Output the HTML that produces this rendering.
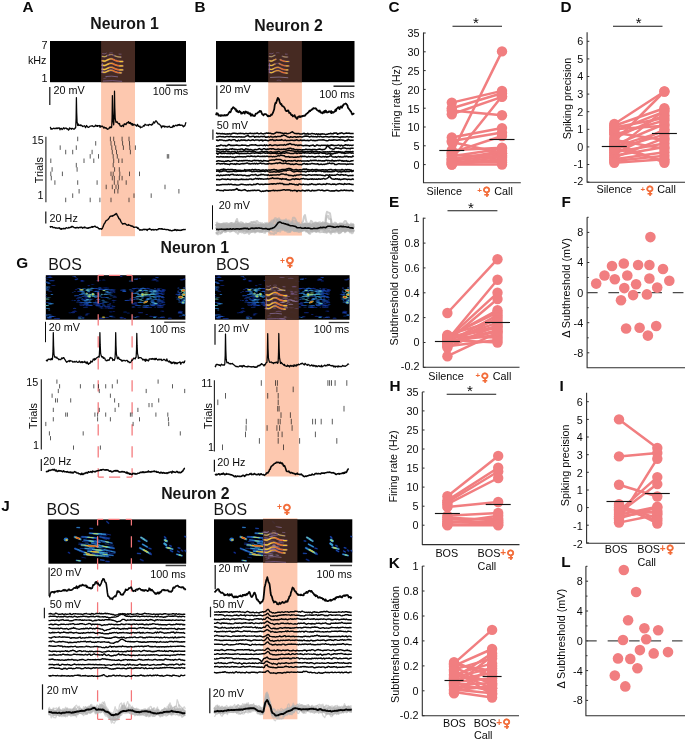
<!DOCTYPE html>
<html lang="en"><head><meta charset="utf-8"><title>Figure</title>
<style>html,body{margin:0;padding:0;background:#fff}svg{display:block}text{font-family:"Liberation Sans",Arial,Helvetica,sans-serif}text.fm{font-family:"DejaVu Sans","Liberation Sans",sans-serif}</style></head><body>
<svg width="685" height="739" viewBox="0 0 685 739">
<defs><filter id="b1" x="-10%" y="-10%" width="120%" height="120%"><feGaussianBlur stdDeviation="0.35"/></filter><filter id="b2" x="-5%" y="-5%" width="110%" height="110%"><feGaussianBlur stdDeviation="0.55"/></filter><filter id="b3" x="-5%" y="-5%" width="110%" height="110%"><feGaussianBlur stdDeviation="0.6"/></filter></defs>
<rect x="0" y="0" width="685" height="739" fill="#fff" />
<text x="22.6" y="11.7" font-size="15.3" font-weight="bold" text-anchor="start" fill="#0a0a0a" >A</text>
<text x="124.5" y="28.9" font-size="15.8" font-weight="bold" text-anchor="middle" fill="#161616" >Neuron 1</text>
<rect x="101.1" y="41" width="33.9" height="195.2" fill="#fdc8af" />
<rect x="50" y="41" width="136" height="41.2" fill="#000" />
<rect x="101.1" y="41" width="33.9" height="41.2" fill="#462a22" />
<g filter="url(#b1)" opacity="1.0">
<path d="M102.6,53.6 103.5,53.7 104.5,53.8 105.4,53.6 106.3,53.2" fill="none" stroke="#9a7cc0" stroke-width="0.7" stroke-linecap="round" opacity="0.75"/>
<path d="M119,54.1 120,54.2 121.1,54.2" fill="none" stroke="#9a7cc0" stroke-width="0.7" stroke-linecap="round" opacity="0.7"/>
<path d="M109.6,52.9 110.5,52.7 111.5,52.7 112.5,52.9" fill="none" stroke="#8a70b0" stroke-width="0.6" stroke-linecap="round" opacity="0.6"/>
<path d="M102.2,56.4 103.1,56.5 103.9,56.7 104.8,56.7 105.6,56.4 106.5,56 107.3,55.6 108.2,55.2 109.1,54.9 109.9,54.6 110.8,54.5 111.6,54.5 112.5,54.7 113.3,55.1 114.2,55.5 115.1,55.9 115.9,56.3 116.8,56.5 117.6,56.7 118.5,56.9 119.3,57 120.2,57.1 121.1,57.1" fill="none" stroke="#8a6cb0" stroke-width="1.6" stroke-linecap="round" opacity="0.55"/>
<path d="M102.6,56.5 103.6,56.6 104.7,56.7 105.7,56.4 106.7,55.9" fill="none" stroke="#e6c63c" stroke-width="1.0" stroke-linecap="round" opacity="0.95"/>
<path d="M109.2,54.8 110.3,54.6 111.4,54.5 112.5,54.7" fill="none" stroke="#d9a83a" stroke-width="0.8" stroke-linecap="round" opacity="0.8"/>
<path d="M114.9,55.9 115.9,56.2 116.8,56.5 117.8,56.8 118.7,56.9 119.7,57 120.7,57.1" fill="none" stroke="#e8c840" stroke-width="0.9" stroke-linecap="round" opacity="0.9"/>
<path d="M102.2,60.8 103.1,60.9 103.9,61.1 104.8,61.1 105.6,60.8 106.5,60.4 107.3,60 108.2,59.6 109,59.3 109.9,59 110.7,58.9 111.6,58.9 112.5,59.1 113.3,59.5 114.2,59.9 115,60.3 115.9,60.6 116.7,60.9 117.6,61.1 118.4,61.3 119.3,61.4 120.1,61.5 121,61.5 121.8,61.5 122.7,61.5" fill="none" stroke="#7a5aa8" stroke-width="2.2" stroke-linecap="round" opacity="0.55"/>
<path d="M102.2,60.8 103.1,60.9 103.9,61.1 104.8,61.1 105.6,60.8 106.5,60.4 107.3,60 108.2,59.6 109,59.3 109.9,59 110.7,58.9 111.6,58.9 112.5,59.1 113.3,59.5 114.2,59.9 115,60.3 115.9,60.6 116.7,60.9 117.6,61.1 118.4,61.3 119.3,61.4 120.1,61.5 121,61.5 121.8,61.5 122.7,61.5" fill="none" stroke="#eea22c" stroke-width="1.35" stroke-linecap="round" opacity="1.0"/>
<path d="M103,60.9 103.9,61.1 104.8,61.1 105.7,60.8 106.6,60.3 107.5,59.9 108.4,59.6" fill="none" stroke="#f6dc3e" stroke-width="0.9" stroke-linecap="round" opacity="1.0"/>
<path d="M112.9,59.3 113.7,59.7 114.6,60.1 115.5,60.5 116.4,60.8 117.3,61.1 118.1,61.2 119,61.4" fill="none" stroke="#e8502a" stroke-width="0.85" stroke-linecap="round" opacity="1.0"/>
<path d="M119.8,61.5 121.1,61.5 122.3,61.5" fill="none" stroke="#f4d43c" stroke-width="0.8" stroke-linecap="round" opacity="1.0"/>
<path d="M102.2,65.2 103.1,65.3 103.9,65.5 104.8,65.5 105.6,65.2 106.5,64.8 107.3,64.4 108.2,64 109,63.7 109.9,63.4 110.7,63.3 111.6,63.3 112.5,63.5 113.3,63.9 114.2,64.3 115,64.7 115.9,65 116.7,65.3 117.6,65.5 118.4,65.7 119.3,65.8 120.1,65.9 121,65.9 121.8,65.9 122.7,65.9" fill="none" stroke="#7a5aa8" stroke-width="2.2" stroke-linecap="round" opacity="0.55"/>
<path d="M102.2,65.2 103.1,65.3 103.9,65.5 104.8,65.5 105.6,65.2 106.5,64.8 107.3,64.4 108.2,64 109,63.7 109.9,63.4 110.7,63.3 111.6,63.3 112.5,63.5 113.3,63.9 114.2,64.3 115,64.7 115.9,65 116.7,65.3 117.6,65.5 118.4,65.7 119.3,65.8 120.1,65.9 121,65.9 121.8,65.9 122.7,65.9" fill="none" stroke="#eea22c" stroke-width="1.35" stroke-linecap="round" opacity="1.0"/>
<path d="M103,65.3 103.9,65.5 104.8,65.5 105.7,65.2 106.6,64.7 107.5,64.3 108.4,64" fill="none" stroke="#f6dc3e" stroke-width="0.9" stroke-linecap="round" opacity="1.0"/>
<path d="M112.9,63.7 113.7,64.1 114.6,64.5 115.5,64.9 116.4,65.2 117.3,65.5 118.1,65.6 119,65.8" fill="none" stroke="#e8502a" stroke-width="0.85" stroke-linecap="round" opacity="1.0"/>
<path d="M119.8,65.9 121.1,65.9 122.3,65.9" fill="none" stroke="#f4d43c" stroke-width="0.8" stroke-linecap="round" opacity="1.0"/>
<path d="M102.2,69.2 103.1,69.3 103.9,69.5 104.8,69.5 105.6,69.2 106.5,68.8 107.3,68.4 108.2,68 109,67.7 109.9,67.4 110.7,67.3 111.6,67.3 112.5,67.5 113.3,67.9 114.2,68.3 115,68.7 115.9,69 116.7,69.3 117.6,69.5 118.4,69.7 119.3,69.8 120.1,69.9 121,69.9 121.8,69.9 122.7,69.9" fill="none" stroke="#7a5aa8" stroke-width="2.2" stroke-linecap="round" opacity="0.55"/>
<path d="M102.2,69.2 103.1,69.3 103.9,69.5 104.8,69.5 105.6,69.2 106.5,68.8 107.3,68.4 108.2,68 109,67.7 109.9,67.4 110.7,67.3 111.6,67.3 112.5,67.5 113.3,67.9 114.2,68.3 115,68.7 115.9,69 116.7,69.3 117.6,69.5 118.4,69.7 119.3,69.8 120.1,69.9 121,69.9 121.8,69.9 122.7,69.9" fill="none" stroke="#eea22c" stroke-width="1.35" stroke-linecap="round" opacity="0.95"/>
<path d="M103,69.3 103.9,69.5 104.8,69.5 105.7,69.2 106.6,68.7 107.5,68.3 108.4,68" fill="none" stroke="#f6dc3e" stroke-width="0.9" stroke-linecap="round" opacity="0.95"/>
<path d="M112.9,67.7 113.7,68.1 114.6,68.5 115.5,68.9 116.4,69.2 117.3,69.5 118.1,69.6 119,69.8" fill="none" stroke="#e8502a" stroke-width="0.85" stroke-linecap="round" opacity="0.95"/>
<path d="M119.8,69.9 121.1,69.9 122.3,69.9" fill="none" stroke="#f4d43c" stroke-width="0.8" stroke-linecap="round" opacity="0.95"/>
<path d="M102.2,72.1 103.1,72.2 103.9,72.4 104.8,72.4 105.7,72.1 106.5,71.6 107.4,71.3 108.3,70.9 109.1,70.6 110,70.3 110.9,70.2 111.7,70.3 112.6,70.5 113.5,70.9 114.3,71.3 115.2,71.7 116.1,72 116.9,72.3 117.8,72.5 118.7,72.6 119.5,72.7 120.4,72.8 121.3,72.8" fill="none" stroke="#7a5aa8" stroke-width="2.2" stroke-linecap="round" opacity="0.55"/>
<path d="M102.2,72.1 103.1,72.2 103.9,72.4 104.8,72.4 105.7,72.1 106.5,71.6 107.4,71.3 108.3,70.9 109.1,70.6 110,70.3 110.9,70.2 111.7,70.3 112.6,70.5 113.5,70.9 114.3,71.3 115.2,71.7 116.1,72 116.9,72.3 117.8,72.5 118.7,72.6 119.5,72.7 120.4,72.8 121.3,72.8" fill="none" stroke="#eea22c" stroke-width="1.35" stroke-linecap="round" opacity="0.85"/>
<path d="M103,72.2 103.9,72.4 104.8,72.4 105.7,72.1 106.6,71.6 107.5,71.2 108.4,70.9" fill="none" stroke="#f6dc3e" stroke-width="0.9" stroke-linecap="round" opacity="0.85"/>
<path d="M112.9,70.6 113.7,71 114.6,71.4 115.5,71.8 116.4,72.1 117.3,72.4 118.1,72.5 119,72.7" fill="none" stroke="#e8502a" stroke-width="0.85" stroke-linecap="round" opacity="0.85"/>
<path d="M119.8,72.8 120.3,72.8 120.9,72.8" fill="none" stroke="#f4d43c" stroke-width="0.8" stroke-linecap="round" opacity="0.85"/>
<path d="M105.9,76.5Q111.7,75.6 117.6,76.8" fill="none" stroke="#a088c8" stroke-width="0.7" stroke-linecap="round" opacity="0.8"/>
<path d="M103.8,78.5 105.1,78.4 106.3,77.9" fill="none" stroke="#8468b0" stroke-width="0.6" stroke-linecap="round" opacity="0.6"/>
<path d="M103.4,81Q112.6,80.1 121.7,81.3" fill="none" stroke="#9276c0" stroke-width="0.8" stroke-linecap="round" opacity="0.7"/>
<path d="M102.4,63 L102.2,73" stroke="#8a72c0" stroke-width="1" opacity="0.65"/>
</g>
<text x="47.5" y="48.6" font-size="10.8" font-weight="normal" text-anchor="end" fill="#0a0a0a" >7</text>
<text x="46.5" y="63.5" font-size="10.8" font-weight="normal" text-anchor="end" fill="#0a0a0a" >kHz</text>
<text x="47.5" y="81.5" font-size="10.8" font-weight="normal" text-anchor="end" fill="#0a0a0a" >1</text>
<line x1="49.8" y1="87" x2="49.8" y2="105" stroke="#111" stroke-width="1.2" />
<text x="53.5" y="94.3" font-size="10.8" font-weight="normal" text-anchor="start" fill="#0a0a0a" >20 mV</text>
<text x="188.2" y="95.3" font-size="10.8" font-weight="normal" text-anchor="end" fill="#0a0a0a" >100 ms</text>
<line x1="166.2" y1="85.2" x2="186.5" y2="85.2" stroke="#222" stroke-width="1.4" />
<path d="M50,127.7l.5-.3 .5,1.9 .5-.6 .5,.2 .5,.1 .5-.5 .5-.3 .5,.1 .5,.4 .5-.3 .5,.3 .5-.6 .5,.5 .5-.6 .5,.6 .5-.6 .5-.1 .5,.5 .5-.5 .5,2 .5-1.4 .5,.1 .5-.3 .5,1.3 .5-.4 .5-.4 .5-1.1 .5,.3 .5,.8 .5-.5 .5-.2 .5-.1 .5,.5 .5,.5 .5-.3 .5,.5 .5,.9 .5-.6 .5-1.6 .5,.9 .5-.4 .5,0 .5,.9 .5-1 .5,.1 .5,.4 .5,0 .5,.5 .5-.3 .5-1.1 .5,.2 .2-.8 .4-8.9 .3-20.8 .3,14.8 .4,9.8 .6,3.3 .3-.4 .5-1.1 .5,1.5 .5-.1 .5,.1 .5-.7 .5,1 .5-.6 .5,.3 .5,.9 .5,.2 .5-.5 .5-.1 .5-.3 .5,.9 .5,1.1 .5-.8 .5-1.4 .5,.6 .5,.6 .5,.6 .5,.1 .5-.5 .5-.1 .5-.7 .5,0 .5,0 .5-.3 .5,.2 .5-.3 .5,.5 .5,.5 .5-.1 .5-.2 .5-.3 .5-1 .5,.7 .5,.3 .5-.7 .5,1 .5-.8 .5,.2 .5,0 .5-.3 .5,1.9 .5-1.6 .5,1 .5-.6 .5,.3 .5-.4 .5,.6 .5,1.1 .5,.4 .5-1.1 .5,.5 .5,.6 .5-.6 .5,1.1 .5-.1 .5,.7 .5-.3 .5-.1 .5-.4 .5-1.4 .5,.8 .5-1.1 .5,.6 .5,.2 .2-.9 .4-9.4 .3-21.7 .3,15.5 .4,10.3 .6,3.4 .1-1.1 .4-9.8 .3-22.7 .3,16.2 .4,10.7 .6,3.6 .2,.6 .5-.2 .5-.5 .5,.8 .5,.9 .5,.3 .5,.4 .5-.6 .5,2.2 .5,.3 .5,.4 .5,.2 .5-1 .5-.3 .5,.6 .5,.8 .5-2.4 .5,.2 .5-.7 .5,.7 .5,.3 .5-1.2 .5-.9 .5,.3 .5-.4 .5-.9 .5,1.7 .5-.8 .5,.8 .5-.8 .5,1.7 .5-.7 .5,1.6 .5-1.4 .5,1.6 .5-.7 .5-.4 .5,.5 .5,.4 .5-.2 .5,.6 .5,.6 .5-.3 .5-1.5 .5,1.3 .5,.7 .5-.1 .5,.7 .5-.8 .5,1.7 .5-.5 .5-.2 .5,0 .5-.1 .5-.7 .5-.8 .5,.7 .5-.4 .5-1.7 .5,.5 .5,.4 .5,.1 .5-.1 .5,.2 .5-.3 .5,.6 .5-1.1 .5,0 .5,.2 .5,.1 .5,.2 .5,.3 .5-1.1 .5,.4 .5-.9 .5-1.8 .5,.1 .5,1.2 .5-.9 .5-.7 .5-.9 .5,1.3 .5,0 .5,.6 .5,1.4 .5,0 .5,.3 .5-.1 .5,.7 .5,.9 .5,.2 .5,2 .5-1.6 .5-.4 .5,.8 .5-.4 .5-.5 .5,1.3 .5-.4 .5-.4 .5,.7 .5,0 .5-.7 .5,.9 .5,0 .5-.7 .5-.3 .5,0 .5,1 .5,.3 .5-.2 .5,.1 .5,.1 .5-1.3 .5,.7 .5-1.5 .5,1.2 .5-.3 .5-.6 .5-.3 .5-.2 .5,.3 .5,.4 .5-1 .5,.4 .5-.7 .5,.6 .5-.9 .5,1.1 .5-.3 .5,.3 .5-.3 .5,0 .5,.4 .5,.9 .5,.4 .5-1.1 .5,.5 .5-.8 .5-1.8 .5-1.4" fill="none" stroke="#050505" stroke-width="1.25" stroke-linejoin="round" />
<line x1="45.9" y1="136.8" x2="45.9" y2="202.2" stroke="#222" stroke-width="1.1" />
<text x="43.8" y="144.3" font-size="10.8" font-weight="normal" text-anchor="end" fill="#0a0a0a" >15</text>
<text x="43.6" y="199.3" font-size="10.8" font-weight="normal" text-anchor="end" fill="#0a0a0a" >1</text>
<text transform="translate(43.2,170.2) rotate(-90)" font-size="10.8" text-anchor="middle" fill="#0a0a0a">Trials</text>
<path d="M77.7,136.7v4.5M110.4,136.7v4.5M113.7,136.7v4.5M122.1,136.7v4.5M129,136.7v4.5M95.7,141.1v4.5M111,141.1v4.5M114.6,141.1v4.5M122.6,141.1v4.5M129.5,141.1v4.5M60.2,145.4v4.5M76.3,145.4v4.5M111.8,145.4v4.5M115.7,145.4v4.5M123.4,145.4v4.5M129.8,145.4v4.5M135.4,145.4v4.5M65.7,149.8v4.5M72.7,149.8v4.5M92.1,149.8v4.5M112.3,149.8v4.5M116.5,149.8v4.5M130.4,149.8v4.5M90.2,154.1v4.5M98.5,154.1v4.5M113.2,154.1v4.5M117.3,154.1v4.5M167.3,154.1v4.5M168.7,154.1v4.5M50.8,158.5v4.5M84,158.5v4.5M93.8,158.5v4.5M113.7,158.5v4.5M118.7,158.5v4.5M122.1,158.5v4.5M76.3,162.9v4.5M113.2,162.9v4.5M52.1,167.2v4.5M77.1,167.2v4.5M114.6,167.2v4.5M119.3,167.2v4.5M50.8,171.6v4.5M62.4,171.6v4.5M111,171.6v4.5M113.2,171.6v4.5M119.8,171.6v4.5M129.5,171.6v4.5M139.5,171.6v4.5M51.3,175.9v4.5M112.3,175.9v4.5M114.3,175.9v4.5M119.3,175.9v4.5M122.1,175.9v4.5M54.9,180.3v4.5M77.7,180.3v4.5M97.1,180.3v4.5M114.3,180.3v4.5M117.9,180.3v4.5M126.2,180.3v4.5M106.2,184.7v4.5M112.3,184.7v4.5M116,184.7v4.5M118.4,184.7v4.5M165,184.7v4.5M79.1,189v4.5M114.6,189v4.5M117.9,189v4.5M178.9,189v4.5M72.7,193.4v4.5M134,193.4v4.5M151.2,193.4v4.5M65.7,197.7v4.5M90.2,197.7v4.5M99.9,197.7v4.5M111,197.7v4.5M129,197.7v4.5" stroke="#151515" stroke-width="0.7" fill="none"/>
<line x1="45.8" y1="211.5" x2="45.8" y2="223.5" stroke="#111" stroke-width="1.2" />
<text x="49.6" y="221.5" font-size="10.8" font-weight="normal" text-anchor="start" fill="#0a0a0a" >20 Hz</text>
<path d="M50,226.1l.6,1.1 .6-.5 .6-.1 .6,0 .6,.9 .6,.1 .6,0 .6-.2 .6,.7 .6-.2 .6,.1 .6,.2 .6-.1 .6-.1 .6,.2 .6-.4 .6,1.2 .6-.2 .6,.4 .6-.7 .6,.4 .6,0 .6-.6 .6,.2 .6,.4 .6-.6 .6-.7 .6,.3 .6,.2 .6,0 .6-.7 .6,.5 .6-.2 .6-.5 .6,.1 .6-.9 .6,.4 .6-.4 .6,.6 .6,.5 .6,.1 .6,.4 .6-.3 .6,.2 .6-.5 .6,.1 .6,.5 .6-.3 .6-.2 .6-.2 .6,.3 .6-.4 .6,0 .6,1 .6-.4 .6-.3 .6,.2 .6-.6 .6,.5 .6,.3 .6,0 .6,.4 .6-.3 .6,.2 .6-.6 .6,.1 .6-.4 .6,.2 .6-.4 .6-.5 .6,.6 .6-.6 .6,.1 .6-.2 .6-.4 .6,.7 .6,.5 .6,0 .6-.2 .6,.8 .6,.5 .6,.7 .6-.4 .6,.1 .6,0 .6,.4 .6-.6 .6-1.3 .6-1.4 .6-1.8 .6-.6 .6-1.2 .6-1.1 .6-.9 .6-.2 .6-.3 .6-.5 .6-.9 .6-.8 .6-1.1 .6-.4 .6,.1 .6-.2 .6,.2 .6-.7 .6,0 .6-.3 .6-.8 .6,.1 .6-1 .6,.3 .6,1.5 .6,.9 .6,1.2 .6,1.4 .6,.1 .6,1 .6,1.4 .6,1 .6,.9 .6,.8 .6-.3 .6,.1 .6-.1 .6-.3 .6,.6 .6,.4 .6,.6 .6,.1 .6,.3 .6-.8 .6,.6 .6,.2 .6,.1 .6,.6 .6-.2 .6,.5 .6-.1 .6,.7 .6,.3 .6,0 .6-.2 .6,0 .6,.2 .6-.1 .6,1.2 .6-.5 .6,1 .6,.7 .6,.7 .6-.5 .6,0 .6,.3 .6,0 .6-.6 .6-.2 .6,.5 .6-.5 .6,.1 .6,.3 .6-.2 .6,.9 .6-.9 .6-.3 .6,.1 .6-.7 .6,.6 .6,.2 .6,.6 .6-.3 .6,0 .6-.3 .6,.6 .6-.1 .6-.4 .6,.1 .6,.1 .6,.3 .6-.5 .6,.1 .6-.8 .6-.1 .6,.1 .6,.2 .6-.4 .6,.5 .6-.4 .6,.6 .6,.1 .6-.1 .6-.1 .6,.2 .6,.2 .6,.1 .6-.2 .6,.1 .6,.1 .6,.4 .6,.4 .6-.5 .6,.6 .6,0 .6,.3 .6-.5 .6,.1 .6-.4 .6,.1 .6-.7 .6,.6 .6-.5 .6,1 .6-.3 .6-.5 .6,.6 .6-.1 .6-.1 .6,.3 .6-.4 .6,.3 .6-.5 .6-.2 .6,0 .6-.2 .6,.1 .6,0 .6-.5" fill="none" stroke="#050505" stroke-width="1.4" stroke-linejoin="round" />
<text x="194.5" y="11.7" font-size="15.3" font-weight="bold" text-anchor="start" fill="#0a0a0a" >B</text>
<text x="288.5" y="31" font-size="15.8" font-weight="bold" text-anchor="middle" fill="#161616" >Neuron 2</text>
<rect x="268.2" y="41" width="33.7" height="194.6" fill="#fdc8af" />
<rect x="216" y="41" width="138.5" height="41.2" fill="#000" />
<rect x="268.2" y="41" width="33.7" height="41.2" fill="#462a22" />
<g filter="url(#b1)" opacity="1.0">
<path d="M269.7,53.6 270.6,53.7 271.4,53.8 272.3,53.6 273.2,53.2" fill="none" stroke="#9a7cc0" stroke-width="0.7" stroke-linecap="round" opacity="0.75"/>
<path d="M285.3,54.1 286.3,54.2 287.2,54.2" fill="none" stroke="#9a7cc0" stroke-width="0.7" stroke-linecap="round" opacity="0.7"/>
<path d="M276.3,52.9 277.2,52.7 278.1,52.7 279.1,52.9" fill="none" stroke="#8a70b0" stroke-width="0.6" stroke-linecap="round" opacity="0.6"/>
<path d="M269.3,56.4 270.1,56.5 271,56.7 271.8,56.6 272.6,56.3 273.5,55.9 274.3,55.5 275.2,55.2" fill="none" stroke="#8a6cb0" stroke-width="1.5" stroke-linecap="round" opacity="0.5"/>
<path d="M282.2,56.2 283.1,56.5 284.1,56.7 285,56.9 285.9,57 286.9,57.1 287.8,57.1" fill="none" stroke="#8a6cb0" stroke-width="1.5" stroke-linecap="round" opacity="0.5"/>
<path d="M269.7,56.5 270.6,56.6 271.6,56.7 272.5,56.4 273.4,55.9 274.4,55.5" fill="none" stroke="#d8c050" stroke-width="0.9" stroke-linecap="round" opacity="0.85"/>
<path d="M282.9,56.5 283.8,56.7 284.7,56.9 285.5,57 286.4,57.1 287.2,57.1" fill="none" stroke="#e0c048" stroke-width="0.8" stroke-linecap="round" opacity="0.8"/>
<path d="M269.3,60.8 270.1,60.9 271,61.1 271.8,61.1 272.6,60.8 273.4,60.3 274.3,59.9 275.1,59.6 275.9,59.2" fill="none" stroke="#7a5aa8" stroke-width="2.0" stroke-linecap="round" opacity="0.5"/>
<path d="M269.3,60.8 270.1,60.9 271,61.1 271.8,61.1 272.6,60.8 273.4,60.3 274.3,59.9 275.1,59.6 275.9,59.2" fill="none" stroke="#e89a30" stroke-width="1.15" stroke-linecap="round" opacity="0.85"/>
<path d="M280.2,59.7 281.1,60.1 281.9,60.5 282.8,60.8 283.7,61.1 284.5,61.2 285.4,61.4 286.2,61.5 287.1,61.5 287.9,61.5 288.8,61.5" fill="none" stroke="#7a5aa8" stroke-width="2.0" stroke-linecap="round" opacity="0.5"/>
<path d="M280.2,59.7 281.1,60.1 281.9,60.5 282.8,60.8 283.7,61.1 284.5,61.2 285.4,61.4 286.2,61.5 287.1,61.5 287.9,61.5 288.8,61.5" fill="none" stroke="#e89a30" stroke-width="1.15" stroke-linecap="round" opacity="0.85"/>
<path d="M270.3,61 271.2,61.1 272.1,61 273.1,60.5 274,60.1" fill="none" stroke="#f4da40" stroke-width="0.8" stroke-linecap="round" opacity="0.85"/>
<path d="M281,60.1 281.9,60.5 282.7,60.8 283.6,61 284.4,61.2 285.3,61.4" fill="none" stroke="#e8502a" stroke-width="0.8" stroke-linecap="round" opacity="0.85"/>
<path d="M286.1,61.5 286.9,61.5 287.8,61.5" fill="none" stroke="#f0cc3c" stroke-width="0.7" stroke-linecap="round" opacity="0.85"/>
<path d="M269.3,65.2 270.1,65.3 271,65.5 271.8,65.4 272.6,65.1 273.5,64.7 274.3,64.3 275.2,64" fill="none" stroke="#7a5aa8" stroke-width="2.0" stroke-linecap="round" opacity="0.5"/>
<path d="M269.3,65.2 270.1,65.3 271,65.5 271.8,65.4 272.6,65.1 273.5,64.7 274.3,64.3 275.2,64" fill="none" stroke="#e89a30" stroke-width="1.15" stroke-linecap="round" opacity="0.85"/>
<path d="M279.1,63.5 279.9,63.9 280.7,64.3 281.5,64.7 282.3,65 283.1,65.3 283.9,65.5 284.7,65.7 285.6,65.8 286.4,65.9 287.2,65.9 288,65.9 288.8,65.9" fill="none" stroke="#7a5aa8" stroke-width="2.0" stroke-linecap="round" opacity="0.5"/>
<path d="M279.1,63.5 279.9,63.9 280.7,64.3 281.5,64.7 282.3,65 283.1,65.3 283.9,65.5 284.7,65.7 285.6,65.8 286.4,65.9 287.2,65.9 288,65.9 288.8,65.9" fill="none" stroke="#e89a30" stroke-width="1.15" stroke-linecap="round" opacity="0.85"/>
<path d="M270.3,65.4 271.2,65.5 272.1,65.4 273.1,64.9 274,64.5" fill="none" stroke="#f4da40" stroke-width="0.8" stroke-linecap="round" opacity="0.85"/>
<path d="M281,64.5 281.9,64.9 282.7,65.2 283.6,65.4 284.4,65.6 285.3,65.8" fill="none" stroke="#e8502a" stroke-width="0.8" stroke-linecap="round" opacity="0.85"/>
<path d="M286.1,65.9 286.9,65.9 287.8,65.9" fill="none" stroke="#f0cc3c" stroke-width="0.7" stroke-linecap="round" opacity="0.85"/>
<path d="M269.3,69.2 270.1,69.3 271,69.5 271.8,69.4 272.7,69.1 273.5,68.7 274.4,68.3 275.2,67.9 276,67.6 276.9,67.4 277.7,67.3 278.6,67.4 279.4,67.7 280.2,68.1 281.1,68.5 281.9,68.9 282.8,69.2 283.6,69.5 284.5,69.6 285.3,69.8 286.1,69.9 287,69.9 287.8,69.9" fill="none" stroke="#7a5aa8" stroke-width="2.0" stroke-linecap="round" opacity="0.5"/>
<path d="M269.3,69.2 270.1,69.3 271,69.5 271.8,69.4 272.7,69.1 273.5,68.7 274.4,68.3 275.2,67.9 276,67.6 276.9,67.4 277.7,67.3 278.6,67.4 279.4,67.7 280.2,68.1 281.1,68.5 281.9,68.9 282.8,69.2 283.6,69.5 284.5,69.6 285.3,69.8 286.1,69.9 287,69.9 287.8,69.9" fill="none" stroke="#e89a30" stroke-width="1.15" stroke-linecap="round" opacity="0.9"/>
<path d="M270.3,69.4 271.2,69.5 272.1,69.4 273.1,68.9 274,68.5" fill="none" stroke="#f4da40" stroke-width="0.8" stroke-linecap="round" opacity="0.9"/>
<path d="M281,68.5 281.9,68.9 282.7,69.2 283.6,69.4 284.4,69.6 285.3,69.8" fill="none" stroke="#e8502a" stroke-width="0.8" stroke-linecap="round" opacity="0.9"/>
<path d="M286.1,69.9 286.9,69.9 287.8,69.9" fill="none" stroke="#f0cc3c" stroke-width="0.7" stroke-linecap="round" opacity="0.9"/>
<path d="M269.9,72.5 270.7,72.6 271.6,72.7 272.4,72.4 273.3,72 274.1,71.6 275,71.2 275.8,70.9 276.7,70.6 277.5,70.5 278.4,70.6 279.2,70.8 280.1,71.2 280.9,71.6 281.8,72 282.6,72.4 283.5,72.6 284.3,72.8 285.2,72.9 286,73 286.9,73.1" fill="none" stroke="#7a5aa8" stroke-width="2.0" stroke-linecap="round" opacity="0.5"/>
<path d="M269.9,72.5 270.7,72.6 271.6,72.7 272.4,72.4 273.3,72 274.1,71.6 275,71.2 275.8,70.9 276.7,70.6 277.5,70.5 278.4,70.6 279.2,70.8 280.1,71.2 280.9,71.6 281.8,72 282.6,72.4 283.5,72.6 284.3,72.8 285.2,72.9 286,73 286.9,73.1" fill="none" stroke="#e89a30" stroke-width="1.15" stroke-linecap="round" opacity="0.9"/>
<path d="M270.3,72.6 271.2,72.7 272.1,72.6 273.1,72.1 274,71.7" fill="none" stroke="#f4da40" stroke-width="0.8" stroke-linecap="round" opacity="0.9"/>
<path d="M281,71.7 281.9,72.1 282.7,72.4 283.6,72.6 284.4,72.8 285.3,73" fill="none" stroke="#e8502a" stroke-width="0.8" stroke-linecap="round" opacity="0.9"/>
<path d="M286.1,73.1 286.9,73.1 287.8,73.1" fill="none" stroke="#f0cc3c" stroke-width="0.7" stroke-linecap="round" opacity="0.9"/>
<path d="M276.3,63.5 277.3,63.3 278.3,63.3" fill="none" stroke="#8a70b0" stroke-width="0.7" stroke-linecap="round" opacity="0.6"/>
<path d="M270.5,77.4Q279.1,76.5 287.8,77.7" fill="none" stroke="#b0a0c8" stroke-width="0.7" stroke-linecap="round" opacity="0.8"/>
<path d="M277.1,80.3Q279.1,79.4 281,80.6" fill="none" stroke="#8468b0" stroke-width="0.6" stroke-linecap="round" opacity="0.6"/>
<path d="M269.5,63 L269.3,73" stroke="#8a72c0" stroke-width="1" opacity="0.65"/>
</g>
<line x1="216.8" y1="85.4" x2="216.8" y2="109.2" stroke="#111" stroke-width="1.2" />
<text x="219.6" y="93.2" font-size="10.8" font-weight="normal" text-anchor="start" fill="#0a0a0a" >20 mV</text>
<text x="354.6" y="97.6" font-size="10.8" font-weight="normal" text-anchor="end" fill="#0a0a0a" >100 ms</text>
<line x1="333.5" y1="86.2" x2="354.5" y2="86.2" stroke="#222" stroke-width="1.5" />
<path d="M216,115.3l.6-2.2 .6,.8 .6-.4 .6,2.1 .6-.2 .6,.3 .6-.6 .6,1 .6-.7 .6-.2 .6,.4 .6,.1 .6-.3 .6-.4 .6,.6 .6-.2 .6-.4 .6,.4 .6-.4 .6-.6 .6-1.1 .6-.9 .6-.8 .6,.7 .6-1.3 .6-2.2 .6,.1 .6-1.3 .6-.4 .6,.8 .6,0 .6,1.5 .6-.4 .6,2.2 .6-.8 .6,.9 .6,.9 .6-.4 .6-.9 .6,1.1 .6-.2 .6,1.8 .6-.7 .6,.4 .6-.7 .6-.9 .6,1.1 .6,.7 .6-2.1 .6,.1 .6,.6 .6,.8 .6-.9 .6,1.4 .6-.4 .6,.9 .6-.7 .6,2.4 .6-.1 .6-1.4 .6,1.2 .6,.4 .6-.3 .6,.5 .6-.2 .6-1.9 .6-.3 .6,.1 .6-.7 .6-.6 .6-.1 .6-.6 .6-.9 .6,.9 .6-.6 .6,1.6 .6,1.6 .6,.1 .6,1 .6-.9 .6-.5 .6,0 .6,.2 .6,.4 .6,.6 .6,.9 .6,.2 .6-.6 .6,.5 .6,0 .6-.5 .6-1.2 .6,.4 .6-1 .6-1.2 .6-1.7 .6-1.7 .6-4.4 .6-1.9 .6,.2 .6-1.8 .6-1.8 .6-1.7 .6,.5 .6,.9 .6,2.4 .6,1.7 .6,1 .6-.4 .6,1.8 .6,.2 .6,.4 .6,.5 .6,.6 .6,1.3 .6,1.7 .6,.4 .6,.3 .6-.3 .6-.6 .6,.8 .6,1.9 .6-.1 .6,.2 .6,1.5 .6,.6 .6-.2 .6,1.4 .6-.4 .6-.3 .6-.6 .6,2 .6-.1 .6,1.3 .6,.6 .6-.8 .6-1.6 .6,0 .6-.3 .6,1 .6-.9 .6-.1 .6,.5 .6-.8 .6,.3 .6-.2 .6-.5 .6,.3 .6-.5 .6-1.1 .6-.4 .6-.3 .6-.9 .6,0 .6-1.1 .6-.9 .6,.5 .6-1 .6,0 .6-1 .6,.2 .6-1.2 .6,.1 .6,.2 .6,.1 .6-.3 .6,.6 .6,1 .6,.5 .6,.3 .6,.3 .6,.7 .6-1.1 .6,1.8 .6,.4 .6-.3 .6,1 .6-.7 .6-1.1 .6,1.2 .6-2 .6,1.5 .6-1.8 .6,1 .6,1 .6-.2 .6-.2 .6-.8 .6,.2 .6-.2 .6,1.2 .6-1.4 .6,2.1 .6-1.2 .6,.3 .6,.3 .6-.9 .6-.1 .6-1.9 .6,1.3 .6-2.1 .6-.6 .6-.7 .6-.5 .6,1.3 .6,.7 .6-2.2 .6-.4 .6,1.1 .6,.1 .6-2.4 .6,.4 .6-1.4 .6-.3 .6-.2 .6-.3 .6,.3 .6,.9 .6,.6 .6,2.5 .6,.6 .6,1 .6,.6 .6,1 .6,.4 .6,1.8 .6,1.3 .6-.6 .6,.1 .6-1" fill="none" stroke="#050505" stroke-width="1.75" stroke-linejoin="round" />
<text x="216.7" y="128.6" font-size="10.8" font-weight="normal" text-anchor="start" fill="#0a0a0a" >50 mV</text>
<line x1="212.9" y1="129.5" x2="212.9" y2="139.7" stroke="#222" stroke-width="1.2" />
<path d="M216,133l.9,.3 .9,.4 .9-.2 .9-.1 .9,.3 .9,0 .9-.2 .9,.4 .9-.3 .9,.6 .9-.3 .9,.2 .9-.3 .9,.2 .9-.4 .9,.5 .9,0 .9-.7 .9-.2 .9,0 .9,0 .9,.2 .9,.1 .9,.4 .9-.4 .9-.1 .9-.2 .9,.4 .9,0 .9-.2 .9,.6 .9-.3 .9-.3 .9,.1 .9,.3 .9,0 .9-.4 .9-.3 .9,.5 .9-.2 .9,0 .9,.4 .9-.5 .9,.3 .9-.4 .9-.2 .9,.7 .9,0 .9-.2 .9-.4 .9,.6 .9,.1 .9,.1 .9-.4 .9,.1 .9-.7 .9,.3 .9-.1 .9,.2 .9,0 .9,0 .9,.5 .9,0 .9,.1 .9-.4 .9-.5 .9-.8 .9,.2 .9-.1 .9,.5 .9-.4 .9,.5 .9,.2 .9,.2 .9,.3 .9-.3 .9,0 .9,0 .9,.4 .9-.1 .9-.2 .9-.3 .9-.5 .9-.5 .9-.4 .9,1 .9,.5 .9,.2 .9,.1 .9,.3 .9-.4 .9,.1 .9,.4 .9,.2 .9-.1 .9-.1 .9-.5 .9-.2 .9,.9 .9-.4 .9,.4 .9-.7 .9,.8 .9-.3 .9,.1 .9-.4 .9-.1 .9,.3 .9-.1 .9,.3 .9,.2 .9-.5 .9,.9 .9-.8 .9,.5 .9-.3 .9,.2 .9-.5 .9,.4 .9-.2 .9,.3 .9,.2 .9-.2 .9,0 .9-.4 .9,0 .9-.5 .9,.4 .9-.1 .9,.3 .9-.9 .9,.3 .9-.3 .9,0 .9,1.2 .9-.4 .9-.5 .9,.2 .9-.7 .9,.3 .9,.2 .9,.5 .9-.2 .9-.3 .9-.2 .9,.2 .9,0 .9-.2 .9,.4 .9,0 .9,0 .9,0 .9-.1" fill="none" stroke="#050505" stroke-width="1.5" stroke-linejoin="round" />
<path d="M216,136.9l.9,.2 .9,0 .9-.6 .9,0 .9,.1 .9,.2 .9,0 .9-.2 .9,.4 .9,0 .9-.3 .9-.3 .9,.1 .9,.3 .9,0 .9-.6 .9,.4 .9,.2 .9,.2 .9-.2 .9,0 .9,.1 .9-.1 .9,.1 .9-.1 .9,0 .9,.1 .9-.1 .9,.3 .9,0 .9-.2 .9,.1 .9-.8 .9-.2 .9-.4 .9,.2 .9,1 .9,0 .9-.1 .9-.3 .9-.1 .9-.1 .9,1 .9-.4 .9-.2 .9,.2 .9-.3 .9,.5 .9-.2 .9-.4 .9,.2 .9,.2 .9-.4 .9-.1 .9,.9 .9-.2 .9,.2 .9-.6 .9,.6 .9-.3 .9-.6 .9,.7 .9,0 .9,.1 .9-.3 .9-.3 .9,.5 .9-.4 .9-.1 .9,.1 .9-.2 .9,.2 .9-1 .9,.1 .9-.8 .9,.3 .9,.4 .9,.4 .9,.7 .9,.2 .9,.3 .9,.2 .9-.7 .9,.4 .9,.1 .9-.2 .9-.2 .9-.1 .9,.6 .9-.3 .9-.3 .9,.2 .9-.3 .9,.1 .9,.2 .9,.1 .9-.4 .9-.2 .9-.4 .9,.3 .9-.2 .9,.1 .9,.3 .9,.6 .9-.5 .9-.4 .9,.5 .9-.2 .9,.3 .9-.1 .9-.1 .9,.4 .9-.4 .9-.2 .9,.4 .9-.6 .9,.4 .9,.4 .9,0 .9-.3 .9,0 .9-.3 .9,.3 .9,.1 .9,.3 .9-.1 .9-.3 .9-.3 .9,.3 .9-.1 .9,.6 .9-.5 .9,.1 .9,0 .9,0 .9,.2 .9,.2 .9,.5 .9-.9 .9,.1 .9-.2 .9,.2 .9,.1 .9,.1 .9-.3 .9-.2 .9,.3 .9,.1 .9-.2 .9,0 .9,.4 .9-.2 .9-.3" fill="none" stroke="#050505" stroke-width="1.5" stroke-linejoin="round" />
<path d="M216,140.4l.9-.4 .9,.5 .9-.1 .9-.6 .9,.2 .9,0 .9,.1 .9,.3 .9,0 .9,.2 .9,.1 .9-.3 .9,.1 .9-.5 .9-.2 .9,.4 .9,.4 .9-.7 .9-.1 .9,0 .9,0 .9,1 .9-.1 .9,.3 .9-1 .9,.7 .9-.2 .9-.8 .9,.8 .9-.6 .9,.4 .9-.3 .9,.5 .9,0 .9-.1 .9-.6 .9,.5 .9,.1 .9,0 .9-.4 .9-.2 .9,.4 .9,.2 .9-.5 .9,0 .9,0 .9,.1 .9,.8 .9-.8 .9,.4 .9-.6 .9,1.2 .9-.7 .9,0 .9-.3 .9,.3 .9,.2 .9,.3 .9-.5 .9-.3 .9-.2 .9,.1 .9-.4 .9,1.1 .9-.4 .9,.4 .9-.8 .9,.5 .9-.2 .9,.3 .9-.4 .9,.3 .9-.7 .9,.5 .9,.4 .9-.1 .9-.4 .9,.7 .9-.1 .9-.1 .9,0 .9,0 .9-.3 .9,.1 .9,0 .9,.3 .9-.3 .9,.1 .9-.4 .9-.2 .9,.6 .9,.1 .9-.1 .9-.4 .9,.5 .9-.2 .9,.1 .9-.4 .9,.6 .9-.2 .9,.1 .9-.2 .9,.4 .9-.2 .9-.4 .9,0 .9,.3 .9,.1 .9-.2 .9,.5 .9-.3 .9,.1 .9-.4 .9-.1 .9-.1 .9-.1 .9,0 .9,.1 .9-.2 .9,.1 .9,.3 .9,.2 .9,.4 .9,0 .9-.5 .9-.4 .9,.4 .9,0 .9-.2 .9,.1 .9-.4 .9,.3 .9-.1 .9,.3 .9-.1 .9-.2 .9-.2 .9,.3 .9,0 .9,0 .9,.1 .9,0 .9,.8 .9-.2 .9-.5 .9,.2 .9-1.3 .9,.8 .9,.4 .9-.2 .9,.1 .9,0 .9,0" fill="none" stroke="#050505" stroke-width="1.5" stroke-linejoin="round" />
<path d="M216,145.8l.9,.4 .9-.2 .9-.2 .9,0 .9-.7 .9,0 .9,.3 .9,.3 .9-.3 .9,.1 .9,.5 .9-.3 .9-.4 .9-.7 .9,.1 .9,.7 .9-.1 .9,.2 .9-.2 .9,.2 .9-.2 .9,0 .9-.3 .9,.2 .9,.4 .9-.1 .9-.1 .9-.1 .9-.3 .9,.2 .9,0 .9,.1 .9-.1 .9,.5 .9,0 .9,.1 .9-.2 .9-.7 .9,.1 .9-.2 .9,.1 .9,.2 .9-.2 .9-.2 .9,.6 .9,.1 .9,0 .9,0 .9-.2 .9,0 .9,.1 .9,.1 .9,0 .9-.6 .9,.9 .9-.7 .9,.4 .9,0 .9-.1 .9-.6 .9,.3 .9,.6 .9-.2 .9-.1 .9-.4 .9,.2 .9-.1 .9,.6 .9-.4 .9,0 .9-.2 .9-.1 .9,.1 .9,.1 .9,.1 .9-.6 .9,.6 .9-.3 .9-.6 .9,.2 .9-.5 .9-.4 .9,.2 .9,.8 .9-.1 .9-.1 .9,.1 .9,.7 .9-.1 .9,0 .9,.6 .9-.7 .9,.4 .9-.5 .9,.3 .9,.3 .9,.2 .9-.1 .9-.1 .9-.3 .9,.4 .9,0 .9,.1 .9,.5 .9-.7 .9,0 .9-.2 .9-.2 .9,.7 .9,.4 .9-.6 .9-.7 .9,.2 .9,.5 .9,0 .9,.2 .9-.6 .9,.1 .9,.1 .9-.3 .9,.3 .9-.1 .9,.1 .9-.2 .9,.2 .9,.1 .9,.3 .9-1 .9,.6 .9-.4 .9,.7 .9-.1 .9-.1 .9-.1 .9-.2 .9-.3 .9,.3 .9,.8 .9-.9 .9,.3 .9,.7 .9-.6 .9-.2 .9-.6 .9,.2 .9,.5 .9-.5 .9,.6 .9-.2 .9,0 .9,.1 .9-.2 .9-.1" fill="none" stroke="#050505" stroke-width="1.5" stroke-linejoin="round" />
<path d="M216,149.3l.9-.4 .9,.3 .9-.1 .9,.7 .9,0 .9-.2 .9-.2 .9,.2 .9-.1 .9-.4 .9,.1 .9,.3 .9,.1 .9,.2 .9-.5 .9-.4 .9,.4 .9-.7 .9,.4 .9,.2 .9,.1 .9,.3 .9-.1 .9,.4 .9-.5 .9,.2 .9-.4 .9-.3 .9,.1 .9,.5 .9,.3 .9,0 .9-1 .9,.1 .9,.4 .9,0 .9,.5 .9-.2 .9,0 .9,.3 .9,.3 .9-.1 .9-.5 .9,0 .9,.1 .9-.1 .9-.4 .9-.6 .9,.4 .9,.6 .9-.2 .9-.2 .9-.5 .9,.1 .9,.4 .9,.3 .9-.5 .9,.5 .9-.6 .9-.2 .9,0 .9,.5 .9-.5 .9,.1 .9,.5 .9,.3 .9-.2 .9,0 .9-.5 .9,.3 .9,.3 .9,0 .9-.2 .9,.1 .9-.3 .9,.1 .9,0 .9,.1 .9-.4 .9-.4 .9,.2 .9-.4 .9-.1 .9,.6 .9,.2 .9-.2 .9,.6 .9,.2 .9,.1 .9-.3 .9,.8 .9-.6 .9,.2 .9,0 .9,.1 .9-.1 .9,0 .9-.1 .9-.2 .9-.4 .9,.3 .9,.4 .9-.3 .9-.1 .9,.2 .9,.1 .9-.2 .9-.1 .9,0 .9,.1 .9,.2 .9,0 .9-.1 .9-.4 .9-.2 .9,.2 .9,.4 .9,.2 .9-.3 .9,0 .9-.4 .9-.8 .9-1.5 .9-1.3 .9,1 .9,1 .9,1 .9,.1 .9,.3 .9,.3 .9,.1 .9-.9 .9-.6 .9,.2 .9,.2 .9-.1 .9,.4 .9,.1 .9,.4 .9-.8 .9-.2 .9,.1 .9,0 .9,.1 .9,.5 .9-.1 .9-.2 .9,0 .9,.5 .9-.7 .9,.1 .9,0 .9-.1" fill="none" stroke="#050505" stroke-width="1.5" stroke-linejoin="round" />
<path d="M216,151.3l.9-.4 .9,.8 .9-.2 .9,.6 .9,.1 .9-.4 .9-.2 .9-.4 .9,.6 .9,0 .9-.8 .9,.1 .9,.5 .9,.2 .9-.1 .9,.3 .9-.2 .9-.4 .9,.4 .9-.4 .9-.1 .9,1.1 .9-.2 .9-.6 .9,.4 .9-.3 .9-.5 .9,.4 .9-.1 .9,.1 .9-.8 .9,.2 .9,.4 .9-.2 .9,0 .9,0 .9,.1 .9,0 .9,.3 .9-.4 .9,.4 .9-.1 .9-.1 .9,.4 .9,.5 .9,0 .9-.1 .9-.1 .9-.2 .9-.2 .9-.6 .9,.3 .9,.7 .9-.5 .9,0 .9-.2 .9,.1 .9,.7 .9-.1 .9-.2 .9-.3 .9,.4 .9,.4 .9-.3 .9,0 .9,.1 .9-.4 .9,.5 .9-1.1 .9,.3 .9,.4 .9,.3 .9,.1 .9-.4 .9-.5 .9,.2 .9-.4 .9-.3 .9,0 .9-.3 .9-.2 .9,.2 .9,.2 .9-.2 .9,.3 .9,0 .9,.5 .9-.2 .9,.6 .9-.4 .9,.1 .9,0 .9,.4 .9-.1 .9,0 .9-.7 .9,.5 .9,.4 .9-.3 .9-.2 .9,0 .9,.2 .9,0 .9-.3 .9-.1 .9,0 .9-.2 .9,.9 .9-.5 .9,.4 .9-.6 .9,.4 .9,.1 .9,.2 .9-.3 .9,.4 .9,.1 .9-.1 .9-.1 .9-.2 .9,.1 .9-.1 .9,.1 .9-.1 .9,.1 .9-.3 .9,.5 .9-.5 .9-.3 .9,.2 .9-.1 .9,.3 .9,.3 .9-.2 .9,.4 .9-.6 .9,.4 .9-.2 .9,.5 .9-.4 .9,.7 .9-.3 .9-.1 .9-.6 .9-.2 .9,.4 .9-.2 .9,.3 .9-.5 .9,.4 .9,0 .9-.3 .9,.2" fill="none" stroke="#050505" stroke-width="1.5" stroke-linejoin="round" />
<path d="M216,153l.9,.3 .9,.9 .9-.8 .9-.3 .9-.1 .9,.5 .9,.1 .9-.5 .9,.4 .9-.2 .9,0 .9,.1 .9-.2 .9,.3 .9,0 .9,.2 .9-.7 .9,.7 .9-.2 .9,0 .9-.5 .9-.2 .9,.5 .9-.1 .9,.3 .9,.2 .9-.2 .9-.2 .9,.2 .9,0 .9-.1 .9-.1 .9,.2 .9,0 .9-.5 .9,.3 .9,.3 .9,0 .9-.4 .9-.2 .9,0 .9,0 .9,.2 .9-.2 .9,0 .9,.1 .9,.1 .9-.2 .9,.4 .9-.2 .9-.1 .9-.2 .9-.3 .9,.5 .9,.1 .9-.3 .9,.3 .9-.4 .9,.5 .9,0 .9,.2 .9-.4 .9,.2 .9,0 .9-.1 .9-.3 .9,.9 .9-.4 .9,.4 .9-.3 .9,0 .9-.3 .9,.3 .9-.9 .9,.5 .9,.2 .9-.4 .9-.2 .9,.1 .9,.3 .9,0 .9,.2 .9,.1 .9,.1 .9,.1 .9-.1 .9-.4 .9,0 .9-.1 .9,.5 .9-.4 .9,0 .9,.1 .9,0 .9,0 .9-.2 .9-.7 .9,.9 .9-.9 .9,.8 .9,0 .9-.1 .9,0 .9,.2 .9,0 .9-.5 .9,.2 .9,0 .9,.3 .9,.2 .9-.1 .9-.1 .9-.3 .9,.7 .9-.5 .9-.5 .9,.1 .9,.6 .9,0 .9-.1 .9-.1 .9,.7 .9,.1 .9,.2 .9-.8 .9,.1 .9,.8 .9-.4 .9,.2 .9-.2 .9-.2 .9-.5 .9,.3 .9-.5 .9,.1 .9-.6 .9,.2 .9-.3 .9,.6 .9,0 .9-.2 .9,.5 .9,.4 .9-.3 .9-.2 .9,0 .9,0 .9-.4 .9,0 .9,.5 .9-.2 .9,.1 .9,.5" fill="none" stroke="#050505" stroke-width="1.5" stroke-linejoin="round" />
<path d="M216,156.9l.9-.1 .9-.1 .9,.3 .9,0 .9-.4 .9,.2 .9,.2 .9-.3 .9,.3 .9,.1 .9-.4 .9,.3 .9-.3 .9,.3 .9,.1 .9-.5 .9,.3 .9,.3 .9-.3 .9,.5 .9,0 .9-.6 .9,.1 .9-.3 .9,.1 .9-.1 .9,.1 .9,0 .9,.1 .9,.1 .9-.1 .9,0 .9,.1 .9-.4 .9-.2 .9,0 .9,.2 .9-.1 .9-.4 .9,.2 .9,.2 .9,.1 .9-.2 .9,.4 .9-.1 .9-.3 .9-.2 .9,.3 .9,0 .9,.1 .9,0 .9-.3 .9,.3 .9-.2 .9,.3 .9-.4 .9,.1 .9,.2 .9,.2 .9-.3 .9,.2 .9,0 .9,.3 .9-.5 .9,.3 .9-.1 .9-.2 .9-.3 .9-.5 .9,.3 .9-.2 .9-.6 .9,.3 .9,.2 .9,.2 .9-.1 .9,1 .9,0 .9,.1 .9,0 .9-.2 .9,.7 .9-.2 .9,0 .9-.2 .9,.4 .9-.1 .9-.2 .9,.2 .9-.2 .9-.2 .9,.1 .9-.2 .9-.4 .9,.4 .9-.4 .9,.3 .9-.4 .9,.3 .9,.1 .9,.5 .9-.2 .9-.6 .9,.5 .9,0 .9-.2 .9,0 .9,.1 .9,.2 .9,.4 .9-.6 .9,0 .9-.2 .9-.1 .9-.1 .9,.5 .9,.2 .9,0 .9-.6 .9,.5 .9-.2 .9-.1 .9,.6 .9-.4 .9,0 .9-.5 .9-.3 .9-.3 .9,.9 .9,.4 .9,0 .9,0 .9-.2 .9,.4 .9-.3 .9-.5 .9,.6 .9-.4 .9,.4 .9-.1 .9,.1 .9-.3 .9-.4 .9,.4 .9-.5 .9,.2 .9,.7 .9-.3 .9-.1 .9,.3 .9,0 .9-1.1 .9,.9" fill="none" stroke="#050505" stroke-width="1.5" stroke-linejoin="round" />
<path d="M216,161l.9,.4 .9-.6 .9-.1 .9,.4 .9-.1 .9,.2 .9,0 .9,.1 .9,.1 .9,0 .9-.4 .9,.2 .9-.4 .9-.1 .9,.6 .9,.1 .9-.3 .9-.1 .9-.6 .9,0 .9,0 .9,0 .9,.3 .9,.3 .9,.3 .9-.7 .9,.3 .9-.3 .9,.5 .9-.6 .9,.3 .9-.3 .9,.1 .9,0 .9-.2 .9,.5 .9-.3 .9,.5 .9,0 .9,.2 .9-.8 .9-.1 .9-.2 .9,.5 .9-.2 .9-.1 .9,.1 .9,.5 .9-.3 .9-.2 .9,.8 .9,0 .9-.9 .9,.4 .9-.1 .9,.2 .9,.1 .9,.4 .9-.7 .9-.5 .9,.1 .9-.4 .9,.2 .9-.1 .9,.2 .9-.6 .9-.3 .9,.3 .9-.1 .9,.1 .9-.2 .9,.3 .9,.6 .9,.4 .9,.5 .9-.8 .9,.2 .9,.8 .9-.3 .9-.3 .9-.1 .9,.1 .9,.1 .9-.2 .9,.4 .9-.3 .9-.2 .9-.1 .9,.5 .9,.3 .9-.7 .9,.1 .9,.2 .9-.3 .9,.6 .9-.3 .9,0 .9,0 .9,.2 .9,0 .9-.1 .9-.2 .9,.4 .9-.3 .9-.6 .9,.4 .9-.3 .9,0 .9-.1 .9,.1 .9-.2 .9,.4 .9,.3 .9-.4 .9,.3 .9-.2 .9,.3 .9-.2 .9,.3 .9-.3 .9,.2 .9-.6 .9,0 .9,.4 .9-.3 .9,.4 .9,0 .9,.3 .9-1.1 .9,1 .9-.3 .9,.5 .9-.6 .9,.3 .9-.5 .9,.3 .9-.4 .9,.2 .9,0 .9,.7 .9-.6 .9,.7 .9-.5 .9,.3 .9-.5 .9,.8 .9-.3 .9,.3 .9-.1 .9-.3 .9-.3 .9,0 .9-.1" fill="none" stroke="#050505" stroke-width="1.5" stroke-linejoin="round" />
<path d="M216,163.8l.9,.2 .9-.6 .9,.1 .9,.2 .9,.3 .9-.4 .9,.3 .9-.5 .9,.1 .9,.5 .9-.2 .9,.1 .9,.4 .9-.1 .9,.5 .9-.9 .9,0 .9,0 .9,.1 .9,.3 .9-.4 .9,.6 .9-.9 .9,.4 .9,.2 .9,.2 .9-.2 .9-.4 .9,.1 .9-.3 .9,.4 .9-.4 .9,.1 .9-.5 .9,0 .9,.6 .9-.1 .9,.5 .9-.3 .9,0 .9-.4 .9,.5 .9-.6 .9,.7 .9-.7 .9,.6 .9-.2 .9-.1 .9-.6 .9,.3 .9,.4 .9-.3 .9,.1 .9,.3 .9,.3 .9-.1 .9-.2 .9,.2 .9-.5 .9,.1 .9,.3 .9-.2 .9,0 .9-.1 .9-.2 .9-.2 .9-.3 .9,.6 .9-.5 .9,0 .9-.5 .9,.5 .9,.4 .9,0 .9-.1 .9,.1 .9-.3 .9,.2 .9,.4 .9,0 .9-.1 .9,.4 .9,.4 .9-.2 .9-.2 .9,.6 .9-.4 .9,0 .9-.6 .9,.4 .9,.3 .9,.2 .9,.1 .9,0 .9,.2 .9-.7 .9-.4 .9-.2 .9,.3 .9,.5 .9-.6 .9,.7 .9-.3 .9,0 .9,0 .9-.6 .9,0 .9,.2 .9,.1 .9,.1 .9,0 .9,.1 .9-.3 .9,.7 .9,.2 .9-.4 .9-.1 .9,.4 .9-.1 .9-.3 .9,.4 .9-.6 .9,.2 .9-.8 .9,.3 .9-.6 .9,.4 .9,.3 .9-.4 .9,.2 .9-.1 .9,1.1 .9-.1 .9,.1 .9-.4 .9-.3 .9-.1 .9,.2 .9,.1 .9,.1 .9-.1 .9,.1 .9-.2 .9,0 .9,.7 .9-.6 .9,.2 .9-.3 .9,.2 .9-.2 .9,.1 .9,.3 .9-.3" fill="none" stroke="#050505" stroke-width="1.5" stroke-linejoin="round" />
<path d="M216,170.1l.9-.2 .9,0 .9,0 .9,.6 .9-.7 .9-.2 .9,.2 .9-.8 .9,.5 .9-.2 .9,.6 .9-.2 .9-.1 .9-.1 .9,.2 .9-.2 .9,.1 .9-.1 .9,.3 .9,.4 .9-.4 .9,0 .9,.6 .9-.1 .9-.1 .9,0 .9,0 .9,.2 .9,0 .9,.1 .9,.1 .9-1 .9,.6 .9-.1 .9,0 .9-.2 .9-.1 .9,.1 .9,.3 .9-.6 .9-.1 .9,.6 .9-.6 .9-.1 .9,.5 .9,.2 .9-.4 .9,.1 .9,.6 .9-.1 .9-.1 .9-.3 .9,.2 .9,.3 .9-.5 .9,0 .9,.5 .9-.3 .9-.1 .9,.3 .9-.4 .9-.2 .9,.1 .9-.3 .9-.1 .9,.5 .9-.1 .9,.9 .9-.4 .9,.1 .9-.4 .9,.1 .9-.5 .9,0 .9,0 .9-.2 .9,0 .9-.3 .9-.2 .9-.3 .9-.1 .9,.1 .9,.2 .9,.4 .9,.3 .9,.6 .9-.1 .9-.3 .9-.2 .9,.2 .9,.5 .9-.2 .9-.2 .9,0 .9,.3 .9-.6 .9-.2 .9-.2 .9,.6 .9-.7 .9,.3 .9,.7 .9-.4 .9,.4 .9,0 .9-.3 .9-.2 .9,.3 .9,.3 .9-.5 .9,.1 .9-.3 .9,.7 .9,0 .9,0 .9-.2 .9,.1 .9-.3 .9,.1 .9,.2 .9,.1 .9-.4 .9,.2 .9,.3 .9-.5 .9,.1 .9-.4 .9,.1 .9,.4 .9,.1 .9-.1 .9-.2 .9-.1 .9,.4 .9,0 .9,.1 .9-.2 .9,0 .9,.2 .9-.7 .9,.4 .9,.3 .9,.1 .9-.7 .9,.5 .9-.4 .9,.1 .9-.1 .9,.4 .9-.1 .9,.7 .9,.3 .9-.8" fill="none" stroke="#050505" stroke-width="1.5" stroke-linejoin="round" />
<path d="M216,171.3l.9,0 .9-.4 .9,.4 .9,.6 .9-.4 .9,0 .9-.3 .9-.4 .9,.3 .9-.2 .9,0 .9,.6 .9,.2 .9-.1 .9,.1 .9-.1 .9-.1 .9,.1 .9-.3 .9,0 .9,.1 .9-.1 .9,.1 .9-.2 .9,.1 .9,0 .9-.2 .9,.4 .9-.6 .9,.3 .9-.3 .9-.1 .9,.6 .9-.4 .9-.1 .9-.3 .9,.5 .9-.3 .9,.6 .9,.3 .9-.1 .9-.4 .9,.2 .9-.2 .9,.1 .9,.1 .9,.1 .9,.1 .9,0 .9,0 .9-.5 .9,.2 .9,0 .9,.1 .9,.2 .9-.6 .9,.1 .9,.5 .9,.3 .9,.3 .9-.3 .9,.2 .9-.2 .9-.2 .9-.1 .9,.4 .9,0 .9-.2 .9-.1 .9,.4 .9-.4 .9-.4 .9,.3 .9-.6 .9-.2 .9,0 .9-.2 .9,.3 .9-.8 .9,.1 .9-.1 .9-.2 .9,.4 .9,.4 .9,.7 .9,.3 .9,.2 .9-.4 .9-.1 .9-.4 .9,.3 .9,.2 .9-.2 .9,.4 .9-.1 .9,0 .9-.1 .9-.1 .9,.4 .9,.2 .9-.8 .9,0 .9,.3 .9-.2 .9-.2 .9-.1 .9,.4 .9-.1 .9-.2 .9-.1 .9,.5 .9-.5 .9-.1 .9-.1 .9,.3 .9-.4 .9,.7 .9-.1 .9,0 .9,.4 .9-.2 .9,.2 .9-.4 .9,.4 .9,0 .9,.1 .9-.1 .9-.2 .9,.2 .9-.4 .9,.1 .9-.2 .9-.6 .9,.5 .9,.4 .9,.4 .9-.2 .9-.3 .9,.7 .9-.3 .9-.4 .9,0 .9,.2 .9,.1 .9-.1 .9-.2 .9,.1 .9,.2 .9-.5 .9-.4 .9,.9 .9-.6 .9,.3" fill="none" stroke="#050505" stroke-width="1.5" stroke-linejoin="round" />
<path d="M216,175.3l.9,.3 .9-.6 .9,.3 .9,.5 .9-.7 .9,.1 .9,.4 .9-.4 .9-.1 .9,.3 .9-.6 .9,.2 .9,.1 .9-.3 .9,.6 .9-.7 .9-.3 .9,.2 .9-.3 .9,.8 .9-.2 .9,.1 .9,.2 .9-.4 .9,.5 .9-.2 .9-.2 .9,.1 .9,.2 .9,.4 .9-.3 .9-.1 .9,.2 .9,.3 .9,.1 .9-.2 .9,.2 .9-.6 .9-.3 .9-.3 .9,.5 .9-.2 .9-.1 .9-.4 .9,.7 .9,.5 .9-.2 .9-.4 .9,.1 .9-.8 .9,.4 .9-.1 .9,0 .9,.4 .9,0 .9-.1 .9,.5 .9-.7 .9,.6 .9,.1 .9-.4 .9,.4 .9-.4 .9,0 .9,.1 .9,0 .9-.2 .9-.1 .9,0 .9,.3 .9-.5 .9-.4 .9-.3 .9,.2 .9,0 .9,.3 .9,.3 .9-.5 .9,.6 .9,.1 .9,.7 .9-.4 .9,.3 .9,0 .9,.2 .9,.3 .9-.8 .9,.5 .9-.4 .9-.3 .9-.1 .9,.2 .9-.3 .9-.4 .9,.2 .9,.4 .9,0 .9-.1 .9,.2 .9,.4 .9-.3 .9-.2 .9-.3 .9,0 .9,.4 .9,.1 .9-.2 .9-.1 .9,.2 .9-.3 .9,.3 .9-.3 .9,.4 .9-.1 .9-.1 .9-.1 .9,.3 .9,.1 .9,.2 .9,.1 .9,.3 .9-.8 .9-.1 .9,0 .9,.7 .9-.9 .9,.3 .9,.2 .9-.3 .9,.4 .9-.3 .9,.2 .9-.1 .9-.6 .9-.3 .9,.5 .9,.2 .9,.2 .9-.8 .9,.4 .9,0 .9,.4 .9-.1 .9-.3 .9,.3 .9,.3 .9,.5 .9-.4 .9,0 .9,0 .9-.1 .9-.1 .9,.3" fill="none" stroke="#050505" stroke-width="1.5" stroke-linejoin="round" />
<path d="M216,179.5l.9-.1 .9,0 .9,.1 .9,.3 .9-.2 .9-.3 .9-.4 .9,.2 .9,.3 .9-.3 .9,.4 .9-.1 .9-.4 .9,.2 .9,.2 .9,.3 .9-.4 .9,0 .9,0 .9,.1 .9-.1 .9,.4 .9-.5 .9,.2 .9,.4 .9-.2 .9,0 .9-.6 .9,.5 .9-.3 .9,.4 .9-.2 .9,.1 .9-.3 .9,.3 .9,0 .9-.4 .9,0 .9-.1 .9,.5 .9,.1 .9-.5 .9-.1 .9-.7 .9,.6 .9-.4 .9,.7 .9-.8 .9,.5 .9-.2 .9,.3 .9,0 .9,.2 .9-.1 .9-.2 .9,.2 .9-.6 .9,.5 .9-.1 .9-.3 .9,0 .9-.3 .9-.6 .9,.8 .9,0 .9-.1 .9,0 .9-.1 .9,.3 .9,0 .9,.4 .9-.3 .9,.8 .9-.9 .9,.5 .9-.1 .9,.3 .9-.6 .9,1.1 .9-.1 .9,.2 .9,0 .9-.1 .9-.4 .9-.4 .9-.1 .9,.6 .9-.5 .9-.3 .9,.5 .9-.2 .9,.3 .9,.1 .9-.5 .9-.2 .9,0 .9-.3 .9,.5 .9,.1 .9,0 .9-.1 .9,.6 .9-.2 .9,0 .9-.4 .9,.3 .9-.4 .9,.7 .9-.6 .9,.4 .9,0 .9-.2 .9,.3 .9-.6 .9,.2 .9,.3 .9-.2 .9,0 .9-.6 .9,.1 .9,.5 .9-.2 .9-.3 .9-.6 .9-.7 .9-.9 .9,.7 .9,1.2 .9,.7 .9,.1 .9,.1 .9,0 .9-.5 .9,.2 .9-.1 .9,.7 .9-.6 .9,.9 .9-.4 .9-.1 .9,0 .9-.5 .9,.2 .9-.1 .9,.3 .9,.5 .9-.5 .9,.1 .9,.2 .9,0 .9-.2 .9-.5 .9,.9" fill="none" stroke="#050505" stroke-width="1.5" stroke-linejoin="round" />
<path d="M216,184.9l.9-.1 .9,.1 .9,.1 .9,0 .9-.2 .9-.1 .9-.3 .9,.1 .9-.1 .9,.1 .9,0 .9,0 .9,.1 .9-.5 .9,.5 .9-.3 .9-.1 .9,.3 .9,.2 .9,0 .9-.1 .9,.2 .9,.2 .9,0 .9-.1 .9-.1 .9-.3 .9-.2 .9,0 .9,.1 .9,.2 .9,.1 .9,0 .9,.2 .9-.3 .9,.3 .9-.5 .9,.1 .9,.2 .9,.2 .9-.1 .9-.6 .9,.2 .9,.1 .9-.5 .9-.4 .9,.3 .9,.5 .9,0 .9-.2 .9,0 .9,.3 .9,.1 .9-.3 .9-.2 .9,.1 .9,0 .9,0 .9,0 .9-.2 .9,.1 .9-.4 .9,.5 .9-.4 .9,0 .9,.1 .9,0 .9-.4 .9,.1 .9,.1 .9-.5 .9,.5 .9-.1 .9-.1 .9,.9 .9-.1 .9,.3 .9-.1 .9,.1 .9-.1 .9,.1 .9-1 .9,.4 .9-.2 .9,.5 .9-.1 .9,.1 .9,.5 .9,0 .9-.3 .9,.7 .9-1.1 .9,0 .9,.1 .9,.2 .9,.1 .9-.4 .9,.3 .9,.1 .9,.1 .9-.1 .9,.3 .9-.1 .9-.5 .9,.3 .9-.7 .9,.1 .9,.5 .9,0 .9,.1 .9,.3 .9-.2 .9-.5 .9,.2 .9-.4 .9,.4 .9,.3 .9-.1 .9-.4 .9,.1 .9,.1 .9,.2 .9-.9 .9,.2 .9,.1 .9,0 .9,.3 .9,.2 .9-.1 .9-.3 .9,.4 .9-.4 .9,.7 .9-.1 .9-.6 .9,.1 .9-.5 .9,.3 .9-.1 .9,.5 .9-.1 .9,.4 .9-1 .9,.5 .9,.2 .9-.3 .9,.1 .9-.3 .9,.4 .9,.1 .9,.2 .9,0 .9,0" fill="none" stroke="#050505" stroke-width="1.5" stroke-linejoin="round" />
<path d="M216,190.7l.9-.6 .9-.3 .9,.3 .9,.3 .9,.1 .9,0 .9,.1 .9,.3 .9-.8 .9-.1 .9,.2 .9,0 .9,.1 .9-.1 .9-.2 .9,.1 .9,.2 .9-.4 .9-.1 .9,.3 .9-.5 .9-.2 .9-.8 .9,.6 .9,1.1 .9-.2 .9,.2 .9,.3 .9-.2 .9-.3 .9-.1 .9-.4 .9,.6 .9,.4 .9,.5 .9-.5 .9,.1 .9,.1 .9-.4 .9,0 .9-.1 .9,.2 .9-.4 .9,.4 .9,0 .9-.3 .9,0 .9,.1 .9,.7 .9,.4 .9,0 .9-.4 .9,.4 .9-.4 .9,0 .9-.5 .9,0 .9,.7 .9-.4 .9,.2 .9-.3 .9-.1 .9-.2 .9-.2 .9,.6 .9-.4 .9,.2 .9,.1 .9-.3 .9,0 .9,.2 .9-.3 .9-.1 .9-.3 .9-.2 .9,0 .9,.5 .9-.1 .9-.3 .9,.3 .9-.3 .9,.1 .9,.8 .9-.3 .9,.5 .9-.3 .9-.3 .9,.3 .9-.2 .9,1 .9-.8 .9,0 .9,.1 .9,.3 .9-.3 .9-.5 .9,.4 .9,.2 .9,.3 .9-.7 .9-.2 .9,.5 .9-.6 .9,.6 .9,.2 .9,0 .9-.7 .9,.5 .9-.1 .9,.1 .9-.1 .9,0 .9-.6 .9-.1 .9,.2 .9,.3 .9-.1 .9-.2 .9,.6 .9-.1 .9,.3 .9-.5 .9-.2 .9,.1 .9,.1 .9,.4 .9,.1 .9,.1 .9-.3 .9,.4 .9-.4 .9,.2 .9-.5 .9-.2 .9,.6 .9,.2 .9-.3 .9,0 .9-.7 .9,.6 .9-.1 .9-.3 .9-.1 .9,.5 .9-.4 .9,.2 .9,.1 .9,.2 .9-.3 .9-.1 .9,.2 .9,.6 .9,0" fill="none" stroke="#050505" stroke-width="1.5" stroke-linejoin="round" />
<line x1="212.5" y1="205.3" x2="212.5" y2="229.5" stroke="#0a0a0a" stroke-width="1.05" />
<text x="218.8" y="209.4" font-size="10.8" font-weight="normal" text-anchor="start" fill="#0a0a0a" >20 mV</text>
<g stroke-opacity="0.62">
<path d="M216,225.8l1-1.7 1,.2 1-.7 1,.7 1-.2 1-.2 1-.3 1-.4 1,.2 1,.3 1-.2 1,.6 1-.2 1,.4 1-.4 1-1 1,.5 1,0 1,.4 1-1.7 1,0 1,.9 1,0 1-.2 1-.6 1,.4 1,.9 1,1.3 1,.4 1-1.9 1,1.1 1-.4 1,.1 1-.8 1-1 1-.3 1,.6 1-1 1,.7 1-.9 1-.4 1,1.2 1,1.7 1-1.2 1,1.6 1-1.3 1,1.3 1,.8 1,0 1-1.3 1-.9 1,1.8 1-1.3 1,1.2 1,.3 1-.7 1-1.7 1-2.3 1-1.9 1,0 1,1.5 1,1.8 1,.9 1,1.4 1,.4 1,2.2 1-.2 1,.3 1-.5 1-.4 1,0 1,1.2 1-.3 1-1.2 1,1.6 1-.6 1-.7 1-.5 1,1.1 1-.5 1-.7 1-.6 1,.5 1,.3 1-.4 1,1.2 1-2.5 1,2.5 1-.1 1-1.6 1,.4 1,.1 1,.4 1,.5 1-.6 1,.3 1-2 1,.7 1-1.6 1-.1 1,1.1 1,0 1-.1 1,.4 1,.3 1,0 1-2.1 1,1 1-.2 1,.5 1,1.2 1,.1 1,.2 1,.1 1,.3 1-.5 1,.1 1-.5 1,.5 1-1.2 1,1.5 1-.7 1,1 1-2.1 1,1.4 1-1.2 1,1.7 1-.9 1,.1 1,0 1,.4 1-.5 1,.9 1-.2 1,1.1 1,.5 1-1.6 1,.6" fill="none" stroke="#b2b2b2" stroke-width="2.0" stroke-linejoin="round" />
<path d="M216,228l1-.2 1-.1 1-.1 1,1.2 1-.4 1,.7 1,1.4 1-.7 1-.3 1-1.4 1-.5 1,.9 1-2.6 1,1.1 1-.9 1,.1 1-.5 1,.4 1-.5 1,1.2 1,.4 1-.4 1-.6 1,1.7 1-1 1,1.8 1,1 1-2.1 1,1.3 1-.8 1-1.1 1,1.3 1-.7 1,1.1 1,.2 1-.5 1,.2 1,.1 1-1.5 1,0 1-.9 1-.4 1,.6 1,1 1,.1 1-.1 1-.3 1,.4 1-.9 1,1.4 1-1.9 1,1.3 1-.9 1,.9 1,1.3 1-1.5 1,1.5 1-1.4 1,0 1,.4 1-.6 1-.7 1-2.5 1-3.1 1,.4 1-.1 1,2.7 1,2.6 1,2.1 1,1.1 1,.2 1-.8 1-.9 1-.4 1,.5 1,.2 1-.3 1-1.4 1,1.6 1-.1 1-.2 1,.3 1,.2 1,1.2 1-3.3 1,.5 1-.2 1,1 1,.1 1,0 1,.6 1-1.1 1,.2 1,.4 1-.3 1,.3 1-1.1 1,.2 1,1.2 1,0 1,2.3 1-1.1 1-.3 1,.2 1-1.3 1-1.4 1,1.5 1-.5 1,1.7 1-1.4 1,.3 1,0 1-.4 1-.7 1,1.5 1-1 1,1.2 1-.6 1-.7 1,.9 1-.5 1,0 1-.3 1,.1 1,1 1-.5 1,.3 1-1.2 1,1.1 1-.2 1,.1 1,.4 1-.2 1-.1 1,.1 1-.3 1-.5 1-.7" fill="none" stroke="#b2b2b2" stroke-width="2.0" stroke-linejoin="round" />
<path d="M216,228.3l1-.5 1-1 1,.3 1,.2 1,.7 1,.3 1-1 1-1.2 1,.8 1,1.1 1,.6 1,.1 1,2.2 1,.8 1-.5 1-1.1 1-.4 1-.8 1,.7 1,.9 1-1.2 1,.6 1-.6 1,.1 1,.9 1-.4 1,.1 1-.1 1-.3 1-.1 1,.9 1-.5 1-.9 1-2.3 1,.1 1,.8 1,.9 1-.6 1-.1 1,.8 1-.1 1-1.2 1-1.3 1,.3 1,.7 1,.7 1,1.1 1,.3 1-.6 1-.4 1,.4 1-.9 1,1.1 1-.8 1,1.4 1-.7 1-2 1,1 1-2.4 1-.9 1-3.3 1-2.1 1-.7 1,2.1 1,3.2 1,1.2 1,2.2 1,1.2 1-.6 1-1.9 1,1.3 1-.8 1-1.5 1-.6 1,.3 1-1.7 1,3.1 1-.1 1,1.1 1,.6 1-1.7 1,.8 1-.7 1,1.1 1-.7 1,.5 1,1.1 1,.4 1,.2 1-.5 1,0 1-.7 1,.6 1-.2 1-1 1,.3 1-.5 1-.3 1,1.2 1,.5 1,.7 1-.6 1-.9 1-.6 1,.4 1-1.5 1,.4 1-.1 1,.7 1-10.7 1-3.7 1,.6 1,.3 1,.7 1,5.7 1,7.9 1-.7 1,2 1-.6 1-1.2 1,1 1-.5 1,.4 1,.1 1-.6 1,1.1 1-.4 1-.4 1,.4 1-.8 1,1.1 1,.4 1-.1 1-1.5 1-.4 1-1.1 1,1.4 1,.1" fill="none" stroke="#b2b2b2" stroke-width="2.0" stroke-linejoin="round" />
<path d="M216,232.1l1,1 1-1 1-.4 1,.1 1,1.5 1-.8 1-2 1,.2 1-1.8 1,.5 1,1.2 1-.4 1-2.3 1-.2 1,1.4 1,1.2 1-.7 1-.1 1-1.1 1,.4 1,.3 1,.9 1-.4 1,.6 1-1.7 1,1.6 1-.6 1,1.4 1,0 1,.9 1-.6 1-.4 1-.2 1-1.3 1,.5 1,1.9 1-.9 1,.2 1,.4 1,.3 1-.1 1-1.4 1,0 1,.7 1,.7 1-.2 1-1.2 1-2.1 1,.5 1,1.7 1,1 1-1.4 1,.3 1-1.5 1-1.5 1,1.6 1-1.7 1,.7 1-1.7 1-1.3 1-2.2 1-.4 1,.6 1,.3 1,2.7 1,1.1 1,3 1-.3 1,1.2 1-.3 1,1.2 1,.5 1-.3 1,.2 1-1.3 1-.7 1,0 1,.7 1,.4 1-.5 1-.7 1-.5 1-.3 1,1.2 1-1 1,1.1 1-.6 1-.5 1-.2 1,.9 1-.7 1,.9 1,.6 1-.8 1,.9 1-.9 1-1.2 1,.6 1,1.3 1,.3 1-1.5 1-.5 1-.2 1-.7 1,.8 1,.5 1,.2 1,.3 1-.2 1-10.5 1-3 1-.7 1,3.1 1,.3 1,.8 1,9.9 1,.4 1,.2 1-.7 1,.2 1,.3 1,.4 1,.6 1-.3 1-.7 1,.9 1-1.1 1,.3 1-.1 1,1.1 1-.8 1-.2 1,.4 1,0 1,1 1-2.4 1,1.7 1-.8" fill="none" stroke="#b2b2b2" stroke-width="2.0" stroke-linejoin="round" />
<path d="M216,229.2l1-.8 1-.3 1,1.2 1,.4 1-.3 1,1.5 1-.6 1,0 1,.1 1,.4 1-.4 1-1.9 1,.7 1-.7 1,1.2 1-.7 1,1 1-1.7 1-3.4 1-3.8 1-2.1 1,4 1,4.5 1,2.4 1-.1 1,0 1-.4 1-.3 1,.6 1-.1 1-1.7 1,1.4 1-2.5 1,1.4 1,1.1 1-.1 1-2.1 1,1.1 1,2.1 1,.1 1-.5 1-1.2 1-1.8 1,2.1 1,.5 1,.4 1-1.5 1,.2 1-.3 1-.6 1,.8 1-.6 1,1.7 1-1.2 1,.5 1-.4 1,.7 1-2.8 1-1 1,0 1,1.3 1-1.6 1,2.4 1,.5 1-1.6 1,1.5 1-1.4 1-.4 1,1.6 1,.4 1,1 1,.3 1,.4 1,1.2 1-1.6 1,.2 1,.4 1,1 1-.6 1,0 1-.9 1,.6 1-.4 1-.7 1,.2 1,.7 1-.7 1-1.2 1-1 1-.4 1-.1 1,1 1-.3 1-.7 1,.8 1-.2 1,1 1,1.5 1,.1 1-.7 1,.8 1-.7 1,.7 1-.4 1-1.2 1-.6 1,.7 1,.8 1,.7 1-.9 1,.2 1-1.2 1,.3 1,0 1-.4 1,.4 1-.6 1-1 1,.8 1,.5 1,1.5 1-.8 1,1.3 1-2 1,1.7 1-1.5 1,.2 1,.3 1,.3 1-.2 1,1.1 1-.6 1,.1 1,.9 1,.6 1-.1 1-.5 1,.6" fill="none" stroke="#b2b2b2" stroke-width="2.0" stroke-linejoin="round" />
<path d="M216,233.1l1,.6 1,.7 1-1.3 1,.6 1-.9 1-.6 1-1.4 1,.1 1,1.1 1-1 1-.3 1-.2 1-1.8 1,1.6 1,1 1-1 1-.3 1-.1 1,1.4 1,.9 1,.2 1,1.4 1-2.2 1,.4 1,.1 1,.4 1-.6 1,1.3 1-.2 1,0 1-1.5 1,1 1,1.4 1-1.1 1-1.2 1,.4 1-1.1 1,.6 1-.1 1-.2 1-.9 1,.6 1,.5 1,.8 1-.6 1-.1 1-1 1-1.8 1,2.3 1-.7 1-.3 1,.3 1,1.5 1,1.1 1,.8 1-.3 1,0 1,.7 1-2 1,1.1 1-2.5 1,.2 1-1.9 1,.6 1-.3 1,.3 1-.6 1-2.5 1,.1 1,.6 1-.9 1,1.2 1,.5 1-.2 1-.5 1-.3 1,1 1,2.6 1-.9 1,.4 1,.1 1,1.2 1-1.5 1-.2 1,1.9 1-1.5 1-1.8 1-2.4 1-2 1,3.7 1,3.4 1,1.2 1,1.1 1,.5 1-2.1 1,.3 1-.9 1-1.9 1,1.5 1-.3 1,.9 1-2 1,2.4 1,.6 1-.2 1-.2 1,.1 1-.2 1-.3 1,.4 1,.8 1-1.3 1-1.1 1-.3 1,1.5 1,.4 1-.2 1,0 1,.7 1-.8 1,.2 1,.3 1,1.2 1-.2 1-1.1 1-.7 1-.5 1,0 1,.5 1-.6 1-.9 1,.5 1,.5 1,1.7 1-.1 1,1 1-1 1,.2" fill="none" stroke="#b2b2b2" stroke-width="2.0" stroke-linejoin="round" />
<path d="M216,224l1,1.6 1-1.2 1,1.2 1,0 1-.3 1,1 1,.5 1,.4 1-.7 1-.8 1,.8 1,1.3 1,.1 1-1.3 1-.8 1-.7 1-.4 1,.7 1-.2 1,.5 1-1.5 1,.7 1-1.2 1,1 1,.5 1,.4 1-.3 1,.7 1-.7 1,.6 1-1.7 1,2.4 1-.5 1,1.1 1-.1 1,.5 1-2 1,1 1-.6 1,1.1 1,.4 1-1.6 1,.6 1,0 1-.1 1-1.5 1-.3 1,1.1 1,.7 1,.6 1-.2 1-.7 1-1 1-2.6 1-.7 1-1.4 1,0 1-.1 1,.5 1-.5 1-.2 1,1.2 1,1.1 1,1.5 1,1.6 1-1.3 1,2.9 1-.2 1,.9 1-1 1,.8 1-1 1-.3 1,.6 1-2.3 1-2.2 1-4.6 1-.1 1,.6 1,2.2 1,3.2 1,1.9 1,.9 1-.7 1-.1 1-2.8 1-1.5 1-4.8 1-1.5 1,5.2 1,3.1 1,1.8 1-.3 1-.4 1-.7 1,1.4 1-.6 1,1 1-.7 1-.1 1-1 1,0 1,.4 1,.9 1-1.3 1-.8 1,.2 1,.2 1-.2 1,.6 1,1.4 1-1.4 1,.2 1,.5 1-.6 1,.4 1-.6 1,1.8 1,.1 1,.9 1-.4 1,.6 1-.5 1-1.3 1-1.3 1,.8 1,2.1 1-1.5 1,.1 1,1.1 1,0 1-1.6 1,1.8 1,.5 1-1.2 1,1.1 1-2.4 1,1" fill="none" stroke="#b2b2b2" stroke-width="2.0" stroke-linejoin="round" />
<path d="M216,227.2l1,.5 1,1.1 1-.6 1,0 1-.3 1-1.8 1-1.3 1-.1 1,1.2 1,.3 1,.1 1-.3 1,1.1 1-.2 1,.1 1-1.1 1-.1 1,1.2 1,.4 1-.2 1-1 1,.1 1-1.2 1-1.3 1,1.5 1,1.3 1,.6 1-1.2 1,.5 1-1.1 1,1.4 1,1.1 1-.9 1,1.1 1-1.5 1,.1 1-1.7 1,2.1 1,.1 1,1 1-1.6 1,.7 1-.6 1-.6 1-1.8 1,1.3 1,.1 1,.6 1,1.3 1-1 1,0 1-.8 1,.2 1,.6 1,.1 1,1.1 1,.7 1-1 1-.6 1-.2 1-.5 1-4.2 1-1.8 1,.2 1,1 1,.8 1-.4 1-.9 1,0 1,.5 1,1.1 1-.8 1,1.8 1,2.3 1,.4 1,.4 1-.4 1,1.7 1,.5 1,.7 1,.4 1-.1 1-1.7 1-.3 1,0 1,0 1,.1 1-.7 1,.7 1-.6 1-.3 1,.9 1,.5 1-.2 1-.7 1,0 1-.2 1-1.1 1,1.3 1,.8 1-.1 1-.7 1,1.4 1-.6 1-.1 1-.7 1-1.1 1,0 1,1.9 1-.4 1-.8 1-1.2 1,1.3 1-.3 1,.6 1,.2 1,.6 1-2.3 1,.6 1,.6 1-.1 1-.6 1,.7 1-.6 1,.6 1,.7 1-2.6 1-2.7 1-1.2 1,.2 1,3 1,1.3 1,1.2 1,.3 1,.1 1,.1 1,.4 1-.1" fill="none" stroke="#b2b2b2" stroke-width="2.0" stroke-linejoin="round" />
<path d="M216,232.1l1,1.2 1-1.3 1-1.4 1-.9 1-.6 1,1.5 1-1.4 1,.3 1,1.1 1,1.1 1-1.4 1-.9 1-.4 1,.2 1,.2 1,.5 1-1.3 1-.1 1-.1 1,.9 1-1.1 1,.4 1,.1 1,0 1-2.4 1-2.4 1-.5 1,1.6 1,4.4 1,.9 1,1.1 1-1.1 1,.4 1-.4 1-.7 1,.2 1,.4 1,1.9 1,.4 1-2.4 1,.9 1-.8 1,.3 1,.2 1,.2 1,1.2 1-.1 1,.6 1,.3 1-1.9 1,.2 1-.9 1,.5 1-1.1 1,.2 1-.4 1,1.1 1-.3 1-1 1,.9 1-.2 1,1.1 1-.8 1,1.4 1-1.7 1-1.4 1-.6 1,1.5 1,.7 1-.2 1-.3 1-.4 1-.4 1,.7 1-.6 1-2.9 1-.4 1,.2 1,2.8 1,2.5 1,.1 1,0 1,.7 1-.5 1-.7 1-.2 1,.1 1-.4 1,0 1,1.2 1-1.1 1,0 1-1.3 1-.5 1,1.8 1,.4 1,.4 1,.1 1-.1 1-.3 1,.8 1-.5 1,0 1-1.5 1-.3 1,0 1-1.1 1,.8 1,.6 1,1.1 1-.7 1,.7 1-.6 1,2.1 1-.6 1-.5 1,.2 1,.1 1-.4 1-.3 1-.3 1,.1 1,2.2 1-1.9 1,1.4 1-3.5 1,1.8 1-1.5 1,2 1-1.9 1,.2 1-.1 1,.3 1,1.5 1-1.2 1,.9 1-1.1 1,1.7" fill="none" stroke="#b2b2b2" stroke-width="2.0" stroke-linejoin="round" />
<path d="M216,227.5l1,.7 1,.8 1-.8 1-.2 1-.4 1,1 1-2.4 1-.6 1-.2 1,1 1-.7 1,1.6 1-1.3 1,1 1-.7 1,1.5 1-.3 1-1 1-.5 1,2.2 1-2 1,2.4 1-.7 1-.4 1,.8 1,.2 1-1 1,0 1,.2 1,.5 1-.8 1-1.6 1-.4 1-1.1 1,1.6 1-1.7 1,.7 1-.2 1,1.8 1,0 1,.9 1-.4 1-1 1,1 1,.7 1-.1 1-1.2 1,1.7 1,.2 1-1.1 1,.9 1-.6 1,.4 1-.5 1-.5 1-.1 1-.5 1,1.5 1-.4 1-.5 1-.5 1-.3 1-.2 1,.3 1,.4 1,.2 1-.8 1-.8 1-2.7 1-1.2 1,.5 1,.9 1,2.1 1,1.4 1,.5 1,.1 1-1 1,.8 1-.9 1,.2 1,1.9 1-.5 1-.1 1,.9 1,.2 1,0 1-.1 1-.3 1,.8 1-.5 1-.7 1-.3 1,.1 1,.4 1,1 1,1.5 1-1.2 1-.7 1-.2 1,1.8 1-1.2 1-.4 1-3.3 1,.3 1,.5 1,.8 1,.4 1-.5 1-.2 1,1.7 1-.7 1-.7 1-.6 1,1.2 1,.4 1-1.2 1-.5 1,.1 1-.6 1-.5 1,.2 1,.1 1,1.1 1,.1 1,.2 1,.5 1,1.1 1-.2 1-1 1,2.3 1-.3 1,.1 1-1.9 1,.7 1,.2 1,1.1 1-.2 1-.6" fill="none" stroke="#b2b2b2" stroke-width="2.0" stroke-linejoin="round" />
<path d="M216,225.6l1-.8 1,1 1-.7 1,1.2 1,.1 1-.9 1,.6 1-.1 1-.1 1,.9 1-.7 1,.1 1-.8 1,.7 1-.3 1-.8 1-.2 1,1 1,1.5 1-.7 1-.2 1,1 1,.5 1-.1 1-.8 1-.9 1,1.2 1,0 1-.5 1,0 1-.4 1-.9 1,1.4 1-.1 1-.8 1-.8 1-.2 1,.9 1-1.4 1,1.8 1-.4 1,1.2 1,0 1,0 1-.4 1,0 1,1.3 1-2.1 1,.8 1-1.1 1,.3 1-1.2 1-1 1-.3 1,0 1,1.2 1,.5 1,1.1 1,.1 1-1.5 1-.9 1-1.1 1-.6 1-.4 1-1.1 1-.4 1,1 1-.1 1-.2 1,1.2 1,1.2 1-.4 1,.7 1,1.2 1-.8 1,1.9 1-.7 1,2 1-.7 1,.1 1-1.1 1,.9 1-1.1 1,.4 1,0 1,1.4 1,.4 1,.5 1-.2 1-.6 1-.7 1,1 1,.2 1-.7 1,1.8 1-.6 1-1.8 1-.3 1,0 1,.2 1,.7 1-.8 1-.5 1,.2 1-.1 1,.5 1-.2 1-.9 1,2.1 1-.5 1,1.3 1-1.6 1,.2 1,0 1-.8 1,1.1 1,.5 1-.4 1-2.1 1,1.2 1,1.3 1,0 1-.5 1,.4 1,.6 1-1.7 1-.9 1,0 1,.4 1,1 1-1.5 1,.9 1,.8 1,.5 1-.7 1-.3 1,1 1-.8" fill="none" stroke="#b2b2b2" stroke-width="2.0" stroke-linejoin="round" />
<path d="M216,229.8l1,.7 1-1.6 1,.5 1,.5 1-.7 1-1.4 1,.7 1,1.1 1-1.2 1,1.1 1-.5 1,.1 1,1.7 1-1 1-.3 1,1.3 1-.1 1,.1 1-.8 1,.1 1,.6 1-.9 1,1.5 1-.8 1,.4 1-1.8 1,2.5 1-1.1 1,.6 1,0 1-.6 1,1.2 1-.6 1,.8 1-.7 1-.2 1-.7 1-.4 1,.7 1-.9 1-.2 1-.1 1,2.1 1-.8 1-.8 1,.3 1,.2 1,.7 1,.3 1-.9 1-.2 1,.6 1-1.8 1,.5 1-.5 1,1 1,.6 1-.2 1-1.5 1,.4 1-1.3 1,.7 1-.9 1-.1 1,.1 1-1.2 1,1.6 1,1 1-.6 1,.9 1,.8 1-.2 1,1.3 1,0 1-1.8 1,.1 1-1 1-1.9 1-.7 1-.3 1,1 1,1.8 1,.9 1,.8 1-.8 1,.8 1-.8 1,.5 1-1.4 1,1.9 1,.8 1,.5 1,.9 1-2 1,.2 1-.8 1,.9 1-1.3 1,.8 1,1.3 1-1.9 1,.8 1-.5 1-.5 1-1.5 1,1.8 1-.9 1,3 1-.1 1,.4 1-2.3 1,1.4 1-.6 1,1.1 1,1.5 1-2.6 1,.5 1-.8 1,0 1-1.4 1,.5 1,.4 1,0 1-.8 1,0 1,0 1,1.2 1-.2 1,1.9 1-1 1-1.5 1,.8 1,.1 1,.3 1-.4 1,.9 1-.6 1-.6" fill="none" stroke="#b2b2b2" stroke-width="2.0" stroke-linejoin="round" />
<path d="M216,223.4l1-.9 1,1.5 1,1.2 1-.8 1-.1 1-.3 1-.3 1,.7 1,.7 1,1.1 1-.9 1,1.3 1-1.2 1-1.1 1-1 1,2.8 1,0 1,.1 1-2.1 1,.6 1-.9 1,2 1-.3 1-.4 1-1 1,.4 1,.4 1-.4 1,.9 1,.7 1-2.3 1,.4 1-.7 1,.6 1,2.6 1-.3 1,.2 1-.2 1-1 1-1.2 1,0 1,1.5 1-.5 1-.5 1,.4 1,2.3 1-2.5 1,.2 1,.7 1-1.8 1,1.2 1-.8 1,1.3 1-1.6 1-1.5 1,.1 1-.5 1-.8 1,.8 1,.8 1-.5 1-1.2 1,1.2 1-.9 1-.7 1,.6 1,.7 1-2.1 1,1.2 1-.8 1,2.3 1-.1 1,1.6 1-.8 1,.5 1-.8 1,.4 1,.1 1,1 1,.5 1,.7 1,.8 1-1.7 1-.1 1-.1 1,2.1 1-2.1 1,.6 1-2.2 1,1.6 1,1.9 1-1.9 1-1.3 1,0 1-2.6 1,.7 1,1.5 1,1.2 1-1.2 1,0 1,1.3 1-1.5 1-.4 1-.2 1,.9 1,.6 1,.3 1,.5 1-.4 1-1 1,.6 1-.1 1,1 1,.4 1-1.3 1,.8 1-.3 1-.8 1-.9 1,.5 1,1.8 1,0 1,.9 1-.8 1,.7 1,.1 1,1.2 1-.6 1,.2 1-1.8 1,.3 1,1.5 1-.1 1-1 1,.6 1-1.3 1,1.5 1-.4" fill="none" stroke="#b2b2b2" stroke-width="2.0" stroke-linejoin="round" />
<path d="M216,225.9l1-.4 1,1.3 1,.9 1-1.5 1,1.5 1-2.6 1,0 1,.2 1,0 1-.7 1,.4 1,1.6 1-.8 1-.4 1,1 1-1.8 1,1.8 1,.6 1-.5 1,.2 1-.3 1-.4 1,1 1-1.1 1,.3 1-.5 1,.1 1-.4 1,1.4 1,.5 1-.3 1-.2 1,.8 1,.3 1-.8 1-1.5 1,.4 1,.5 1,1.4 1,.2 1-.7 1-.8 1-.4 1,.2 1,.1 1-.6 1,.8 1-1.3 1,.8 1-.7 1,.6 1,.7 1,.8 1-1.4 1,.3 1,.8 1,.1 1-.1 1,.2 1,.6 1-.9 1,.7 1-.1 1,.5 1-1 1-.1 1-1.4 1,0 1,.5 1,2.7 1-1.2 1-1.3 1,0 1-.5 1-.1 1,.8 1,.2 1-.2 1-.4 1,0 1-.4 1,1.2 1-.2 1-.4 1,1.3 1,.4 1,.5 1-1.7 1,.1 1,0 1,2 1-2.6 1,2 1,.5 1-.7 1-.6 1-.3 1-1.1 1,1.3 1-.7 1,.3 1-1.4 1,.5 1-.7 1,.7 1,0 1,1.5 1-1.3 1,1.3 1-.6 1,.4 1,.6 1,.2 1-.5 1,.1 1,.2 1,.2 1-.7 1-1 1-.7 1,.4 1-.9 1,.8 1,.3 1,.2 1-.1 1-1.3 1,1.8 1-.4 1,.4 1-.2 1,.6 1,1.3 1,1.1 1-.5 1-.2 1-2.1 1-1" fill="none" stroke="#b2b2b2" stroke-width="2.0" stroke-linejoin="round" />
<path d="M216,226.6l1,.1 1,.8 1-1.8 1-.2 1,1.1 1-.5 1-.2 1,.2 1-1.9 1-.8 1-.2 1,1.1 1-.7 1,.1 1-.6 1,.7 1,.6 1-.5 1,1.2 1,.2 1-.3 1-.9 1,.8 1,.5 1-.2 1-.5 1,1.2 1,.3 1-2.1 1,.7 1,.2 1-.7 1-.2 1,0 1,.4 1-2 1,.4 1-.4 1,.8 1-.5 1,2.8 1-1.2 1,.6 1,.8 1-1.2 1,1.6 1-1.6 1-.5 1-1 1,1 1,.5 1-.1 1,.7 1-.2 1-1.2 1,.7 1-1.2 1,.9 1,.2 1,.8 1,0 1-1.7 1,.6 1-.6 1-.2 1,.3 1-1.2 1-.1 1,0 1-.3 1-.6 1,.8 1,.6 1,.9 1,.2 1,.8 1-.7 1,.5 1-.2 1,0 1,1.3 1-2.3 1-.4 1,2.2 1,.2 1,.3 1,.5 1-1.4 1,.4 1-1 1,.4 1-.8 1,.3 1,.9 1,0 1-.1 1-.2 1-.2 1,.7 1-1.3 1,1.2 1-1.2 1,1.3 1-.4 1,.9 1,1 1-1.9 1-.3 1-.4 1,.7 1-1.5 1,2.1 1,.4 1,.1 1-.1 1-.5 1-.2 1-.1 1,1.2 1-.5 1-1.1 1,.2 1-.6 1,.8 1,0 1-.2 1,.7 1-.2 1-.4 1,.4 1-1.8 1,1 1,.7 1-.2 1-1.4 1,1 1-.1 1,0" fill="none" stroke="#b2b2b2" stroke-width="2.0" stroke-linejoin="round" />
<path d="M216,224.5l1,.8 1-.8 1-.2 1,.2 1,1.1 1-.9 1,.9 1,0 1-.2 1,1.4 1,.3 1,.6 1,0 1-1.2 1,.8 1,.9 1,1 1-1.8 1-1.5 1,.1 1-.9 1-.7 1,.8 1,0 1,.6 1,2.2 1-1.6 1-.2 1-1 1,.6 1-.3 1-1.1 1,.5 1,.8 1,.3 1,.8 1-.5 1-.5 1,.2 1-.2 1,.4 1-.5 1,1.4 1,1.2 1-.9 1-1 1,0 1-.9 1,1.2 1-.7 1,1.6 1,1.2 1-1.4 1,.6 1-2.1 1,.5 1,.6 1-1.3 1,2.4 1-.5 1,.3 1,.7 1-1.6 1-1.1 1-.3 1-.4 1,1.6 1-.6 1,.2 1-.4 1,2.1 1,1.2 1-1 1,0 1,0 1-.6 1,.1 1-.3 1,.7 1-.7 1,2.1 1-.9 1-1.1 1,.1 1,.8 1-.1 1,1.2 1-.5 1-1.3 1-.5 1-1.2 1,.2 1,.2 1,1.4 1-.2 1-.3 1-.7 1,0 1-.2 1-.6 1,2.1 1-.9 1,.6 1-.8 1-.6 1-.1 1-.2 1,.9 1-1 1,1.2 1-.3 1,.4 1-1.3 1,.7 1-.8 1,1.1 1-.7 1-.4 1,.6 1,1.2 1,.8 1-.8 1,1.3 1-2.8 1,1 1,1 1,.6 1,.6 1-.9 1-.1 1-1.2 1,1.5 1-.7 1-1.1 1-.1 1-.5 1,1.4 1-.1" fill="none" stroke="#b2b2b2" stroke-width="2.0" stroke-linejoin="round" />
<path d="M216,226.2l1,.2 1-.2 1-.2 1,1.9 1-1.4 1,.3 1-2.3 1-.4 1,2.7 1,1.1 1-1.2 1-.9 1-.1 1,.4 1,.8 1-.5 1,.1 1-1.6 1,1.7 1-1 1,.8 1-.7 1,.9 1,.2 1-.2 1-.7 1,1.4 1-.2 1-.3 1,.1 1-.8 1,.5 1,1 1,.2 1,1.3 1-2.7 1,1 1-.9 1-.7 1,.6 1-.1 1,.2 1-.4 1,0 1,.7 1-1.2 1-.2 1,.2 1,.4 1-1.2 1,1.2 1,.5 1,1.3 1-.9 1-.8 1,.6 1-.6 1-.6 1-.2 1,1.1 1,1.2 1,.2 1-.1 1,.1 1-1.2 1-.4 1-1.9 1-1.4 1-1.8 1-1.8 1,1.6 1-.1 1-.4 1,.9 1,1.1 1-.3 1-1.3 1,.9 1-.9 1,1.5 1,0 1,1.7 1,1.8 1-.2 1-.6 1,0 1,.8 1-1.2 1,.5 1-.4 1,.5 1-1.1 1-.3 1,1.3 1,.1 1-.7 1,.3 1,1 1,.1 1-.2 1-1.1 1,1.2 1,0 1,.5 1-2.2 1,1.8 1,.5 1-.4 1,.5 1-.6 1,0 1,.1 1,1.3 1-.6 1,.6 1-1.1 1-.5 1-.2 1,1.4 1-.5 1-1.4 1,.7 1-.3 1,1 1-.8 1,.3 1,.1 1-.6 1,.4 1,.6 1-1 1,1.7 1,.1 1-.8 1,2.8 1-.9 1-1.1 1-1.4" fill="none" stroke="#b2b2b2" stroke-width="2.0" stroke-linejoin="round" />
<path d="M216,226.8l1-.7 1,.7 1,.5 1,.1 1-.2 1,1.5 1-.1 1-1.1 1,.1 1-.8 1,.5 1-.2 1-.4 1-.3 1,.6 1-1.4 1,0 1-.9 1-.2 1,1.8 1,0 1,1 1,.4 1-.4 1,1.1 1-.4 1-1.3 1,.4 1-.3 1-1.9 1,.8 1,.6 1-.8 1-.3 1,1.6 1-1.1 1-1.2 1,2.1 1,.7 1-.5 1-.6 1-.9 1,.2 1,.5 1,1 1,.2 1-.7 1,.2 1,.2 1,1 1-1.2 1-.8 1-.3 1,1.2 1,.4 1-.3 1-.8 1-.9 1,.5 1,.8 1,0 1-1.7 1-.9 1-.2 1,.5 1,2.3 1,.7 1,.3 1,.2 1-1.3 1-1.2 1-1.2 1,.3 1,.3 1,1.1 1-.3 1-.7 1-1.6 1,1.3 1-.3 1,.5 1,1 1,.2 1,1.3 1-1.8 1,1.3 1-2.1 1-.4 1,2.9 1-1.3 1,1.3 1-.9 1,.4 1-.4 1,1.7 1-2.3 1,.5 1-1.4 1,1.2 1,.6 1-.6 1,1 1-.8 1-.6 1,.9 1-.3 1,1.5 1-1.5 1,.6 1,.7 1-1.3 1,.6 1-.7 1-.2 1,1.3 1-.8 1-.5 1,1.2 1-.6 1,.9 1,.3 1-1 1,.1 1-.7 1,.1 1,.7 1-.3 1-.9 1,1.6 1-.2 1-.7 1,1.7 1-1.2 1-.9 1-.7 1,.2 1,0 1,.9" fill="none" stroke="#b2b2b2" stroke-width="2.0" stroke-linejoin="round" />
</g>
<path d="M216,229.4l.9-.2 .9,.2 .9,.2 .9-.3 .9-.1 .9-.1 .9,.2 .9-.1 .9,.2 .9-.2 .9,.2 .9-.3 .9,0 .9,.1 .9,.1 .9-.5 .9,.4 .9-.1 .9-.2 .9,.1 .9,.3 .9-.4 .9-.2 .9,.2 .9,0 .9,.3 .9-.4 .9,.1 .9-.4 .9,.2 .9-.5 .9,.2 .9,0 .9,.2 .9-.3 .9,.8 .9-.1 .9-.3 .9-.5 .9-.1 .9,.3 .9-.2 .9,.2 .9-.3 .9,0 .9,.2 .9-.3 .9-.1 .9,.3 .9,0 .9,.2 .9,.4 .9,0 .9,0 .9-.3 .9,.1 .9,.5 .9,0 .9,.4 .9-.7 .9-.2 .9-.1 .9-.5 .9-.2 .9-.6 .9-.9 .9-1.1 .9-1.1 .9-1.5 .9-.2 .9-.5 .9,.5 .9,.6 .9,.2 .9,0 .9,.5 .9,.2 .9,.2 .9,.5 .9-.2 .9,.9 .9,.1 .9,.3 .9,.1 .9-.1 .9,.3 .9,.3 .9,.1 .9,.4 .9,.8 .9,.2 .9,0 .9,0 .9-.2 .9,.6 .9,0 .9,0 .9,0 .9-.4 .9,.5 .9-.1 .9-.2 .9,.1 .9,.1 .9,.4 .9,.2 .9-.1 .9-.2 .9-.3 .9,.3 .9,0 .9,0 .9-.1 .9-.4 .9-.1 .9-.5 .9,.2 .9,.2 .9-.5 .9,.1 .9,.1 .9,.2 .9-.8 .9-.6 .9,0 .9-.1 .9,.1 .9,.2 .9,.1 .9,.3 .9,.2 .9,.2 .9-.2 .9-.4 .9-.2 .9,.4 .9-.4 .9-.1 .9-.1 .9,.5 .9-.4 .9,.2 .9,.1 .9,.1 .9,.2 .9,.2 .9-.3 .9,.5 .9,.3 .9,.2 .9-.1 .9,.5 .9-.2" fill="none" stroke="#050505" stroke-width="1.6" stroke-linejoin="round" />
<text x="388.5" y="11.8" font-size="15.3" font-weight="bold" text-anchor="start" fill="#0a0a0a" >C</text>
<path d="M423.5,32.4l0,150.3 97.3,0" fill="none" stroke="#2e2e2e" stroke-width="1.1" stroke-linejoin="round" />
<line x1="423.5" y1="164.6" x2="425.7" y2="164.6" stroke="#2e2e2e" stroke-width="1" />
<line x1="423.5" y1="145.8" x2="425.7" y2="145.8" stroke="#2e2e2e" stroke-width="1" />
<line x1="423.5" y1="127" x2="425.7" y2="127" stroke="#2e2e2e" stroke-width="1" />
<line x1="423.5" y1="108.2" x2="425.7" y2="108.2" stroke="#2e2e2e" stroke-width="1" />
<line x1="423.5" y1="89.4" x2="425.7" y2="89.4" stroke="#2e2e2e" stroke-width="1" />
<line x1="423.5" y1="70.6" x2="425.7" y2="70.6" stroke="#2e2e2e" stroke-width="1" />
<line x1="423.5" y1="51.8" x2="425.7" y2="51.8" stroke="#2e2e2e" stroke-width="1" />
<line x1="423.5" y1="33" x2="425.7" y2="33" stroke="#2e2e2e" stroke-width="1" />
<text x="419.6" y="169" font-size="10.8" font-weight="normal" text-anchor="end" fill="#0a0a0a" >0</text>
<text x="419.6" y="150.2" font-size="10.8" font-weight="normal" text-anchor="end" fill="#0a0a0a" >5</text>
<text x="419.6" y="131.4" font-size="10.8" font-weight="normal" text-anchor="end" fill="#0a0a0a" >10</text>
<text x="419.6" y="112.6" font-size="10.8" font-weight="normal" text-anchor="end" fill="#0a0a0a" >15</text>
<text x="419.6" y="93.8" font-size="10.8" font-weight="normal" text-anchor="end" fill="#0a0a0a" >20</text>
<text x="419.6" y="75" font-size="10.8" font-weight="normal" text-anchor="end" fill="#0a0a0a" >25</text>
<text x="419.6" y="56.2" font-size="10.8" font-weight="normal" text-anchor="end" fill="#0a0a0a" >30</text>
<text x="419.6" y="37.4" font-size="10.8" font-weight="normal" text-anchor="end" fill="#0a0a0a" >35</text>
<text transform="translate(400.2,101.5) rotate(-90)" font-size="10.8" text-anchor="middle" fill="#0a0a0a">Firing rate (Hz)</text>
<line x1="451.8" y1="102.6" x2="502" y2="90.9" stroke="#f17e80" stroke-width="2.5" stroke-linecap="round"/>
<line x1="451.8" y1="108.2" x2="502" y2="93.2" stroke="#f17e80" stroke-width="2.5" stroke-linecap="round"/>
<line x1="451.8" y1="110.5" x2="502" y2="115.3" stroke="#f17e80" stroke-width="2.5" stroke-linecap="round"/>
<line x1="451.8" y1="114.2" x2="502" y2="96.9" stroke="#f17e80" stroke-width="2.5" stroke-linecap="round"/>
<line x1="451.8" y1="137.5" x2="502" y2="128.1" stroke="#f17e80" stroke-width="2.5" stroke-linecap="round"/>
<line x1="451.8" y1="140.9" x2="502" y2="132.6" stroke="#f17e80" stroke-width="2.5" stroke-linecap="round"/>
<line x1="451.8" y1="142" x2="502" y2="153.3" stroke="#f17e80" stroke-width="2.5" stroke-linecap="round"/>
<line x1="451.8" y1="153.3" x2="502" y2="51.4" stroke="#f17e80" stroke-width="2.5" stroke-linecap="round"/>
<line x1="451.8" y1="159" x2="502" y2="96.2" stroke="#f17e80" stroke-width="2.5" stroke-linecap="round"/>
<line x1="451.8" y1="152.6" x2="502" y2="136" stroke="#f17e80" stroke-width="2.5" stroke-linecap="round"/>
<line x1="451.8" y1="156.3" x2="502" y2="148.8" stroke="#f17e80" stroke-width="2.5" stroke-linecap="round"/>
<line x1="451.8" y1="158.6" x2="502" y2="153.3" stroke="#f17e80" stroke-width="2.5" stroke-linecap="round"/>
<line x1="451.8" y1="160.8" x2="502" y2="155.2" stroke="#f17e80" stroke-width="2.5" stroke-linecap="round"/>
<line x1="451.8" y1="162.7" x2="502" y2="157.1" stroke="#f17e80" stroke-width="2.5" stroke-linecap="round"/>
<line x1="451.8" y1="164.6" x2="502" y2="159" stroke="#f17e80" stroke-width="2.5" stroke-linecap="round"/>
<line x1="451.8" y1="164.6" x2="502" y2="164.6" stroke="#f17e80" stroke-width="2.5" stroke-linecap="round"/>
<line x1="451.8" y1="162.3" x2="502" y2="162.3" stroke="#f17e80" stroke-width="2.5" stroke-linecap="round"/>
<line x1="451.8" y1="160.1" x2="502" y2="151.1" stroke="#f17e80" stroke-width="2.5" stroke-linecap="round"/>
<line x1="451.8" y1="154.8" x2="502" y2="157.1" stroke="#f17e80" stroke-width="2.5" stroke-linecap="round"/>
<line x1="451.8" y1="150.3" x2="502" y2="147.7" stroke="#f17e80" stroke-width="2.5" stroke-linecap="round"/>
<line x1="451.8" y1="163.5" x2="502" y2="160.8" stroke="#f17e80" stroke-width="2.5" stroke-linecap="round"/>
<circle cx="451.8" cy="102.6" r="5.2" fill="#f17e80"/>
<circle cx="451.8" cy="108.2" r="5.2" fill="#f17e80"/>
<circle cx="451.8" cy="110.5" r="5.2" fill="#f17e80"/>
<circle cx="451.8" cy="114.2" r="5.2" fill="#f17e80"/>
<circle cx="451.8" cy="137.5" r="5.2" fill="#f17e80"/>
<circle cx="451.8" cy="140.9" r="5.2" fill="#f17e80"/>
<circle cx="451.8" cy="142" r="5.2" fill="#f17e80"/>
<circle cx="451.8" cy="153.3" r="5.2" fill="#f17e80"/>
<circle cx="451.8" cy="159" r="5.2" fill="#f17e80"/>
<circle cx="451.8" cy="152.6" r="5.2" fill="#f17e80"/>
<circle cx="451.8" cy="156.3" r="5.2" fill="#f17e80"/>
<circle cx="451.8" cy="158.6" r="5.2" fill="#f17e80"/>
<circle cx="451.8" cy="160.8" r="5.2" fill="#f17e80"/>
<circle cx="451.8" cy="162.7" r="5.2" fill="#f17e80"/>
<circle cx="451.8" cy="164.6" r="5.2" fill="#f17e80"/>
<circle cx="451.8" cy="164.6" r="5.2" fill="#f17e80"/>
<circle cx="451.8" cy="162.3" r="5.2" fill="#f17e80"/>
<circle cx="451.8" cy="160.1" r="5.2" fill="#f17e80"/>
<circle cx="451.8" cy="154.8" r="5.2" fill="#f17e80"/>
<circle cx="451.8" cy="150.3" r="5.2" fill="#f17e80"/>
<circle cx="451.8" cy="163.5" r="5.2" fill="#f17e80"/>
<circle cx="502" cy="90.9" r="5.2" fill="#f17e80"/>
<circle cx="502" cy="93.2" r="5.2" fill="#f17e80"/>
<circle cx="502" cy="115.3" r="5.2" fill="#f17e80"/>
<circle cx="502" cy="96.9" r="5.2" fill="#f17e80"/>
<circle cx="502" cy="128.1" r="5.2" fill="#f17e80"/>
<circle cx="502" cy="132.6" r="5.2" fill="#f17e80"/>
<circle cx="502" cy="153.3" r="5.2" fill="#f17e80"/>
<circle cx="502" cy="51.4" r="5.2" fill="#f17e80"/>
<circle cx="502" cy="96.2" r="5.2" fill="#f17e80"/>
<circle cx="502" cy="136" r="5.2" fill="#f17e80"/>
<circle cx="502" cy="148.8" r="5.2" fill="#f17e80"/>
<circle cx="502" cy="153.3" r="5.2" fill="#f17e80"/>
<circle cx="502" cy="155.2" r="5.2" fill="#f17e80"/>
<circle cx="502" cy="157.1" r="5.2" fill="#f17e80"/>
<circle cx="502" cy="159" r="5.2" fill="#f17e80"/>
<circle cx="502" cy="164.6" r="5.2" fill="#f17e80"/>
<circle cx="502" cy="162.3" r="5.2" fill="#f17e80"/>
<circle cx="502" cy="151.1" r="5.2" fill="#f17e80"/>
<circle cx="502" cy="157.1" r="5.2" fill="#f17e80"/>
<circle cx="502" cy="147.7" r="5.2" fill="#f17e80"/>
<circle cx="502" cy="160.8" r="5.2" fill="#f17e80"/>
<line x1="439.3" y1="150.5" x2="464.3" y2="150.5" stroke="#141414" stroke-width="1.15" />
<line x1="489.5" y1="139.5" x2="514.5" y2="139.5" stroke="#141414" stroke-width="1.15" />
<line x1="452.5" y1="26.3" x2="502" y2="26.3" stroke="#1a1a1a" stroke-width="1.05" />
<text x="475.8" y="28.3" font-size="15" font-weight="normal" text-anchor="middle" fill="#0a0a0a" >*</text>
<text x="426.6" y="194.6" font-size="10.8" font-weight="normal" text-anchor="start" fill="#0a0a0a" >Silence</text>
<text x="477.2" y="193" font-size="8" fill="#f26a36" font-weight="bold">+</text>
<text x="482.4" y="195.2" font-size="11.5" fill="#f26a36" font-weight="bold" class="fm" stroke="#f26a36" stroke-width="0.8">♀</text>
<text x="494.2" y="194.6" font-size="10.8" font-weight="normal" text-anchor="start" fill="#0a0a0a" >Call</text>
<text x="560.5" y="11.8" font-size="15.3" font-weight="bold" text-anchor="start" fill="#0a0a0a" >D</text>
<path d="M587.1,32.2l0,150.1 97.9,0" fill="none" stroke="#2e2e2e" stroke-width="1.1" stroke-linejoin="round" />
<line x1="587.1" y1="182.1" x2="589.3" y2="182.1" stroke="#2e2e2e" stroke-width="1" />
<line x1="587.1" y1="164.5" x2="589.3" y2="164.5" stroke="#2e2e2e" stroke-width="1" />
<line x1="587.1" y1="146.9" x2="589.3" y2="146.9" stroke="#2e2e2e" stroke-width="1" />
<line x1="587.1" y1="129.3" x2="589.3" y2="129.3" stroke="#2e2e2e" stroke-width="1" />
<line x1="587.1" y1="111.7" x2="589.3" y2="111.7" stroke="#2e2e2e" stroke-width="1" />
<line x1="587.1" y1="94.1" x2="589.3" y2="94.1" stroke="#2e2e2e" stroke-width="1" />
<line x1="587.1" y1="76.5" x2="589.3" y2="76.5" stroke="#2e2e2e" stroke-width="1" />
<line x1="587.1" y1="58.9" x2="589.3" y2="58.9" stroke="#2e2e2e" stroke-width="1" />
<line x1="587.1" y1="41.3" x2="589.3" y2="41.3" stroke="#2e2e2e" stroke-width="1" />
<text x="583.2" y="185" font-size="10.8" font-weight="normal" text-anchor="end" fill="#0a0a0a" >-2</text>
<text x="583.2" y="168.4" font-size="10.8" font-weight="normal" text-anchor="end" fill="#0a0a0a" >-1</text>
<text x="583.2" y="150.8" font-size="10.8" font-weight="normal" text-anchor="end" fill="#0a0a0a" >0</text>
<text x="583.2" y="133.2" font-size="10.8" font-weight="normal" text-anchor="end" fill="#0a0a0a" >1</text>
<text x="583.2" y="115.6" font-size="10.8" font-weight="normal" text-anchor="end" fill="#0a0a0a" >2</text>
<text x="583.2" y="98" font-size="10.8" font-weight="normal" text-anchor="end" fill="#0a0a0a" >3</text>
<text x="583.2" y="80.4" font-size="10.8" font-weight="normal" text-anchor="end" fill="#0a0a0a" >4</text>
<text x="583.2" y="62.8" font-size="10.8" font-weight="normal" text-anchor="end" fill="#0a0a0a" >5</text>
<text x="583.2" y="45.2" font-size="10.8" font-weight="normal" text-anchor="end" fill="#0a0a0a" >6</text>
<text transform="translate(571,98.5) rotate(-90)" font-size="10.8" text-anchor="middle" fill="#0a0a0a">Spiking precision</text>
<line x1="614.3" y1="124" x2="664.4" y2="91.5" stroke="#f17e80" stroke-width="2.5" stroke-linecap="round"/>
<line x1="614.3" y1="141.6" x2="664.4" y2="91.5" stroke="#f17e80" stroke-width="2.5" stroke-linecap="round"/>
<line x1="614.3" y1="125.8" x2="664.4" y2="108.2" stroke="#f17e80" stroke-width="2.5" stroke-linecap="round"/>
<line x1="614.3" y1="129.3" x2="664.4" y2="125.8" stroke="#f17e80" stroke-width="2.5" stroke-linecap="round"/>
<line x1="614.3" y1="131.1" x2="664.4" y2="111.7" stroke="#f17e80" stroke-width="2.5" stroke-linecap="round"/>
<line x1="614.3" y1="132.8" x2="664.4" y2="139.9" stroke="#f17e80" stroke-width="2.5" stroke-linecap="round"/>
<line x1="614.3" y1="134.6" x2="664.4" y2="120.5" stroke="#f17e80" stroke-width="2.5" stroke-linecap="round"/>
<line x1="614.3" y1="138.1" x2="664.4" y2="115.2" stroke="#f17e80" stroke-width="2.5" stroke-linecap="round"/>
<line x1="614.3" y1="145.1" x2="664.4" y2="124" stroke="#f17e80" stroke-width="2.5" stroke-linecap="round"/>
<line x1="614.3" y1="146.9" x2="664.4" y2="131.1" stroke="#f17e80" stroke-width="2.5" stroke-linecap="round"/>
<line x1="614.3" y1="148.7" x2="664.4" y2="134.6" stroke="#f17e80" stroke-width="2.5" stroke-linecap="round"/>
<line x1="614.3" y1="150.4" x2="664.4" y2="109.9" stroke="#f17e80" stroke-width="2.5" stroke-linecap="round"/>
<line x1="614.3" y1="152.2" x2="664.4" y2="143.4" stroke="#f17e80" stroke-width="2.5" stroke-linecap="round"/>
<line x1="614.3" y1="153.9" x2="664.4" y2="129.3" stroke="#f17e80" stroke-width="2.5" stroke-linecap="round"/>
<line x1="614.3" y1="155.7" x2="664.4" y2="146.9" stroke="#f17e80" stroke-width="2.5" stroke-linecap="round"/>
<line x1="614.3" y1="157.5" x2="664.4" y2="138.1" stroke="#f17e80" stroke-width="2.5" stroke-linecap="round"/>
<line x1="614.3" y1="159.2" x2="664.4" y2="152.2" stroke="#f17e80" stroke-width="2.5" stroke-linecap="round"/>
<line x1="614.3" y1="161" x2="664.4" y2="155.7" stroke="#f17e80" stroke-width="2.5" stroke-linecap="round"/>
<line x1="614.3" y1="162.7" x2="664.4" y2="159.2" stroke="#f17e80" stroke-width="2.5" stroke-linecap="round"/>
<line x1="614.3" y1="143.4" x2="664.4" y2="162.7" stroke="#f17e80" stroke-width="2.5" stroke-linecap="round"/>
<line x1="614.3" y1="147.8" x2="664.4" y2="161" stroke="#f17e80" stroke-width="2.5" stroke-linecap="round"/>
<line x1="614.3" y1="139.9" x2="664.4" y2="148.7" stroke="#f17e80" stroke-width="2.5" stroke-linecap="round"/>
<line x1="614.3" y1="127.5" x2="664.4" y2="117.9" stroke="#f17e80" stroke-width="2.5" stroke-linecap="round"/>
<circle cx="614.3" cy="124" r="5.2" fill="#f17e80"/>
<circle cx="614.3" cy="141.6" r="5.2" fill="#f17e80"/>
<circle cx="614.3" cy="125.8" r="5.2" fill="#f17e80"/>
<circle cx="614.3" cy="129.3" r="5.2" fill="#f17e80"/>
<circle cx="614.3" cy="131.1" r="5.2" fill="#f17e80"/>
<circle cx="614.3" cy="132.8" r="5.2" fill="#f17e80"/>
<circle cx="614.3" cy="134.6" r="5.2" fill="#f17e80"/>
<circle cx="614.3" cy="138.1" r="5.2" fill="#f17e80"/>
<circle cx="614.3" cy="145.1" r="5.2" fill="#f17e80"/>
<circle cx="614.3" cy="146.9" r="5.2" fill="#f17e80"/>
<circle cx="614.3" cy="148.7" r="5.2" fill="#f17e80"/>
<circle cx="614.3" cy="150.4" r="5.2" fill="#f17e80"/>
<circle cx="614.3" cy="152.2" r="5.2" fill="#f17e80"/>
<circle cx="614.3" cy="153.9" r="5.2" fill="#f17e80"/>
<circle cx="614.3" cy="155.7" r="5.2" fill="#f17e80"/>
<circle cx="614.3" cy="157.5" r="5.2" fill="#f17e80"/>
<circle cx="614.3" cy="159.2" r="5.2" fill="#f17e80"/>
<circle cx="614.3" cy="161" r="5.2" fill="#f17e80"/>
<circle cx="614.3" cy="162.7" r="5.2" fill="#f17e80"/>
<circle cx="614.3" cy="143.4" r="5.2" fill="#f17e80"/>
<circle cx="614.3" cy="147.8" r="5.2" fill="#f17e80"/>
<circle cx="614.3" cy="139.9" r="5.2" fill="#f17e80"/>
<circle cx="614.3" cy="127.5" r="5.2" fill="#f17e80"/>
<circle cx="664.4" cy="91.5" r="5.2" fill="#f17e80"/>
<circle cx="664.4" cy="91.5" r="5.2" fill="#f17e80"/>
<circle cx="664.4" cy="108.2" r="5.2" fill="#f17e80"/>
<circle cx="664.4" cy="125.8" r="5.2" fill="#f17e80"/>
<circle cx="664.4" cy="111.7" r="5.2" fill="#f17e80"/>
<circle cx="664.4" cy="139.9" r="5.2" fill="#f17e80"/>
<circle cx="664.4" cy="120.5" r="5.2" fill="#f17e80"/>
<circle cx="664.4" cy="115.2" r="5.2" fill="#f17e80"/>
<circle cx="664.4" cy="124" r="5.2" fill="#f17e80"/>
<circle cx="664.4" cy="131.1" r="5.2" fill="#f17e80"/>
<circle cx="664.4" cy="134.6" r="5.2" fill="#f17e80"/>
<circle cx="664.4" cy="109.9" r="5.2" fill="#f17e80"/>
<circle cx="664.4" cy="143.4" r="5.2" fill="#f17e80"/>
<circle cx="664.4" cy="129.3" r="5.2" fill="#f17e80"/>
<circle cx="664.4" cy="146.9" r="5.2" fill="#f17e80"/>
<circle cx="664.4" cy="138.1" r="5.2" fill="#f17e80"/>
<circle cx="664.4" cy="152.2" r="5.2" fill="#f17e80"/>
<circle cx="664.4" cy="155.7" r="5.2" fill="#f17e80"/>
<circle cx="664.4" cy="159.2" r="5.2" fill="#f17e80"/>
<circle cx="664.4" cy="162.7" r="5.2" fill="#f17e80"/>
<circle cx="664.4" cy="161" r="5.2" fill="#f17e80"/>
<circle cx="664.4" cy="148.7" r="5.2" fill="#f17e80"/>
<circle cx="664.4" cy="117.9" r="5.2" fill="#f17e80"/>
<line x1="601.8" y1="146.5" x2="626.8" y2="146.5" stroke="#141414" stroke-width="1.15" />
<line x1="651.9" y1="133.5" x2="676.9" y2="133.5" stroke="#141414" stroke-width="1.15" />
<line x1="613" y1="26.3" x2="662.5" y2="26.3" stroke="#1a1a1a" stroke-width="1.05" />
<text x="638.6" y="28.3" font-size="15" font-weight="normal" text-anchor="middle" fill="#0a0a0a" >*</text>
<text x="596.5" y="193.3" font-size="10.8" font-weight="normal" text-anchor="start" fill="#0a0a0a" >Silence</text>
<text x="640.5" y="191.7" font-size="8" fill="#f26a36" font-weight="bold">+</text>
<text x="645.7" y="193.9" font-size="11.5" fill="#f26a36" font-weight="bold" class="fm" stroke="#f26a36" stroke-width="0.8">♀</text>
<text x="657.3" y="193.3" font-size="10.8" font-weight="normal" text-anchor="start" fill="#0a0a0a" >Call</text>
<text x="389" y="207.3" font-size="15.3" font-weight="bold" text-anchor="start" fill="#0a0a0a" >E</text>
<path d="M423.3,217.7l0,149.5 96.2,0" fill="none" stroke="#2e2e2e" stroke-width="1.1" stroke-linejoin="round" />
<line x1="423.3" y1="367.4" x2="425.5" y2="367.4" stroke="#2e2e2e" stroke-width="1" />
<line x1="423.3" y1="342.5" x2="425.5" y2="342.5" stroke="#2e2e2e" stroke-width="1" />
<line x1="423.3" y1="317.6" x2="425.5" y2="317.6" stroke="#2e2e2e" stroke-width="1" />
<line x1="423.3" y1="292.8" x2="425.5" y2="292.8" stroke="#2e2e2e" stroke-width="1" />
<line x1="423.3" y1="267.9" x2="425.5" y2="267.9" stroke="#2e2e2e" stroke-width="1" />
<line x1="423.3" y1="243.1" x2="425.5" y2="243.1" stroke="#2e2e2e" stroke-width="1" />
<line x1="423.3" y1="218.2" x2="425.5" y2="218.2" stroke="#2e2e2e" stroke-width="1" />
<text x="419.4" y="370.3" font-size="10.8" font-weight="normal" text-anchor="end" fill="#0a0a0a" >-0.2</text>
<text x="419.4" y="346.4" font-size="10.8" font-weight="normal" text-anchor="end" fill="#0a0a0a" >0</text>
<text x="419.4" y="321.5" font-size="10.8" font-weight="normal" text-anchor="end" fill="#0a0a0a" >0.2</text>
<text x="419.4" y="296.7" font-size="10.8" font-weight="normal" text-anchor="end" fill="#0a0a0a" >0.4</text>
<text x="419.4" y="271.8" font-size="10.8" font-weight="normal" text-anchor="end" fill="#0a0a0a" >0.6</text>
<text x="419.4" y="247" font-size="10.8" font-weight="normal" text-anchor="end" fill="#0a0a0a" >0.8</text>
<text x="419.4" y="222.1" font-size="10.8" font-weight="normal" text-anchor="end" fill="#0a0a0a" >1</text>
<text transform="translate(397.5,287) rotate(-90)" font-size="10.8" text-anchor="middle" fill="#0a0a0a">Subthreshold correlation</text>
<line x1="447.4" y1="313" x2="497.5" y2="259.2" stroke="#f17e80" stroke-width="2.5" stroke-linecap="round"/>
<line x1="447.4" y1="340" x2="497.5" y2="279.7" stroke="#f17e80" stroke-width="2.5" stroke-linecap="round"/>
<line x1="447.4" y1="338.8" x2="497.5" y2="292.8" stroke="#f17e80" stroke-width="2.5" stroke-linecap="round"/>
<line x1="447.4" y1="341.3" x2="497.5" y2="299" stroke="#f17e80" stroke-width="2.5" stroke-linecap="round"/>
<line x1="447.4" y1="337.5" x2="497.5" y2="310.2" stroke="#f17e80" stroke-width="2.5" stroke-linecap="round"/>
<line x1="447.4" y1="336.3" x2="497.5" y2="312.7" stroke="#f17e80" stroke-width="2.5" stroke-linecap="round"/>
<line x1="447.4" y1="342.5" x2="497.5" y2="315.2" stroke="#f17e80" stroke-width="2.5" stroke-linecap="round"/>
<line x1="447.4" y1="345" x2="497.5" y2="317.6" stroke="#f17e80" stroke-width="2.5" stroke-linecap="round"/>
<line x1="447.4" y1="335" x2="497.5" y2="320.1" stroke="#f17e80" stroke-width="2.5" stroke-linecap="round"/>
<line x1="447.4" y1="340" x2="497.5" y2="322.6" stroke="#f17e80" stroke-width="2.5" stroke-linecap="round"/>
<line x1="447.4" y1="347.5" x2="497.5" y2="325.1" stroke="#f17e80" stroke-width="2.5" stroke-linecap="round"/>
<line x1="447.4" y1="338.8" x2="497.5" y2="327.6" stroke="#f17e80" stroke-width="2.5" stroke-linecap="round"/>
<line x1="447.4" y1="342.5" x2="497.5" y2="330.1" stroke="#f17e80" stroke-width="2.5" stroke-linecap="round"/>
<line x1="447.4" y1="356.2" x2="497.5" y2="332.6" stroke="#f17e80" stroke-width="2.5" stroke-linecap="round"/>
<line x1="447.4" y1="341.3" x2="497.5" y2="335" stroke="#f17e80" stroke-width="2.5" stroke-linecap="round"/>
<line x1="447.4" y1="336.3" x2="497.5" y2="337.5" stroke="#f17e80" stroke-width="2.5" stroke-linecap="round"/>
<line x1="447.4" y1="346.2" x2="497.5" y2="340" stroke="#f17e80" stroke-width="2.5" stroke-linecap="round"/>
<line x1="447.4" y1="340" x2="497.5" y2="342.5" stroke="#f17e80" stroke-width="2.5" stroke-linecap="round"/>
<line x1="447.4" y1="337.5" x2="497.5" y2="326.3" stroke="#f17e80" stroke-width="2.5" stroke-linecap="round"/>
<line x1="447.4" y1="343.7" x2="497.5" y2="331.3" stroke="#f17e80" stroke-width="2.5" stroke-linecap="round"/>
<circle cx="447.4" cy="313" r="5.2" fill="#f17e80"/>
<circle cx="447.4" cy="340" r="5.2" fill="#f17e80"/>
<circle cx="447.4" cy="338.8" r="5.2" fill="#f17e80"/>
<circle cx="447.4" cy="341.3" r="5.2" fill="#f17e80"/>
<circle cx="447.4" cy="337.5" r="5.2" fill="#f17e80"/>
<circle cx="447.4" cy="336.3" r="5.2" fill="#f17e80"/>
<circle cx="447.4" cy="342.5" r="5.2" fill="#f17e80"/>
<circle cx="447.4" cy="345" r="5.2" fill="#f17e80"/>
<circle cx="447.4" cy="335" r="5.2" fill="#f17e80"/>
<circle cx="447.4" cy="340" r="5.2" fill="#f17e80"/>
<circle cx="447.4" cy="347.5" r="5.2" fill="#f17e80"/>
<circle cx="447.4" cy="338.8" r="5.2" fill="#f17e80"/>
<circle cx="447.4" cy="342.5" r="5.2" fill="#f17e80"/>
<circle cx="447.4" cy="356.2" r="5.2" fill="#f17e80"/>
<circle cx="447.4" cy="341.3" r="5.2" fill="#f17e80"/>
<circle cx="447.4" cy="336.3" r="5.2" fill="#f17e80"/>
<circle cx="447.4" cy="346.2" r="5.2" fill="#f17e80"/>
<circle cx="447.4" cy="340" r="5.2" fill="#f17e80"/>
<circle cx="447.4" cy="337.5" r="5.2" fill="#f17e80"/>
<circle cx="447.4" cy="343.7" r="5.2" fill="#f17e80"/>
<circle cx="497.5" cy="259.2" r="5.2" fill="#f17e80"/>
<circle cx="497.5" cy="279.7" r="5.2" fill="#f17e80"/>
<circle cx="497.5" cy="292.8" r="5.2" fill="#f17e80"/>
<circle cx="497.5" cy="299" r="5.2" fill="#f17e80"/>
<circle cx="497.5" cy="310.2" r="5.2" fill="#f17e80"/>
<circle cx="497.5" cy="312.7" r="5.2" fill="#f17e80"/>
<circle cx="497.5" cy="315.2" r="5.2" fill="#f17e80"/>
<circle cx="497.5" cy="317.6" r="5.2" fill="#f17e80"/>
<circle cx="497.5" cy="320.1" r="5.2" fill="#f17e80"/>
<circle cx="497.5" cy="322.6" r="5.2" fill="#f17e80"/>
<circle cx="497.5" cy="325.1" r="5.2" fill="#f17e80"/>
<circle cx="497.5" cy="327.6" r="5.2" fill="#f17e80"/>
<circle cx="497.5" cy="330.1" r="5.2" fill="#f17e80"/>
<circle cx="497.5" cy="332.6" r="5.2" fill="#f17e80"/>
<circle cx="497.5" cy="335" r="5.2" fill="#f17e80"/>
<circle cx="497.5" cy="337.5" r="5.2" fill="#f17e80"/>
<circle cx="497.5" cy="340" r="5.2" fill="#f17e80"/>
<circle cx="497.5" cy="342.5" r="5.2" fill="#f17e80"/>
<circle cx="497.5" cy="326.3" r="5.2" fill="#f17e80"/>
<circle cx="497.5" cy="331.3" r="5.2" fill="#f17e80"/>
<line x1="434.9" y1="341.5" x2="459.9" y2="341.5" stroke="#141414" stroke-width="1.15" />
<line x1="485" y1="322.5" x2="510" y2="322.5" stroke="#141414" stroke-width="1.15" />
<line x1="447.5" y1="210.8" x2="497.4" y2="210.8" stroke="#1a1a1a" stroke-width="1.05" />
<text x="470.9" y="212.8" font-size="15" font-weight="normal" text-anchor="middle" fill="#0a0a0a" >*</text>
<text x="428.3" y="379.9" font-size="10.8" font-weight="normal" text-anchor="start" fill="#0a0a0a" >Silence</text>
<text x="475.6" y="378.3" font-size="8" fill="#f26a36" font-weight="bold">+</text>
<text x="480.8" y="380.5" font-size="11.5" fill="#f26a36" font-weight="bold" class="fm" stroke="#f26a36" stroke-width="0.8">♀</text>
<text x="492.7" y="379.9" font-size="10.8" font-weight="normal" text-anchor="start" fill="#0a0a0a" >Call</text>
<text x="561.4" y="207.3" font-size="15.3" font-weight="bold" text-anchor="start" fill="#0a0a0a" >F</text>
<path d="M587.1,217.2l0,150.5 97.9,0" fill="none" stroke="#2e2e2e" stroke-width="1.1" stroke-linejoin="round" />
<line x1="587.1" y1="352.8" x2="589.3" y2="352.8" stroke="#2e2e2e" stroke-width="1" />
<line x1="587.1" y1="322.7" x2="589.3" y2="322.7" stroke="#2e2e2e" stroke-width="1" />
<line x1="587.1" y1="292.6" x2="589.3" y2="292.6" stroke="#2e2e2e" stroke-width="1" />
<line x1="587.1" y1="262.5" x2="589.3" y2="262.5" stroke="#2e2e2e" stroke-width="1" />
<line x1="587.1" y1="232.4" x2="589.3" y2="232.4" stroke="#2e2e2e" stroke-width="1" />
<line x1="587.1" y1="337.8" x2="588.7" y2="337.8" stroke="#2e2e2e" stroke-width="1" />
<line x1="587.1" y1="307.7" x2="588.7" y2="307.7" stroke="#2e2e2e" stroke-width="1" />
<line x1="587.1" y1="277.5" x2="588.7" y2="277.5" stroke="#2e2e2e" stroke-width="1" />
<line x1="587.1" y1="247.4" x2="588.7" y2="247.4" stroke="#2e2e2e" stroke-width="1" />
<line x1="587.1" y1="217.3" x2="588.7" y2="217.3" stroke="#2e2e2e" stroke-width="1" />
<text x="583.2" y="356.7" font-size="10.8" font-weight="normal" text-anchor="end" fill="#0a0a0a" >-8</text>
<text x="583.2" y="326.6" font-size="10.8" font-weight="normal" text-anchor="end" fill="#0a0a0a" >-4</text>
<text x="583.2" y="296.5" font-size="10.8" font-weight="normal" text-anchor="end" fill="#0a0a0a" >0</text>
<text x="583.2" y="266.4" font-size="10.8" font-weight="normal" text-anchor="end" fill="#0a0a0a" >4</text>
<text x="583.2" y="236.3" font-size="10.8" font-weight="normal" text-anchor="end" fill="#0a0a0a" >8</text>
<text transform="translate(570.3,288) rotate(-90)" font-size="10.8" text-anchor="middle" fill="#0a0a0a">Δ Subthreshold (mV)</text>
<line x1="586.9" y1="292.6" x2="683.6" y2="292.6" stroke="#4a4a4a" stroke-width="1.3" stroke-dasharray="10.7 10.76"/>
<circle cx="596.2" cy="283.6" r="5.3" fill="#f17e80"/>
<circle cx="604.5" cy="275.5" r="5.3" fill="#f17e80"/>
<circle cx="612" cy="266" r="5.3" fill="#f17e80"/>
<circle cx="614.8" cy="279.3" r="5.3" fill="#f17e80"/>
<circle cx="623.8" cy="263.5" r="5.3" fill="#f17e80"/>
<circle cx="627.3" cy="275.5" r="5.3" fill="#f17e80"/>
<circle cx="624.3" cy="288.1" r="5.3" fill="#f17e80"/>
<circle cx="621" cy="300.2" r="5.3" fill="#f17e80"/>
<circle cx="636.1" cy="284.3" r="5.3" fill="#f17e80"/>
<circle cx="633.1" cy="295.1" r="5.3" fill="#f17e80"/>
<circle cx="638.1" cy="265" r="5.3" fill="#f17e80"/>
<circle cx="649.4" cy="265" r="5.3" fill="#f17e80"/>
<circle cx="650.4" cy="237.1" r="5.3" fill="#f17e80"/>
<circle cx="649.4" cy="278.5" r="5.3" fill="#f17e80"/>
<circle cx="646.9" cy="294.4" r="5.3" fill="#f17e80"/>
<circle cx="657.2" cy="287.6" r="5.3" fill="#f17e80"/>
<circle cx="663" cy="269" r="5.3" fill="#f17e80"/>
<circle cx="669.3" cy="280.8" r="5.3" fill="#f17e80"/>
<circle cx="626.1" cy="328.5" r="5.3" fill="#f17e80"/>
<circle cx="639.6" cy="327.8" r="5.3" fill="#f17e80"/>
<circle cx="656.2" cy="326" r="5.3" fill="#f17e80"/>
<circle cx="647.9" cy="335.6" r="5.3" fill="#f17e80"/>
<text x="160.6" y="253" font-size="15.8" font-weight="bold" text-anchor="start" fill="#161616" >Neuron 1</text>
<text x="16.2" y="267.5" font-size="15.3" font-weight="bold" text-anchor="start" fill="#0a0a0a" >G</text>
<text x="48.2" y="269.5" font-size="15.9" font-weight="normal" text-anchor="start" fill="#161616" >BOS</text>
<clipPath id="cG1"><rect x="45.8" y="275.2" width="139.6" height="44.5"/></clipPath>
<rect x="45.8" y="275.2" width="139.6" height="44.5" fill="#000" />
<g clip-path="url(#cG1)"><g filter="url(#b2)">
<ellipse cx="46.1" cy="286.9" rx="2.2" ry="0.5" fill="#2b7fc7" opacity="1"/>
<ellipse cx="47" cy="299.1" rx="2.7" ry="0.5" fill="#6ac5ae" opacity="0.9"/>
<ellipse cx="46.3" cy="282.1" rx="1.2" ry="0.5" fill="#1f5bb7" opacity="0.7"/>
<ellipse cx="51.6" cy="303.7" rx="2.3" ry="0.6" fill="#2776c5" opacity="0.8"/>
<ellipse cx="48.4" cy="315" rx="2.9" ry="0.6" fill="#2266bf" opacity="0.7"/>
<ellipse cx="47.2" cy="282.2" rx="2.7" ry="0.5" fill="#1c52b1" opacity="1"/>
<ellipse cx="50" cy="303.8" rx="2.4" ry="0.6" fill="#2c82c8" opacity="1"/>
<ellipse cx="46.4" cy="305.5" rx="2.8" ry="0.5" fill="#48b1c7" opacity="0.9"/>
<ellipse cx="53.4" cy="285.4" rx="2.3" ry="0.5" fill="#0e2681" opacity="0.8"/>
<ellipse cx="46.3" cy="279.1" rx="2.8" ry="0.4" fill="#15389d" opacity="0.9"/>
<ellipse cx="50" cy="277.5" rx="1.7" ry="0.4" fill="#14369a" opacity="0.7"/>
<ellipse cx="50.1" cy="275.8" rx="2.3" ry="0.4" fill="#0d247f" opacity="0.7"/>
<ellipse cx="48.1" cy="317.8" rx="1.9" ry="0.6" fill="#163ca1" opacity="0.8"/>
<ellipse cx="49.8" cy="317.9" rx="2.1" ry="0.5" fill="#1948a9" opacity="0.9"/>
<ellipse cx="48.7" cy="287.1" rx="1.8" ry="0.5" fill="#1c52b0"/>
<ellipse cx="50.2" cy="291.3" rx="2" ry="0.5" fill="#0f2986" opacity="0.8"/>
<ellipse cx="49.2" cy="310" rx="1.2" ry="0.4" fill="#2571c4" opacity="0.9"/>
<ellipse cx="47.7" cy="290" rx="1.9" ry="0.5" fill="#2268bf" opacity="0.8"/>
<ellipse cx="51.9" cy="294.4" rx="1.4" ry="0.5" fill="#2775c5" opacity="0.9"/>
<ellipse cx="46.6" cy="288.3" rx="1.4" ry="0.4" fill="#2165be" opacity="0.8"/>
<ellipse cx="51.9" cy="316.2" rx="1.6" ry="0.5" fill="#102b8a" opacity="0.8"/>
<ellipse cx="49.5" cy="314.6" rx="2.7" ry="0.4" fill="#1945a7" opacity="0.8"/>
<ellipse cx="45.7" cy="314.9" rx="2" ry="0.5" fill="#1f5eb9" opacity="1"/>
<ellipse cx="48.5" cy="297.6" rx="2.9" ry="0.4" fill="#2d85c8" opacity="0.7"/>
<ellipse cx="53.4" cy="316.5" rx="2.9" ry="0.4" fill="#133497" opacity="0.9"/>
<ellipse cx="51.4" cy="316.4" rx="2.8" ry="0.6" fill="#1b4eae" opacity="1"/>
<ellipse cx="47.1" cy="289.8" rx="2.1" ry="0.4" fill="#1c50af" opacity="1"/>
<ellipse cx="45.1" cy="296.2" rx="2.4" ry="0.5" fill="#0c227b" opacity="0.8"/>
<ellipse cx="46.1" cy="305.3" rx="2.7" ry="0.4" fill="#55b8bd" opacity="0.8"/>
<ellipse cx="51.9" cy="280.7" rx="2.9" ry="0.6" fill="#123293" opacity="0.9"/>
<ellipse cx="49.9" cy="276" rx="1.6" ry="0.5" fill="#133294" opacity="0.9"/>
<ellipse cx="51.6" cy="277.5" rx="1.4" ry="0.4" fill="#0b1e75" opacity="1"/>
<ellipse cx="49.4" cy="318" rx="1.9" ry="0.4" fill="#0b1d74" opacity="0.8"/>
<ellipse cx="47.8" cy="288.2" rx="2.5" ry="0.4" fill="#1c50af" opacity="0.7"/>
<ellipse cx="48.9" cy="283.5" rx="2.3" ry="0.4" fill="#1d54b2" opacity="1"/>
<ellipse cx="49.2" cy="277.5" rx="2.4" ry="0.5" fill="#15399f" opacity="0.8"/>
<ellipse cx="50" cy="302.2" rx="1.3" ry="0.4" fill="#0b1e75" opacity="1"/>
<ellipse cx="47.2" cy="302.5" rx="2.4" ry="0.6" fill="#112d8c" opacity="0.9"/>
<ellipse cx="47.7" cy="308.4" rx="2.5" ry="0.5" fill="#2b80c7" opacity="0.8"/>
<ellipse cx="45.8" cy="294.4" rx="1.5" ry="0.4" fill="#205fba" opacity="1"/>
<ellipse cx="72.8" cy="292.4" rx="1.2" ry="0.4" fill="#133396" opacity="0.7"/>
<ellipse cx="77.3" cy="298.7" rx="1.5" ry="0.6" fill="#0b1e75" opacity="0.8"/>
<ellipse cx="75.2" cy="295.8" rx="1.2" ry="0.5" fill="#1b4dad" opacity="1"/>
<ellipse cx="74.6" cy="308.4" rx="1.8" ry="0.6" fill="#102c8a" opacity="0.8"/>
<ellipse cx="74.8" cy="311.1" rx="1.4" ry="0.5" fill="#0c217a" opacity="1"/>
<ellipse cx="77.3" cy="295.6" rx="1.9" ry="0.6" fill="#14369a" opacity="0.9"/>
<ellipse cx="78" cy="302" rx="2" ry="0.6" fill="#173ea3" opacity="0.8"/>
<ellipse cx="74.7" cy="300.4" rx="1.3" ry="0.5" fill="#14379b" opacity="0.7"/>
<ellipse cx="73.5" cy="311.4" rx="1.6" ry="0.4" fill="#0f2885"/>
<ellipse cx="74.8" cy="291.3" rx="1.4" ry="0.4" fill="#163ca1" opacity="0.8"/>
<ellipse cx="78" cy="291.3" rx="1.1" ry="0.5" fill="#0a1d73" opacity="1"/>
<ellipse cx="72.3" cy="300.2" rx="1" ry="0.4" fill="#0e2783" opacity="1"/>
<ellipse cx="76.1" cy="289.5" rx="1.4" ry="0.5" fill="#0b1e75" opacity="0.8"/>
<ellipse cx="75.8" cy="311.2" rx="1.6" ry="0.4" fill="#0e2783" opacity="1"/>
<ellipse cx="78.6" cy="300.2" rx="1.7" ry="0.4" fill="#15389d" opacity="0.9"/>
<ellipse cx="78.6" cy="300.2" rx="1.5" ry="0.5" fill="#15379c" opacity="0.9"/>
<ellipse cx="92.6" cy="288.6" rx="2.1" ry="0.4" fill="#112e8e" opacity="1"/>
<ellipse cx="81.2" cy="304" rx="2.2" ry="0.5" fill="#15389d" opacity="0.8"/>
<ellipse cx="88.2" cy="294.8" rx="2.3" ry="0.5" fill="#0c217a" opacity="0.9"/>
<ellipse cx="81" cy="305.5" rx="1.9" ry="0.4" fill="#0d237c" opacity="0.9"/>
<ellipse cx="85.7" cy="300.8" rx="2.4" ry="0.4" fill="#236cc2" opacity="1"/>
<ellipse cx="90.8" cy="289.9" rx="2.6" ry="0.4" fill="#3daace" opacity="0.9"/>
<ellipse cx="93.9" cy="302.4" rx="2.1" ry="0.4" fill="#2269c0" opacity="0.8"/>
<ellipse cx="82.4" cy="293.2" rx="1.7" ry="0.4" fill="#1f5db8" opacity="1"/>
<ellipse cx="98" cy="299.5" rx="2" ry="0.5" fill="#1b4dad" opacity="1"/>
<ellipse cx="97" cy="304.1" rx="2.1" ry="0.4" fill="#0d247e" opacity="0.9"/>
<ellipse cx="89.5" cy="293.1" rx="1.1" ry="0.5" fill="#102c8a" opacity="0.9"/>
<ellipse cx="84.7" cy="299.2" rx="1.2" ry="0.6" fill="#102a88" opacity="0.7"/>
<ellipse cx="80.6" cy="302.3" rx="1.6" ry="0.6" fill="#173da2" opacity="0.9"/>
<ellipse cx="95.8" cy="291.4" rx="2.8" ry="0.6" fill="#0c217a" opacity="0.8"/>
<ellipse cx="87.8" cy="290.2" rx="1.2" ry="0.4" fill="#4cb3c4" opacity="0.7"/>
<ellipse cx="86.9" cy="293.3" rx="1.4" ry="0.5" fill="#133396" opacity="0.7"/>
<ellipse cx="87.1" cy="299.5" rx="2.3" ry="0.4" fill="#2674c5" opacity="0.8"/>
<ellipse cx="87.1" cy="300.8" rx="1.5" ry="0.4" fill="#41adcc" opacity="1"/>
<ellipse cx="83.2" cy="300.7" rx="1.3" ry="0.4" fill="#1b4dad" opacity="0.7"/>
<ellipse cx="82.7" cy="291.6" rx="1.6" ry="0.4" fill="#2f89c9" opacity="0.9"/>
<ellipse cx="87" cy="293.1" rx="1.4" ry="0.4" fill="#287ac6" opacity="0.8"/>
<ellipse cx="81.3" cy="291.5" rx="2.5" ry="0.4" fill="#2570c4" opacity="1"/>
<ellipse cx="98.3" cy="299.5" rx="1.1" ry="0.4" fill="#1b4faf"/>
<ellipse cx="92.7" cy="296" rx="1" ry="0.4" fill="#a4d370" opacity="0.7"/>
<ellipse cx="88.7" cy="291.6" rx="1.6" ry="0.6" fill="#308cca" opacity="0.9"/>
<ellipse cx="97.4" cy="296.4" rx="2.1" ry="0.6" fill="#0e2782" opacity="0.7"/>
<ellipse cx="87.3" cy="294.5" rx="2" ry="0.5" fill="#61c0b4" opacity="0.8"/>
<ellipse cx="86.7" cy="305.7" rx="1.3" ry="0.6" fill="#1946a8" opacity="0.8"/>
<ellipse cx="88.6" cy="299.5" rx="2.1" ry="0.5" fill="#123091" opacity="0.8"/>
<ellipse cx="82.5" cy="299.1" rx="1.2" ry="0.5" fill="#2674c5" opacity="0.9"/>
<ellipse cx="95.9" cy="296.1" rx="2.6" ry="0.5" fill="#3395cb" opacity="1"/>
<ellipse cx="99" cy="305.6" rx="2.6" ry="0.4" fill="#123293" opacity="0.8"/>
<ellipse cx="92" cy="299.1" rx="2.2" ry="0.5" fill="#0d237d" opacity="0.7"/>
<ellipse cx="83.2" cy="293" rx="1.9" ry="0.6" fill="#3aa6cf" opacity="0.8"/>
<ellipse cx="88.4" cy="301" rx="2.1" ry="0.6" fill="#133294" opacity="0.7"/>
<ellipse cx="88.3" cy="294.5" rx="2.1" ry="0.5" fill="#3ba8cf" opacity="0.9"/>
<ellipse cx="91.1" cy="305.5" rx="2.1" ry="0.6" fill="#133395" opacity="0.8"/>
<ellipse cx="85" cy="300.7" rx="1.3" ry="0.5" fill="#297cc6" opacity="1"/>
<ellipse cx="87.5" cy="304.1" rx="1.4" ry="0.4" fill="#1d54b2"/>
<ellipse cx="87.8" cy="296.1" rx="2.3" ry="0.4" fill="#3ba8cf" opacity="0.8"/>
<ellipse cx="97.7" cy="305.6" rx="2.7" ry="0.6" fill="#133496" opacity="1"/>
<ellipse cx="98.7" cy="299.5" rx="1.1" ry="0.6" fill="#1a4aab" opacity="0.7"/>
<ellipse cx="82" cy="289.8" rx="1.4" ry="0.4" fill="#102a88" opacity="0.8"/>
<ellipse cx="93.9" cy="288.4" rx="1.2" ry="0.4" fill="#2674c5" opacity="0.8"/>
<ellipse cx="88.8" cy="289.9" rx="1.7" ry="0.6" fill="#4fb5c1" opacity="0.9"/>
<ellipse cx="97.8" cy="291.6" rx="1.4" ry="0.6" fill="#1e59b6" opacity="0.8"/>
<ellipse cx="96.8" cy="288.5" rx="1.4" ry="0.6" fill="#1e5ab6" opacity="0.7"/>
<ellipse cx="82" cy="291.7" rx="1" ry="0.6" fill="#1a4aab" opacity="0.9"/>
<ellipse cx="94.7" cy="296.5" rx="1" ry="0.5" fill="#0d247e" opacity="0.8"/>
<ellipse cx="95.3" cy="288.6" rx="2.2" ry="0.5" fill="#1e59b5" opacity="0.9"/>
<ellipse cx="87.6" cy="296" rx="2.6" ry="0.6" fill="#76cba6" opacity="0.8"/>
<ellipse cx="95.9" cy="291.7" rx="1.6" ry="0.4" fill="#246ec4" opacity="0.7"/>
<ellipse cx="91.9" cy="288.3" rx="1.8" ry="0.5" fill="#3190ca" opacity="1"/>
<ellipse cx="86.5" cy="302.5" rx="1.1" ry="0.4" fill="#2267bf" opacity="0.9"/>
<ellipse cx="86.1" cy="290" rx="1.8" ry="0.6" fill="#2c82c8" opacity="0.7"/>
<ellipse cx="79.8" cy="296.1" rx="2.1" ry="0.4" fill="#102a88" opacity="0.8"/>
<ellipse cx="88.8" cy="302.5" rx="2.6" ry="0.4" fill="#1f5bb7" opacity="0.9"/>
<ellipse cx="88.8" cy="296" rx="1.8" ry="0.4" fill="#9cd279" opacity="0.8"/>
<ellipse cx="95.6" cy="303.9" rx="2.7" ry="0.6" fill="#163ca1" opacity="0.8"/>
<ellipse cx="79.7" cy="297.8" rx="2.6" ry="0.5" fill="#1a4aab" opacity="1"/>
<ellipse cx="89.6" cy="305.3" rx="2.1" ry="0.6" fill="#1a4aab" opacity="0.7"/>
<ellipse cx="92.9" cy="294.9" rx="1.8" ry="0.4" fill="#48b1c7" opacity="0.9"/>
<ellipse cx="98.2" cy="291.5" rx="1.3" ry="0.6" fill="#1947a9" opacity="0.9"/>
<ellipse cx="86.9" cy="303.8" rx="1.6" ry="0.5" fill="#1945a7" opacity="0.7"/>
<ellipse cx="98.3" cy="291.4" rx="1.2" ry="0.4" fill="#1d56b3"/>
<ellipse cx="81.3" cy="294.5" rx="2.7" ry="0.5" fill="#1e5bb7" opacity="1"/>
<ellipse cx="99" cy="288.7" rx="2.7" ry="0.5" fill="#0f2884" opacity="0.9"/>
<ellipse cx="93.8" cy="296.2" rx="1.8" ry="0.5" fill="#43aeca" opacity="0.9"/>
<ellipse cx="89.7" cy="294.7" rx="2.7" ry="0.6" fill="#112d8c" opacity="0.8"/>
<ellipse cx="95.8" cy="291.5" rx="1.1" ry="0.5" fill="#1e5ab6" opacity="0.8"/>
<ellipse cx="96.4" cy="302.2" rx="2.2" ry="0.5" fill="#1d55b3" opacity="0.9"/>
<ellipse cx="90.6" cy="290" rx="1.4" ry="0.5" fill="#2d85c8" opacity="0.9"/>
<ellipse cx="86.2" cy="303.9" rx="2.7" ry="0.6" fill="#1c51b0" opacity="1"/>
<ellipse cx="85" cy="294.9" rx="1.4" ry="0.6" fill="#2b81c7" opacity="0.9"/>
<ellipse cx="98.4" cy="293" rx="2" ry="0.6" fill="#1e58b5"/>
<ellipse cx="98.9" cy="300.9" rx="2" ry="0.5" fill="#15379c" opacity="0.8"/>
<ellipse cx="86.7" cy="293.3" rx="1.4" ry="0.5" fill="#a6d36d" opacity="1"/>
<ellipse cx="86.8" cy="297.9" rx="1.7" ry="0.5" fill="#0f2885" opacity="1"/>
<ellipse cx="90.7" cy="304.2" rx="2.1" ry="0.4" fill="#0f2884" opacity="0.7"/>
<ellipse cx="83" cy="296.2" rx="1.6" ry="0.5" fill="#1e5ab6" opacity="0.8"/>
<ellipse cx="97.3" cy="305.7" rx="1.2" ry="0.6" fill="#133396" opacity="0.8"/>
<ellipse cx="85.2" cy="299.2" rx="2.6" ry="0.5" fill="#0d247d" opacity="0.9"/>
<ellipse cx="95.7" cy="297.6" rx="1.7" ry="0.5" fill="#2164bd" opacity="0.8"/>
<ellipse cx="85" cy="304.2" rx="2.3" ry="0.6" fill="#173fa3" opacity="0.7"/>
<ellipse cx="85.5" cy="307.2" rx="2.6" ry="0.5" fill="#14379b" opacity="0.7"/>
<ellipse cx="87.4" cy="303.9" rx="1.4" ry="0.4" fill="#1d54b2" opacity="0.7"/>
<ellipse cx="97.1" cy="304" rx="1.3" ry="0.6" fill="#133395" opacity="0.9"/>
<ellipse cx="85.9" cy="300.8" rx="1.4" ry="0.5" fill="#2571c4" opacity="0.8"/>
<ellipse cx="89.7" cy="302.3" rx="2.4" ry="0.6" fill="#2674c5" opacity="1"/>
<ellipse cx="88" cy="305.6" rx="2.1" ry="0.5" fill="#1946a8" opacity="1"/>
<ellipse cx="97.8" cy="291.8" rx="1.7" ry="0.4" fill="#1a4aab" opacity="0.8"/>
<ellipse cx="84" cy="288.4" rx="2.3" ry="0.4" fill="#236dc3" opacity="0.8"/>
<ellipse cx="84" cy="293" rx="1.6" ry="0.4" fill="#2777c5" opacity="0.8"/>
<ellipse cx="82.4" cy="299.2" rx="1.7" ry="0.4" fill="#133294" opacity="0.9"/>
<ellipse cx="89.8" cy="300.8" rx="1.8" ry="0.4" fill="#3393cb" opacity="0.9"/>
<ellipse cx="90.6" cy="299.3" rx="2.2" ry="0.4" fill="#2e89c9" opacity="0.9"/>
<ellipse cx="98.9" cy="299.3" rx="1.6" ry="0.5" fill="#123091" opacity="0.9"/>
<ellipse cx="82" cy="290" rx="1.3" ry="0.6" fill="#1b4fae" opacity="0.8"/>
<ellipse cx="95.5" cy="288.5" rx="2" ry="0.4" fill="#123192" opacity="1"/>
<ellipse cx="98.8" cy="294.7" rx="1.5" ry="0.4" fill="#2267bf" opacity="0.9"/>
<ellipse cx="87.5" cy="305.7" rx="1.3" ry="0.6" fill="#0e2682" opacity="0.9"/>
<ellipse cx="85.4" cy="296.3" rx="1.4" ry="0.5" fill="#0f2985" opacity="0.9"/>
<ellipse cx="91.2" cy="290.2" rx="1.2" ry="0.5" fill="#112f8f" opacity="0.7"/>
<ellipse cx="89.3" cy="298" rx="1.6" ry="0.6" fill="#0e2681" opacity="0.7"/>
<ellipse cx="87.7" cy="290" rx="1.3" ry="0.5" fill="#297ac6" opacity="0.9"/>
<ellipse cx="84" cy="293.2" rx="1.6" ry="0.4" fill="#2777c5" opacity="1"/>
<ellipse cx="83.5" cy="291.7" rx="1.6" ry="0.5" fill="#2878c6" opacity="0.7"/>
<ellipse cx="98.9" cy="304" rx="1.8" ry="0.5" fill="#133294" opacity="0.9"/>
<ellipse cx="95.1" cy="302.4" rx="2.1" ry="0.4" fill="#1a48aa" opacity="0.7"/>
<ellipse cx="79.1" cy="291.6" rx="1.4" ry="0.5" fill="#123091" opacity="0.9"/>
<ellipse cx="90.2" cy="294.5" rx="1.4" ry="0.4" fill="#9fd275" opacity="1"/>
<ellipse cx="87.6" cy="305.3" rx="2.5" ry="0.5" fill="#0e2783" opacity="0.8"/>
<ellipse cx="96.7" cy="290.1" rx="2.4" ry="0.4" fill="#0c217a" opacity="0.8"/>
<ellipse cx="84.3" cy="304.1" rx="2.3" ry="0.4" fill="#0e2681" opacity="0.7"/>
<ellipse cx="95.7" cy="301" rx="1" ry="0.5" fill="#0d247f" opacity="1"/>
<ellipse cx="83.5" cy="305.5" rx="1.6" ry="0.4" fill="#15379c" opacity="0.8"/>
<ellipse cx="98.7" cy="290" rx="1.4" ry="0.4" fill="#163ca2" opacity="0.8"/>
<ellipse cx="83" cy="302.4" rx="2.4" ry="0.5" fill="#1b4eae" opacity="0.9"/>
<ellipse cx="90.8" cy="305.4" rx="1.3" ry="0.5" fill="#1946a8" opacity="0.9"/>
<ellipse cx="90.7" cy="294.9" rx="1.2" ry="0.6" fill="#81ce99" opacity="0.8"/>
<ellipse cx="84.9" cy="296.3" rx="2.3" ry="0.5" fill="#133294" opacity="0.7"/>
<ellipse cx="79.1" cy="288.5" rx="2.6" ry="0.4" fill="#163ca1" opacity="0.9"/>
<ellipse cx="88.9" cy="294.9" rx="1.6" ry="0.5" fill="#a8d36b" opacity="0.8"/>
<ellipse cx="98.3" cy="303.8" rx="2" ry="0.5" fill="#123192" opacity="0.9"/>
<ellipse cx="98.3" cy="303.8" rx="1.9" ry="0.5" fill="#143599" opacity="0.8"/>
<ellipse cx="87.5" cy="299.6" rx="1.7" ry="0.5" fill="#48b1c6" opacity="0.9"/>
<ellipse cx="88.7" cy="288.4" rx="2.3" ry="0.4" fill="#2d84c8" opacity="0.7"/>
<ellipse cx="98.2" cy="294.8" rx="1.1" ry="0.4" fill="#0e2783" opacity="0.9"/>
<ellipse cx="86.7" cy="302.4" rx="2.6" ry="0.5" fill="#1e59b5" opacity="0.8"/>
<ellipse cx="85.8" cy="297.8" rx="2.4" ry="0.4" fill="#123091" opacity="0.9"/>
<ellipse cx="81.5" cy="289.8" rx="2.5" ry="0.9" fill="#60bfb6" opacity="0.9"/>
<ellipse cx="81.5" cy="289.8" rx="1.7" ry="0.5" fill="#e2bc31"/>
<ellipse cx="87.6" cy="290.2" rx="2" ry="1.1" fill="#287ac6" opacity="0.9"/>
<ellipse cx="87.6" cy="290.2" rx="1.2" ry="0.6" fill="#88cf91"/>
<ellipse cx="92.9" cy="294.2" rx="1.8" ry="1.5" fill="#3caad0" opacity="0.9"/>
<ellipse cx="92.9" cy="294.2" rx="1" ry="1" fill="#c8d846"/>
<ellipse cx="89.4" cy="296.4" rx="1.9" ry="1.3" fill="#379dcd" opacity="0.9"/>
<ellipse cx="89.4" cy="296.4" rx="1.1" ry="0.8" fill="#b8d559"/>
<ellipse cx="101.8" cy="294.2" rx="1.1" ry="0.5" fill="#4eb4c2" opacity="1"/>
<ellipse cx="107.4" cy="302.1" rx="1.9" ry="0.4" fill="#1c52b0" opacity="0.8"/>
<ellipse cx="102.2" cy="303.5" rx="2.4" ry="0.6" fill="#15399f" opacity="0.7"/>
<ellipse cx="112.4" cy="308" rx="2.9" ry="0.4" fill="#0f2885" opacity="1"/>
<ellipse cx="101.9" cy="297.3" rx="1.8" ry="0.4" fill="#226ac1" opacity="0.8"/>
<ellipse cx="99.8" cy="287.9" rx="1.8" ry="0.6" fill="#1e5ab6" opacity="0.8"/>
<ellipse cx="106" cy="289.4" rx="1.7" ry="0.5" fill="#3395cb" opacity="0.7"/>
<ellipse cx="103.1" cy="300.3" rx="1.8" ry="0.5" fill="#297ac6" opacity="0.8"/>
<ellipse cx="101.9" cy="308" rx="2.6" ry="0.4" fill="#122f90" opacity="0.8"/>
<ellipse cx="114.5" cy="296" rx="1.2" ry="0.5" fill="#133396" opacity="0.7"/>
<ellipse cx="104.3" cy="297.2" rx="1.6" ry="0.5" fill="#122f90" opacity="0.7"/>
<ellipse cx="105.2" cy="306.5" rx="1.5" ry="0.4" fill="#163ba1" opacity="0.9"/>
<ellipse cx="104.8" cy="287.8" rx="2.6" ry="0.5" fill="#0a1d73" opacity="0.7"/>
<ellipse cx="99.9" cy="295.8" rx="3" ry="0.4" fill="#2166be" opacity="0.7"/>
<ellipse cx="113.5" cy="306.4" rx="2" ry="0.6" fill="#0f2a87" opacity="0.8"/>
<ellipse cx="111.6" cy="295.8" rx="2.1" ry="0.5" fill="#1d56b3" opacity="0.7"/>
<ellipse cx="102.6" cy="289.7" rx="1.4" ry="0.5" fill="#112e8e" opacity="0.8"/>
<ellipse cx="99.6" cy="289.5" rx="1" ry="0.5" fill="#1844a7"/>
<ellipse cx="112" cy="290.9" rx="2.6" ry="0.6" fill="#15399f" opacity="0.9"/>
<ellipse cx="100.9" cy="303.5" rx="2.7" ry="0.4" fill="#0b1e74" opacity="0.9"/>
<ellipse cx="100.4" cy="288.1" rx="2.4" ry="0.4" fill="#112f8e" opacity="0.8"/>
<ellipse cx="104.9" cy="301.9" rx="2.4" ry="0.5" fill="#2f8bc9" opacity="0.7"/>
<ellipse cx="101.7" cy="306.6" rx="2" ry="0.5" fill="#163aa0" opacity="0.7"/>
<ellipse cx="104.5" cy="305.3" rx="2.1" ry="0.4" fill="#102c8a" opacity="0.9"/>
<ellipse cx="111.1" cy="292.7" rx="2.5" ry="0.5" fill="#1843a6" opacity="0.8"/>
<ellipse cx="105.9" cy="289.4" rx="2.9" ry="0.5" fill="#2163bc" opacity="0.9"/>
<ellipse cx="99.7" cy="289.6" rx="1.1" ry="0.5" fill="#1f5db8" opacity="0.9"/>
<ellipse cx="109.7" cy="308.2" rx="2" ry="0.6" fill="#112d8d" opacity="0.8"/>
<ellipse cx="101" cy="306.8" rx="2.6" ry="0.4" fill="#143599" opacity="0.7"/>
<ellipse cx="101.7" cy="308" rx="1" ry="0.4" fill="#123293" opacity="0.8"/>
<ellipse cx="108.9" cy="292.6" rx="2.6" ry="0.5" fill="#1f5cb8" opacity="0.7"/>
<ellipse cx="109.4" cy="298.8" rx="2.6" ry="0.4" fill="#2674c5" opacity="0.8"/>
<ellipse cx="113.7" cy="301.9" rx="1.1" ry="0.5" fill="#112e8e" opacity="0.8"/>
<ellipse cx="113.1" cy="300.2" rx="1.7" ry="0.4" fill="#123090" opacity="0.8"/>
<ellipse cx="111.3" cy="308" rx="1.5" ry="0.6" fill="#102c8a" opacity="0.7"/>
<ellipse cx="105.3" cy="294.2" rx="1.8" ry="0.5" fill="#5ebeb7" opacity="0.9"/>
<ellipse cx="114.7" cy="297.1" rx="2.4" ry="0.5" fill="#123192" opacity="1"/>
<ellipse cx="105.6" cy="294.2" rx="2.6" ry="0.5" fill="#2163bd" opacity="0.7"/>
<ellipse cx="112.1" cy="305.2" rx="1.1" ry="0.4" fill="#122f90" opacity="0.8"/>
<ellipse cx="105.3" cy="297.5" rx="2.2" ry="0.6" fill="#0c2179" opacity="0.8"/>
<ellipse cx="111" cy="308.1" rx="2.5" ry="0.4" fill="#0d237d" opacity="0.7"/>
<ellipse cx="109" cy="294" rx="2.8" ry="0.5" fill="#236cc2" opacity="1"/>
<ellipse cx="106.2" cy="291.2" rx="2.1" ry="0.4" fill="#236cc2" opacity="0.8"/>
<ellipse cx="112" cy="289.4" rx="1.7" ry="0.4" fill="#15389d" opacity="1"/>
<ellipse cx="110.2" cy="303.6" rx="1.2" ry="0.6" fill="#0d237d" opacity="0.8"/>
<ellipse cx="104.1" cy="302.1" rx="2.6" ry="0.5" fill="#1c51b0" opacity="0.8"/>
<ellipse cx="103.4" cy="304.9" rx="1.5" ry="0.6" fill="#1c52b1" opacity="0.7"/>
<ellipse cx="109" cy="304.9" rx="2.2" ry="0.6" fill="#1842a6" opacity="0.7"/>
<ellipse cx="108.6" cy="306.8" rx="1.7" ry="0.5" fill="#15379c" opacity="0.7"/>
<ellipse cx="107.3" cy="291.3" rx="2" ry="0.4" fill="#3394cb" opacity="1"/>
<ellipse cx="107.5" cy="306.7" rx="3" ry="0.5" fill="#123193" opacity="1"/>
<ellipse cx="114.2" cy="300.4" rx="2.6" ry="0.4" fill="#122f90" opacity="1"/>
<ellipse cx="107.2" cy="297.5" rx="1.9" ry="0.5" fill="#2267bf" opacity="0.8"/>
<ellipse cx="109.3" cy="289.7" rx="2.7" ry="0.5" fill="#1b4dad" opacity="0.9"/>
<ellipse cx="100.3" cy="295.9" rx="1.3" ry="0.5" fill="#1c53b1" opacity="0.9"/>
<ellipse cx="102.3" cy="289.4" rx="1.9" ry="0.6" fill="#123091" opacity="0.9"/>
<ellipse cx="114.4" cy="292.6" rx="1.1" ry="0.5" fill="#0b1e74" opacity="0.9"/>
<ellipse cx="106.9" cy="308" rx="2.8" ry="0.5" fill="#112e8e" opacity="0.7"/>
<ellipse cx="107.5" cy="292.5" rx="2.8" ry="0.4" fill="#2777c5" opacity="0.8"/>
<ellipse cx="100.7" cy="303.4" rx="1.1" ry="0.4" fill="#15399f" opacity="0.9"/>
<ellipse cx="113.4" cy="289.7" rx="2.4" ry="0.5" fill="#133294" opacity="0.8"/>
<ellipse cx="106.8" cy="287.9" rx="2.7" ry="0.5" fill="#0d247f" opacity="0.9"/>
<ellipse cx="114.2" cy="291" rx="1.3" ry="0.6" fill="#133396" opacity="1"/>
<ellipse cx="100" cy="306.8" rx="2.1" ry="0.6" fill="#123192" opacity="0.7"/>
<ellipse cx="104" cy="290.4" rx="1.6" ry="0.5" fill="#98d17e"/>
<ellipse cx="122.4" cy="290.2" rx="2.5" ry="0.6" fill="#133295" opacity="0.8"/>
<ellipse cx="132.1" cy="291.4" rx="2.1" ry="0.4" fill="#173ea3" opacity="1"/>
<ellipse cx="124.2" cy="291.3" rx="2.3" ry="0.5" fill="#1740a4" opacity="0.8"/>
<ellipse cx="131.9" cy="290.2" rx="1.6" ry="0.4" fill="#1c51b0" opacity="0.9"/>
<ellipse cx="122.9" cy="290.1" rx="2.4" ry="0.4" fill="#1a4bab" opacity="0.8"/>
<ellipse cx="124.6" cy="290.1" rx="1.8" ry="0.6" fill="#1c51b0" opacity="0.9"/>
<ellipse cx="124.4" cy="291.6" rx="1.9" ry="0.5" fill="#1b4dad" opacity="1"/>
<ellipse cx="130.3" cy="289.8" rx="1.6" ry="0.5" fill="#1c52b1" opacity="0.8"/>
<ellipse cx="126.8" cy="300.6" rx="2.4" ry="0.5" fill="#1e59b5" opacity="0.9"/>
<ellipse cx="131.9" cy="300.3" rx="1.3" ry="0.6" fill="#1e58b4" opacity="0.8"/>
<ellipse cx="127.6" cy="300.4" rx="2.1" ry="0.6" fill="#133395" opacity="0.7"/>
<ellipse cx="130.6" cy="299" rx="1.2" ry="0.6" fill="#1948a9"/>
<ellipse cx="129.2" cy="300.3" rx="1.8" ry="0.5" fill="#102b88" opacity="0.8"/>
<ellipse cx="137.8" cy="297.9" rx="1.8" ry="0.4" fill="#1f5db8" opacity="0.8"/>
<ellipse cx="153" cy="305.6" rx="2.8" ry="0.6" fill="#173ea2" opacity="1"/>
<ellipse cx="152.5" cy="305.6" rx="2.3" ry="0.5" fill="#1946a8" opacity="0.8"/>
<ellipse cx="144.8" cy="306.9" rx="2.8" ry="0.6" fill="#1c53b1" opacity="0.7"/>
<ellipse cx="151.1" cy="293.3" rx="1" ry="0.6" fill="#246fc4" opacity="0.8"/>
<ellipse cx="145.6" cy="300.7" rx="1.2" ry="0.4" fill="#2b81c7" opacity="0.7"/>
<ellipse cx="143.1" cy="288.4" rx="1.8" ry="0.6" fill="#2061bb" opacity="0.8"/>
<ellipse cx="154.9" cy="299.4" rx="2.7" ry="0.4" fill="#2570c4" opacity="1"/>
<ellipse cx="143.4" cy="296.2" rx="1.9" ry="0.4" fill="#3190ca" opacity="0.8"/>
<ellipse cx="162.8" cy="292.9" rx="1.9" ry="0.4" fill="#15389d" opacity="0.7"/>
<ellipse cx="158.5" cy="289.9" rx="1.5" ry="0.6" fill="#1b4fae" opacity="0.8"/>
<ellipse cx="155.8" cy="291.8" rx="2.4" ry="0.6" fill="#2675c5" opacity="0.8"/>
<ellipse cx="157.6" cy="304.2" rx="1.8" ry="0.4" fill="#133396" opacity="0.9"/>
<ellipse cx="147.2" cy="294.5" rx="1.6" ry="0.5" fill="#b1d460" opacity="0.8"/>
<ellipse cx="155" cy="290.2" rx="2.2" ry="0.5" fill="#1b4dad" opacity="0.9"/>
<ellipse cx="154.5" cy="294.8" rx="2" ry="0.4" fill="#4db3c3" opacity="0.8"/>
<ellipse cx="137.7" cy="291.5" rx="1.5" ry="0.6" fill="#2061bb" opacity="0.8"/>
<ellipse cx="146.8" cy="294.5" rx="1.7" ry="0.5" fill="#102c8a" opacity="0.8"/>
<ellipse cx="146.2" cy="294.9" rx="1.5" ry="0.6" fill="#90d088" opacity="0.7"/>
<ellipse cx="136.4" cy="302.7" rx="2.7" ry="0.4" fill="#0f2a87" opacity="0.8"/>
<ellipse cx="161" cy="307.2" rx="2.6" ry="0.6" fill="#112f8f" opacity="0.9"/>
<ellipse cx="147.1" cy="291.8" rx="2.4" ry="0.4" fill="#2f8ac9" opacity="0.8"/>
<ellipse cx="150.3" cy="298" rx="1.3" ry="0.6" fill="#379fcd" opacity="0.7"/>
<ellipse cx="137" cy="305.3" rx="1.8" ry="0.5" fill="#163da2" opacity="1"/>
<ellipse cx="140.5" cy="301" rx="1.5" ry="0.4" fill="#297bc6" opacity="0.8"/>
<ellipse cx="158.3" cy="293.2" rx="2.3" ry="0.5" fill="#1e5bb6" opacity="0.9"/>
<ellipse cx="147.4" cy="305.7" rx="2.5" ry="0.4" fill="#1c51b0" opacity="0.7"/>
<ellipse cx="142.8" cy="297.8" rx="1.3" ry="0.6" fill="#102c8b" opacity="0.7"/>
<ellipse cx="146.9" cy="299.5" rx="1.1" ry="0.5" fill="#2d84c8" opacity="1"/>
<ellipse cx="160.3" cy="303.9" rx="1.1" ry="0.4" fill="#15389d" opacity="0.9"/>
<ellipse cx="153.6" cy="302.4" rx="2.2" ry="0.4" fill="#2b81c7" opacity="0.8"/>
<ellipse cx="159" cy="304" rx="1.3" ry="0.4" fill="#112d8c" opacity="0.7"/>
<ellipse cx="156.8" cy="294.7" rx="2.4" ry="0.4" fill="#1f5cb7" opacity="0.7"/>
<ellipse cx="151.4" cy="299.1" rx="2.9" ry="0.4" fill="#3190ca" opacity="0.9"/>
<ellipse cx="138.5" cy="296.4" rx="2.5" ry="0.5" fill="#246ec4" opacity="0.8"/>
<ellipse cx="153.3" cy="293.2" rx="1.6" ry="0.4" fill="#46b0c8" opacity="0.9"/>
<ellipse cx="152.8" cy="302.4" rx="2.2" ry="0.5" fill="#2e88c9" opacity="0.9"/>
<ellipse cx="137" cy="296.4" rx="1.6" ry="0.4" fill="#41accc" opacity="0.9"/>
<ellipse cx="147.3" cy="299.5" rx="1.9" ry="0.6" fill="#112f8f" opacity="0.9"/>
<ellipse cx="147.5" cy="296.1" rx="2.7" ry="0.4" fill="#2e89c9" opacity="0.7"/>
<ellipse cx="149.5" cy="294.6" rx="1.6" ry="0.5" fill="#63c1b3" opacity="0.7"/>
<ellipse cx="152.5" cy="293.1" rx="1.8" ry="0.5" fill="#2a7ec7" opacity="0.8"/>
<ellipse cx="139.3" cy="296.4" rx="1.5" ry="0.4" fill="#59bbba" opacity="1"/>
<ellipse cx="157.1" cy="293" rx="2.6" ry="0.4" fill="#2878c6" opacity="0.9"/>
<ellipse cx="160.9" cy="301.1" rx="1.9" ry="0.4" fill="#173da2" opacity="0.8"/>
<ellipse cx="140.5" cy="294.5" rx="2.7" ry="0.6" fill="#0f2a87" opacity="0.9"/>
<ellipse cx="158.5" cy="305.8" rx="2.8" ry="0.5" fill="#15399f" opacity="0.7"/>
<ellipse cx="151.9" cy="294.5" rx="2.9" ry="0.5" fill="#4db4c3" opacity="0.9"/>
<ellipse cx="160" cy="301" rx="2.1" ry="0.4" fill="#1c50af" opacity="0.9"/>
<ellipse cx="158.3" cy="299.4" rx="1.7" ry="0.5" fill="#1842a5" opacity="0.8"/>
<ellipse cx="144.4" cy="305.4" rx="2.1" ry="0.4" fill="#2062bb" opacity="0.9"/>
<ellipse cx="158.6" cy="302.3" rx="1.7" ry="0.4" fill="#163aa0" opacity="0.9"/>
<ellipse cx="149.5" cy="307.3" rx="2.7" ry="0.5" fill="#123192" opacity="0.9"/>
<ellipse cx="162.8" cy="301" rx="2.1" ry="0.5" fill="#133396" opacity="0.8"/>
<ellipse cx="140.4" cy="302.4" rx="2.8" ry="0.5" fill="#318eca" opacity="0.9"/>
<ellipse cx="139.2" cy="307.1" rx="2.5" ry="0.4" fill="#15399e" opacity="0.8"/>
<ellipse cx="143.7" cy="288.6" rx="1.9" ry="0.4" fill="#1c52b0" opacity="0.8"/>
<ellipse cx="159.6" cy="296.2" rx="2.3" ry="0.5" fill="#1c50af" opacity="0.8"/>
<ellipse cx="150" cy="294.8" rx="1.6" ry="0.4" fill="#53b7bf" opacity="0.9"/>
<ellipse cx="163.5" cy="289.8" rx="2.5" ry="0.4" fill="#133294" opacity="0.8"/>
<ellipse cx="158" cy="290.3" rx="2.6" ry="0.6" fill="#1a4bac" opacity="1"/>
<ellipse cx="148.3" cy="294.8" rx="1.5" ry="0.6" fill="#133497" opacity="0.8"/>
<ellipse cx="154.8" cy="304.1" rx="2.4" ry="0.6" fill="#1844a7" opacity="1"/>
<ellipse cx="145.8" cy="294.5" rx="2.2" ry="0.4" fill="#a0d275" opacity="0.9"/>
<ellipse cx="158.7" cy="293.3" rx="2.6" ry="0.5" fill="#122f90" opacity="1"/>
<ellipse cx="159.9" cy="288.6" rx="2.9" ry="0.4" fill="#0e2681" opacity="0.8"/>
<ellipse cx="160.8" cy="303.8" rx="2.7" ry="0.4" fill="#143599" opacity="0.8"/>
<ellipse cx="135.3" cy="302.5" rx="1.1" ry="0.5" fill="#0f2885" opacity="0.7"/>
<ellipse cx="159.1" cy="296.3" rx="2.5" ry="0.6" fill="#1f5eb9" opacity="1"/>
<ellipse cx="154.9" cy="296.5" rx="2.9" ry="0.6" fill="#1f5eb9" opacity="0.8"/>
<ellipse cx="158.3" cy="291.4" rx="2.9" ry="0.4" fill="#143598" opacity="0.8"/>
<ellipse cx="152.2" cy="300.9" rx="1.3" ry="0.6" fill="#2165be" opacity="0.9"/>
<ellipse cx="142.2" cy="300.7" rx="1.8" ry="0.4" fill="#66c2b1" opacity="0.9"/>
<ellipse cx="147.1" cy="294.7" rx="3" ry="0.6" fill="#4fb5c1" opacity="0.8"/>
<ellipse cx="140.1" cy="296.1" rx="1.4" ry="0.6" fill="#62c0b4" opacity="0.9"/>
<ellipse cx="140.5" cy="289.9" rx="1.3" ry="0.4" fill="#133396" opacity="0.8"/>
<ellipse cx="162.3" cy="291.6" rx="2.9" ry="0.5" fill="#123091" opacity="0.9"/>
<ellipse cx="157.5" cy="296.3" rx="2.1" ry="0.6" fill="#1f5bb7" opacity="0.8"/>
<ellipse cx="158.2" cy="288.4" rx="1.7" ry="0.4" fill="#0d237c" opacity="1"/>
<ellipse cx="151.3" cy="291.6" rx="2.7" ry="0.4" fill="#2b80c7" opacity="0.9"/>
<ellipse cx="155.1" cy="307.1" rx="1.1" ry="0.4" fill="#15379c" opacity="0.9"/>
<ellipse cx="147.4" cy="305.7" rx="2.1" ry="0.5" fill="#236bc2" opacity="0.9"/>
<ellipse cx="155.3" cy="291.6" rx="1.6" ry="0.4" fill="#2166be" opacity="0.9"/>
<ellipse cx="161.3" cy="293" rx="1.1" ry="0.6" fill="#173fa4" opacity="0.8"/>
<ellipse cx="142.1" cy="294.6" rx="2.6" ry="0.5" fill="#123090" opacity="0.9"/>
<ellipse cx="154.2" cy="297.7" rx="1.8" ry="0.4" fill="#3ba9cf" opacity="0.9"/>
<ellipse cx="134.6" cy="303.8" rx="2.8" ry="0.5" fill="#173fa3" opacity="1"/>
<ellipse cx="157.3" cy="290.1" rx="1.4" ry="0.4" fill="#1740a4" opacity="0.7"/>
<ellipse cx="157.7" cy="294.6" rx="1.1" ry="0.6" fill="#0f2985" opacity="1"/>
<ellipse cx="138.5" cy="294.6" rx="1.5" ry="0.5" fill="#308dca" opacity="0.9"/>
<ellipse cx="162.7" cy="294.5" rx="2.3" ry="0.4" fill="#15399e" opacity="0.9"/>
<ellipse cx="156.2" cy="297.8" rx="1.3" ry="0.4" fill="#2c82c8" opacity="0.9"/>
<ellipse cx="145.1" cy="307.3" rx="2.5" ry="0.5" fill="#143598" opacity="0.9"/>
<ellipse cx="163" cy="289.9" rx="1.3" ry="0.6" fill="#0e2682" opacity="0.9"/>
<ellipse cx="144.2" cy="294.9" rx="1.7" ry="0.5" fill="#96d180" opacity="0.9"/>
<ellipse cx="158.7" cy="296.4" rx="2.6" ry="0.5" fill="#14369a" opacity="0.8"/>
<ellipse cx="162.8" cy="290.2" rx="1.3" ry="0.5" fill="#14379b" opacity="1"/>
<ellipse cx="142.2" cy="298" rx="1.5" ry="0.5" fill="#3598cc" opacity="0.7"/>
<ellipse cx="163.1" cy="297.8" rx="2.1" ry="0.4" fill="#1841a5" opacity="0.9"/>
<ellipse cx="149.6" cy="294.9" rx="1.1" ry="0.6" fill="#56b9bd" opacity="0.8"/>
<ellipse cx="146.4" cy="290.3" rx="2.4" ry="0.4" fill="#1f5eb9" opacity="0.9"/>
<ellipse cx="154.2" cy="291.7" rx="1.1" ry="0.6" fill="#102b89" opacity="0.9"/>
<ellipse cx="154.4" cy="291.5" rx="2.4" ry="0.4" fill="#2269c1" opacity="0.9"/>
<ellipse cx="164" cy="293" rx="1" ry="0.4" fill="#14379b" opacity="0.7"/>
<ellipse cx="137.7" cy="299.1" rx="1.8" ry="0.5" fill="#42adcb" opacity="0.8"/>
<ellipse cx="162.5" cy="302.5" rx="1.2" ry="0.5" fill="#15389d" opacity="0.8"/>
<ellipse cx="155.5" cy="290" rx="2.6" ry="0.6" fill="#0c227b" opacity="0.8"/>
<ellipse cx="134.5" cy="288.5" rx="1.5" ry="0.6" fill="#0c2078" opacity="0.9"/>
<ellipse cx="160" cy="290.3" rx="2.2" ry="0.4" fill="#1947a9" opacity="0.9"/>
<ellipse cx="153.9" cy="304.1" rx="2.3" ry="0.4" fill="#2163bc" opacity="0.9"/>
<ellipse cx="140.9" cy="288.3" rx="2.6" ry="0.4" fill="#1b50af" opacity="0.8"/>
<ellipse cx="150.6" cy="304.1" rx="1" ry="0.5" fill="#2776c5" opacity="0.9"/>
<ellipse cx="162.3" cy="301.1" rx="1.1" ry="0.6" fill="#15399f" opacity="0.9"/>
<ellipse cx="162.5" cy="297.6" rx="2.1" ry="0.5" fill="#1947a9" opacity="0.8"/>
<ellipse cx="135" cy="297.6" rx="1.8" ry="0.4" fill="#2061bb" opacity="0.8"/>
<ellipse cx="136.8" cy="293.2" rx="2.2" ry="0.6" fill="#308cca" opacity="1"/>
<ellipse cx="157.3" cy="304" rx="1.1" ry="0.6" fill="#1a4aab" opacity="0.8"/>
<ellipse cx="153" cy="293" rx="2" ry="0.6" fill="#45afc9" opacity="1"/>
<ellipse cx="136.8" cy="305.7" rx="2.4" ry="0.4" fill="#163ba0"/>
<ellipse cx="161.5" cy="305.5" rx="1.2" ry="0.4" fill="#133294" opacity="0.8"/>
<ellipse cx="137.1" cy="288.3" rx="2.1" ry="0.5" fill="#133497" opacity="0.8"/>
<ellipse cx="135.3" cy="299.1" rx="1.8" ry="0.4" fill="#0d247e" opacity="0.9"/>
<ellipse cx="159.1" cy="290" rx="1.4" ry="0.6" fill="#163da2" opacity="0.8"/>
<ellipse cx="158.6" cy="296.2" rx="1.9" ry="0.5" fill="#0d237d" opacity="0.7"/>
<ellipse cx="161.7" cy="296.4" rx="1.9" ry="0.4" fill="#0f2884" opacity="0.9"/>
<ellipse cx="156.1" cy="294.9" rx="1.2" ry="0.6" fill="#2164bd" opacity="0.8"/>
<ellipse cx="140.1" cy="290" rx="2.5" ry="0.5" fill="#1f5eb8" opacity="0.7"/>
<ellipse cx="158.1" cy="307.1" rx="1.4" ry="0.6" fill="#14369a" opacity="0.8"/>
<ellipse cx="143.9" cy="288.5" rx="2.6" ry="0.4" fill="#133497" opacity="0.9"/>
<ellipse cx="151.5" cy="292.9" rx="1.7" ry="0.5" fill="#112f8f" opacity="0.7"/>
<ellipse cx="155" cy="288.4" rx="1.2" ry="0.4" fill="#1c51b0" opacity="0.9"/>
<ellipse cx="159.3" cy="299.3" rx="2.4" ry="0.4" fill="#1b50af" opacity="0.8"/>
<ellipse cx="159.3" cy="300.7" rx="2.8" ry="0.5" fill="#1d57b4" opacity="0.7"/>
<ellipse cx="145.8" cy="307.1" rx="1.7" ry="0.4" fill="#1845a7" opacity="1"/>
<ellipse cx="139.6" cy="296.1" rx="2.9" ry="0.5" fill="#3aa6cf" opacity="0.8"/>
<ellipse cx="134.1" cy="288.4" rx="2.6" ry="0.5" fill="#14369b" opacity="0.9"/>
<ellipse cx="144.7" cy="294.6" rx="2" ry="0.5" fill="#3496cc" opacity="0.8"/>
<ellipse cx="153.1" cy="303.8" rx="1.1" ry="0.5" fill="#1e5bb6" opacity="0.8"/>
<ellipse cx="145.3" cy="294.9" rx="2.2" ry="0.4" fill="#5cbcb8" opacity="0.7"/>
<ellipse cx="153.6" cy="300.9" rx="1.2" ry="0.5" fill="#2062bc" opacity="0.9"/>
<ellipse cx="158.7" cy="305.5" rx="1.5" ry="0.5" fill="#163da2" opacity="0.8"/>
<ellipse cx="140.5" cy="296.1" rx="2.6" ry="0.4" fill="#67c3b0" opacity="0.9"/>
<ellipse cx="152.1" cy="301.1" rx="1.9" ry="0.6" fill="#38a1ce" opacity="0.8"/>
<ellipse cx="140.1" cy="289.8" rx="2" ry="0.4" fill="#133294" opacity="0.9"/>
<ellipse cx="146.1" cy="293" rx="2.7" ry="0.4" fill="#99d17d" opacity="1"/>
<ellipse cx="158.1" cy="301" rx="2" ry="0.4" fill="#1a49aa" opacity="0.9"/>
<ellipse cx="151.2" cy="290.1" rx="1.6" ry="0.6" fill="#123091" opacity="0.9"/>
<ellipse cx="139.6" cy="305.5" rx="2.4" ry="0.4" fill="#1e5ab6" opacity="0.8"/>
<ellipse cx="151.8" cy="300.9" rx="2.4" ry="0.5" fill="#0f2986" opacity="0.8"/>
<ellipse cx="134" cy="304.1" rx="2.7" ry="0.5" fill="#0e2580" opacity="0.9"/>
<ellipse cx="152.6" cy="290.1" rx="1.8" ry="0.4" fill="#2062bb" opacity="0.8"/>
<ellipse cx="161.8" cy="305.8" rx="2.8" ry="0.5" fill="#143498" opacity="0.9"/>
<ellipse cx="146.5" cy="307.3" rx="2" ry="0.6" fill="#163aa0" opacity="1"/>
<ellipse cx="145" cy="290.2" rx="2.3" ry="0.4" fill="#3daacf" opacity="0.9"/>
<ellipse cx="133.8" cy="289.8" rx="1.6" ry="0.4" fill="#15389d" opacity="0.7"/>
<ellipse cx="163.6" cy="302.2" rx="1.8" ry="0.5" fill="#133395" opacity="0.9"/>
<ellipse cx="147" cy="300.7" rx="1.6" ry="0.5" fill="#0c2079" opacity="0.8"/>
<ellipse cx="142.2" cy="302.6" rx="1.7" ry="0.4" fill="#102c8b" opacity="0.8"/>
<ellipse cx="150.7" cy="291.5" rx="1.7" ry="0.6" fill="#359acc" opacity="0.8"/>
<ellipse cx="147.1" cy="294.7" rx="2" ry="0.4" fill="#369bcd" opacity="0.9"/>
<ellipse cx="164" cy="290.2" rx="1.9" ry="0.4" fill="#123091" opacity="1"/>
<ellipse cx="159" cy="296.1" rx="2.1" ry="0.6" fill="#1c51b0" opacity="0.7"/>
<ellipse cx="155.4" cy="293.4" rx="1.6" ry="0.4" fill="#2163bd" opacity="0.8"/>
<ellipse cx="161.3" cy="291.4" rx="1.5" ry="0.5" fill="#112e8d" opacity="0.8"/>
<ellipse cx="141.7" cy="302.3" rx="2.7" ry="0.4" fill="#1e5bb7" opacity="0.8"/>
<ellipse cx="145.5" cy="290.3" rx="2.6" ry="0.5" fill="#3190ca" opacity="0.9"/>
<ellipse cx="133.8" cy="306.9" rx="2.1" ry="0.4" fill="#15389d" opacity="0.8"/>
<ellipse cx="163.7" cy="299.2" rx="1" ry="0.4" fill="#143598" opacity="0.9"/>
<ellipse cx="149.9" cy="296.3" rx="1.8" ry="0.5" fill="#112e8e" opacity="0.9"/>
<ellipse cx="154.4" cy="294.5" rx="1.7" ry="0.4" fill="#369ccd" opacity="0.8"/>
<ellipse cx="159" cy="297.9" rx="1.2" ry="0.6" fill="#1d54b2" opacity="0.8"/>
<ellipse cx="153.1" cy="301" rx="1.3" ry="0.4" fill="#133395" opacity="0.7"/>
<ellipse cx="133.1" cy="307" rx="1.9" ry="0.4" fill="#133294" opacity="1"/>
<ellipse cx="160.9" cy="305.5" rx="2.8" ry="0.4" fill="#123192" opacity="0.7"/>
<ellipse cx="141.9" cy="293.1" rx="1.1" ry="0.4" fill="#359acc" opacity="0.8"/>
<ellipse cx="151.1" cy="289.9" rx="3" ry="0.5" fill="#246fc4" opacity="0.8"/>
<ellipse cx="140.5" cy="299.4" rx="1.7" ry="0.5" fill="#56b9bc" opacity="0.8"/>
<ellipse cx="142.7" cy="291.7" rx="1" ry="0.6" fill="#133497" opacity="1"/>
<ellipse cx="158.4" cy="296.4" rx="2.2" ry="0.6" fill="#1b4faf" opacity="1"/>
<ellipse cx="146.3" cy="296.2" rx="2.8" ry="0.4" fill="#0f2884" opacity="1"/>
<ellipse cx="145.4" cy="294.5" rx="2.7" ry="0.5" fill="#89cf90" opacity="1"/>
<ellipse cx="151.8" cy="304.2" rx="1.4" ry="0.4" fill="#1e5ab6" opacity="0.9"/>
<ellipse cx="156.1" cy="299.3" rx="1" ry="0.6" fill="#1f5bb7" opacity="0.9"/>
<ellipse cx="162.2" cy="296.4" rx="1.7" ry="0.5" fill="#1842a5" opacity="0.8"/>
<ellipse cx="140" cy="296.1" rx="1.7" ry="0.5" fill="#0c217a" opacity="0.8"/>
<ellipse cx="133.8" cy="293.2" rx="1.2" ry="0.4" fill="#1e59b5" opacity="0.8"/>
<ellipse cx="144.8" cy="301.1" rx="2" ry="0.6" fill="#0c2078" opacity="0.7"/>
<ellipse cx="134.2" cy="299.5" rx="1.6" ry="0.4" fill="#1a49aa" opacity="0.9"/>
<ellipse cx="135.8" cy="297.9" rx="1.6" ry="0.4" fill="#2a7ec7" opacity="0.8"/>
<ellipse cx="155.4" cy="298" rx="1.1" ry="0.5" fill="#2673c5" opacity="0.9"/>
<ellipse cx="147.9" cy="288.4" rx="1.4" ry="0.6" fill="#0f2986" opacity="0.9"/>
<ellipse cx="153.9" cy="303.9" rx="1.5" ry="0.5" fill="#1a4bac" opacity="0.9"/>
<ellipse cx="152.1" cy="296.4" rx="2.9" ry="0.4" fill="#3caacf" opacity="1"/>
<ellipse cx="161.1" cy="293.4" rx="1.9" ry="0.5" fill="#133496" opacity="0.8"/>
<ellipse cx="141.4" cy="289.9" rx="2" ry="0.4" fill="#1f5eb9" opacity="0.9"/>
<ellipse cx="135.9" cy="304.1" rx="2" ry="0.4" fill="#0c2078" opacity="0.9"/>
<ellipse cx="164" cy="304.2" rx="1.6" ry="0.5" fill="#112f8f" opacity="0.9"/>
<ellipse cx="134.2" cy="293.3" rx="2.3" ry="0.5" fill="#2061bb" opacity="0.9"/>
<ellipse cx="150.5" cy="298" rx="1.4" ry="0.5" fill="#2a7fc7" opacity="1"/>
<ellipse cx="161.1" cy="302.6" rx="1.2" ry="0.4" fill="#133497" opacity="0.8"/>
<ellipse cx="160.1" cy="305.6" rx="1.3" ry="0.6" fill="#15389e" opacity="1"/>
<ellipse cx="163.7" cy="290" rx="2.3" ry="0.6" fill="#123192" opacity="0.9"/>
<ellipse cx="147.7" cy="288.7" rx="2.9" ry="0.6" fill="#112e8e" opacity="0.7"/>
<ellipse cx="144.1" cy="288.5" rx="2.7" ry="0.5" fill="#143599" opacity="0.9"/>
<ellipse cx="147.2" cy="305.7" rx="1.2" ry="0.4" fill="#1946a8" opacity="0.8"/>
<ellipse cx="141.8" cy="296.2" rx="2.2" ry="0.5" fill="#5fbeb6" opacity="0.8"/>
<ellipse cx="155" cy="291.6" rx="2.3" ry="0.6" fill="#2f8ac9" opacity="0.9"/>
<ellipse cx="133.6" cy="297.6" rx="2.2" ry="0.4" fill="#1b4dad" opacity="0.7"/>
<ellipse cx="142.9" cy="288.3" rx="2.9" ry="0.5" fill="#246fc4" opacity="0.8"/>
<ellipse cx="157" cy="291.4" rx="1.6" ry="0.5" fill="#1b4dad" opacity="0.7"/>
<ellipse cx="142.5" cy="294.6" rx="1.9" ry="1.7" fill="#48b1c7" opacity="0.9"/>
<ellipse cx="142.5" cy="294.6" rx="1.1" ry="1.2" fill="#d0ce3f"/>
<ellipse cx="145.7" cy="302" rx="2.6" ry="1.1" fill="#b8d559" opacity="0.9" transform="rotate(-22 145.7 302)"/>
<ellipse cx="145.7" cy="302" rx="1.8" ry="0.6" fill="#ea621a" transform="rotate(-22 145.7 302)"/>
<ellipse cx="140.4" cy="290.5" rx="2.2" ry="1.1" fill="#287ac6" opacity="0.9"/>
<ellipse cx="140.4" cy="290.5" rx="1.4" ry="0.6" fill="#88cf91"/>
<ellipse cx="154.6" cy="291" rx="2.5" ry="1" fill="#2165be" opacity="0.9"/>
<ellipse cx="154.6" cy="291" rx="1.7" ry="0.5" fill="#6bc6ad"/>
<ellipse cx="155.6" cy="303.5" rx="2.4" ry="1" fill="#2165be" opacity="0.9"/>
<ellipse cx="155.6" cy="303.5" rx="1.6" ry="0.5" fill="#6bc6ad"/>
<ellipse cx="148.1" cy="299" rx="2.1" ry="1" fill="#1b4faf" opacity="0.9"/>
<ellipse cx="148.1" cy="299" rx="1.3" ry="0.5" fill="#4eb4c3"/>
<ellipse cx="179.7" cy="294" rx="1.8" ry="0.4" fill="#1e58b5" opacity="0.9"/>
<ellipse cx="181.6" cy="297.1" rx="1.7" ry="0.6" fill="#4cb3c4" opacity="0.8"/>
<ellipse cx="185.7" cy="294.1" rx="1.5" ry="0.5" fill="#60bfb6" opacity="0.9"/>
<ellipse cx="179.4" cy="299" rx="1.5" ry="0.6" fill="#1d54b2" opacity="0.9"/>
<ellipse cx="184.8" cy="292.6" rx="1.1" ry="0.4" fill="#47b0c7" opacity="0.8"/>
<ellipse cx="178.8" cy="295.6" rx="1.8" ry="0.5" fill="#123091" opacity="0.7"/>
<ellipse cx="179.9" cy="302.1" rx="1.8" ry="0.5" fill="#2165bd" opacity="0.9"/>
<ellipse cx="181.4" cy="289.6" rx="2" ry="0.6" fill="#2b7fc7" opacity="0.8"/>
<ellipse cx="179.8" cy="289.7" rx="1.3" ry="0.5" fill="#133496" opacity="0.7"/>
<ellipse cx="181.2" cy="292.5" rx="0.9" ry="0.4" fill="#65c2b2" opacity="0.7"/>
<ellipse cx="185.4" cy="297.5" rx="1" ry="0.4" fill="#39a3ce" opacity="0.8"/>
<ellipse cx="176.8" cy="297.1" rx="1.6" ry="0.4" fill="#15389d" opacity="0.8"/>
<ellipse cx="177.4" cy="294.3" rx="1.4" ry="0.5" fill="#163ba0" opacity="0.9"/>
<ellipse cx="184.3" cy="300.3" rx="1.4" ry="0.4" fill="#2572c4" opacity="0.7"/>
<ellipse cx="185.1" cy="289.7" rx="1.3" ry="0.4" fill="#236ac1" opacity="0.7"/>
<ellipse cx="184" cy="298.9" rx="1.1" ry="0.5" fill="#4db4c3" opacity="0.9"/>
<ellipse cx="184.9" cy="292.5" rx="1.3" ry="0.5" fill="#2777c5" opacity="0.9"/>
<ellipse cx="185.5" cy="301.8" rx="1.7" ry="0.5" fill="#2f8ac9" opacity="0.8"/>
<ellipse cx="178.2" cy="291.2" rx="1" ry="0.6" fill="#1d54b2" opacity="0.8"/>
<ellipse cx="183.4" cy="297.5" rx="1.5" ry="0.4" fill="#3292cb" opacity="0.8"/>
<ellipse cx="185.5" cy="289.5" rx="1.5" ry="0.4" fill="#1d56b3" opacity="0.9"/>
<ellipse cx="183.9" cy="289.5" rx="1.6" ry="0.4" fill="#39a3ce" opacity="0.9"/>
<ellipse cx="178.4" cy="288.1" rx="1.1" ry="0.5" fill="#1842a5"/>
<ellipse cx="179.1" cy="294.3" rx="1.3" ry="0.6" fill="#1e59b5" opacity="1"/>
<ellipse cx="184.9" cy="297.5" rx="1" ry="0.6" fill="#102a88" opacity="0.8"/>
<ellipse cx="185.1" cy="294.3" rx="0.9" ry="0.5" fill="#287ac6" opacity="0.9"/>
<ellipse cx="181.8" cy="298.8" rx="1.1" ry="0.6" fill="#3291cb" opacity="0.9"/>
<ellipse cx="176.6" cy="294.2" rx="1.6" ry="0.4" fill="#14369a" opacity="0.9"/>
<ellipse cx="186" cy="289.3" rx="1.7" ry="0.5" fill="#1b4cac" opacity="0.8"/>
<ellipse cx="185.6" cy="299.1" rx="1.6" ry="0.6" fill="#2269c0" opacity="1"/>
<ellipse cx="185.4" cy="297.5" rx="1.3" ry="0.4" fill="#3292cb" opacity="0.8"/>
<ellipse cx="184.3" cy="292.7" rx="1.2" ry="0.6" fill="#72c9a8" opacity="0.7"/>
<ellipse cx="184.7" cy="300.5" rx="1.1" ry="0.4" fill="#55b8bd" opacity="0.8"/>
<ellipse cx="181.2" cy="298.7" rx="1.8" ry="0.4" fill="#74cba7" opacity="0.9"/>
<ellipse cx="179.8" cy="292.8" rx="1.5" ry="0.4" fill="#2268bf" opacity="1"/>
<ellipse cx="178.5" cy="299" rx="1.1" ry="0.4" fill="#1c53b1" opacity="0.8"/>
<ellipse cx="179.1" cy="300.5" rx="1" ry="0.4" fill="#205fb9" opacity="0.8"/>
<ellipse cx="182.7" cy="298.9" rx="1.5" ry="0.5" fill="#0c227b" opacity="0.9"/>
<ellipse cx="177.6" cy="299" rx="1.7" ry="0.4" fill="#1d55b2" opacity="0.8"/>
<ellipse cx="184.2" cy="287.9" rx="1.5" ry="0.6" fill="#1c53b1" opacity="0.8"/>
<ellipse cx="184" cy="300.3" rx="1.6" ry="0.6" fill="#51b6c0" opacity="0.9"/>
<ellipse cx="182.2" cy="294.4" rx="1.7" ry="0.4" fill="#133497" opacity="0.7"/>
<ellipse cx="182.8" cy="297.5" rx="1.5" ry="0.5" fill="#81ce99" opacity="0.8"/>
<ellipse cx="182.3" cy="300.4" rx="1" ry="0.6" fill="#123091" opacity="0.9"/>
<ellipse cx="179" cy="292.5" rx="1.8" ry="0.6" fill="#143598" opacity="0.9"/>
<ellipse cx="182.2" cy="297.2" rx="1.1" ry="0.4" fill="#c0d64e" opacity="0.8"/>
<ellipse cx="183.3" cy="290.4" rx="2.5" ry="1.5" fill="#90d088" opacity="0.9"/>
<ellipse cx="183.3" cy="290.4" rx="1.6" ry="0.9" fill="#ea621a"/>
<ellipse cx="180.5" cy="297.2" rx="2.5" ry="1.4" fill="#c0d64f" opacity="0.9"/>
<ellipse cx="180.5" cy="297.2" rx="1.6" ry="0.8" fill="#d83214"/>
<ellipse cx="183.9" cy="294.6" rx="2.4" ry="1.5" fill="#65c2b1" opacity="0.9"/>
<ellipse cx="183.9" cy="294.6" rx="1.5" ry="0.9" fill="#f19821"/>
<ellipse cx="183.1" cy="302.5" rx="2.2" ry="1.7" fill="#2061bb" opacity="0.9"/>
<ellipse cx="183.1" cy="302.5" rx="1.3" ry="1.1" fill="#88cf91"/>
<ellipse cx="48.4" cy="275.5" rx="1.7" ry="0.5" fill="#0c227a" opacity="0.8"/>
<ellipse cx="45.4" cy="277.4" rx="1.3" ry="0.6" fill="#0c227a" opacity="0.8"/>
<ellipse cx="75.8" cy="277.2" rx="1.4" ry="0.4" fill="#15399e" opacity="0.8"/>
<ellipse cx="73.5" cy="276.6" rx="1.6" ry="0.4" fill="#15399e" opacity="0.8"/>
<ellipse cx="75" cy="276.5" rx="1" ry="0.5" fill="#1b50af" opacity="0.8"/>
<ellipse cx="75.9" cy="279.5" rx="1.4" ry="0.7" fill="#123193" opacity="0.9"/>
<ellipse cx="77.3" cy="279" rx="1" ry="0.7" fill="#15379c" opacity="0.8"/>
<ellipse cx="82.4" cy="281" rx="2.2" ry="0.7" fill="#0d247f" opacity="0.9"/>
<ellipse cx="82.1" cy="280.8" rx="1.3" ry="0.4" fill="#14369b" opacity="0.8"/>
<ellipse cx="81.9" cy="280.8" rx="1.3" ry="0.7" fill="#0d257f" opacity="1"/>
<ellipse cx="100.5" cy="280.2" rx="1" ry="0.4" fill="#0c227a" opacity="0.8"/>
<ellipse cx="98" cy="280.6" rx="1.8" ry="0.6" fill="#0c227a" opacity="0.8"/>
<ellipse cx="103.8" cy="280" rx="1.8" ry="0.5" fill="#0c227a" opacity="0.9"/>
<ellipse cx="132.5" cy="281.6" rx="0.9" ry="0.5" fill="#0c227a" opacity="0.8"/>
<ellipse cx="130.1" cy="281.1" rx="1.4" ry="0.5" fill="#2164bd" opacity="0.8"/>
<ellipse cx="136.8" cy="279.2" rx="1.1" ry="0.7" fill="#2164bd" opacity="0.8"/>
<ellipse cx="135.1" cy="279.2" rx="1.2" ry="0.6" fill="#1c52b1" opacity="0.9"/>
<ellipse cx="139.9" cy="278.5" rx="1.1" ry="0.6" fill="#0c227a" opacity="0.7"/>
<ellipse cx="137.4" cy="278.4" rx="1" ry="0.6" fill="#0c227a" opacity="0.8"/>
<ellipse cx="153.8" cy="279.1" rx="1.6" ry="0.6" fill="#0c227a" opacity="1"/>
<ellipse cx="155.3" cy="279.4" rx="1.4" ry="0.7" fill="#1a49aa" opacity="0.8"/>
<ellipse cx="154.6" cy="279.9" rx="2.1" ry="0.5" fill="#122f90" opacity="0.9"/>
<ellipse cx="152.5" cy="280" rx="1.1" ry="0.5" fill="#0c227a" opacity="0.9"/>
<ellipse cx="157.2" cy="280.9" rx="1.6" ry="0.7" fill="#0c227a" opacity="0.9"/>
<ellipse cx="157.5" cy="277.8" rx="1.4" ry="0.4" fill="#1e58b4" opacity="0.7"/>
<ellipse cx="156.9" cy="277.5" rx="2.1" ry="0.4" fill="#15399f" opacity="1"/>
<ellipse cx="184.2" cy="279.5" rx="1.9" ry="0.5" fill="#0e2681" opacity="0.9"/>
<ellipse cx="184.1" cy="278.7" rx="1.5" ry="0.4" fill="#0c227a" opacity="0.9"/>
<ellipse cx="181.8" cy="279.8" rx="2.2" ry="0.6" fill="#163aa0" opacity="0.8"/>
<ellipse cx="121.2" cy="276.3" rx="1.5" ry="0.7" fill="#0c227a"/>
<ellipse cx="92.6" cy="284.7" rx="2.1" ry="0.4" fill="#0c227a" opacity="0.9"/>
<ellipse cx="88.7" cy="285.6" rx="1.4" ry="0.6" fill="#0c227a" opacity="0.9"/>
<ellipse cx="49.9" cy="317.5" rx="2.3" ry="0.5" fill="#143598" opacity="1"/>
<ellipse cx="48.5" cy="317.5" rx="1.6" ry="0.6" fill="#1e5bb6" opacity="0.9"/>
<ellipse cx="49.6" cy="317.3" rx="1.5" ry="0.7" fill="#1f5db8" opacity="0.7"/>
<ellipse cx="47.3" cy="316.7" rx="2.1" ry="0.4" fill="#0c227a" opacity="0.7"/>
<ellipse cx="57.9" cy="318.7" rx="2.3" ry="0.7" fill="#14379b" opacity="0.8"/>
<ellipse cx="55.3" cy="318.6" rx="1.7" ry="0.5" fill="#0c227a" opacity="1"/>
<ellipse cx="70" cy="312.8" rx="1.7" ry="0.5" fill="#0c227a" opacity="0.8"/>
<ellipse cx="73" cy="312.5" rx="2.3" ry="0.7" fill="#0f2986" opacity="0.8"/>
<ellipse cx="80.4" cy="318.1" rx="1.4" ry="0.6" fill="#3ba7cf" opacity="0.8"/>
<ellipse cx="82.9" cy="317.9" rx="1.5" ry="0.5" fill="#1f5eb9" opacity="0.9"/>
<ellipse cx="83.3" cy="317.7" rx="1.3" ry="0.5" fill="#15399f" opacity="0.8"/>
<ellipse cx="79.1" cy="318" rx="1.5" ry="0.7" fill="#1e57b4" opacity="1"/>
<ellipse cx="80.2" cy="316.3" rx="2.4" ry="0.5" fill="#0c227a" opacity="0.9"/>
<ellipse cx="87.7" cy="313.8" rx="2.2" ry="0.5" fill="#0c227a" opacity="0.9"/>
<ellipse cx="87.1" cy="314.3" rx="1.2" ry="0.4" fill="#0f2a87" opacity="0.8"/>
<ellipse cx="86.4" cy="314.9" rx="1.5" ry="0.7" fill="#133497" opacity="0.7"/>
<ellipse cx="107" cy="317.5" rx="2.4" ry="0.5" fill="#0c227a" opacity="0.7"/>
<ellipse cx="106.9" cy="317.7" rx="1.9" ry="0.4" fill="#0c227a" opacity="0.9"/>
<ellipse cx="100.6" cy="318.2" rx="2.1" ry="0.7" fill="#0c227a" opacity="0.9"/>
<ellipse cx="103.5" cy="317.3" rx="1.8" ry="0.7" fill="#d8c639" opacity="0.9"/>
<ellipse cx="102.8" cy="318.4" rx="2" ry="0.6" fill="#0d237d" opacity="0.8"/>
<ellipse cx="113.3" cy="316.9" rx="2.4" ry="0.5" fill="#0c227a" opacity="0.8"/>
<ellipse cx="111.2" cy="316.1" rx="2.6" ry="0.7" fill="#102a88" opacity="0.8"/>
<ellipse cx="110.9" cy="316.5" rx="2.1" ry="0.4" fill="#2267bf" opacity="0.8"/>
<ellipse cx="110.9" cy="311.8" rx="1.9" ry="0.6" fill="#0c227a" opacity="0.8"/>
<ellipse cx="113.9" cy="311.3" rx="1.6" ry="0.4" fill="#0e2580" opacity="1"/>
<ellipse cx="124.8" cy="318.5" rx="1.5" ry="0.6" fill="#0c227a" opacity="1"/>
<ellipse cx="121.1" cy="317.3" rx="1.2" ry="0.6" fill="#0e2782" opacity="0.9"/>
<ellipse cx="121.6" cy="317.8" rx="2.3" ry="0.6" fill="#133497" opacity="1"/>
<ellipse cx="128.3" cy="313" rx="1.7" ry="0.6" fill="#0c227a" opacity="0.8"/>
<ellipse cx="125.2" cy="312" rx="2.2" ry="0.6" fill="#0c227a" opacity="1"/>
<ellipse cx="135.5" cy="317.4" rx="1.3" ry="0.5" fill="#3291cb" opacity="0.7"/>
<ellipse cx="133" cy="317" rx="2" ry="0.5" fill="#0c227a" opacity="0.9"/>
<ellipse cx="138.2" cy="316.7" rx="1.8" ry="0.5" fill="#0c227a" opacity="0.7"/>
<ellipse cx="137.1" cy="316.8" rx="1.5" ry="0.5" fill="#133396" opacity="0.9"/>
<ellipse cx="146.7" cy="314.5" rx="1.3" ry="0.5" fill="#0c227a" opacity="0.9"/>
<ellipse cx="140.6" cy="312.7" rx="2.7" ry="0.6" fill="#0c227a" opacity="0.9"/>
<ellipse cx="156" cy="316.5" rx="1.7" ry="0.4" fill="#0c227b" opacity="1"/>
<ellipse cx="154.8" cy="317.3" rx="1.7" ry="0.5" fill="#3caacf" opacity="0.8"/>
<ellipse cx="150.9" cy="316.3" rx="1.9" ry="0.6" fill="#0c227a" opacity="0.8"/>
<ellipse cx="154.5" cy="317.1" rx="1.5" ry="0.7" fill="#3291cb" opacity="0.8"/>
<ellipse cx="154.3" cy="316.4" rx="2.6" ry="0.4" fill="#102c8b" opacity="1"/>
<ellipse cx="161.4" cy="317.2" rx="1.8" ry="0.5" fill="#1b4eae" opacity="1"/>
<ellipse cx="158.8" cy="317.8" rx="1.3" ry="0.5" fill="#0c227a" opacity="0.8"/>
<ellipse cx="163.2" cy="317.3" rx="2.1" ry="0.7" fill="#15389e" opacity="0.8"/>
<ellipse cx="163" cy="311.6" rx="1.5" ry="0.4" fill="#0c227a" opacity="0.8"/>
<ellipse cx="162.2" cy="310.9" rx="2.1" ry="0.5" fill="#0c227a" opacity="0.8"/>
<ellipse cx="181.4" cy="313.3" rx="2" ry="0.4" fill="#0c227a" opacity="0.7"/>
<ellipse cx="180.5" cy="311.3" rx="2.7" ry="0.6" fill="#0c227a" opacity="0.9"/>
<ellipse cx="180.1" cy="312.5" rx="2.4" ry="0.5" fill="#1844a7" opacity="1"/>
<ellipse cx="180.2" cy="313" rx="2.7" ry="0.5" fill="#15389d" opacity="0.8"/>
<ellipse cx="184.9" cy="315.6" rx="2.6" ry="0.4" fill="#0c227a" opacity="0.9"/>
<ellipse cx="183.7" cy="314.9" rx="2.3" ry="0.5" fill="#236ac1" opacity="0.8"/>
<ellipse cx="183.7" cy="315" rx="1.2" ry="0.5" fill="#236dc3" opacity="1"/>
<ellipse cx="180.4" cy="315.9" rx="1.8" ry="0.5" fill="#0c227a" opacity="1"/>
<ellipse cx="169.8" cy="318.2" rx="2.1" ry="0.6" fill="#123192" opacity="0.8"/>
<ellipse cx="169.3" cy="318.9" rx="1.6" ry="0.4" fill="#0c227a" opacity="0.7"/>
</g></g>
<path d="M98.2,275.4V281.4M98.2,292.2V303.6M98.2,314.2V325.6M98.2,336.2V347.6M98.2,358.2V369.6M98.2,380.2V391.6M98.2,402.2V413.6M98.2,424.2V435.6M98.2,446.2V457.6M98.2,468.2V477M132.1,275.4V281.4M132.1,292.2V303.6M132.1,314.2V325.6M132.1,336.2V347.6M132.1,358.2V369.6M132.1,380.2V391.6M132.1,402.2V413.6M132.1,424.2V435.6M132.1,446.2V457.6M132.1,468.2V477M98.2,275.4H103.8M109,275.4H120.2M126.5,275.4H132.1M98.2,477H103.8M109,477H120.2M126.5,477H132.1" fill="none" stroke="#f4777a" stroke-width="1.25"/>
<line x1="45.5" y1="321.8" x2="45.5" y2="342.2" stroke="#0a0a0a" stroke-width="1.05" />
<text x="48.7" y="331.3" font-size="10.8" font-weight="normal" text-anchor="start" fill="#0a0a0a" >20 mV</text>
<text x="185.5" y="332.6" font-size="10.8" font-weight="normal" text-anchor="end" fill="#0a0a0a" >100 ms</text>
<line x1="164.2" y1="322.2" x2="185.4" y2="322.2" stroke="#333" stroke-width="1.3" />
<path d="M45.8,361l.5-.3 .5-.6 .5,.8 .5-1 .5-.7 .5,.2 .5-.2 .5,.4 .5-.3 .5,.5 .5-1.5 .5,1.2 .5,0 .2-.7 .5-7.9 .3-18.3 .3,13.1 .4,8.6 .6,2.9 .2-.7 .5,.4 .5,.5 .5,.7 .5-1 .5,.9 .5,.7 .5,0 .5,1.1 .5-.6 .5,.3 .5,0 .5,.2 .5-1.2 .5-.7 .5,.9 .5-.3 .5-.7 .5-.1 .5,1.1 .5,.8 .5,.6 .5,1.1 .5,.6 .5,.5 .5-.7 .5-.3 .5-.4 .5-.1 .5,.9 .5-1.3 .5,.7 .5-.3 .5,.2 .5,.2 .5,0 .5,1 .5-.1 .5-.5 .5-.2 .5,.7 .5-.2 .5,0 .5-.7 .5,.5 .5,.4 .5,.3 .5-.4 .5,0 .5-1 .5,1 .5-.2 .5,.8 .5-.8 .5-.1 .5,.9 .5-1 .5,.6 .5,.1 .5-.2 .5-.9 .5,1.4 .5,.2 .5-.6 .5,1.3 .5-1.6 .5,1.1 .5,1.4 .5-.4 .5-1 .5,.3 .5-.1 .5-2.2 .5,1 .5-.5 .5,.4 .5-1.5 .5-1.4 .5,.4 .5,.8 .5-1.7 .5,1 .5-.4 .5-1.2 .5,0 .5-.6 .5-.2 .5-.2 .5-.7 .4,1 .4-7.3 .3-17.3 .3,12.3 .4,8.2 .6,2.7 .6,1.3 .5-.2 .5-.3 .5,1.7 .5-.7 .5,.5 .5,.1 .5,1.8 .5,.1 .5,.7 .5-.3 .5,.2 .5-.8 .5,0 .5,.5 .5-.4 .5-1.6 .5-1 .5,.7 .5,0 .5-.2 .5,.5 .5,2.1 .5-.8 .5,.1 .5,.5 .5-1.5 .2-.3 .4-7.8 .3-18.1 .3,12.9 .4,8.6 .6,2.8 .3,1.6 .5,.3 .5-1.7 .5,.5 .5,1.7 .5,.1 .5,0 .5,.8 .5-.3 .5,1.3 .5-.9 .5,.7 .5-.6 .5,0 .5,0 .5,.3 .5,.3 .5-.3 .5-.3 .5,.1 .5-.1 .5,1.4 .5-.4 .5,.2 .5,1.1 .5-.4 .5,.3 .5-.4 .5-1 .5-1.3 .5,.5 .5-.8 .5-.8 .5-.8 .5,.7 .5-.4 .5,.6 .5-1.8 .3,.2 .4-7.2 .3-16.7 .3,12 .4,7.9 .6,2.6 .2,2.5 .5-1 .5,.5 .5-.4 .5,0 .5,.3 .5,0 .5,.9 .5,.1 .5,1.2 .5-.5 .5-.3 .5,1 .5-.7 .5,1.9 .5-2.2 .5,.2 .5,1.3 .5-.2 .5-.6 .5,1.1 .5-.5 .5-1.7 .5,.2 .5-.1 .5,.3 .5-.5 .5,.6 .5-.8 .5,.7 .5-.5 .5,.6 .5,.3 .5-1.2 .5,1.2 .5-1 .5-.3 .5,1 .5,.2 .5,.6 .5-.1 .5-1 .5,0 .5,.8 .5-.1 .5-.5 .5-.1 .5,1.4 .5-.2 .5-.1 .5-.6 .5-.3 .5,.3 .5-.1 .5,1.1 .5,.1 .5,.2 .5-2.1 .5,1.6 .5,.8 .5,.1 .5,.7 .5-1.1 .5,.8 .5,.9 .5-.9 .5,1.9 .5-1.2 .5,0 .5,1 .5-1.3 .5,.4 .5-.3 .5,1.6 .5-1.1 .5-.2 .5,1.2 .5-.7 .5,.7 .5-1 .5,.1 .5-.3 .5,.1 .5-.8 .5,.4 .5,2.1 .5-1.4 .5-.4 .5-.3 .5,0 .5,.7 .5-.9 .5,.6 .5-1.8 .5,.1" fill="none" stroke="#050505" stroke-width="1.25" stroke-linejoin="round" />
<line x1="41.3" y1="379.3" x2="41.3" y2="449.5" stroke="#1c1c1c" stroke-width="1.15" />
<text x="38.3" y="386.3" font-size="10.8" font-weight="normal" text-anchor="end" fill="#0a0a0a" >15</text>
<text x="39" y="448.8" font-size="10.8" font-weight="normal" text-anchor="end" fill="#0a0a0a" >1</text>
<text transform="translate(37.3,416) rotate(-90)" font-size="10.8" text-anchor="middle" fill="#0a0a0a">Trials</text>
<path d="M56.9,379.5v4.2M117.3,379.5v4.2M158.1,379.5v4.2M59.6,384.2v4.2M80.4,384.2v4.2M93.8,384.2v4.2M98.5,384.2v4.2M105.7,384.2v4.2M112.3,384.2v4.2M172.5,384.2v4.2M58.3,388.9v4.2M99.3,388.9v4.2M146.2,388.9v4.2M184.7,388.9v4.2M52.1,393.6v4.2M110.4,393.6v4.2M55.5,398.3v4.2M57.4,398.3v4.2M70.7,398.3v4.2M114.6,398.3v4.2M158.7,398.3v4.2M118.7,403v4.2M149,403v4.2M152,403v4.2M53.3,407.8v4.2M99.3,407.8v4.2M115.1,407.8v4.2M137.9,407.8v4.2M65.7,412.5v4.2M67.4,412.5v4.2M94.9,412.5v4.2M97.6,412.5v4.2M105.7,412.5v4.2M130.4,412.5v4.2M132,412.5v4.2M155.9,412.5v4.2M167.8,412.5v4.2M53.3,417.2v4.2M97.6,417.2v4.2M110.4,417.2v4.2M139.5,417.2v4.2M168.4,417.2v4.2M45.8,421.9v4.2M133.1,421.9v4.2M168.7,421.9v4.2M49.4,431.3v4.2M83.2,431.3v4.2M180.3,431.3v4.2M50.5,436.1v4.2M73.5,445.5v4.2M100.4,445.5v4.2" stroke="#151515" stroke-width="0.7" fill="none"/>
<line x1="41.3" y1="459" x2="41.3" y2="471" stroke="#111" stroke-width="1.15" />
<text x="43.3" y="465" font-size="10.8" font-weight="normal" text-anchor="start" fill="#0a0a0a" >20 Hz</text>
<path d="M45.8,471.8l.6-.1 .6-.4 .6,.2 .6-.2 .6-1.1 .6,0 .6,.2 .6-.2 .6-.1 .6-.1 .6-.4 .6,0 .6,.4 .6-.6 .6,.6 .6,.9 .6-.9 .6,.8 .6,.7 .6-.2 .6-.5 .6-.2 .6,.4 .6-.3 .6,.2 .6,.1 .6,.4 .6,.3 .6-.6 .6-.3 .6,1 .6,0 .6,0 .6,0 .6,.3 .6-.5 .6,.4 .6,.2 .6,.3 .6-.3 .6-.2 .6,.9 .6-.7 .6,.1 .6,.7 .6-.3 .6-.6 .6-.5 .6,.3 .6,.3 .6,.5 .6,.2 .6,.2 .6,0 .6,.6 .6,.1 .6-.1 .6,.7 .6,0 .6-1.2 .6,1 .6,.3 .6-.7 .6-.5 .6,.3 .6-.4 .6-.6 .6,0 .6,.5 .6-.3 .6-1.1 .6,.4 .6,.1 .6-.2 .6-.4 .6,.4 .6,.5 .6-1.4 .6,.3 .6,.1 .6,0 .6,.5 .6-.5 .6-.4 .6,0 .6-.3 .6,0 .6-.2 .6-.2 .6-.2 .6,0 .6-.5 .6,.5 .6-.5 .6-.1 .6,0 .6,.1 .6,.2 .6,.2 .6-.3 .6,.2 .6-.2 .6,.2 .6,.1 .6,.6 .6,.5 .6,.1 .6-.4 .6,.6 .6,.4 .6-.1 .6-.2 .6-.5 .6-.2 .6,0 .6-.4 .6,.6 .6-.6 .6,.4 .6-.3 .6,1.1 .6,0 .6,.4 .6-.1 .6,0 .6-.5 .6,.5 .6-.5 .6,.3 .6,.2 .6-.3 .6,.6 .6,.1 .6,.7 .6-1.1 .6,.7 .6,.9 .6-.6 .6,.4 .6,.9 .6-.7 .6,.6 .6,.3 .6-.1 .6-1.1 .6,.3 .6-.2 .6,.5 .6-.3 .6,.5 .6-.1 .6-.2 .6-.5 .6,0 .6,0 .6-.2 .6-.6 .6-.3 .6,.2 .6,0 .6-.5 .6,.7 .6-.7 .6,.3 .6,.3 .6-.5 .6,.3 .6-.2 .6-.3 .6,.1 .6-.9 .6,1 .6-.2 .6-.1 .6,.4 .6-.6 .6,.2 .6-.1 .6-.1 .6-.3 .6-.1 .6,.6 .6-.1 .6-.2 .6,.9 .6-.1 .6-.4 .6,.5 .6,.4 .6,.3 .6-.7 .6,.7 .6-.6 .6,.3 .6,.6 .6-.7 .6,.1 .6,.5 .6,.1 .6-.2 .6-.2 .6,.6 .6-.6 .6,0 .6-.5 .6,.1 .6-.5 .6-.1 .6,.2 .6,.9 .6-1.8 .6,.8 .6-.3 .6,.5 .6,.1 .6,.1 .6-.3 .6-.7 .6,.1 .6,.9 .6,0 .6,.3 .6-.5 .6,.6 .6-.3 .6-.3 .6-.8 .6,0 .6-1.2 .6-.8 .6-1 .6-.1" fill="none" stroke="#050505" stroke-width="1.55" stroke-linejoin="round" />
<text x="216" y="269.5" font-size="15.9" font-weight="normal" text-anchor="start" fill="#161616" >BOS</text>
<text x="280" y="263.8" font-size="8.4" fill="#f26a36" font-weight="bold">+</text>
<text x="285.5" y="266.1" font-size="12.1" fill="#f26a36" font-weight="bold" class="fm" stroke="#f26a36" stroke-width="0.8">♀</text>
<rect x="265" y="275.2" width="33.8" height="201.3" fill="#fdc8af" />
<clipPath id="cG2"><rect x="215" y="275.2" width="134.6" height="44.5"/></clipPath>
<rect x="215" y="275.2" width="134.6" height="44.5" fill="#000" />
<g clip-path="url(#cG2)"><g filter="url(#b2)">
<ellipse cx="215.3" cy="286.9" rx="2.2" ry="0.5" fill="#2b7fc7" opacity="1"/>
<ellipse cx="216.1" cy="299.1" rx="2.7" ry="0.5" fill="#6ac5ae" opacity="0.9"/>
<ellipse cx="215.5" cy="282.1" rx="1.2" ry="0.5" fill="#1f5bb7" opacity="0.7"/>
<ellipse cx="220.6" cy="303.7" rx="2.3" ry="0.6" fill="#2776c5" opacity="0.8"/>
<ellipse cx="217.5" cy="315" rx="2.9" ry="0.6" fill="#2266bf" opacity="0.7"/>
<ellipse cx="216.3" cy="282.2" rx="2.7" ry="0.5" fill="#1c52b1" opacity="1"/>
<ellipse cx="219" cy="303.8" rx="2.4" ry="0.6" fill="#2c82c8" opacity="1"/>
<ellipse cx="215.6" cy="305.5" rx="2.8" ry="0.5" fill="#48b1c7" opacity="0.9"/>
<ellipse cx="222.3" cy="285.4" rx="2.3" ry="0.5" fill="#0e2681" opacity="0.8"/>
<ellipse cx="215.5" cy="279.1" rx="2.8" ry="0.4" fill="#15389d" opacity="0.9"/>
<ellipse cx="219" cy="277.5" rx="1.7" ry="0.4" fill="#14369a" opacity="0.7"/>
<ellipse cx="219.1" cy="275.8" rx="2.3" ry="0.4" fill="#0d247f" opacity="0.7"/>
<ellipse cx="217.2" cy="317.8" rx="1.9" ry="0.6" fill="#163ca1" opacity="0.8"/>
<ellipse cx="218.8" cy="317.9" rx="2.1" ry="0.5" fill="#1948a9" opacity="0.9"/>
<ellipse cx="217.8" cy="287.1" rx="1.8" ry="0.5" fill="#1c52b0"/>
<ellipse cx="219.3" cy="291.3" rx="2" ry="0.5" fill="#0f2986" opacity="0.8"/>
<ellipse cx="218.2" cy="310" rx="1.2" ry="0.4" fill="#2571c4" opacity="0.9"/>
<ellipse cx="216.9" cy="290" rx="1.9" ry="0.5" fill="#2268bf" opacity="0.8"/>
<ellipse cx="220.9" cy="294.4" rx="1.4" ry="0.5" fill="#2775c5" opacity="0.9"/>
<ellipse cx="215.8" cy="288.3" rx="1.4" ry="0.4" fill="#2165be" opacity="0.8"/>
<ellipse cx="220.9" cy="316.2" rx="1.6" ry="0.5" fill="#102b8a" opacity="0.8"/>
<ellipse cx="218.6" cy="314.6" rx="2.7" ry="0.4" fill="#1945a7" opacity="0.8"/>
<ellipse cx="214.9" cy="314.9" rx="2" ry="0.5" fill="#1f5eb9" opacity="1"/>
<ellipse cx="217.6" cy="297.6" rx="2.9" ry="0.4" fill="#2d85c8" opacity="0.7"/>
<ellipse cx="222.3" cy="316.5" rx="2.9" ry="0.4" fill="#133497" opacity="0.9"/>
<ellipse cx="220.4" cy="316.4" rx="2.8" ry="0.6" fill="#1b4eae" opacity="1"/>
<ellipse cx="216.2" cy="289.8" rx="2.1" ry="0.4" fill="#1c50af" opacity="1"/>
<ellipse cx="214.3" cy="296.2" rx="2.4" ry="0.5" fill="#0c227b" opacity="0.8"/>
<ellipse cx="215.3" cy="305.3" rx="2.7" ry="0.4" fill="#55b8bd" opacity="0.8"/>
<ellipse cx="220.9" cy="280.7" rx="2.9" ry="0.6" fill="#123293" opacity="0.9"/>
<ellipse cx="218.9" cy="276" rx="1.6" ry="0.5" fill="#133294" opacity="0.9"/>
<ellipse cx="220.6" cy="277.5" rx="1.4" ry="0.4" fill="#0b1e75" opacity="1"/>
<ellipse cx="218.5" cy="318" rx="1.9" ry="0.4" fill="#0b1d74" opacity="0.8"/>
<ellipse cx="216.9" cy="288.2" rx="2.5" ry="0.4" fill="#1c50af" opacity="0.7"/>
<ellipse cx="218" cy="283.5" rx="2.3" ry="0.4" fill="#1d54b2" opacity="1"/>
<ellipse cx="218.3" cy="277.5" rx="2.4" ry="0.5" fill="#15399f" opacity="0.8"/>
<ellipse cx="219.1" cy="302.2" rx="1.3" ry="0.4" fill="#0b1e75" opacity="1"/>
<ellipse cx="216.4" cy="302.5" rx="2.4" ry="0.6" fill="#112d8c" opacity="0.9"/>
<ellipse cx="216.8" cy="308.4" rx="2.5" ry="0.5" fill="#2b80c7" opacity="0.8"/>
<ellipse cx="215" cy="294.4" rx="1.5" ry="0.4" fill="#205fba" opacity="1"/>
<ellipse cx="241.1" cy="292.4" rx="1.2" ry="0.4" fill="#133396" opacity="0.7"/>
<ellipse cx="245.3" cy="298.7" rx="1.5" ry="0.6" fill="#0b1e75" opacity="0.8"/>
<ellipse cx="243.3" cy="295.8" rx="1.2" ry="0.5" fill="#1b4dad" opacity="1"/>
<ellipse cx="242.8" cy="308.4" rx="1.8" ry="0.6" fill="#102c8a" opacity="0.8"/>
<ellipse cx="243" cy="311.1" rx="1.4" ry="0.5" fill="#0c217a" opacity="1"/>
<ellipse cx="245.4" cy="295.6" rx="1.9" ry="0.6" fill="#14369a" opacity="0.9"/>
<ellipse cx="246.1" cy="302" rx="2" ry="0.6" fill="#173ea3" opacity="0.8"/>
<ellipse cx="242.9" cy="300.4" rx="1.3" ry="0.5" fill="#14379b" opacity="0.7"/>
<ellipse cx="241.7" cy="311.4" rx="1.6" ry="0.4" fill="#0f2885"/>
<ellipse cx="243" cy="291.3" rx="1.4" ry="0.4" fill="#163ca1" opacity="0.8"/>
<ellipse cx="246" cy="291.3" rx="1.1" ry="0.5" fill="#0a1d73" opacity="1"/>
<ellipse cx="240.6" cy="300.2" rx="1" ry="0.4" fill="#0e2783" opacity="1"/>
<ellipse cx="244.2" cy="289.5" rx="1.4" ry="0.5" fill="#0b1e75" opacity="0.8"/>
<ellipse cx="244" cy="311.2" rx="1.6" ry="0.4" fill="#0e2783" opacity="1"/>
<ellipse cx="246.6" cy="300.2" rx="1.7" ry="0.4" fill="#15389d" opacity="0.9"/>
<ellipse cx="246.7" cy="300.2" rx="1.5" ry="0.5" fill="#15379c" opacity="0.9"/>
<ellipse cx="260.1" cy="288.6" rx="2.1" ry="0.4" fill="#112e8e" opacity="1"/>
<ellipse cx="249.1" cy="304" rx="2.2" ry="0.5" fill="#15389d" opacity="0.8"/>
<ellipse cx="255.9" cy="294.8" rx="2.3" ry="0.5" fill="#0c217a" opacity="0.9"/>
<ellipse cx="249" cy="305.5" rx="1.9" ry="0.4" fill="#0d237c" opacity="0.9"/>
<ellipse cx="253.5" cy="300.8" rx="2.4" ry="0.4" fill="#236cc2" opacity="1"/>
<ellipse cx="258.4" cy="289.9" rx="2.6" ry="0.4" fill="#3daace" opacity="0.9"/>
<ellipse cx="261.4" cy="302.4" rx="2.1" ry="0.4" fill="#2269c0" opacity="0.8"/>
<ellipse cx="250.3" cy="293.2" rx="1.7" ry="0.4" fill="#1f5db8" opacity="1"/>
<ellipse cx="265.4" cy="299.5" rx="2" ry="0.5" fill="#1b4dad" opacity="1"/>
<ellipse cx="264.3" cy="304.1" rx="2.1" ry="0.4" fill="#0d247e" opacity="0.9"/>
<ellipse cx="257.1" cy="293.1" rx="1.1" ry="0.5" fill="#102c8a" opacity="0.9"/>
<ellipse cx="252.5" cy="299.2" rx="1.2" ry="0.6" fill="#102a88" opacity="0.7"/>
<ellipse cx="248.5" cy="302.3" rx="1.6" ry="0.6" fill="#173da2" opacity="0.9"/>
<ellipse cx="263.2" cy="291.4" rx="2.8" ry="0.6" fill="#0c217a" opacity="0.8"/>
<ellipse cx="255.5" cy="290.2" rx="1.2" ry="0.4" fill="#4cb3c4" opacity="0.7"/>
<ellipse cx="254.6" cy="293.3" rx="1.4" ry="0.5" fill="#133396" opacity="0.7"/>
<ellipse cx="254.8" cy="299.5" rx="2.3" ry="0.4" fill="#2674c5" opacity="0.8"/>
<ellipse cx="254.8" cy="300.8" rx="1.5" ry="0.4" fill="#41adcc" opacity="1"/>
<ellipse cx="251.1" cy="300.7" rx="1.3" ry="0.4" fill="#1b4dad" opacity="0.7"/>
<ellipse cx="250.6" cy="291.6" rx="1.6" ry="0.4" fill="#2f89c9" opacity="0.9"/>
<ellipse cx="254.7" cy="293.1" rx="1.4" ry="0.4" fill="#287ac6" opacity="0.8"/>
<ellipse cx="249.3" cy="291.5" rx="2.5" ry="0.4" fill="#2570c4" opacity="1"/>
<ellipse cx="265.6" cy="299.5" rx="1.1" ry="0.4" fill="#1b4faf"/>
<ellipse cx="260.2" cy="296" rx="1" ry="0.4" fill="#a4d370" opacity="0.7"/>
<ellipse cx="256.3" cy="291.6" rx="1.6" ry="0.6" fill="#308cca" opacity="0.9"/>
<ellipse cx="264.7" cy="296.4" rx="2.1" ry="0.6" fill="#0e2782" opacity="0.7"/>
<ellipse cx="255" cy="294.5" rx="2" ry="0.5" fill="#61c0b4" opacity="0.8"/>
<ellipse cx="254.5" cy="305.7" rx="1.3" ry="0.6" fill="#1946a8" opacity="0.8"/>
<ellipse cx="256.3" cy="299.5" rx="2.1" ry="0.5" fill="#123091" opacity="0.8"/>
<ellipse cx="250.3" cy="299.1" rx="1.2" ry="0.5" fill="#2674c5" opacity="0.9"/>
<ellipse cx="263.3" cy="296.1" rx="2.6" ry="0.5" fill="#3395cb" opacity="1"/>
<ellipse cx="266.3" cy="305.6" rx="2.6" ry="0.4" fill="#123293" opacity="0.8"/>
<ellipse cx="259.6" cy="299.1" rx="2.2" ry="0.5" fill="#0d237d" opacity="0.7"/>
<ellipse cx="251.1" cy="293" rx="1.9" ry="0.6" fill="#3aa6cf" opacity="0.8"/>
<ellipse cx="256.1" cy="301" rx="2.1" ry="0.6" fill="#133294" opacity="0.7"/>
<ellipse cx="256" cy="294.5" rx="2.1" ry="0.5" fill="#3ba8cf" opacity="0.9"/>
<ellipse cx="258.7" cy="305.5" rx="2.1" ry="0.6" fill="#133395" opacity="0.8"/>
<ellipse cx="252.8" cy="300.7" rx="1.3" ry="0.5" fill="#297cc6" opacity="1"/>
<ellipse cx="255.2" cy="304.1" rx="1.4" ry="0.4" fill="#1d54b2"/>
<ellipse cx="255.5" cy="296.1" rx="2.3" ry="0.4" fill="#3ba8cf" opacity="0.8"/>
<ellipse cx="265" cy="305.6" rx="2.7" ry="0.6" fill="#133496" opacity="1"/>
<ellipse cx="266" cy="299.5" rx="1.1" ry="0.6" fill="#1a4aab" opacity="0.7"/>
<ellipse cx="249.9" cy="289.8" rx="1.4" ry="0.4" fill="#102a88" opacity="0.8"/>
<ellipse cx="261.4" cy="288.4" rx="1.2" ry="0.4" fill="#2674c5" opacity="0.8"/>
<ellipse cx="256.4" cy="289.9" rx="1.7" ry="0.6" fill="#4fb5c1" opacity="0.9"/>
<ellipse cx="265.2" cy="291.6" rx="1.4" ry="0.6" fill="#1e59b6" opacity="0.8"/>
<ellipse cx="264.1" cy="288.5" rx="1.4" ry="0.6" fill="#1e5ab6" opacity="0.7"/>
<ellipse cx="249.9" cy="291.7" rx="1" ry="0.6" fill="#1a4aab" opacity="0.9"/>
<ellipse cx="262.2" cy="296.5" rx="1" ry="0.5" fill="#0d247e" opacity="0.8"/>
<ellipse cx="262.7" cy="288.6" rx="2.2" ry="0.5" fill="#1e59b5" opacity="0.9"/>
<ellipse cx="255.3" cy="296" rx="2.6" ry="0.6" fill="#76cba6" opacity="0.8"/>
<ellipse cx="263.3" cy="291.7" rx="1.6" ry="0.4" fill="#246ec4" opacity="0.7"/>
<ellipse cx="259.4" cy="288.3" rx="1.8" ry="0.5" fill="#3190ca" opacity="1"/>
<ellipse cx="254.2" cy="302.5" rx="1.1" ry="0.4" fill="#2267bf" opacity="0.9"/>
<ellipse cx="253.8" cy="290" rx="1.8" ry="0.6" fill="#2c82c8" opacity="0.7"/>
<ellipse cx="247.8" cy="296.1" rx="2.1" ry="0.4" fill="#102a88" opacity="0.8"/>
<ellipse cx="256.4" cy="302.5" rx="2.6" ry="0.4" fill="#1f5bb7" opacity="0.9"/>
<ellipse cx="256.4" cy="296" rx="1.8" ry="0.4" fill="#9cd279" opacity="0.8"/>
<ellipse cx="263" cy="303.9" rx="2.7" ry="0.6" fill="#163ca1" opacity="0.8"/>
<ellipse cx="247.7" cy="297.8" rx="2.6" ry="0.5" fill="#1a4aab" opacity="1"/>
<ellipse cx="257.2" cy="305.3" rx="2.1" ry="0.6" fill="#1a4aab" opacity="0.7"/>
<ellipse cx="260.4" cy="294.9" rx="1.8" ry="0.4" fill="#48b1c7" opacity="0.9"/>
<ellipse cx="265.5" cy="291.5" rx="1.3" ry="0.6" fill="#1947a9" opacity="0.9"/>
<ellipse cx="254.6" cy="303.8" rx="1.6" ry="0.5" fill="#1945a7" opacity="0.7"/>
<ellipse cx="265.6" cy="291.4" rx="1.2" ry="0.4" fill="#1d56b3"/>
<ellipse cx="249.3" cy="294.5" rx="2.7" ry="0.5" fill="#1e5bb7" opacity="1"/>
<ellipse cx="266.3" cy="288.7" rx="2.7" ry="0.5" fill="#0f2884" opacity="0.9"/>
<ellipse cx="261.3" cy="296.2" rx="1.8" ry="0.5" fill="#43aeca" opacity="0.9"/>
<ellipse cx="257.3" cy="294.7" rx="2.7" ry="0.6" fill="#112d8c" opacity="0.8"/>
<ellipse cx="263.2" cy="291.5" rx="1.1" ry="0.5" fill="#1e5ab6" opacity="0.8"/>
<ellipse cx="263.8" cy="302.2" rx="2.2" ry="0.5" fill="#1d55b3" opacity="0.9"/>
<ellipse cx="258.2" cy="290" rx="1.4" ry="0.5" fill="#2d85c8" opacity="0.9"/>
<ellipse cx="254" cy="303.9" rx="2.7" ry="0.6" fill="#1c51b0" opacity="1"/>
<ellipse cx="252.8" cy="294.9" rx="1.4" ry="0.6" fill="#2b81c7" opacity="0.9"/>
<ellipse cx="265.7" cy="293" rx="2" ry="0.6" fill="#1e58b5"/>
<ellipse cx="266.2" cy="300.9" rx="2" ry="0.5" fill="#15379c" opacity="0.8"/>
<ellipse cx="254.4" cy="293.3" rx="1.4" ry="0.5" fill="#a6d36d" opacity="1"/>
<ellipse cx="254.6" cy="297.9" rx="1.7" ry="0.5" fill="#0f2885" opacity="1"/>
<ellipse cx="258.3" cy="304.2" rx="2.1" ry="0.4" fill="#0f2884" opacity="0.7"/>
<ellipse cx="250.8" cy="296.2" rx="1.6" ry="0.5" fill="#1e5ab6" opacity="0.8"/>
<ellipse cx="264.7" cy="305.7" rx="1.2" ry="0.6" fill="#133396" opacity="0.8"/>
<ellipse cx="253" cy="299.2" rx="2.6" ry="0.5" fill="#0d247d" opacity="0.9"/>
<ellipse cx="263.1" cy="297.6" rx="1.7" ry="0.5" fill="#2164bd" opacity="0.8"/>
<ellipse cx="252.8" cy="304.2" rx="2.3" ry="0.6" fill="#173fa3" opacity="0.7"/>
<ellipse cx="253.2" cy="307.2" rx="2.6" ry="0.5" fill="#14379b" opacity="0.7"/>
<ellipse cx="255.1" cy="303.9" rx="1.4" ry="0.4" fill="#1d54b2" opacity="0.7"/>
<ellipse cx="264.5" cy="304" rx="1.3" ry="0.6" fill="#133395" opacity="0.9"/>
<ellipse cx="253.7" cy="300.8" rx="1.4" ry="0.5" fill="#2571c4" opacity="0.8"/>
<ellipse cx="257.3" cy="302.3" rx="2.4" ry="0.6" fill="#2674c5" opacity="1"/>
<ellipse cx="255.7" cy="305.6" rx="2.1" ry="0.5" fill="#1946a8" opacity="1"/>
<ellipse cx="265.1" cy="291.8" rx="1.7" ry="0.4" fill="#1a4aab" opacity="0.8"/>
<ellipse cx="251.8" cy="288.4" rx="2.3" ry="0.4" fill="#236dc3" opacity="0.8"/>
<ellipse cx="251.9" cy="293" rx="1.6" ry="0.4" fill="#2777c5" opacity="0.8"/>
<ellipse cx="250.3" cy="299.2" rx="1.7" ry="0.4" fill="#133294" opacity="0.9"/>
<ellipse cx="257.4" cy="300.8" rx="1.8" ry="0.4" fill="#3393cb" opacity="0.9"/>
<ellipse cx="258.2" cy="299.3" rx="2.2" ry="0.4" fill="#2e89c9" opacity="0.9"/>
<ellipse cx="266.2" cy="299.3" rx="1.6" ry="0.5" fill="#123091" opacity="0.9"/>
<ellipse cx="249.9" cy="290" rx="1.3" ry="0.6" fill="#1b4fae" opacity="0.8"/>
<ellipse cx="262.9" cy="288.5" rx="2" ry="0.4" fill="#123192" opacity="1"/>
<ellipse cx="266.1" cy="294.7" rx="1.5" ry="0.4" fill="#2267bf" opacity="0.9"/>
<ellipse cx="255.2" cy="305.7" rx="1.3" ry="0.6" fill="#0e2682" opacity="0.9"/>
<ellipse cx="253.2" cy="296.3" rx="1.4" ry="0.5" fill="#0f2985" opacity="0.9"/>
<ellipse cx="258.7" cy="290.2" rx="1.2" ry="0.5" fill="#112f8f" opacity="0.7"/>
<ellipse cx="257" cy="298" rx="1.6" ry="0.6" fill="#0e2681" opacity="0.7"/>
<ellipse cx="255.4" cy="290" rx="1.3" ry="0.5" fill="#297ac6" opacity="0.9"/>
<ellipse cx="251.8" cy="293.2" rx="1.6" ry="0.4" fill="#2777c5" opacity="1"/>
<ellipse cx="251.4" cy="291.7" rx="1.6" ry="0.5" fill="#2878c6" opacity="0.7"/>
<ellipse cx="266.2" cy="304" rx="1.8" ry="0.5" fill="#133294" opacity="0.9"/>
<ellipse cx="262.6" cy="302.4" rx="2.1" ry="0.4" fill="#1a48aa" opacity="0.7"/>
<ellipse cx="247.1" cy="291.6" rx="1.4" ry="0.5" fill="#123091" opacity="0.9"/>
<ellipse cx="257.8" cy="294.5" rx="1.4" ry="0.4" fill="#9fd275" opacity="1"/>
<ellipse cx="255.3" cy="305.3" rx="2.5" ry="0.5" fill="#0e2783" opacity="0.8"/>
<ellipse cx="264.1" cy="290.1" rx="2.4" ry="0.4" fill="#0c217a" opacity="0.8"/>
<ellipse cx="252.1" cy="304.1" rx="2.3" ry="0.4" fill="#0e2681" opacity="0.7"/>
<ellipse cx="263.1" cy="301" rx="1" ry="0.5" fill="#0d247f" opacity="1"/>
<ellipse cx="251.4" cy="305.5" rx="1.6" ry="0.4" fill="#15379c" opacity="0.8"/>
<ellipse cx="266" cy="290" rx="1.4" ry="0.4" fill="#163ca2" opacity="0.8"/>
<ellipse cx="250.8" cy="302.4" rx="2.4" ry="0.5" fill="#1b4eae" opacity="0.9"/>
<ellipse cx="258.3" cy="305.4" rx="1.3" ry="0.5" fill="#1946a8" opacity="0.9"/>
<ellipse cx="258.3" cy="294.9" rx="1.2" ry="0.6" fill="#81ce99" opacity="0.8"/>
<ellipse cx="252.7" cy="296.3" rx="2.3" ry="0.5" fill="#133294" opacity="0.7"/>
<ellipse cx="247.1" cy="288.5" rx="2.6" ry="0.4" fill="#163ca1" opacity="0.9"/>
<ellipse cx="256.5" cy="294.9" rx="1.6" ry="0.5" fill="#a8d36b" opacity="0.8"/>
<ellipse cx="265.6" cy="303.8" rx="2" ry="0.5" fill="#123192" opacity="0.9"/>
<ellipse cx="265.6" cy="303.8" rx="1.9" ry="0.5" fill="#143599" opacity="0.8"/>
<ellipse cx="255.2" cy="299.6" rx="1.7" ry="0.5" fill="#48b1c6" opacity="0.9"/>
<ellipse cx="256.3" cy="288.4" rx="2.3" ry="0.4" fill="#2d84c8" opacity="0.7"/>
<ellipse cx="265.5" cy="294.8" rx="1.1" ry="0.4" fill="#0e2783" opacity="0.9"/>
<ellipse cx="254.5" cy="302.4" rx="2.6" ry="0.5" fill="#1e59b5" opacity="0.8"/>
<ellipse cx="253.6" cy="297.8" rx="2.4" ry="0.4" fill="#123091" opacity="0.9"/>
<ellipse cx="249.4" cy="289.8" rx="2.5" ry="0.9" fill="#60bfb6" opacity="0.9"/>
<ellipse cx="249.4" cy="289.8" rx="1.7" ry="0.5" fill="#e2bc31"/>
<ellipse cx="255.3" cy="290.2" rx="2" ry="1.1" fill="#287ac6" opacity="0.9"/>
<ellipse cx="255.3" cy="290.2" rx="1.2" ry="0.6" fill="#88cf91"/>
<ellipse cx="260.4" cy="294.2" rx="1.8" ry="1.5" fill="#3caad0" opacity="0.9"/>
<ellipse cx="260.4" cy="294.2" rx="1" ry="1" fill="#c8d846"/>
<ellipse cx="257.1" cy="296.4" rx="1.9" ry="1.3" fill="#379dcd" opacity="0.9"/>
<ellipse cx="257.1" cy="296.4" rx="1.1" ry="0.8" fill="#b8d559"/>
<ellipse cx="269" cy="294.2" rx="1.1" ry="0.5" fill="#4eb4c2" opacity="1"/>
<ellipse cx="274.4" cy="302.1" rx="1.9" ry="0.4" fill="#1c52b0" opacity="0.8"/>
<ellipse cx="269.4" cy="303.5" rx="2.4" ry="0.6" fill="#15399f" opacity="0.7"/>
<ellipse cx="279.2" cy="308" rx="2.9" ry="0.4" fill="#0f2885" opacity="1"/>
<ellipse cx="269.1" cy="297.3" rx="1.8" ry="0.4" fill="#226ac1" opacity="0.8"/>
<ellipse cx="267.1" cy="287.9" rx="1.8" ry="0.6" fill="#1e5ab6" opacity="0.8"/>
<ellipse cx="273" cy="289.4" rx="1.7" ry="0.5" fill="#3395cb" opacity="0.7"/>
<ellipse cx="270.2" cy="300.3" rx="1.8" ry="0.5" fill="#297ac6" opacity="0.8"/>
<ellipse cx="269.1" cy="308" rx="2.6" ry="0.4" fill="#122f90" opacity="0.8"/>
<ellipse cx="281.2" cy="296" rx="1.2" ry="0.5" fill="#133396" opacity="0.7"/>
<ellipse cx="271.4" cy="297.2" rx="1.6" ry="0.5" fill="#122f90" opacity="0.7"/>
<ellipse cx="272.3" cy="306.5" rx="1.5" ry="0.4" fill="#163ba1" opacity="0.9"/>
<ellipse cx="271.9" cy="287.8" rx="2.6" ry="0.5" fill="#0a1d73" opacity="0.7"/>
<ellipse cx="267.1" cy="295.8" rx="3" ry="0.4" fill="#2166be" opacity="0.7"/>
<ellipse cx="280.3" cy="306.4" rx="2" ry="0.6" fill="#0f2a87" opacity="0.8"/>
<ellipse cx="278.5" cy="295.8" rx="2.1" ry="0.5" fill="#1d56b3" opacity="0.7"/>
<ellipse cx="269.8" cy="289.7" rx="1.4" ry="0.5" fill="#112e8e" opacity="0.8"/>
<ellipse cx="266.9" cy="289.5" rx="1" ry="0.5" fill="#1844a7"/>
<ellipse cx="278.8" cy="290.9" rx="2.6" ry="0.6" fill="#15399f" opacity="0.9"/>
<ellipse cx="268.1" cy="303.5" rx="2.7" ry="0.4" fill="#0b1e74" opacity="0.9"/>
<ellipse cx="267.6" cy="288.1" rx="2.4" ry="0.4" fill="#112f8e" opacity="0.8"/>
<ellipse cx="271.9" cy="301.9" rx="2.4" ry="0.5" fill="#2f8bc9" opacity="0.7"/>
<ellipse cx="268.9" cy="306.6" rx="2" ry="0.5" fill="#163aa0" opacity="0.7"/>
<ellipse cx="271.6" cy="305.3" rx="2.1" ry="0.4" fill="#102c8a" opacity="0.9"/>
<ellipse cx="277.9" cy="292.7" rx="2.5" ry="0.5" fill="#1843a6" opacity="0.8"/>
<ellipse cx="273" cy="289.4" rx="2.9" ry="0.5" fill="#2163bc" opacity="0.9"/>
<ellipse cx="266.9" cy="289.6" rx="1.1" ry="0.5" fill="#1f5db8" opacity="0.9"/>
<ellipse cx="276.6" cy="308.2" rx="2" ry="0.6" fill="#112d8d" opacity="0.8"/>
<ellipse cx="268.2" cy="306.8" rx="2.6" ry="0.4" fill="#143599" opacity="0.7"/>
<ellipse cx="268.9" cy="308" rx="1" ry="0.4" fill="#123293" opacity="0.8"/>
<ellipse cx="275.8" cy="292.6" rx="2.6" ry="0.5" fill="#1f5cb8" opacity="0.7"/>
<ellipse cx="276.4" cy="298.8" rx="2.6" ry="0.4" fill="#2674c5" opacity="0.8"/>
<ellipse cx="280.5" cy="301.9" rx="1.1" ry="0.5" fill="#112e8e" opacity="0.8"/>
<ellipse cx="279.9" cy="300.2" rx="1.7" ry="0.4" fill="#123090" opacity="0.8"/>
<ellipse cx="278.1" cy="308" rx="1.5" ry="0.6" fill="#102c8a" opacity="0.7"/>
<ellipse cx="272.4" cy="294.2" rx="1.8" ry="0.5" fill="#5ebeb7" opacity="0.9"/>
<ellipse cx="281.5" cy="297.1" rx="2.4" ry="0.5" fill="#123192" opacity="1"/>
<ellipse cx="272.6" cy="294.2" rx="2.6" ry="0.5" fill="#2163bd" opacity="0.7"/>
<ellipse cx="278.9" cy="305.2" rx="1.1" ry="0.4" fill="#122f90" opacity="0.8"/>
<ellipse cx="272.4" cy="297.5" rx="2.2" ry="0.6" fill="#0c2179" opacity="0.8"/>
<ellipse cx="277.9" cy="308.1" rx="2.5" ry="0.4" fill="#0d237d" opacity="0.7"/>
<ellipse cx="275.9" cy="294" rx="2.8" ry="0.5" fill="#236cc2" opacity="1"/>
<ellipse cx="273.3" cy="291.2" rx="2.1" ry="0.4" fill="#236cc2" opacity="0.8"/>
<ellipse cx="278.9" cy="289.4" rx="1.7" ry="0.4" fill="#15389d" opacity="1"/>
<ellipse cx="277.1" cy="303.6" rx="1.2" ry="0.6" fill="#0d237d" opacity="0.8"/>
<ellipse cx="271.2" cy="302.1" rx="2.6" ry="0.5" fill="#1c51b0" opacity="0.8"/>
<ellipse cx="270.5" cy="304.9" rx="1.5" ry="0.6" fill="#1c52b1" opacity="0.7"/>
<ellipse cx="275.9" cy="304.9" rx="2.2" ry="0.6" fill="#1842a6" opacity="0.7"/>
<ellipse cx="275.5" cy="306.8" rx="1.7" ry="0.5" fill="#15379c" opacity="0.7"/>
<ellipse cx="274.3" cy="291.3" rx="2" ry="0.4" fill="#3394cb" opacity="1"/>
<ellipse cx="274.5" cy="306.7" rx="3" ry="0.5" fill="#123193" opacity="1"/>
<ellipse cx="280.9" cy="300.4" rx="2.6" ry="0.4" fill="#122f90" opacity="1"/>
<ellipse cx="274.2" cy="297.5" rx="1.9" ry="0.5" fill="#2267bf" opacity="0.8"/>
<ellipse cx="276.2" cy="289.7" rx="2.7" ry="0.5" fill="#1b4dad" opacity="0.9"/>
<ellipse cx="267.6" cy="295.9" rx="1.3" ry="0.5" fill="#1c53b1" opacity="0.9"/>
<ellipse cx="269.5" cy="289.4" rx="1.9" ry="0.6" fill="#123091" opacity="0.9"/>
<ellipse cx="281.2" cy="292.6" rx="1.1" ry="0.5" fill="#0b1e74" opacity="0.9"/>
<ellipse cx="273.9" cy="308" rx="2.8" ry="0.5" fill="#112e8e" opacity="0.7"/>
<ellipse cx="274.5" cy="292.5" rx="2.8" ry="0.4" fill="#2777c5" opacity="0.8"/>
<ellipse cx="267.9" cy="303.4" rx="1.1" ry="0.4" fill="#15399f" opacity="0.9"/>
<ellipse cx="280.1" cy="289.7" rx="2.4" ry="0.5" fill="#133294" opacity="0.8"/>
<ellipse cx="273.8" cy="287.9" rx="2.7" ry="0.5" fill="#0d247f" opacity="0.9"/>
<ellipse cx="280.9" cy="291" rx="1.3" ry="0.6" fill="#133396" opacity="1"/>
<ellipse cx="267.2" cy="306.8" rx="2.1" ry="0.6" fill="#123192" opacity="0.7"/>
<ellipse cx="271.2" cy="290.4" rx="1.6" ry="0.5" fill="#98d17e"/>
<ellipse cx="288.9" cy="290.2" rx="2.5" ry="0.6" fill="#133295" opacity="0.8"/>
<ellipse cx="298.2" cy="291.4" rx="2.1" ry="0.4" fill="#173ea3" opacity="1"/>
<ellipse cx="290.6" cy="291.3" rx="2.3" ry="0.5" fill="#1740a4" opacity="0.8"/>
<ellipse cx="298" cy="290.2" rx="1.6" ry="0.4" fill="#1c51b0" opacity="0.9"/>
<ellipse cx="289.3" cy="290.1" rx="2.4" ry="0.4" fill="#1a4bab" opacity="0.8"/>
<ellipse cx="291" cy="290.1" rx="1.8" ry="0.6" fill="#1c51b0" opacity="0.9"/>
<ellipse cx="290.8" cy="291.6" rx="1.9" ry="0.5" fill="#1b4dad" opacity="1"/>
<ellipse cx="296.5" cy="289.8" rx="1.6" ry="0.5" fill="#1c52b1" opacity="0.8"/>
<ellipse cx="293.1" cy="300.6" rx="2.4" ry="0.5" fill="#1e59b5" opacity="0.9"/>
<ellipse cx="298.1" cy="300.3" rx="1.3" ry="0.6" fill="#1e58b4" opacity="0.8"/>
<ellipse cx="293.9" cy="300.4" rx="2.1" ry="0.6" fill="#133395" opacity="0.7"/>
<ellipse cx="296.8" cy="299" rx="1.2" ry="0.6" fill="#1948a9"/>
<ellipse cx="295.4" cy="300.3" rx="1.8" ry="0.5" fill="#102b88" opacity="0.8"/>
<ellipse cx="303.7" cy="297.9" rx="1.8" ry="0.4" fill="#1f5db8" opacity="0.8"/>
<ellipse cx="318.4" cy="305.6" rx="2.8" ry="0.6" fill="#173ea2" opacity="1"/>
<ellipse cx="317.9" cy="305.6" rx="2.3" ry="0.5" fill="#1946a8" opacity="0.8"/>
<ellipse cx="310.5" cy="306.9" rx="2.8" ry="0.6" fill="#1c53b1" opacity="0.7"/>
<ellipse cx="316.5" cy="293.3" rx="1" ry="0.6" fill="#246fc4" opacity="0.8"/>
<ellipse cx="311.2" cy="300.7" rx="1.2" ry="0.4" fill="#2b81c7" opacity="0.7"/>
<ellipse cx="308.8" cy="288.4" rx="1.8" ry="0.6" fill="#2061bb" opacity="0.8"/>
<ellipse cx="320.2" cy="299.4" rx="2.7" ry="0.4" fill="#2570c4" opacity="1"/>
<ellipse cx="309.1" cy="296.2" rx="1.9" ry="0.4" fill="#3190ca" opacity="0.8"/>
<ellipse cx="327.8" cy="292.9" rx="1.9" ry="0.4" fill="#15389d" opacity="0.7"/>
<ellipse cx="323.7" cy="289.9" rx="1.5" ry="0.6" fill="#1b4fae" opacity="0.8"/>
<ellipse cx="321.1" cy="291.8" rx="2.4" ry="0.6" fill="#2675c5" opacity="0.8"/>
<ellipse cx="322.8" cy="304.2" rx="1.8" ry="0.4" fill="#133396" opacity="0.9"/>
<ellipse cx="312.7" cy="294.5" rx="1.6" ry="0.5" fill="#b1d460" opacity="0.8"/>
<ellipse cx="320.3" cy="290.2" rx="2.2" ry="0.5" fill="#1b4dad" opacity="0.9"/>
<ellipse cx="319.9" cy="294.8" rx="2" ry="0.4" fill="#4db3c3" opacity="0.8"/>
<ellipse cx="303.6" cy="291.5" rx="1.5" ry="0.6" fill="#2061bb" opacity="0.8"/>
<ellipse cx="312.4" cy="294.5" rx="1.7" ry="0.5" fill="#102c8a" opacity="0.8"/>
<ellipse cx="311.8" cy="294.9" rx="1.5" ry="0.6" fill="#90d088" opacity="0.7"/>
<ellipse cx="302.4" cy="302.7" rx="2.7" ry="0.4" fill="#0f2a87" opacity="0.8"/>
<ellipse cx="326.1" cy="307.2" rx="2.6" ry="0.6" fill="#112f8f" opacity="0.9"/>
<ellipse cx="312.7" cy="291.8" rx="2.4" ry="0.4" fill="#2f8ac9" opacity="0.8"/>
<ellipse cx="315.7" cy="298" rx="1.3" ry="0.6" fill="#379fcd" opacity="0.7"/>
<ellipse cx="302.9" cy="305.3" rx="1.8" ry="0.5" fill="#163da2" opacity="1"/>
<ellipse cx="306.3" cy="301" rx="1.5" ry="0.4" fill="#297bc6" opacity="0.8"/>
<ellipse cx="323.5" cy="293.2" rx="2.3" ry="0.5" fill="#1e5bb6" opacity="0.9"/>
<ellipse cx="313" cy="305.7" rx="2.5" ry="0.4" fill="#1c51b0" opacity="0.7"/>
<ellipse cx="308.5" cy="297.8" rx="1.3" ry="0.6" fill="#102c8b" opacity="0.7"/>
<ellipse cx="312.5" cy="299.5" rx="1.1" ry="0.5" fill="#2d84c8" opacity="1"/>
<ellipse cx="325.4" cy="303.9" rx="1.1" ry="0.4" fill="#15389d" opacity="0.9"/>
<ellipse cx="318.9" cy="302.4" rx="2.2" ry="0.4" fill="#2b81c7" opacity="0.8"/>
<ellipse cx="324.2" cy="304" rx="1.3" ry="0.4" fill="#112d8c" opacity="0.7"/>
<ellipse cx="322" cy="294.7" rx="2.4" ry="0.4" fill="#1f5cb7" opacity="0.7"/>
<ellipse cx="316.8" cy="299.1" rx="2.9" ry="0.4" fill="#3190ca" opacity="0.9"/>
<ellipse cx="304.4" cy="296.4" rx="2.5" ry="0.5" fill="#246ec4" opacity="0.8"/>
<ellipse cx="318.7" cy="293.2" rx="1.6" ry="0.4" fill="#46b0c8" opacity="0.9"/>
<ellipse cx="318.2" cy="302.4" rx="2.2" ry="0.5" fill="#2e88c9" opacity="0.9"/>
<ellipse cx="302.9" cy="296.4" rx="1.6" ry="0.4" fill="#41accc" opacity="0.9"/>
<ellipse cx="312.9" cy="299.5" rx="1.9" ry="0.6" fill="#112f8f" opacity="0.9"/>
<ellipse cx="313.1" cy="296.1" rx="2.7" ry="0.4" fill="#2e89c9" opacity="0.7"/>
<ellipse cx="315" cy="294.6" rx="1.6" ry="0.5" fill="#63c1b3" opacity="0.7"/>
<ellipse cx="317.8" cy="293.1" rx="1.8" ry="0.5" fill="#2a7ec7" opacity="0.8"/>
<ellipse cx="305.2" cy="296.4" rx="1.5" ry="0.4" fill="#59bbba" opacity="1"/>
<ellipse cx="322.3" cy="293" rx="2.6" ry="0.4" fill="#2878c6" opacity="0.9"/>
<ellipse cx="325.9" cy="301.1" rx="1.9" ry="0.4" fill="#173da2" opacity="0.8"/>
<ellipse cx="306.3" cy="294.5" rx="2.7" ry="0.6" fill="#0f2a87" opacity="0.9"/>
<ellipse cx="323.7" cy="305.8" rx="2.8" ry="0.5" fill="#15399f" opacity="0.7"/>
<ellipse cx="317.3" cy="294.5" rx="2.9" ry="0.5" fill="#4db4c3" opacity="0.9"/>
<ellipse cx="325.1" cy="301" rx="2.1" ry="0.4" fill="#1c50af" opacity="0.9"/>
<ellipse cx="323.5" cy="299.4" rx="1.7" ry="0.5" fill="#1842a5" opacity="0.8"/>
<ellipse cx="310.1" cy="305.4" rx="2.1" ry="0.4" fill="#2062bb" opacity="0.9"/>
<ellipse cx="323.8" cy="302.3" rx="1.7" ry="0.4" fill="#163aa0" opacity="0.9"/>
<ellipse cx="315" cy="307.3" rx="2.7" ry="0.5" fill="#123192" opacity="0.9"/>
<ellipse cx="327.8" cy="301" rx="2.1" ry="0.5" fill="#133396" opacity="0.8"/>
<ellipse cx="306.2" cy="302.4" rx="2.8" ry="0.5" fill="#318eca" opacity="0.9"/>
<ellipse cx="305" cy="307.1" rx="2.5" ry="0.4" fill="#15399e" opacity="0.8"/>
<ellipse cx="309.4" cy="288.6" rx="1.9" ry="0.4" fill="#1c52b0" opacity="0.8"/>
<ellipse cx="324.7" cy="296.2" rx="2.3" ry="0.5" fill="#1c50af" opacity="0.8"/>
<ellipse cx="315.5" cy="294.8" rx="1.6" ry="0.4" fill="#53b7bf" opacity="0.9"/>
<ellipse cx="328.5" cy="289.8" rx="2.5" ry="0.4" fill="#133294" opacity="0.8"/>
<ellipse cx="323.2" cy="290.3" rx="2.6" ry="0.6" fill="#1a4bac" opacity="1"/>
<ellipse cx="313.9" cy="294.8" rx="1.5" ry="0.6" fill="#133497" opacity="0.8"/>
<ellipse cx="320.1" cy="304.1" rx="2.4" ry="0.6" fill="#1844a7" opacity="1"/>
<ellipse cx="311.4" cy="294.5" rx="2.2" ry="0.4" fill="#a0d275" opacity="0.9"/>
<ellipse cx="323.9" cy="293.3" rx="2.6" ry="0.5" fill="#122f90" opacity="1"/>
<ellipse cx="325" cy="288.6" rx="2.9" ry="0.4" fill="#0e2681" opacity="0.8"/>
<ellipse cx="325.9" cy="303.8" rx="2.7" ry="0.4" fill="#143599" opacity="0.8"/>
<ellipse cx="301.3" cy="302.5" rx="1.1" ry="0.5" fill="#0f2885" opacity="0.7"/>
<ellipse cx="324.2" cy="296.3" rx="2.5" ry="0.6" fill="#1f5eb9" opacity="1"/>
<ellipse cx="320.2" cy="296.5" rx="2.9" ry="0.6" fill="#1f5eb9" opacity="0.8"/>
<ellipse cx="323.5" cy="291.4" rx="2.9" ry="0.4" fill="#143598" opacity="0.8"/>
<ellipse cx="317.6" cy="300.9" rx="1.3" ry="0.6" fill="#2165be" opacity="0.9"/>
<ellipse cx="308" cy="300.7" rx="1.8" ry="0.4" fill="#66c2b1" opacity="0.9"/>
<ellipse cx="312.7" cy="294.7" rx="3" ry="0.6" fill="#4fb5c1" opacity="0.8"/>
<ellipse cx="305.9" cy="296.1" rx="1.4" ry="0.6" fill="#62c0b4" opacity="0.9"/>
<ellipse cx="306.3" cy="289.9" rx="1.3" ry="0.4" fill="#133396" opacity="0.8"/>
<ellipse cx="327.3" cy="291.6" rx="2.9" ry="0.5" fill="#123091" opacity="0.9"/>
<ellipse cx="322.7" cy="296.3" rx="2.1" ry="0.6" fill="#1f5bb7" opacity="0.8"/>
<ellipse cx="323.4" cy="288.4" rx="1.7" ry="0.4" fill="#0d237c" opacity="1"/>
<ellipse cx="316.7" cy="291.6" rx="2.7" ry="0.4" fill="#2b80c7" opacity="0.9"/>
<ellipse cx="320.4" cy="307.1" rx="1.1" ry="0.4" fill="#15379c" opacity="0.9"/>
<ellipse cx="313" cy="305.7" rx="2.1" ry="0.5" fill="#236bc2" opacity="0.9"/>
<ellipse cx="320.6" cy="291.6" rx="1.6" ry="0.4" fill="#2166be" opacity="0.9"/>
<ellipse cx="326.4" cy="293" rx="1.1" ry="0.6" fill="#173fa4" opacity="0.8"/>
<ellipse cx="307.9" cy="294.6" rx="2.6" ry="0.5" fill="#123090" opacity="0.9"/>
<ellipse cx="319.6" cy="297.7" rx="1.8" ry="0.4" fill="#3ba9cf" opacity="0.9"/>
<ellipse cx="300.6" cy="303.8" rx="2.8" ry="0.5" fill="#173fa3" opacity="1"/>
<ellipse cx="322.5" cy="290.1" rx="1.4" ry="0.4" fill="#1740a4" opacity="0.7"/>
<ellipse cx="322.9" cy="294.6" rx="1.1" ry="0.6" fill="#0f2985" opacity="1"/>
<ellipse cx="304.4" cy="294.6" rx="1.5" ry="0.5" fill="#308dca" opacity="0.9"/>
<ellipse cx="327.7" cy="294.5" rx="2.3" ry="0.4" fill="#15399e" opacity="0.9"/>
<ellipse cx="321.4" cy="297.8" rx="1.3" ry="0.4" fill="#2c82c8" opacity="0.9"/>
<ellipse cx="310.7" cy="307.3" rx="2.5" ry="0.5" fill="#143598" opacity="0.9"/>
<ellipse cx="328" cy="289.9" rx="1.3" ry="0.6" fill="#0e2682" opacity="0.9"/>
<ellipse cx="309.9" cy="294.9" rx="1.7" ry="0.5" fill="#96d180" opacity="0.9"/>
<ellipse cx="323.9" cy="296.4" rx="2.6" ry="0.5" fill="#14369a" opacity="0.8"/>
<ellipse cx="327.8" cy="290.2" rx="1.3" ry="0.5" fill="#14379b" opacity="1"/>
<ellipse cx="307.9" cy="298" rx="1.5" ry="0.5" fill="#3598cc" opacity="0.7"/>
<ellipse cx="328.1" cy="297.8" rx="2.1" ry="0.4" fill="#1841a5" opacity="0.9"/>
<ellipse cx="315.1" cy="294.9" rx="1.1" ry="0.6" fill="#56b9bd" opacity="0.8"/>
<ellipse cx="312" cy="290.3" rx="2.4" ry="0.4" fill="#1f5eb9" opacity="0.9"/>
<ellipse cx="319.5" cy="291.7" rx="1.1" ry="0.6" fill="#102b89" opacity="0.9"/>
<ellipse cx="319.7" cy="291.5" rx="2.4" ry="0.4" fill="#2269c1" opacity="0.9"/>
<ellipse cx="329" cy="293" rx="1" ry="0.4" fill="#14379b" opacity="0.7"/>
<ellipse cx="303.6" cy="299.1" rx="1.8" ry="0.5" fill="#42adcb" opacity="0.8"/>
<ellipse cx="327.5" cy="302.5" rx="1.2" ry="0.5" fill="#15389d" opacity="0.8"/>
<ellipse cx="320.7" cy="290" rx="2.6" ry="0.6" fill="#0c227b" opacity="0.8"/>
<ellipse cx="300.5" cy="288.5" rx="1.5" ry="0.6" fill="#0c2078" opacity="0.9"/>
<ellipse cx="325.1" cy="290.3" rx="2.2" ry="0.4" fill="#1947a9" opacity="0.9"/>
<ellipse cx="319.2" cy="304.1" rx="2.3" ry="0.4" fill="#2163bc" opacity="0.9"/>
<ellipse cx="306.7" cy="288.3" rx="2.6" ry="0.4" fill="#1b50af" opacity="0.8"/>
<ellipse cx="316.1" cy="304.1" rx="1" ry="0.5" fill="#2776c5" opacity="0.9"/>
<ellipse cx="327.4" cy="301.1" rx="1.1" ry="0.6" fill="#15399f" opacity="0.9"/>
<ellipse cx="327.5" cy="297.6" rx="2.1" ry="0.5" fill="#1947a9" opacity="0.8"/>
<ellipse cx="301" cy="297.6" rx="1.8" ry="0.4" fill="#2061bb" opacity="0.8"/>
<ellipse cx="302.7" cy="293.2" rx="2.2" ry="0.6" fill="#308cca" opacity="1"/>
<ellipse cx="322.5" cy="304" rx="1.1" ry="0.6" fill="#1a4aab" opacity="0.8"/>
<ellipse cx="318.4" cy="293" rx="2" ry="0.6" fill="#45afc9" opacity="1"/>
<ellipse cx="302.7" cy="305.7" rx="2.4" ry="0.4" fill="#163ba0"/>
<ellipse cx="326.6" cy="305.5" rx="1.2" ry="0.4" fill="#133294" opacity="0.8"/>
<ellipse cx="303" cy="288.3" rx="2.1" ry="0.5" fill="#133497" opacity="0.8"/>
<ellipse cx="301.3" cy="299.1" rx="1.8" ry="0.4" fill="#0d247e" opacity="0.9"/>
<ellipse cx="324.3" cy="290" rx="1.4" ry="0.6" fill="#163da2" opacity="0.8"/>
<ellipse cx="323.8" cy="296.2" rx="1.9" ry="0.5" fill="#0d237d" opacity="0.7"/>
<ellipse cx="326.7" cy="296.4" rx="1.9" ry="0.4" fill="#0f2884" opacity="0.9"/>
<ellipse cx="321.4" cy="294.9" rx="1.2" ry="0.6" fill="#2164bd" opacity="0.8"/>
<ellipse cx="306" cy="290" rx="2.5" ry="0.5" fill="#1f5eb8" opacity="0.7"/>
<ellipse cx="323.2" cy="307.1" rx="1.4" ry="0.6" fill="#14369a" opacity="0.8"/>
<ellipse cx="309.6" cy="288.5" rx="2.6" ry="0.4" fill="#133497" opacity="0.9"/>
<ellipse cx="316.9" cy="292.9" rx="1.7" ry="0.5" fill="#112f8f" opacity="0.7"/>
<ellipse cx="320.3" cy="288.4" rx="1.2" ry="0.4" fill="#1c51b0" opacity="0.9"/>
<ellipse cx="324.4" cy="299.3" rx="2.4" ry="0.4" fill="#1b50af" opacity="0.8"/>
<ellipse cx="324.4" cy="300.7" rx="2.8" ry="0.5" fill="#1d57b4" opacity="0.7"/>
<ellipse cx="311.4" cy="307.1" rx="1.7" ry="0.4" fill="#1845a7" opacity="1"/>
<ellipse cx="305.4" cy="296.1" rx="2.9" ry="0.5" fill="#3aa6cf" opacity="0.8"/>
<ellipse cx="300.2" cy="288.4" rx="2.6" ry="0.5" fill="#14369b" opacity="0.9"/>
<ellipse cx="310.4" cy="294.6" rx="2" ry="0.5" fill="#3496cc" opacity="0.8"/>
<ellipse cx="318.4" cy="303.8" rx="1.1" ry="0.5" fill="#1e5bb6" opacity="0.8"/>
<ellipse cx="311" cy="294.9" rx="2.2" ry="0.4" fill="#5cbcb8" opacity="0.7"/>
<ellipse cx="319" cy="300.9" rx="1.2" ry="0.5" fill="#2062bc" opacity="0.9"/>
<ellipse cx="323.9" cy="305.5" rx="1.5" ry="0.5" fill="#163da2" opacity="0.8"/>
<ellipse cx="306.3" cy="296.1" rx="2.6" ry="0.4" fill="#67c3b0" opacity="0.9"/>
<ellipse cx="317.5" cy="301.1" rx="1.9" ry="0.6" fill="#38a1ce" opacity="0.8"/>
<ellipse cx="305.9" cy="289.8" rx="2" ry="0.4" fill="#133294" opacity="0.9"/>
<ellipse cx="311.8" cy="293" rx="2.7" ry="0.4" fill="#99d17d" opacity="1"/>
<ellipse cx="323.3" cy="301" rx="2" ry="0.4" fill="#1a49aa" opacity="0.9"/>
<ellipse cx="316.6" cy="290.1" rx="1.6" ry="0.6" fill="#123091" opacity="0.9"/>
<ellipse cx="305.4" cy="305.5" rx="2.4" ry="0.4" fill="#1e5ab6" opacity="0.8"/>
<ellipse cx="317.2" cy="300.9" rx="2.4" ry="0.5" fill="#0f2986" opacity="0.8"/>
<ellipse cx="300.1" cy="304.1" rx="2.7" ry="0.5" fill="#0e2580" opacity="0.9"/>
<ellipse cx="318" cy="290.1" rx="1.8" ry="0.4" fill="#2062bb" opacity="0.8"/>
<ellipse cx="326.9" cy="305.8" rx="2.8" ry="0.5" fill="#143498" opacity="0.9"/>
<ellipse cx="312.1" cy="307.3" rx="2" ry="0.6" fill="#163aa0" opacity="1"/>
<ellipse cx="310.6" cy="290.2" rx="2.3" ry="0.4" fill="#3daacf" opacity="0.9"/>
<ellipse cx="299.8" cy="289.8" rx="1.6" ry="0.4" fill="#15389d" opacity="0.7"/>
<ellipse cx="328.6" cy="302.2" rx="1.8" ry="0.5" fill="#133395" opacity="0.9"/>
<ellipse cx="312.5" cy="300.7" rx="1.6" ry="0.5" fill="#0c2079" opacity="0.8"/>
<ellipse cx="307.9" cy="302.6" rx="1.7" ry="0.4" fill="#102c8b" opacity="0.8"/>
<ellipse cx="316.2" cy="291.5" rx="1.7" ry="0.6" fill="#359acc" opacity="0.8"/>
<ellipse cx="312.7" cy="294.7" rx="2" ry="0.4" fill="#369bcd" opacity="0.9"/>
<ellipse cx="329" cy="290.2" rx="1.9" ry="0.4" fill="#123091" opacity="1"/>
<ellipse cx="324.1" cy="296.1" rx="2.1" ry="0.6" fill="#1c51b0" opacity="0.7"/>
<ellipse cx="320.7" cy="293.4" rx="1.6" ry="0.4" fill="#2163bd" opacity="0.8"/>
<ellipse cx="326.4" cy="291.4" rx="1.5" ry="0.5" fill="#112e8d" opacity="0.8"/>
<ellipse cx="307.5" cy="302.3" rx="2.7" ry="0.4" fill="#1e5bb7" opacity="0.8"/>
<ellipse cx="311.1" cy="290.3" rx="2.6" ry="0.5" fill="#3190ca" opacity="0.9"/>
<ellipse cx="299.8" cy="306.9" rx="2.1" ry="0.4" fill="#15389d" opacity="0.8"/>
<ellipse cx="328.7" cy="299.2" rx="1" ry="0.4" fill="#143598" opacity="0.9"/>
<ellipse cx="315.3" cy="296.3" rx="1.8" ry="0.5" fill="#112e8e" opacity="0.9"/>
<ellipse cx="319.7" cy="294.5" rx="1.7" ry="0.4" fill="#369ccd" opacity="0.8"/>
<ellipse cx="324.2" cy="297.9" rx="1.2" ry="0.6" fill="#1d54b2" opacity="0.8"/>
<ellipse cx="318.5" cy="301" rx="1.3" ry="0.4" fill="#133395" opacity="0.7"/>
<ellipse cx="299.2" cy="307" rx="1.9" ry="0.4" fill="#133294" opacity="1"/>
<ellipse cx="326" cy="305.5" rx="2.8" ry="0.4" fill="#123192" opacity="0.7"/>
<ellipse cx="307.7" cy="293.1" rx="1.1" ry="0.4" fill="#359acc" opacity="0.8"/>
<ellipse cx="316.5" cy="289.9" rx="3" ry="0.5" fill="#246fc4" opacity="0.8"/>
<ellipse cx="306.3" cy="299.4" rx="1.7" ry="0.5" fill="#56b9bc" opacity="0.8"/>
<ellipse cx="308.4" cy="291.7" rx="1" ry="0.6" fill="#133497" opacity="1"/>
<ellipse cx="323.6" cy="296.4" rx="2.2" ry="0.6" fill="#1b4faf" opacity="1"/>
<ellipse cx="311.9" cy="296.2" rx="2.8" ry="0.4" fill="#0f2884" opacity="1"/>
<ellipse cx="311" cy="294.5" rx="2.7" ry="0.5" fill="#89cf90" opacity="1"/>
<ellipse cx="317.2" cy="304.2" rx="1.4" ry="0.4" fill="#1e5ab6" opacity="0.9"/>
<ellipse cx="321.4" cy="299.3" rx="1" ry="0.6" fill="#1f5bb7" opacity="0.9"/>
<ellipse cx="327.2" cy="296.4" rx="1.7" ry="0.5" fill="#1842a5" opacity="0.8"/>
<ellipse cx="305.9" cy="296.1" rx="1.7" ry="0.5" fill="#0c217a" opacity="0.8"/>
<ellipse cx="299.8" cy="293.2" rx="1.2" ry="0.4" fill="#1e59b5" opacity="0.8"/>
<ellipse cx="310.5" cy="301.1" rx="2" ry="0.6" fill="#0c2078" opacity="0.7"/>
<ellipse cx="300.2" cy="299.5" rx="1.6" ry="0.4" fill="#1a49aa" opacity="0.9"/>
<ellipse cx="301.7" cy="297.9" rx="1.6" ry="0.4" fill="#2a7ec7" opacity="0.8"/>
<ellipse cx="320.7" cy="298" rx="1.1" ry="0.5" fill="#2673c5" opacity="0.9"/>
<ellipse cx="313.4" cy="288.4" rx="1.4" ry="0.6" fill="#0f2986" opacity="0.9"/>
<ellipse cx="319.3" cy="303.9" rx="1.5" ry="0.5" fill="#1a4bac" opacity="0.9"/>
<ellipse cx="317.5" cy="296.4" rx="2.9" ry="0.4" fill="#3caacf" opacity="1"/>
<ellipse cx="326.2" cy="293.4" rx="1.9" ry="0.5" fill="#133496" opacity="0.8"/>
<ellipse cx="307.2" cy="289.9" rx="2" ry="0.4" fill="#1f5eb9" opacity="0.9"/>
<ellipse cx="301.9" cy="304.1" rx="2" ry="0.4" fill="#0c2078" opacity="0.9"/>
<ellipse cx="329" cy="304.2" rx="1.6" ry="0.5" fill="#112f8f" opacity="0.9"/>
<ellipse cx="300.2" cy="293.3" rx="2.3" ry="0.5" fill="#2061bb" opacity="0.9"/>
<ellipse cx="316" cy="298" rx="1.4" ry="0.5" fill="#2a7fc7" opacity="1"/>
<ellipse cx="326.2" cy="302.6" rx="1.2" ry="0.4" fill="#133497" opacity="0.8"/>
<ellipse cx="325.2" cy="305.6" rx="1.3" ry="0.6" fill="#15389e" opacity="1"/>
<ellipse cx="328.7" cy="290" rx="2.3" ry="0.6" fill="#123192" opacity="0.9"/>
<ellipse cx="313.3" cy="288.7" rx="2.9" ry="0.6" fill="#112e8e" opacity="0.7"/>
<ellipse cx="309.8" cy="288.5" rx="2.7" ry="0.5" fill="#143599" opacity="0.9"/>
<ellipse cx="312.8" cy="305.7" rx="1.2" ry="0.4" fill="#1946a8" opacity="0.8"/>
<ellipse cx="307.5" cy="296.2" rx="2.2" ry="0.5" fill="#5fbeb6" opacity="0.8"/>
<ellipse cx="320.3" cy="291.6" rx="2.3" ry="0.6" fill="#2f8ac9" opacity="0.9"/>
<ellipse cx="299.7" cy="297.6" rx="2.2" ry="0.4" fill="#1b4dad" opacity="0.7"/>
<ellipse cx="308.6" cy="288.3" rx="2.9" ry="0.5" fill="#246fc4" opacity="0.8"/>
<ellipse cx="322.2" cy="291.4" rx="1.6" ry="0.5" fill="#1b4dad" opacity="0.7"/>
<ellipse cx="308.2" cy="294.6" rx="1.9" ry="1.7" fill="#48b1c7" opacity="0.9"/>
<ellipse cx="308.2" cy="294.6" rx="1.1" ry="1.2" fill="#d0ce3f"/>
<ellipse cx="311.3" cy="302" rx="2.6" ry="1.1" fill="#b8d559" opacity="0.9" transform="rotate(-22 311.3 302)"/>
<ellipse cx="311.3" cy="302" rx="1.8" ry="0.6" fill="#ea621a" transform="rotate(-22 311.3 302)"/>
<ellipse cx="306.2" cy="290.5" rx="2.2" ry="1.1" fill="#287ac6" opacity="0.9"/>
<ellipse cx="306.2" cy="290.5" rx="1.4" ry="0.6" fill="#88cf91"/>
<ellipse cx="319.9" cy="291" rx="2.5" ry="1" fill="#2165be" opacity="0.9"/>
<ellipse cx="319.9" cy="291" rx="1.7" ry="0.5" fill="#6bc6ad"/>
<ellipse cx="320.8" cy="303.5" rx="2.4" ry="1" fill="#2165be" opacity="0.9"/>
<ellipse cx="320.8" cy="303.5" rx="1.6" ry="0.5" fill="#6bc6ad"/>
<ellipse cx="313.6" cy="299" rx="2.1" ry="1" fill="#1b4faf" opacity="0.9"/>
<ellipse cx="313.6" cy="299" rx="1.3" ry="0.5" fill="#4eb4c3"/>
<ellipse cx="344.1" cy="294" rx="1.8" ry="0.4" fill="#1e58b5" opacity="0.9"/>
<ellipse cx="346" cy="297.1" rx="1.7" ry="0.6" fill="#4cb3c4" opacity="0.8"/>
<ellipse cx="349.9" cy="294.1" rx="1.5" ry="0.5" fill="#60bfb6" opacity="0.9"/>
<ellipse cx="343.9" cy="299" rx="1.5" ry="0.6" fill="#1d54b2" opacity="0.9"/>
<ellipse cx="349" cy="292.6" rx="1.1" ry="0.4" fill="#47b0c7" opacity="0.8"/>
<ellipse cx="343.2" cy="295.6" rx="1.8" ry="0.5" fill="#123091" opacity="0.7"/>
<ellipse cx="344.3" cy="302.1" rx="1.8" ry="0.5" fill="#2165bd" opacity="0.9"/>
<ellipse cx="345.7" cy="289.6" rx="2" ry="0.6" fill="#2b7fc7" opacity="0.8"/>
<ellipse cx="344.2" cy="289.7" rx="1.3" ry="0.5" fill="#133496" opacity="0.7"/>
<ellipse cx="345.5" cy="292.5" rx="0.9" ry="0.4" fill="#65c2b2" opacity="0.7"/>
<ellipse cx="349.6" cy="297.5" rx="1" ry="0.4" fill="#39a3ce" opacity="0.8"/>
<ellipse cx="341.3" cy="297.1" rx="1.6" ry="0.4" fill="#15389d" opacity="0.8"/>
<ellipse cx="341.9" cy="294.3" rx="1.4" ry="0.5" fill="#163ba0" opacity="0.9"/>
<ellipse cx="348.5" cy="300.3" rx="1.4" ry="0.4" fill="#2572c4" opacity="0.7"/>
<ellipse cx="349.3" cy="289.7" rx="1.3" ry="0.4" fill="#236ac1" opacity="0.7"/>
<ellipse cx="348.2" cy="298.9" rx="1.1" ry="0.5" fill="#4db4c3" opacity="0.9"/>
<ellipse cx="349.2" cy="292.5" rx="1.3" ry="0.5" fill="#2777c5" opacity="0.9"/>
<ellipse cx="349.7" cy="301.8" rx="1.7" ry="0.5" fill="#2f8ac9" opacity="0.8"/>
<ellipse cx="342.6" cy="291.2" rx="1" ry="0.6" fill="#1d54b2" opacity="0.8"/>
<ellipse cx="347.7" cy="297.5" rx="1.5" ry="0.4" fill="#3292cb" opacity="0.8"/>
<ellipse cx="349.7" cy="289.5" rx="1.5" ry="0.4" fill="#1d56b3" opacity="0.9"/>
<ellipse cx="348.2" cy="289.5" rx="1.6" ry="0.4" fill="#39a3ce" opacity="0.9"/>
<ellipse cx="342.9" cy="288.1" rx="1.1" ry="0.5" fill="#1842a5"/>
<ellipse cx="343.5" cy="294.3" rx="1.3" ry="0.6" fill="#1e59b5" opacity="1"/>
<ellipse cx="349.1" cy="297.5" rx="1" ry="0.6" fill="#102a88" opacity="0.8"/>
<ellipse cx="349.3" cy="294.3" rx="0.9" ry="0.5" fill="#287ac6" opacity="0.9"/>
<ellipse cx="346.1" cy="298.8" rx="1.1" ry="0.6" fill="#3291cb" opacity="0.9"/>
<ellipse cx="341.1" cy="294.2" rx="1.6" ry="0.4" fill="#14369a" opacity="0.9"/>
<ellipse cx="350.2" cy="289.3" rx="1.7" ry="0.5" fill="#1b4cac" opacity="0.8"/>
<ellipse cx="349.8" cy="299.1" rx="1.6" ry="0.6" fill="#2269c0" opacity="1"/>
<ellipse cx="349.6" cy="297.5" rx="1.3" ry="0.4" fill="#3292cb" opacity="0.8"/>
<ellipse cx="348.6" cy="292.7" rx="1.2" ry="0.6" fill="#72c9a8" opacity="0.7"/>
<ellipse cx="348.9" cy="300.5" rx="1.1" ry="0.4" fill="#55b8bd" opacity="0.8"/>
<ellipse cx="345.6" cy="298.7" rx="1.8" ry="0.4" fill="#74cba7" opacity="0.9"/>
<ellipse cx="344.2" cy="292.8" rx="1.5" ry="0.4" fill="#2268bf" opacity="1"/>
<ellipse cx="343" cy="299" rx="1.1" ry="0.4" fill="#1c53b1" opacity="0.8"/>
<ellipse cx="343.5" cy="300.5" rx="1" ry="0.4" fill="#205fb9" opacity="0.8"/>
<ellipse cx="347" cy="298.9" rx="1.5" ry="0.5" fill="#0c227b" opacity="0.9"/>
<ellipse cx="342.1" cy="299" rx="1.7" ry="0.4" fill="#1d55b2" opacity="0.8"/>
<ellipse cx="348.4" cy="287.9" rx="1.5" ry="0.6" fill="#1c53b1" opacity="0.8"/>
<ellipse cx="348.2" cy="300.3" rx="1.6" ry="0.6" fill="#51b6c0" opacity="0.9"/>
<ellipse cx="346.5" cy="294.4" rx="1.7" ry="0.4" fill="#133497" opacity="0.7"/>
<ellipse cx="347.1" cy="297.5" rx="1.5" ry="0.5" fill="#81ce99" opacity="0.8"/>
<ellipse cx="346.6" cy="300.4" rx="1" ry="0.6" fill="#123091" opacity="0.9"/>
<ellipse cx="343.4" cy="292.5" rx="1.8" ry="0.6" fill="#143598" opacity="0.9"/>
<ellipse cx="346.5" cy="297.2" rx="1.1" ry="0.4" fill="#c0d64e" opacity="0.8"/>
<ellipse cx="347.6" cy="290.4" rx="2.5" ry="1.5" fill="#90d088" opacity="0.9"/>
<ellipse cx="347.6" cy="290.4" rx="1.6" ry="0.9" fill="#ea621a"/>
<ellipse cx="344.9" cy="297.2" rx="2.5" ry="1.4" fill="#c0d64f" opacity="0.9"/>
<ellipse cx="344.9" cy="297.2" rx="1.6" ry="0.8" fill="#d83214"/>
<ellipse cx="348.2" cy="294.6" rx="2.4" ry="1.5" fill="#65c2b1" opacity="0.9"/>
<ellipse cx="348.2" cy="294.6" rx="1.5" ry="0.9" fill="#f19821"/>
<ellipse cx="347.4" cy="302.5" rx="2.2" ry="1.7" fill="#2061bb" opacity="0.9"/>
<ellipse cx="347.4" cy="302.5" rx="1.3" ry="1.1" fill="#88cf91"/>
<ellipse cx="217.5" cy="275.5" rx="1.7" ry="0.5" fill="#0c227a" opacity="0.8"/>
<ellipse cx="214.6" cy="277.4" rx="1.3" ry="0.6" fill="#0c227a" opacity="0.8"/>
<ellipse cx="244" cy="277.2" rx="1.4" ry="0.4" fill="#15399e" opacity="0.8"/>
<ellipse cx="241.7" cy="276.6" rx="1.6" ry="0.4" fill="#15399e" opacity="0.8"/>
<ellipse cx="243.2" cy="276.5" rx="1" ry="0.5" fill="#1b50af" opacity="0.8"/>
<ellipse cx="244.1" cy="279.5" rx="1.4" ry="0.7" fill="#123193" opacity="0.9"/>
<ellipse cx="245.4" cy="279" rx="1" ry="0.7" fill="#15379c" opacity="0.8"/>
<ellipse cx="250.3" cy="281" rx="2.2" ry="0.7" fill="#0d247f" opacity="0.9"/>
<ellipse cx="250" cy="280.8" rx="1.3" ry="0.4" fill="#14369b" opacity="0.8"/>
<ellipse cx="249.8" cy="280.8" rx="1.3" ry="0.7" fill="#0d257f" opacity="1"/>
<ellipse cx="267.7" cy="280.2" rx="1" ry="0.4" fill="#0c227a" opacity="0.8"/>
<ellipse cx="265.3" cy="280.6" rx="1.8" ry="0.6" fill="#0c227a" opacity="0.8"/>
<ellipse cx="270.9" cy="280" rx="1.8" ry="0.5" fill="#0c227a" opacity="0.9"/>
<ellipse cx="298.6" cy="281.6" rx="0.9" ry="0.5" fill="#0c227a" opacity="0.8"/>
<ellipse cx="296.2" cy="281.1" rx="1.4" ry="0.5" fill="#2164bd" opacity="0.8"/>
<ellipse cx="302.7" cy="279.2" rx="1.1" ry="0.7" fill="#2164bd" opacity="0.8"/>
<ellipse cx="301.1" cy="279.2" rx="1.2" ry="0.6" fill="#1c52b1" opacity="0.9"/>
<ellipse cx="305.7" cy="278.5" rx="1.1" ry="0.6" fill="#0c227a" opacity="0.7"/>
<ellipse cx="303.3" cy="278.4" rx="1" ry="0.6" fill="#0c227a" opacity="0.8"/>
<ellipse cx="319.1" cy="279.1" rx="1.6" ry="0.6" fill="#0c227a" opacity="1"/>
<ellipse cx="320.6" cy="279.4" rx="1.4" ry="0.7" fill="#1a49aa" opacity="0.8"/>
<ellipse cx="320" cy="279.9" rx="2.1" ry="0.5" fill="#122f90" opacity="0.9"/>
<ellipse cx="317.9" cy="280" rx="1.1" ry="0.5" fill="#0c227a" opacity="0.9"/>
<ellipse cx="322.4" cy="280.9" rx="1.6" ry="0.7" fill="#0c227a" opacity="0.9"/>
<ellipse cx="322.7" cy="277.8" rx="1.4" ry="0.4" fill="#1e58b4" opacity="0.7"/>
<ellipse cx="322.1" cy="277.5" rx="2.1" ry="0.4" fill="#15399f" opacity="1"/>
<ellipse cx="348.4" cy="279.5" rx="1.9" ry="0.5" fill="#0e2681" opacity="0.9"/>
<ellipse cx="348.4" cy="278.7" rx="1.5" ry="0.4" fill="#0c227a" opacity="0.9"/>
<ellipse cx="346.2" cy="279.8" rx="2.2" ry="0.6" fill="#163aa0" opacity="0.8"/>
<ellipse cx="287.7" cy="276.3" rx="1.5" ry="0.7" fill="#0c227a"/>
<ellipse cx="260.1" cy="284.7" rx="2.1" ry="0.4" fill="#0c227a" opacity="0.9"/>
<ellipse cx="256.3" cy="285.6" rx="1.4" ry="0.6" fill="#0c227a" opacity="0.9"/>
<ellipse cx="219" cy="317.5" rx="2.3" ry="0.5" fill="#143598" opacity="1"/>
<ellipse cx="217.6" cy="317.5" rx="1.6" ry="0.6" fill="#1e5bb6" opacity="0.9"/>
<ellipse cx="218.6" cy="317.3" rx="1.5" ry="0.7" fill="#1f5db8" opacity="0.7"/>
<ellipse cx="216.5" cy="316.7" rx="2.1" ry="0.4" fill="#0c227a" opacity="0.7"/>
<ellipse cx="226.6" cy="318.7" rx="2.3" ry="0.7" fill="#14379b" opacity="0.8"/>
<ellipse cx="224.1" cy="318.6" rx="1.7" ry="0.5" fill="#0c227a" opacity="1"/>
<ellipse cx="238.4" cy="312.8" rx="1.7" ry="0.5" fill="#0c227a" opacity="0.8"/>
<ellipse cx="241.2" cy="312.5" rx="2.3" ry="0.7" fill="#0f2986" opacity="0.8"/>
<ellipse cx="248.3" cy="318.1" rx="1.4" ry="0.6" fill="#3ba7cf" opacity="0.8"/>
<ellipse cx="250.8" cy="317.9" rx="1.5" ry="0.5" fill="#1f5eb9" opacity="0.9"/>
<ellipse cx="251.1" cy="317.7" rx="1.3" ry="0.5" fill="#15399f" opacity="0.8"/>
<ellipse cx="247.1" cy="318" rx="1.5" ry="0.7" fill="#1e57b4" opacity="1"/>
<ellipse cx="248.1" cy="316.3" rx="2.4" ry="0.5" fill="#0c227a" opacity="0.9"/>
<ellipse cx="255.4" cy="313.8" rx="2.2" ry="0.5" fill="#0c227a" opacity="0.9"/>
<ellipse cx="254.8" cy="314.3" rx="1.2" ry="0.4" fill="#0f2a87" opacity="0.8"/>
<ellipse cx="254.1" cy="314.9" rx="1.5" ry="0.7" fill="#133497" opacity="0.7"/>
<ellipse cx="274" cy="317.5" rx="2.4" ry="0.5" fill="#0c227a" opacity="0.7"/>
<ellipse cx="273.9" cy="317.7" rx="1.9" ry="0.4" fill="#0c227a" opacity="0.9"/>
<ellipse cx="267.8" cy="318.2" rx="2.1" ry="0.7" fill="#0c227a" opacity="0.9"/>
<ellipse cx="270.6" cy="317.3" rx="1.8" ry="0.7" fill="#d8c639" opacity="0.9"/>
<ellipse cx="270" cy="318.4" rx="2" ry="0.6" fill="#0d237d" opacity="0.8"/>
<ellipse cx="280.1" cy="316.9" rx="2.4" ry="0.5" fill="#0c227a" opacity="0.8"/>
<ellipse cx="278" cy="316.1" rx="2.6" ry="0.7" fill="#102a88" opacity="0.8"/>
<ellipse cx="277.8" cy="316.5" rx="2.1" ry="0.4" fill="#2267bf" opacity="0.8"/>
<ellipse cx="277.8" cy="311.8" rx="1.9" ry="0.6" fill="#0c227a" opacity="0.8"/>
<ellipse cx="280.6" cy="311.3" rx="1.6" ry="0.4" fill="#0e2580" opacity="1"/>
<ellipse cx="291.2" cy="318.5" rx="1.5" ry="0.6" fill="#0c227a" opacity="1"/>
<ellipse cx="287.6" cy="317.3" rx="1.2" ry="0.6" fill="#0e2782" opacity="0.9"/>
<ellipse cx="288.1" cy="317.8" rx="2.3" ry="0.6" fill="#133497" opacity="1"/>
<ellipse cx="294.5" cy="313" rx="1.7" ry="0.6" fill="#0c227a" opacity="0.8"/>
<ellipse cx="291.6" cy="312" rx="2.2" ry="0.6" fill="#0c227a" opacity="1"/>
<ellipse cx="301.5" cy="317.4" rx="1.3" ry="0.5" fill="#3291cb" opacity="0.7"/>
<ellipse cx="299.1" cy="317" rx="2" ry="0.5" fill="#0c227a" opacity="0.9"/>
<ellipse cx="304.1" cy="316.7" rx="1.8" ry="0.5" fill="#0c227a" opacity="0.7"/>
<ellipse cx="303.1" cy="316.8" rx="1.5" ry="0.5" fill="#133396" opacity="0.9"/>
<ellipse cx="312.3" cy="314.5" rx="1.3" ry="0.5" fill="#0c227a" opacity="0.9"/>
<ellipse cx="306.4" cy="312.7" rx="2.7" ry="0.6" fill="#0c227a" opacity="0.9"/>
<ellipse cx="321.2" cy="316.5" rx="1.7" ry="0.4" fill="#0c227b" opacity="1"/>
<ellipse cx="320.1" cy="317.3" rx="1.7" ry="0.5" fill="#3caacf" opacity="0.8"/>
<ellipse cx="316.4" cy="316.3" rx="1.9" ry="0.6" fill="#0c227a" opacity="0.8"/>
<ellipse cx="319.8" cy="317.1" rx="1.5" ry="0.7" fill="#3291cb" opacity="0.8"/>
<ellipse cx="319.6" cy="316.4" rx="2.6" ry="0.4" fill="#102c8b" opacity="1"/>
<ellipse cx="326.4" cy="317.2" rx="1.8" ry="0.5" fill="#1b4eae" opacity="1"/>
<ellipse cx="324" cy="317.8" rx="1.3" ry="0.5" fill="#0c227a" opacity="0.8"/>
<ellipse cx="328.2" cy="317.3" rx="2.1" ry="0.7" fill="#15389e" opacity="0.8"/>
<ellipse cx="328" cy="311.6" rx="1.5" ry="0.4" fill="#0c227a" opacity="0.8"/>
<ellipse cx="327.3" cy="310.9" rx="2.1" ry="0.5" fill="#0c227a" opacity="0.8"/>
<ellipse cx="345.8" cy="313.3" rx="2" ry="0.4" fill="#0c227a" opacity="0.7"/>
<ellipse cx="344.9" cy="311.3" rx="2.7" ry="0.6" fill="#0c227a" opacity="0.9"/>
<ellipse cx="344.5" cy="312.5" rx="2.4" ry="0.5" fill="#1844a7" opacity="1"/>
<ellipse cx="344.6" cy="313" rx="2.7" ry="0.5" fill="#15389d" opacity="0.8"/>
<ellipse cx="349.1" cy="315.6" rx="2.6" ry="0.4" fill="#0c227a" opacity="0.9"/>
<ellipse cx="347.9" cy="314.9" rx="2.3" ry="0.5" fill="#236ac1" opacity="0.8"/>
<ellipse cx="348" cy="315" rx="1.2" ry="0.5" fill="#236dc3" opacity="1"/>
<ellipse cx="344.8" cy="315.9" rx="1.8" ry="0.5" fill="#0c227a" opacity="1"/>
<ellipse cx="334.6" cy="318.2" rx="2.1" ry="0.6" fill="#123192" opacity="0.8"/>
<ellipse cx="334" cy="318.9" rx="1.6" ry="0.4" fill="#0c227a" opacity="0.7"/>
</g></g>
<rect x="265" y="275.2" width="33.8" height="44.5" fill="#482c24" opacity="0.93"/>
<g filter="url(#b2)">
<ellipse cx="282" cy="277.4" rx="2.9" ry="0.5" fill="#8a6aa8" opacity="0.5"/>
<ellipse cx="281" cy="299.7" rx="2.1" ry="0.4" fill="#a890c0" opacity="0.6"/>
<ellipse cx="274.7" cy="297.3" rx="2" ry="0.4" fill="#9a80b8" opacity="0.7"/>
<ellipse cx="287.2" cy="303.5" rx="1.5" ry="0.4" fill="#7a5c98" opacity="0.7"/>
<ellipse cx="277.6" cy="304.1" rx="2.9" ry="0.4" fill="#9a80b8" opacity="0.8"/>
<ellipse cx="282" cy="318.6" rx="3.1" ry="0.6" fill="#9a80b8" opacity="0.5"/>
<ellipse cx="272.5" cy="302.2" rx="1.7" ry="0.4" fill="#9a80b8" opacity="0.7"/>
<ellipse cx="275.1" cy="294.8" rx="2.8" ry="0.5" fill="#a890c0" opacity="0.5"/>
<ellipse cx="290.8" cy="300.1" rx="1.2" ry="0.5" fill="#7a5c98" opacity="0.5"/>
<ellipse cx="274.9" cy="297.4" rx="2.6" ry="0.5" fill="#8a6aa8" opacity="0.8"/>
<ellipse cx="281" cy="302.6" rx="1.9" ry="0.4" fill="#7a5c98" opacity="0.6"/>
<ellipse cx="276.7" cy="293.8" rx="2.9" ry="0.4" fill="#a890c0" opacity="0.8"/>
<ellipse cx="282.9" cy="302.5" rx="3" ry="0.4" fill="#a890c0" opacity="0.8"/>
<ellipse cx="268.5" cy="295.8" rx="1.8" ry="0.5" fill="#a890c0" opacity="0.6"/>
<ellipse cx="274.6" cy="290.4" rx="1.5" ry="0.4" fill="#7a5c98" opacity="0.8"/>
<ellipse cx="267" cy="296.1" rx="2.7" ry="0.4" fill="#9a80b8" opacity="0.5"/>
<ellipse cx="273.1" cy="293.9" rx="2.8" ry="0.4" fill="#8a6aa8" opacity="0.4"/>
<ellipse cx="287.5" cy="296.6" rx="2.5" ry="0.5" fill="#9a80b8" opacity="0.4"/>
<ellipse cx="271.3" cy="300" rx="1.8" ry="0.5" fill="#7a5c98" opacity="0.8"/>
<ellipse cx="290.7" cy="278.3" rx="3.1" ry="0.5" fill="#7a5c98" opacity="0.5"/>
<ellipse cx="274.5" cy="308" rx="1.4" ry="0.6" fill="#9a80b8" opacity="0.6"/>
<ellipse cx="285.1" cy="317.1" rx="1.6" ry="0.5" fill="#a890c0" opacity="0.6"/>
<ellipse cx="290.8" cy="304.2" rx="2.6" ry="0.5" fill="#a890c0" opacity="0.7"/>
<ellipse cx="266.8" cy="308.6" rx="2.9" ry="0.4" fill="#a890c0" opacity="0.8"/>
<ellipse cx="273" cy="302.8" rx="2.1" ry="0.5" fill="#8a6aa8" opacity="0.5"/>
<ellipse cx="274.9" cy="305.3" rx="1.9" ry="0.5" fill="#a890c0" opacity="0.7"/>
<ellipse cx="279.9" cy="290.6" rx="2.9" ry="0.5" fill="#9a80b8" opacity="0.8"/>
<ellipse cx="286.5" cy="295.1" rx="1.6" ry="0.4" fill="#9a80b8" opacity="0.7"/>
<ellipse cx="275.3" cy="301.6" rx="1.5" ry="0.5" fill="#7a5c98" opacity="0.6"/>
<ellipse cx="271.2" cy="289.9" rx="2.6" ry="0.4" fill="#a890c0" opacity="0.4"/>
<ellipse cx="278.6" cy="311.4" rx="3.2" ry="0.6" fill="#8a6aa8" opacity="0.4"/>
<ellipse cx="279.4" cy="295.3" rx="2.2" ry="0.5" fill="#9a80b8" opacity="0.5"/>
<ellipse cx="268.1" cy="308.7" rx="2.4" ry="0.4" fill="#8a6aa8" opacity="0.8"/>
<ellipse cx="285.2" cy="298" rx="2.9" ry="0.6" fill="#a890c0" opacity="0.7"/>
<ellipse cx="268.7" cy="295.6" rx="2.3" ry="0.4" fill="#a890c0" opacity="0.6"/>
<ellipse cx="292.1" cy="293.7" rx="2" ry="0.5" fill="#7a5c98" opacity="0.6"/>
</g>
<g filter="url(#b2)">
<ellipse cx="294" cy="286.3" rx="2.7" ry="0.4" fill="#7a5c98" opacity="0.4"/>
<ellipse cx="291.7" cy="291.8" rx="1.7" ry="0.6" fill="#8a6aa8" opacity="0.7"/>
<ellipse cx="287.7" cy="300.8" rx="1.6" ry="0.5" fill="#8a6aa8" opacity="0.7"/>
<ellipse cx="291.3" cy="307.8" rx="2.9" ry="0.4" fill="#8a6aa8" opacity="0.4"/>
<ellipse cx="294.2" cy="286.7" rx="2.6" ry="0.5" fill="#7a5c98" opacity="0.7"/>
<ellipse cx="292.5" cy="294.4" rx="2.4" ry="0.4" fill="#8a6aa8" opacity="0.6"/>
<ellipse cx="286.1" cy="307.7" rx="2.2" ry="0.5" fill="#9a80b8" opacity="0.7"/>
<ellipse cx="295.7" cy="298" rx="1.8" ry="0.5" fill="#7a5c98" opacity="0.4"/>
<ellipse cx="295.6" cy="292" rx="2.4" ry="0.4" fill="#8a6aa8" opacity="0.7"/>
<ellipse cx="289.9" cy="299.9" rx="2.9" ry="0.6" fill="#9a80b8" opacity="0.6"/>
<ellipse cx="292.9" cy="300.4" rx="2.3" ry="0.5" fill="#a890c0" opacity="0.6"/>
<ellipse cx="288.5" cy="302.2" rx="1.5" ry="0.6" fill="#a890c0" opacity="0.4"/>
<ellipse cx="286.1" cy="301.6" rx="1.4" ry="0.5" fill="#7a5c98" opacity="0.7"/>
<ellipse cx="296.6" cy="301.3" rx="2.1" ry="0.6" fill="#7a5c98" opacity="0.7"/>
<ellipse cx="287.5" cy="296.3" rx="3.1" ry="0.4" fill="#7a5c98" opacity="0.7"/>
<ellipse cx="285.9" cy="299.9" rx="1.2" ry="0.5" fill="#9a80b8" opacity="0.5"/>
<ellipse cx="292.8" cy="293.3" rx="1.9" ry="0.5" fill="#7a5c98" opacity="0.8"/>
<ellipse cx="295.8" cy="294.2" rx="1.7" ry="0.5" fill="#7a5c98" opacity="0.6"/>
<ellipse cx="294.4" cy="301.6" rx="2.5" ry="0.5" fill="#a890c0" opacity="0.5"/>
<ellipse cx="296.6" cy="308.3" rx="2.6" ry="0.4" fill="#7a5c98" opacity="0.6"/>
</g>
<g filter="url(#b1)" opacity="1.0">
<path d="M266.7,286.1 267.6,286.3 268.5,286.4 269.5,286.1 270.4,285.6" fill="none" stroke="#9a7cc0" stroke-width="0.7" stroke-linecap="round" opacity="0.75"/>
<path d="M283,286.7 284,286.8 285.1,286.9" fill="none" stroke="#9a7cc0" stroke-width="0.7" stroke-linecap="round" opacity="0.7"/>
<path d="M273.6,285.3 274.6,285.1 275.5,285.1 276.5,285.3" fill="none" stroke="#8a70b0" stroke-width="0.6" stroke-linecap="round" opacity="0.6"/>
<path d="M266.3,289.5 267.2,289.6 268,289.8 268.9,289.8 269.7,289.5 270.6,289 271.4,288.5 272.3,288.1 273.1,287.7 274,287.4 274.8,287.2 275.7,287.3 276.5,287.5 277.4,287.9 278.2,288.4 279.1,288.9 279.9,289.3 280.8,289.6 281.7,289.9 282.5,290.1 283.4,290.2 284.2,290.3 285.1,290.4" fill="none" stroke="#8a6cb0" stroke-width="1.6" stroke-linecap="round" opacity="0.55"/>
<path d="M266.7,289.6 267.7,289.8 268.7,289.8 269.8,289.4 270.8,288.8" fill="none" stroke="#e6c63c" stroke-width="1.0" stroke-linecap="round" opacity="0.95"/>
<path d="M273.2,287.6 274.3,287.3 275.4,287.2 276.5,287.5" fill="none" stroke="#d9a83a" stroke-width="0.8" stroke-linecap="round" opacity="0.8"/>
<path d="M278.9,288.8 279.9,289.3 280.9,289.7 281.8,289.9 282.8,290.1 283.7,290.2 284.7,290.4" fill="none" stroke="#e8c840" stroke-width="0.9" stroke-linecap="round" opacity="0.9"/>
<path d="M266.3,294.8 267.2,294.9 268,295.1 268.9,295.1 269.7,294.7 270.6,294.3 271.4,293.8 272.2,293.4 273.1,293 273.9,292.6 274.8,292.5 275.7,292.5 276.5,292.7 277.4,293.2 278.2,293.7 279.1,294.2 279.9,294.6 280.8,294.9 281.6,295.1 282.4,295.3 283.3,295.5 284.2,295.6 285,295.7 285.9,295.7 286.7,295.7" fill="none" stroke="#7a5aa8" stroke-width="2.2" stroke-linecap="round" opacity="0.55"/>
<path d="M266.3,294.8 267.2,294.9 268,295.1 268.9,295.1 269.7,294.7 270.6,294.3 271.4,293.8 272.2,293.4 273.1,293 273.9,292.6 274.8,292.5 275.7,292.5 276.5,292.7 277.4,293.2 278.2,293.7 279.1,294.2 279.9,294.6 280.8,294.9 281.6,295.1 282.4,295.3 283.3,295.5 284.2,295.6 285,295.7 285.9,295.7 286.7,295.7" fill="none" stroke="#eea22c" stroke-width="1.35" stroke-linecap="round" opacity="1.0"/>
<path d="M267.1,294.9 268,295.1 268.9,295.1 269.8,294.7 270.7,294.2 271.5,293.7 272.4,293.3" fill="none" stroke="#f6dc3e" stroke-width="0.9" stroke-linecap="round" opacity="1.0"/>
<path d="M276.9,292.9 277.8,293.4 278.7,293.9 279.5,294.4 280.4,294.8 281.3,295.1 282.2,295.3 283,295.4" fill="none" stroke="#e8502a" stroke-width="0.85" stroke-linecap="round" opacity="1.0"/>
<path d="M283.8,295.5 285.1,295.7 286.3,295.7" fill="none" stroke="#f4d43c" stroke-width="0.8" stroke-linecap="round" opacity="1.0"/>
<path d="M266.3,300.1 267.2,300.2 268,300.4 268.9,300.4 269.7,300 270.6,299.5 271.4,299.1 272.2,298.6 273.1,298.2 273.9,297.9 274.8,297.8 275.7,297.8 276.5,298 277.4,298.5 278.2,299 279.1,299.4 279.9,299.9 280.8,300.2 281.6,300.4 282.4,300.6 283.3,300.8 284.2,300.9 285,300.9 285.9,300.9 286.7,300.9" fill="none" stroke="#7a5aa8" stroke-width="2.2" stroke-linecap="round" opacity="0.55"/>
<path d="M266.3,300.1 267.2,300.2 268,300.4 268.9,300.4 269.7,300 270.6,299.5 271.4,299.1 272.2,298.6 273.1,298.2 273.9,297.9 274.8,297.8 275.7,297.8 276.5,298 277.4,298.5 278.2,299 279.1,299.4 279.9,299.9 280.8,300.2 281.6,300.4 282.4,300.6 283.3,300.8 284.2,300.9 285,300.9 285.9,300.9 286.7,300.9" fill="none" stroke="#eea22c" stroke-width="1.35" stroke-linecap="round" opacity="1.0"/>
<path d="M267.1,300.2 268,300.4 268.9,300.3 269.8,300 270.7,299.5 271.5,299 272.4,298.5" fill="none" stroke="#f6dc3e" stroke-width="0.9" stroke-linecap="round" opacity="1.0"/>
<path d="M276.9,298.2 277.8,298.7 278.7,299.2 279.5,299.7 280.4,300.1 281.3,300.3 282.2,300.6 283,300.7" fill="none" stroke="#e8502a" stroke-width="0.85" stroke-linecap="round" opacity="1.0"/>
<path d="M283.8,300.8 285.1,300.9 286.3,300.9" fill="none" stroke="#f4d43c" stroke-width="0.8" stroke-linecap="round" opacity="1.0"/>
<path d="M266.3,304.9 267.2,305 268,305.2 268.9,305.2 269.7,304.8 270.6,304.3 271.4,303.9 272.2,303.4 273.1,303 273.9,302.7 274.8,302.6 275.7,302.6 276.5,302.8 277.4,303.3 278.2,303.8 279.1,304.2 279.9,304.7 280.8,305 281.6,305.2 282.4,305.4 283.3,305.6 284.2,305.7 285,305.7 285.9,305.7 286.7,305.7" fill="none" stroke="#7a5aa8" stroke-width="2.2" stroke-linecap="round" opacity="0.55"/>
<path d="M266.3,304.9 267.2,305 268,305.2 268.9,305.2 269.7,304.8 270.6,304.3 271.4,303.9 272.2,303.4 273.1,303 273.9,302.7 274.8,302.6 275.7,302.6 276.5,302.8 277.4,303.3 278.2,303.8 279.1,304.2 279.9,304.7 280.8,305 281.6,305.2 282.4,305.4 283.3,305.6 284.2,305.7 285,305.7 285.9,305.7 286.7,305.7" fill="none" stroke="#eea22c" stroke-width="1.35" stroke-linecap="round" opacity="0.95"/>
<path d="M267.1,305 268,305.2 268.9,305.1 269.8,304.8 270.7,304.3 271.5,303.8 272.4,303.3" fill="none" stroke="#f6dc3e" stroke-width="0.9" stroke-linecap="round" opacity="0.95"/>
<path d="M276.9,303 277.8,303.5 278.7,304 279.5,304.5 280.4,304.9 281.3,305.1 282.2,305.4 283,305.5" fill="none" stroke="#e8502a" stroke-width="0.85" stroke-linecap="round" opacity="0.95"/>
<path d="M283.8,305.6 285.1,305.7 286.3,305.7" fill="none" stroke="#f4d43c" stroke-width="0.8" stroke-linecap="round" opacity="0.95"/>
<path d="M266.3,308.4 267.2,308.5 268,308.6 268.9,308.6 269.7,308.3 270.6,307.8 271.5,307.3 272.3,306.9 273.2,306.5 274.1,306.2 274.9,306 275.8,306.1 276.6,306.4 277.5,306.8 278.4,307.3 279.2,307.8 280.1,308.2 281,308.5 281.8,308.8 282.7,308.9 283.5,309.1 284.4,309.2 285.3,309.2" fill="none" stroke="#7a5aa8" stroke-width="2.2" stroke-linecap="round" opacity="0.55"/>
<path d="M266.3,308.4 267.2,308.5 268,308.6 268.9,308.6 269.7,308.3 270.6,307.8 271.5,307.3 272.3,306.9 273.2,306.5 274.1,306.2 274.9,306 275.8,306.1 276.6,306.4 277.5,306.8 278.4,307.3 279.2,307.8 280.1,308.2 281,308.5 281.8,308.8 282.7,308.9 283.5,309.1 284.4,309.2 285.3,309.2" fill="none" stroke="#eea22c" stroke-width="1.35" stroke-linecap="round" opacity="0.85"/>
<path d="M267.1,308.5 268,308.6 268.9,308.6 269.8,308.3 270.7,307.8 271.5,307.3 272.4,306.8" fill="none" stroke="#f6dc3e" stroke-width="0.9" stroke-linecap="round" opacity="0.85"/>
<path d="M276.9,306.5 277.8,307 278.7,307.5 279.5,308 280.4,308.3 281.3,308.6 282.2,308.8 283,309" fill="none" stroke="#e8502a" stroke-width="0.85" stroke-linecap="round" opacity="0.85"/>
<path d="M283.8,309.1 284.4,309.2 284.9,309.2" fill="none" stroke="#f4d43c" stroke-width="0.8" stroke-linecap="round" opacity="0.85"/>
<path d="M270,313.6Q275.8,312.7 281.6,313.9" fill="none" stroke="#a088c8" stroke-width="0.7" stroke-linecap="round" opacity="0.8"/>
<path d="M267.9,316 269.2,315.9 270.4,315.2" fill="none" stroke="#8468b0" stroke-width="0.6" stroke-linecap="round" opacity="0.6"/>
<path d="M267.5,319Q276.6,318.1 285.7,319.3" fill="none" stroke="#9276c0" stroke-width="0.8" stroke-linecap="round" opacity="0.7"/>
<path d="M266.5,297.4 L266.3,309.4" stroke="#8a72c0" stroke-width="1" opacity="0.65"/>
</g>
<line x1="215" y1="324" x2="215" y2="344.7" stroke="#111" stroke-width="1.2" />
<text x="218" y="332.3" font-size="10.8" font-weight="normal" text-anchor="start" fill="#0a0a0a" >20 mV</text>
<text x="349.2" y="333" font-size="10.8" font-weight="normal" text-anchor="end" fill="#0a0a0a" >100 ms</text>
<line x1="328.7" y1="322.5" x2="349.2" y2="322.5" stroke="#333" stroke-width="1.3" />
<path d="M215,365.8l.5,1 .5-2.1 .5,.2 .5-.7 .5,.5 .5,0 .5,.4 .5-.5 .5,.7 .5-.1 .5,.7 .5-1.2 .5-.5 .5,.5 .5,.4 .5-.3 .5,0 .5,.6 .5-1 .3-.1 .4-9.1 .3-21.2 .3,15.2 .4,10 .6,3.3 .2,.3 .5-.2 .5-.2 .5,.2 .5,1.1 .5,0 .5,.2 .5-.4 .5,.5 .5-.3 .5,0 .5-.4 .5,1 .5,.2 .5,.4 .5,.4 .5,.6 .5,.2 .5,.6 .5-.3 .5,0 .5,.3 .5,.2 .5-.1 .5-.4 .5-.6 .5,.5 .5-.5 .5,.5 .5,.4 .5-1.1 .5,1.4 .5-.9 .5-.6 .5,.5 .5-.3 .5,.9 .5,0 .5,.1 .5-.1 .5,.3 .5-.1 .5-.8 .5,.7 .5-.3 .5,.2 .5-.1 .5,.1 .5,.5 .5-.5 .5,.5 .5-.4 .5,.2 .5-.4 .5,.4 .5,.4 .5-.7 .5,.7 .5,.1 .5-.2 .5-.9 .5,.5 .5-1.4 .5,.3 .5,.2 .5-.8 .5,.4 .5-1.1 .5,.2 .5-1 .5,.3 .5,.5 .5,.5 .5,.2 .5,.9 .5-1.5 .5,.5 .5-.8 .5-1.3 .5-.4 .4,.1 .5-8.7 .3-20.4 .3,14.5 .4,9.6 .6,3.2 .5,1.3 .5,.2 .5-.2 .5,.1 .5-.2 .5,.9 .5-.2 .5,.2 .5,.6 .5-.8 .5,.2 .5-.4 .5,.3 .5-.6 .5,.4 .5-.6 .5,1.3 .5-.5 .1-.2 .4-8.7 .3-20.4 .3,14.5 .4,9.6 .6,3.2 .4,2.7 .5-1.1 .5,.2 .5,1 .5,0 .5,.9 .5,.1 .5,.8 .5-1 .5,1.4 .5,.2 .5-.1 .5,.5 .5-.2 .5-1.1 .5,1 .5-.2 .5-.2 .5,1.3 .5-.7 .5-1 .5,.7 .5,.3 .5-.9 .5,.4 .5,.6 .5,.1 .5-1.7 .5,.5 .5,.9 .5-.8 .5-.3 .5,.9 .5-1.5 .5,.7 .5-.3 .5-.8 .5,.6 .5-.1 .5-.3 .5-.4 .5-.3 .5,.3 .5-.8 .5,.3 .5,.3 .5,.6 .5,.4 .5,.2 .5-1.6 .5,.4 .5,.6 .5,.6 .5-.1 .5,.5 .5-1.1 .5,.6 .5,.1 .5,.1 .5,1 .5-.3 .5-.1 .5-.7 .5,.3 .5,.8 .5-.9 .5,1 .5-.7 .5,.6 .5-.6 .5,.6 .5,.8 .5-1.1 .5,.5 .5,.5 .5-.5 .5-.4 .5-.2 .5,.9 .5-.3 .5,.5 .5-.4 .5-1.1 .5,1.8 .5-.7 .5,0 .5-.4 .5-.1 .5-.6 .5,0 .5,.8 .5-.3 .5-.4 .5,.5 .5-1 .5-.4 .5,.9 .5-.1 .5-.7 .5,.7 .5,.5 .5,0 .5-.2 .5,.7 .5-.7 .5-.1 .5,1.1 .5,.5 .5-.9 .5-.1 .5,1.1 .5-.8 .5,0 .5,.2 .5-.4 .5,1 .5-1.2 .5,.6 .5,.1 .5-.4 .5,.5 .5,0 .5-.1 .5-.3 .5-.9 .5,.5 .5,.2 .5-.3 .5,.2 .5,.4 .5-.2 .5-.4 .5-.3 .5-.1 .5-1.3 .5,0 .5,.1 .5-.4" fill="none" stroke="#050505" stroke-width="1.25" stroke-linejoin="round" />
<line x1="214.4" y1="380.2" x2="214.4" y2="451.5" stroke="#222" stroke-width="1.1" />
<text x="212.5" y="387" font-size="10.8" font-weight="normal" text-anchor="end" fill="#0a0a0a" >11</text>
<text x="214" y="451" font-size="10.8" font-weight="normal" text-anchor="end" fill="#0a0a0a" >1</text>
<text transform="translate(211.5,416) rotate(-90)" font-size="10.8" text-anchor="middle" fill="#0a0a0a">Trials</text>
<path d="M261.3,380.2v5.6M275.5,380.2v5.6M277.4,380.2v5.6M327.9,380.2v5.6M329.6,380.2v5.6M331.5,380.2v5.6M335.1,380.2v5.6M346.8,380.2v5.6M276.9,386.6v5.6M293.2,386.6v5.6M225.5,393v5.6M267.7,393v5.6M278.2,393v5.6M217.8,399.5v5.6M278.2,399.5v5.6M277.7,405.9v5.6M279.1,405.9v5.6M344,405.9v5.6M281,412.3v5.6M290.4,412.3v5.6M246.3,418.8v5.6M278.2,418.8v5.6M280.2,418.8v5.6M291.3,418.8v5.6M312.6,418.8v5.6M315.4,418.8v5.6M321.2,418.8v5.6M332.3,418.8v5.6M246.1,425.2v5.6M267.1,425.2v5.6M276.9,425.2v5.6M279.6,425.2v5.6M292.1,425.2v5.6M245.5,431.6v5.6M278.2,431.6v5.6M282.1,431.6v5.6M315.4,431.6v5.6M259.4,438.1v5.6M278.2,438.1v5.6M299.6,438.1v5.6M336.8,438.1v5.6M222.5,444.5v5.6M283.5,444.5v5.6" stroke="#151515" stroke-width="0.7" fill="none"/>
<line x1="214.4" y1="459.8" x2="214.4" y2="471.7" stroke="#111" stroke-width="1.2" />
<text x="217.2" y="466.3" font-size="10.8" font-weight="normal" text-anchor="start" fill="#0a0a0a" >20 Hz</text>
<path d="M215,474.2l.6,.6 .6-.6 .6,.7 .6-.3 .6-.3 .6-.6 .6,.3 .6,.8 .6-.2 .6-.5 .6,.2 .6-.7 .6,.6 .6-1 .6,.6 .6,.8 .6,0 .6-.3 .6-.8 .6,.6 .6-.1 .6,0 .6,.2 .6,.3 .6-.1 .6,.3 .6,.2 .6-.1 .6,.4 .6,.3 .6,.4 .6,.6 .6,.1 .6-.7 .6,.9 .6-.1 .6-.6 .6,.2 .6-.1 .6,.2 .6-.1 .6,.2 .6,0 .6-.4 .6,0 .6-.7 .6,.1 .6-.1 .6,.9 .6-.5 .6-.1 .6-1.2 .6,0 .6,.2 .6,0 .6,0 .6-.2 .6-.6 .6,.2 .6-.7 .6,1.2 .6-.3 .6,.2 .6-.1 .6-.7 .6-.1 .6,.7 .6,.2 .6,.1 .6,.2 .6-.5 .6,0 .6-.4 .6,1.1 .6-.3 .6-.7 .6-.2 .6,.6 .6,.4 .6-.1 .6-.2 .6,.8 .6-.4 .6-.3 .6-.6 .6-1 .6-.3 .6,.3 .6-1.1 .6-.7 .6-1.7 .6-.3 .6-1.9 .6-1.1 .6-.3 .6-.5 .6-.5 .6-.8 .6-.3 .6-.6 .6,.1 .6-1 .6,.2 .6-.2 .6,.4 .6-.4 .6,.4 .6,.5 .6-.9 .6,.5 .6,.8 .6-.5 .6,.9 .6,1.6 .6,.6 .6-.5 .6,1.6 .6,1.7 .6,1.9 .6,.6 .6,0 .6,0 .6-.5 .6,1.4 .6-.1 .6,.7 .6-.4 .6,0 .6,.4 .6,.4 .6-.1 .6,.3 .6,.2 .6,.5 .6-.5 .6,.2 .6-.8 .6,1 .6,.1 .6-.1 .6,.3 .6,.2 .6-.5 .6-.1 .6,.9 .6,.2 .6,.8 .6,.4 .6,.3 .6-.4 .6-.3 .6,.5 .6-.5 .6-.1 .6-.1 .6-.3 .6-.3 .6-.2 .6,.2 .6,0 .6-.6 .6-.5 .6,.5 .6,.1 .6,.1 .6-.4 .6-.9 .6,.1 .6-.2 .6,.5 .6-.1 .6-.3 .6,.1 .6,.1 .6,.1 .6,.2 .6-.9 .6-.1 .6,.2 .6-.2 .6,0 .6,.4 .6-.4 .6-.2 .6,0 .6-.2 .6-.2 .6-.1 .6-.1 .6,.3 .6-.5 .6,.4 .6,.1 .6,.2 .6,.2 .6-.2 .6-.1 .6,.4 .6,.4 .6,0 .6,.8 .6,.2 .6-.2 .6-.5 .6,0 .6-.1 .6,.6 .6-.6 .6,.2 .6-.1 .6-.4 .6,.1 .6-.5 .6,.5 .6-.9 .6,.7 .6-1.2 .6,.5 .6,0 .6-1.3 .6-1.3 .6-.9 .6-.1" fill="none" stroke="#050505" stroke-width="1.6" stroke-linejoin="round" />
<text x="389.4" y="390.7" font-size="15.3" font-weight="bold" text-anchor="start" fill="#0a0a0a" >H</text>
<path d="M422.3,392l0,152.6 97.2,0" fill="none" stroke="#2e2e2e" stroke-width="1.1" stroke-linejoin="round" />
<line x1="422.3" y1="525.2" x2="424.5" y2="525.2" stroke="#2e2e2e" stroke-width="1" />
<line x1="422.3" y1="506.2" x2="424.5" y2="506.2" stroke="#2e2e2e" stroke-width="1" />
<line x1="422.3" y1="487.1" x2="424.5" y2="487.1" stroke="#2e2e2e" stroke-width="1" />
<line x1="422.3" y1="468.1" x2="424.5" y2="468.1" stroke="#2e2e2e" stroke-width="1" />
<line x1="422.3" y1="449" x2="424.5" y2="449" stroke="#2e2e2e" stroke-width="1" />
<line x1="422.3" y1="430" x2="424.5" y2="430" stroke="#2e2e2e" stroke-width="1" />
<line x1="422.3" y1="410.9" x2="424.5" y2="410.9" stroke="#2e2e2e" stroke-width="1" />
<line x1="422.3" y1="391.9" x2="424.5" y2="391.9" stroke="#2e2e2e" stroke-width="1" />
<text x="418.4" y="529.1" font-size="10.8" font-weight="normal" text-anchor="end" fill="#0a0a0a" >0</text>
<text x="418.4" y="510.1" font-size="10.8" font-weight="normal" text-anchor="end" fill="#0a0a0a" >5</text>
<text x="418.4" y="491" font-size="10.8" font-weight="normal" text-anchor="end" fill="#0a0a0a" >10</text>
<text x="418.4" y="472" font-size="10.8" font-weight="normal" text-anchor="end" fill="#0a0a0a" >15</text>
<text x="418.4" y="452.9" font-size="10.8" font-weight="normal" text-anchor="end" fill="#0a0a0a" >20</text>
<text x="418.4" y="433.9" font-size="10.8" font-weight="normal" text-anchor="end" fill="#0a0a0a" >25</text>
<text x="418.4" y="414.8" font-size="10.8" font-weight="normal" text-anchor="end" fill="#0a0a0a" >30</text>
<text x="418.4" y="395.8" font-size="10.8" font-weight="normal" text-anchor="end" fill="#0a0a0a" >35</text>
<text transform="translate(397,466.5) rotate(-90)" font-size="10.8" text-anchor="middle" fill="#0a0a0a">Firing rate (Hz)</text>
<line x1="447.4" y1="496.2" x2="498.2" y2="455.9" stroke="#f17e80" stroke-width="2.5" stroke-linecap="round"/>
<line x1="447.4" y1="500.4" x2="498.2" y2="467.7" stroke="#f17e80" stroke-width="2.5" stroke-linecap="round"/>
<line x1="447.4" y1="502.3" x2="498.2" y2="471.5" stroke="#f17e80" stroke-width="2.5" stroke-linecap="round"/>
<line x1="447.4" y1="504.2" x2="498.2" y2="478" stroke="#f17e80" stroke-width="2.5" stroke-linecap="round"/>
<line x1="447.4" y1="506.9" x2="498.2" y2="502" stroke="#f17e80" stroke-width="2.5" stroke-linecap="round"/>
<line x1="447.4" y1="515.7" x2="498.2" y2="513" stroke="#f17e80" stroke-width="2.5" stroke-linecap="round"/>
<line x1="447.4" y1="519.5" x2="498.2" y2="518.7" stroke="#f17e80" stroke-width="2.5" stroke-linecap="round"/>
<line x1="447.4" y1="521.4" x2="498.2" y2="522.2" stroke="#f17e80" stroke-width="2.5" stroke-linecap="round"/>
<line x1="447.4" y1="525.2" x2="498.2" y2="525.2" stroke="#f17e80" stroke-width="2.5" stroke-linecap="round"/>
<line x1="447.4" y1="523.3" x2="498.2" y2="515.7" stroke="#f17e80" stroke-width="2.5" stroke-linecap="round"/>
<line x1="447.4" y1="517.6" x2="498.2" y2="520.6" stroke="#f17e80" stroke-width="2.5" stroke-linecap="round"/>
<line x1="447.4" y1="524.4" x2="498.2" y2="524.1" stroke="#f17e80" stroke-width="2.5" stroke-linecap="round"/>
<circle cx="447.4" cy="496.2" r="5.2" fill="#f17e80"/>
<circle cx="447.4" cy="500.4" r="5.2" fill="#f17e80"/>
<circle cx="447.4" cy="502.3" r="5.2" fill="#f17e80"/>
<circle cx="447.4" cy="504.2" r="5.2" fill="#f17e80"/>
<circle cx="447.4" cy="506.9" r="5.2" fill="#f17e80"/>
<circle cx="447.4" cy="515.7" r="5.2" fill="#f17e80"/>
<circle cx="447.4" cy="519.5" r="5.2" fill="#f17e80"/>
<circle cx="447.4" cy="521.4" r="5.2" fill="#f17e80"/>
<circle cx="447.4" cy="525.2" r="5.2" fill="#f17e80"/>
<circle cx="447.4" cy="523.3" r="5.2" fill="#f17e80"/>
<circle cx="447.4" cy="517.6" r="5.2" fill="#f17e80"/>
<circle cx="447.4" cy="524.4" r="5.2" fill="#f17e80"/>
<circle cx="498.2" cy="455.9" r="5.2" fill="#f17e80"/>
<circle cx="498.2" cy="467.7" r="5.2" fill="#f17e80"/>
<circle cx="498.2" cy="471.5" r="5.2" fill="#f17e80"/>
<circle cx="498.2" cy="478" r="5.2" fill="#f17e80"/>
<circle cx="498.2" cy="502" r="5.2" fill="#f17e80"/>
<circle cx="498.2" cy="513" r="5.2" fill="#f17e80"/>
<circle cx="498.2" cy="518.7" r="5.2" fill="#f17e80"/>
<circle cx="498.2" cy="522.2" r="5.2" fill="#f17e80"/>
<circle cx="498.2" cy="525.2" r="5.2" fill="#f17e80"/>
<circle cx="498.2" cy="515.7" r="5.2" fill="#f17e80"/>
<circle cx="498.2" cy="520.6" r="5.2" fill="#f17e80"/>
<circle cx="498.2" cy="524.1" r="5.2" fill="#f17e80"/>
<line x1="434.9" y1="513.5" x2="459.9" y2="513.5" stroke="#141414" stroke-width="1.15" />
<line x1="485.7" y1="504.5" x2="510.7" y2="504.5" stroke="#141414" stroke-width="1.15" />
<line x1="446.7" y1="394.3" x2="496.2" y2="394.3" stroke="#1a1a1a" stroke-width="1.05" />
<text x="469.9" y="396.3" font-size="15" font-weight="normal" text-anchor="middle" fill="#0a0a0a" >*</text>
<text x="435.4" y="557.2" font-size="10.8" font-weight="normal" text-anchor="start" fill="#0a0a0a" >BOS</text>
<text x="477.6" y="557.2" font-size="10.8" font-weight="normal" text-anchor="start" fill="#0a0a0a" >BOS</text>
<text x="500.2" y="556.3" font-size="10" fill="#f26a36" font-weight="bold">+</text>
<text x="506.6" y="557.8" font-size="11.5" fill="#f26a36" font-weight="bold" class="fm" stroke="#f26a36" stroke-width="0.8">♀</text>
<text x="477.6" y="569.7" font-size="10.8" font-weight="normal" text-anchor="start" fill="#0a0a0a" >Call</text>
<text x="559.5" y="390.7" font-size="15.3" font-weight="bold" text-anchor="start" fill="#0a0a0a" >I</text>
<path d="M586.6,392.8l0,150.4 98.4,0" fill="none" stroke="#2e2e2e" stroke-width="1.1" stroke-linejoin="round" />
<line x1="586.6" y1="542.9" x2="588.8" y2="542.9" stroke="#2e2e2e" stroke-width="1" />
<line x1="586.6" y1="525.2" x2="588.8" y2="525.2" stroke="#2e2e2e" stroke-width="1" />
<line x1="586.6" y1="507.6" x2="588.8" y2="507.6" stroke="#2e2e2e" stroke-width="1" />
<line x1="586.6" y1="490" x2="588.8" y2="490" stroke="#2e2e2e" stroke-width="1" />
<line x1="586.6" y1="472.3" x2="588.8" y2="472.3" stroke="#2e2e2e" stroke-width="1" />
<line x1="586.6" y1="454.7" x2="588.8" y2="454.7" stroke="#2e2e2e" stroke-width="1" />
<line x1="586.6" y1="437" x2="588.8" y2="437" stroke="#2e2e2e" stroke-width="1" />
<line x1="586.6" y1="419.4" x2="588.8" y2="419.4" stroke="#2e2e2e" stroke-width="1" />
<line x1="586.6" y1="401.7" x2="588.8" y2="401.7" stroke="#2e2e2e" stroke-width="1" />
<text x="582.7" y="548.2" font-size="10.8" font-weight="normal" text-anchor="end" fill="#0a0a0a" >-2</text>
<text x="582.7" y="529.5" font-size="10.8" font-weight="normal" text-anchor="end" fill="#0a0a0a" >-1</text>
<text x="582.7" y="511.9" font-size="10.8" font-weight="normal" text-anchor="end" fill="#0a0a0a" >0</text>
<text x="582.7" y="494.2" font-size="10.8" font-weight="normal" text-anchor="end" fill="#0a0a0a" >1</text>
<text x="582.7" y="476.6" font-size="10.8" font-weight="normal" text-anchor="end" fill="#0a0a0a" >2</text>
<text x="582.7" y="458.9" font-size="10.8" font-weight="normal" text-anchor="end" fill="#0a0a0a" >3</text>
<text x="582.7" y="441.3" font-size="10.8" font-weight="normal" text-anchor="end" fill="#0a0a0a" >4</text>
<text x="582.7" y="423.6" font-size="10.8" font-weight="normal" text-anchor="end" fill="#0a0a0a" >5</text>
<text x="582.7" y="406" font-size="10.8" font-weight="normal" text-anchor="end" fill="#0a0a0a" >6</text>
<text transform="translate(569,465.4) rotate(-90)" font-size="10.8" text-anchor="middle" fill="#0a0a0a">Spiking precision</text>
<line x1="619" y1="419.4" x2="657.3" y2="447.9" stroke="#f17e80" stroke-width="2.5" stroke-linecap="round"/>
<line x1="619" y1="456.4" x2="657.3" y2="452.9" stroke="#f17e80" stroke-width="2.5" stroke-linecap="round"/>
<line x1="619" y1="484.7" x2="657.3" y2="496.5" stroke="#f17e80" stroke-width="2.5" stroke-linecap="round"/>
<line x1="619" y1="520" x2="657.3" y2="458.7" stroke="#f17e80" stroke-width="2.5" stroke-linecap="round"/>
<line x1="619" y1="511.1" x2="657.3" y2="477.1" stroke="#f17e80" stroke-width="2.5" stroke-linecap="round"/>
<line x1="619" y1="512.9" x2="657.3" y2="484.1" stroke="#f17e80" stroke-width="2.5" stroke-linecap="round"/>
<line x1="619" y1="504.1" x2="657.3" y2="523.5" stroke="#f17e80" stroke-width="2.5" stroke-linecap="round"/>
<line x1="619" y1="505.8" x2="657.3" y2="518.2" stroke="#f17e80" stroke-width="2.5" stroke-linecap="round"/>
<line x1="619" y1="509.4" x2="657.3" y2="512.9" stroke="#f17e80" stroke-width="2.5" stroke-linecap="round"/>
<line x1="619" y1="514.7" x2="657.3" y2="506.7" stroke="#f17e80" stroke-width="2.5" stroke-linecap="round"/>
<line x1="619" y1="516.4" x2="657.3" y2="511.1" stroke="#f17e80" stroke-width="2.5" stroke-linecap="round"/>
<line x1="619" y1="522.6" x2="657.3" y2="514.7" stroke="#f17e80" stroke-width="2.5" stroke-linecap="round"/>
<line x1="619" y1="518.2" x2="657.3" y2="507.6" stroke="#f17e80" stroke-width="2.5" stroke-linecap="round"/>
<line x1="619" y1="507.6" x2="657.3" y2="520.8" stroke="#f17e80" stroke-width="2.5" stroke-linecap="round"/>
<circle cx="619" cy="419.4" r="5.2" fill="#f17e80"/>
<circle cx="619" cy="456.4" r="5.2" fill="#f17e80"/>
<circle cx="619" cy="484.7" r="5.2" fill="#f17e80"/>
<circle cx="619" cy="520" r="5.2" fill="#f17e80"/>
<circle cx="619" cy="511.1" r="5.2" fill="#f17e80"/>
<circle cx="619" cy="512.9" r="5.2" fill="#f17e80"/>
<circle cx="619" cy="504.1" r="5.2" fill="#f17e80"/>
<circle cx="619" cy="505.8" r="5.2" fill="#f17e80"/>
<circle cx="619" cy="509.4" r="5.2" fill="#f17e80"/>
<circle cx="619" cy="514.7" r="5.2" fill="#f17e80"/>
<circle cx="619" cy="516.4" r="5.2" fill="#f17e80"/>
<circle cx="619" cy="522.6" r="5.2" fill="#f17e80"/>
<circle cx="619" cy="518.2" r="5.2" fill="#f17e80"/>
<circle cx="619" cy="507.6" r="5.2" fill="#f17e80"/>
<circle cx="657.3" cy="447.9" r="5.2" fill="#f17e80"/>
<circle cx="657.3" cy="452.9" r="5.2" fill="#f17e80"/>
<circle cx="657.3" cy="496.5" r="5.2" fill="#f17e80"/>
<circle cx="657.3" cy="458.7" r="5.2" fill="#f17e80"/>
<circle cx="657.3" cy="477.1" r="5.2" fill="#f17e80"/>
<circle cx="657.3" cy="484.1" r="5.2" fill="#f17e80"/>
<circle cx="657.3" cy="523.5" r="5.2" fill="#f17e80"/>
<circle cx="657.3" cy="518.2" r="5.2" fill="#f17e80"/>
<circle cx="657.3" cy="512.9" r="5.2" fill="#f17e80"/>
<circle cx="657.3" cy="506.7" r="5.2" fill="#f17e80"/>
<circle cx="657.3" cy="511.1" r="5.2" fill="#f17e80"/>
<circle cx="657.3" cy="514.7" r="5.2" fill="#f17e80"/>
<circle cx="657.3" cy="507.6" r="5.2" fill="#f17e80"/>
<circle cx="657.3" cy="520.8" r="5.2" fill="#f17e80"/>
<line x1="606.5" y1="501.5" x2="631.5" y2="501.5" stroke="#141414" stroke-width="1.15" />
<line x1="644.8" y1="493.5" x2="669.8" y2="493.5" stroke="#141414" stroke-width="1.15" />
<text x="604.7" y="552.8" font-size="10.8" font-weight="normal" text-anchor="start" fill="#0a0a0a" >BOS</text>
<text x="637.2" y="552.8" font-size="10.8" font-weight="normal" text-anchor="start" fill="#0a0a0a" >BOS</text>
<text x="659.7" y="551.9" font-size="10" fill="#f26a36" font-weight="bold">+</text>
<text x="666.1" y="553.4" font-size="11.5" fill="#f26a36" font-weight="bold" class="fm" stroke="#f26a36" stroke-width="0.8">♀</text>
<text x="637.4" y="566.2" font-size="10.8" font-weight="normal" text-anchor="start" fill="#0a0a0a" >Call</text>
<text x="161.2" y="498.9" font-size="15.8" font-weight="bold" text-anchor="start" fill="#161616" >Neuron 2</text>
<text x="1.2" y="511.4" font-size="15.3" font-weight="bold" text-anchor="start" fill="#0a0a0a" >J</text>
<text x="46.4" y="515.4" font-size="15.9" font-weight="normal" text-anchor="start" fill="#161616" >BOS</text>
<clipPath id="cJ1"><rect x="48.4" y="519.4" width="137.8" height="44.3"/></clipPath>
<rect x="48.4" y="519.4" width="137.8" height="44.3" fill="#000" />
<g clip-path="url(#cJ1)"><g filter="url(#b3)" stroke-linecap="round" fill="none">
<path d="M78.6,544.2L84.9,544.9" stroke="#163aa0" stroke-width="0.9" opacity="0.9"/>
<path d="M96.5,546.5L100.5,547.2" stroke="#297cc6" stroke-width="0.8" opacity="0.8"/>
<path d="M106.6,534.1L110.7,535" stroke="#0f2986" stroke-width="0.9" opacity="1"/>
<path d="M102.4,552.9L107.1,553.9" stroke="#15379c" stroke-width="0.8" opacity="1"/>
<path d="M90.9,541.9L93.7,542.5" stroke="#246ec4" stroke-width="1" opacity="0.7"/>
<path d="M99.8,536L106,536.3" stroke="#133396" stroke-width="0.6" opacity="0.9"/>
<path d="M81.8,557.3L85.8,558" stroke="#102b89" stroke-width="0.7" opacity="0.9"/>
<path d="M105.1,543.9L109,544.3" stroke="#2166be" stroke-width="0.7" opacity="0.9"/>
<path d="M85.3,543.2L88.4,543.7" stroke="#2268c0" stroke-width="0.7" opacity="0.8"/>
<path d="M104.6,541.8L108.2,542" stroke="#1f5cb7" stroke-width="0.7" opacity="0.8"/>
<path d="M92.6,553.9L98,554.4" stroke="#15389d" stroke-width="1" opacity="1"/>
<path d="M105.2,546.7L110.5,547.3" stroke="#1f5eb9" stroke-width="1" opacity="0.9"/>
<path d="M90.9,548.3L94.4,548.5" stroke="#1f5db8" stroke-width="0.7" opacity="1"/>
<path d="M79,543L85.1,544.2" stroke="#123091" stroke-width="1" opacity="0.7"/>
<path d="M96.6,534.7L101.7,535.3" stroke="#112e8e" stroke-width="0.6" opacity="0.9"/>
<path d="M95.8,553L99.3,553.3" stroke="#1a4aab" stroke-width="0.9" opacity="0.8"/>
<path d="M87,549.9L91.7,550.5" stroke="#1e58b5" stroke-width="1" opacity="0.9"/>
<path d="M96.3,550.9L99.6,551.2" stroke="#1b4cad" stroke-width="0.9" opacity="0.9"/>
<path d="M79.2,551.4L83,552" stroke="#133395" stroke-width="0.8" opacity="0.9"/>
<path d="M95.3,540.8L99.2,541.4" stroke="#2673c5" stroke-width="0.8" opacity="0.8"/>
<path d="M82.4,541.5L88,542.2" stroke="#173fa3" stroke-width="0.8" opacity="0.9"/>
<path d="M93.9,545.8L97.5,546.5" stroke="#61bfb5" stroke-width="0.8" opacity="0.9"/>
<path d="M96.3,550.1L100.9,550.8" stroke="#1c50af" stroke-width="0.8" opacity="1"/>
<path d="M109.2,553.2L115.1,553.5" stroke="#112e8e" stroke-width="0.9" opacity="0.8"/>
<path d="M84.4,536.5L90,537.2" stroke="#112e8e" stroke-width="0.8" opacity="0.8"/>
<path d="M88.5,544.6L92.4,545.2" stroke="#369bcd" stroke-width="1" opacity="0.8"/>
<path d="M109.2,546.1L113.1,546.8" stroke="#1945a8" stroke-width="0.6" opacity="0.9"/>
<path d="M93.5,550.7L97.3,551.3" stroke="#1f5cb7" stroke-width="0.8" opacity="0.8"/>
<path d="M99,548.8L104.2,549.4" stroke="#205fba" stroke-width="0.7" opacity="0.8"/>
<path d="M110.3,544.9L113.4,545.2" stroke="#14379b" stroke-width="0.8" opacity="0.8"/>
<path d="M81.2,544.3L84.3,544.8" stroke="#133497" stroke-width="0.8" opacity="0.8"/>
<path d="M99.6,534.3L105.9,535.1" stroke="#123192" stroke-width="0.7" opacity="0.9"/>
<path d="M96.7,539.6L100.5,540.3" stroke="#2572c4" stroke-width="0.9" opacity="0.8"/>
<path d="M95.7,550.3L98.9,550.5" stroke="#1e59b5" stroke-width="0.8" opacity="0.8"/>
<path d="M101.8,542.1L105,542.7" stroke="#1a4cac" stroke-width="0.7" opacity="0.9"/>
<path d="M93.7,540.4L99.7,541.6" stroke="#2572c4" stroke-width="0.7" opacity="0.7"/>
<path d="M101.8,534.5L106.9,535.4" stroke="#123293" stroke-width="0.7" opacity="0.8"/>
<path d="M105.8,537.6L110.1,538" stroke="#112f8f" stroke-width="0.8" opacity="1"/>
<path d="M97.8,550.6L100.5,551" stroke="#1b4fae" stroke-width="0.9" opacity="0.8"/>
<path d="M89.3,547.7L93,548.5" stroke="#3caacf" stroke-width="0.9" opacity="0.8"/>
<path d="M96.1,550.7L102.1,551.9" stroke="#1d57b4" stroke-width="0.9" opacity="0.8"/>
<path d="M88.9,546.6L94.3,547.6" stroke="#49b2c6" stroke-width="0.8" opacity="0.8"/>
<path d="M91.3,543L97.3,544.1" stroke="#236cc3" stroke-width="0.8" opacity="0.8"/>
<path d="M103.1,538.5L106.5,539.2" stroke="#1c50af" stroke-width="0.9" opacity="0.8"/>
<path d="M85.2,546.6L91.6,547.4" stroke="#2f8bc9" stroke-width="0.7" opacity="0.7"/>
<path d="M89.7,546.6L93.2,546.8" stroke="#1f5eb9" stroke-width="0.8" opacity="0.7"/>
<path d="M91.9,553.5L95.4,553.8" stroke="#1945a8" stroke-width="0.7" opacity="0.9"/>
<path d="M95,544.2L99.7,544.9" stroke="#6ac5ae" stroke-width="0.9" opacity="0.8"/>
<path d="M80.2,537.1L86.5,538.3" stroke="#102c8b" stroke-width="0.7" opacity="0.8"/>
<path d="M87.9,554.1L92.4,555.1" stroke="#123193" stroke-width="0.9" opacity="0.7"/>
<path d="M90.2,545.3L94.2,545.9" stroke="#56b9bc" stroke-width="0.6" opacity="0.8"/>
<path d="M106.3,551.9L109.4,552.2" stroke="#1845a7" stroke-width="0.6" opacity="1"/>
<path d="M97.8,547.4L102.2,547.8" stroke="#3aa6cf" stroke-width="0.7" opacity="0.8"/>
<path d="M99.4,546.1L101.9,546.4" stroke="#59babb" stroke-width="0.8" opacity="0.8"/>
<path d="M80,548.3L86,548.7" stroke="#163da2" stroke-width="0.7" opacity="1"/>
<path d="M92.6,537.9L97.8,538.8" stroke="#163aa0" stroke-width="0.7" opacity="0.7"/>
<path d="M105.6,556.8L110.4,557.2" stroke="#102b8a" stroke-width="0.8" opacity="0.7"/>
<path d="M98.9,540.6L101.7,541" stroke="#2061bb" stroke-width="0.9" opacity="0.8"/>
<path d="M95.7,552.7L99.8,553" stroke="#2165be" stroke-width="0.9" opacity="0.9"/>
<path d="M88.9,540.3L94.6,540.8" stroke="#1945a8" stroke-width="0.7" opacity="0.9"/>
<path d="M96.5,551.5L102.2,552.4" stroke="#1b4eae" stroke-width="0.6" opacity="0.7"/>
<path d="M100.6,546.9L106,547.9" stroke="#236dc3" stroke-width="0.6" opacity="0.9"/>
<path d="M95.9,545.1L100.9,546.2" stroke="#2e88c9" stroke-width="0.8" opacity="0.9"/>
<path d="M91.5,542.5L97.2,543.3" stroke="#359acc" stroke-width="0.8" opacity="0.9"/>
<path d="M96.9,546.6L100,547" stroke="#50b5c1" stroke-width="1" opacity="0.7"/>
<ellipse cx="66" cy="539.6" rx="2.3" ry="2.0" fill="#246ec4" stroke="none"/>
<ellipse cx="66.6" cy="540" rx="1.3" ry="0.9" fill="#d9c538" stroke="none"/>
<path d="M74.8,537L80.5,539.2" stroke="#1f5cb8" stroke-width="2.5" opacity="0.75"/>
<path d="M74.8,537L80.5,539.2" stroke="#6bc6ad" stroke-width="1.2"/>
<path d="M76.2,537.5L79.4,538.8" stroke="#efae27" stroke-width="1.7"/>
<path d="M76.9,537.8L78.7,538.5" stroke="#e44817" stroke-width="1.2"/>
<path d="M77,527.5L79.5,527.6" stroke="#143598" stroke-width="1.7" opacity="0.75"/>
<path d="M77,527.5L79.5,527.6" stroke="#379ecd" stroke-width="0.7"/>
<path d="M90,528.4L92.5,528.6" stroke="#0a1d73" stroke-width="1.7" opacity="0.75"/>
<path d="M90,528.4L92.5,528.6" stroke="#1d54b2" stroke-width="0.7"/>
<path d="M89.6,533.3L105.4,534.2" stroke="#163aa0" stroke-width="2.1" opacity="0.75"/>
<path d="M89.6,533.2L93.5,533.5" stroke="#308cca" stroke-width="1"/>
<path d="M93.5,533.6L97.5,533.9" stroke="#41adcc" stroke-width="1.2"/>
<path d="M97.5,533.7L101.5,533.9" stroke="#38a1ce" stroke-width="1.3"/>
<path d="M101.5,534.1L105.4,534.3" stroke="#2f8ac9" stroke-width="1.2"/>
<path d="M92.8,533.5L98.3,533.8" stroke="#5fbeb6" stroke-width="1.2"/>
<path d="M93.9,533.5L97.2,533.7" stroke="#b8d559" stroke-width="0.9"/>
<path d="M82,536.8L97,538" stroke="#143598" stroke-width="2" opacity="0.75"/>
<path d="M82,536.8L85.8,537.1" stroke="#236cc2" stroke-width="0.8"/>
<path d="M85.8,537.1L89.5,537.4" stroke="#2c83c8" stroke-width="0.9"/>
<path d="M89.5,537.5L93.2,537.8" stroke="#2a7dc7" stroke-width="1"/>
<path d="M93.2,537.7L97,538" stroke="#2165be" stroke-width="1.1"/>
<path d="M87.2,537.2L94,537.8" stroke="#5fbeb6" stroke-width="1.1"/>
<path d="M88.6,537.3L92.7,537.7" stroke="#b8d559" stroke-width="0.8"/>
<path d="M100,537L109,538.8" stroke="#0f2985" stroke-width="1.9" opacity="0.75"/>
<path d="M100,536.9L104.5,537.8" stroke="#1f5cb7" stroke-width="0.9"/>
<path d="M104.5,537.8L109,538.7" stroke="#1c52b0" stroke-width="0.8"/>
<path d="M84,540.2L100,542.2" stroke="#143598" stroke-width="2" opacity="0.75"/>
<path d="M84,540L87.2,540.4" stroke="#2e88c9" stroke-width="0.9"/>
<path d="M87.2,540.5L90.4,540.9" stroke="#2674c5" stroke-width="1.1"/>
<path d="M90.4,541L93.6,541.4" stroke="#39a3ce" stroke-width="0.8"/>
<path d="M93.6,541.6L96.8,542" stroke="#2267bf" stroke-width="1.1"/>
<path d="M96.8,541.9L100,542.3" stroke="#308eca" stroke-width="0.9"/>
<path d="M88.8,540.8L93.6,541.4" stroke="#48b1c7" stroke-width="1.1"/>
<path d="M89.8,540.9L92.6,541.3" stroke="#98d17e" stroke-width="0.8"/>
<path d="M101,540.6L112,543.2" stroke="#123091" stroke-width="1.9" opacity="0.75"/>
<path d="M101,540.6L104.7,541.5" stroke="#3394cb" stroke-width="1"/>
<path d="M104.7,541.2L108.3,542.1" stroke="#2163bc" stroke-width="0.9"/>
<path d="M108.3,542.2L112,543.1" stroke="#3394cb" stroke-width="0.8"/>
<path d="M105.4,541.6L108.7,542.4" stroke="#5fbeb6" stroke-width="1"/>
<path d="M106.1,541.8L108,542.3" stroke="#b8d559" stroke-width="0.7"/>
<path d="M81.5,545.2L98.5,546.6" stroke="#2165be" stroke-width="2.2" opacity="0.75"/>
<path d="M81.5,545L84.9,545.2" stroke="#9ed277" stroke-width="1"/>
<path d="M84.9,545.4L88.3,545.7" stroke="#93d084" stroke-width="1.3"/>
<path d="M88.3,545.9L91.7,546.2" stroke="#add465" stroke-width="1.1"/>
<path d="M91.7,545.9L95.1,546.2" stroke="#6dc6ac" stroke-width="1.3"/>
<path d="M95.1,546.4L98.5,546.7" stroke="#82ce99" stroke-width="1.3"/>
<path d="M86.6,545.6L97.7,546.5" stroke="#f4aa24" stroke-width="1.3"/>
<path d="M88.8,545.8L95.4,546.3" stroke="#e04116" stroke-width="1"/>
<path d="M99,545.5L114,548.2" stroke="#143598" stroke-width="2" opacity="0.75"/>
<path d="M99,545.4L102.8,546" stroke="#379fcd" stroke-width="0.9"/>
<path d="M102.8,546.4L106.5,547" stroke="#2c83c8" stroke-width="1"/>
<path d="M106.5,546.9L110.2,547.6" stroke="#40accc" stroke-width="1.1"/>
<path d="M110.2,547.6L114,548.3" stroke="#2470c4" stroke-width="1.1"/>
<path d="M102,546L108,547.1" stroke="#6bc6ad" stroke-width="1.1"/>
<path d="M103.2,546.3L106.8,546.9" stroke="#c8d846" stroke-width="0.8"/>
<path d="M85,548.6L104,550.6" stroke="#143598" stroke-width="2" opacity="0.75"/>
<path d="M85,548.4L88.8,548.8" stroke="#43aeca" stroke-width="0.9"/>
<path d="M88.8,548.8L92.6,549.2" stroke="#2e89c9" stroke-width="0.8"/>
<path d="M92.6,549.3L96.4,549.7" stroke="#5cbcb8" stroke-width="1.1"/>
<path d="M96.4,549.7L100.2,550.1" stroke="#3497cc" stroke-width="1"/>
<path d="M100.2,550.1L104,550.5" stroke="#2570c4" stroke-width="1"/>
<path d="M94.5,549.6L102.1,550.4" stroke="#5fbeb6" stroke-width="1.1"/>
<path d="M96,549.8L100.6,550.2" stroke="#b8d559" stroke-width="0.8"/>
<path d="M104,549.5L115,552" stroke="#0f2985" stroke-width="1.9" opacity="0.75"/>
<path d="M104,549.7L107.7,550.5" stroke="#3dabce" stroke-width="0.9"/>
<path d="M107.7,550.5L111.3,551.3" stroke="#2571c4" stroke-width="1"/>
<path d="M111.3,551.3L115,552.2" stroke="#3aa5cf" stroke-width="0.8"/>
<path d="M88,551.2L107,553" stroke="#1d54b2" stroke-width="2.1" opacity="0.75"/>
<path d="M88,551.2L91.8,551.6" stroke="#3599cc" stroke-width="1.1"/>
<path d="M91.8,551.5L95.6,551.9" stroke="#63c1b3" stroke-width="1.1"/>
<path d="M95.6,551.8L99.4,552.2" stroke="#38a1ce" stroke-width="1"/>
<path d="M99.4,552.4L103.2,552.8" stroke="#41adcb" stroke-width="1.3"/>
<path d="M103.2,552.8L107,553.2" stroke="#40accc" stroke-width="1.1"/>
<path d="M90.8,551.5L98.5,552.2" stroke="#c8d846" stroke-width="1.2"/>
<path d="M92.4,551.6L96.9,552" stroke="#f19821" stroke-width="0.9"/>
<path d="M74.9,548.5L90.7,554.8" stroke="#143598" stroke-width="2.1" opacity="0.75"/>
<path d="M74.9,548.6L78.1,549.9" stroke="#2166be" stroke-width="1.2"/>
<path d="M78.1,549.7L81.2,551" stroke="#3caacf" stroke-width="0.9"/>
<path d="M81.2,551.1L84.4,552.4" stroke="#2269c1" stroke-width="1"/>
<path d="M84.4,552.3L87.5,553.6" stroke="#3aa6cf" stroke-width="1"/>
<path d="M87.5,553.4L90.7,554.7" stroke="#2e89c9" stroke-width="1"/>
<path d="M85.2,552.6L90.7,554.8" stroke="#b8d559" stroke-width="1.2"/>
<path d="M86.3,553L89.6,554.4" stroke="#f4aa24" stroke-width="0.9"/>
<path d="M84,554.4L108,556.3" stroke="#1947a9" stroke-width="2" opacity="0.75"/>
<path d="M84,554.3L87.4,554.5" stroke="#359acc" stroke-width="1"/>
<path d="M87.4,554.8L90.9,555.1" stroke="#6ac5ae" stroke-width="0.9"/>
<path d="M90.9,555.2L94.3,555.4" stroke="#3aa5cf" stroke-width="1.1"/>
<path d="M94.3,555.4L97.7,555.6" stroke="#63c0b3" stroke-width="1.1"/>
<path d="M97.7,555.5L101.1,555.8" stroke="#71c9a9" stroke-width="0.9"/>
<path d="M101.1,555.8L104.6,556" stroke="#4fb5c2" stroke-width="1"/>
<path d="M104.6,555.8L108,556.1" stroke="#369bcd" stroke-width="1"/>
<path d="M86.4,554.6L94.8,555.3" stroke="#b8d559" stroke-width="1.1"/>
<path d="M88.1,554.7L93.1,555.1" stroke="#f4aa24" stroke-width="0.8"/>
<path d="M100,553.8L113,555.4" stroke="#143598" stroke-width="1.9" opacity="0.75"/>
<path d="M100,553.7L103.2,554.1" stroke="#3faccd" stroke-width="1"/>
<path d="M103.2,554.2L106.5,554.6" stroke="#2470c4" stroke-width="0.9"/>
<path d="M106.5,554.8L109.8,555.2" stroke="#2c83c8" stroke-width="0.7"/>
<path d="M109.8,555.1L113,555.5" stroke="#2f89c9" stroke-width="0.8"/>
<path d="M102.6,554.1L107.8,554.8" stroke="#5fbeb6" stroke-width="1"/>
<path d="M103.6,554.2L106.8,554.6" stroke="#b8d559" stroke-width="0.7"/>
<path d="M76.5,560.4L80.5,560.9" stroke="#1947a9" stroke-width="1.8" opacity="0.75"/>
<path d="M76.5,560.4L80.5,560.9" stroke="#4eb4c3" stroke-width="0.8"/>
<path d="M77.7,560.5L79.7,560.8" stroke="#5fbeb6" stroke-width="0.9"/>
<path d="M78.1,560.6L79.3,560.8" stroke="#b8d559" stroke-width="0.6"/>
<path d="M100.5,559.8L104,560.3" stroke="#0a1d73" stroke-width="1.8" opacity="0.75"/>
<path d="M100.5,559.8L104,560.3" stroke="#1d54b2" stroke-width="0.9"/>
<path d="M106,561.3L109,561.6" stroke="#0a1d73" stroke-width="1.7" opacity="0.75"/>
<path d="M106,561.3L109,561.6" stroke="#163aa0" stroke-width="0.7"/>
<path d="M68.5,552.5L69.5,553" stroke="#0a1d73" stroke-width="1.9" opacity="0.75"/>
<path d="M68.5,552.5L69.5,553" stroke="#163aa0" stroke-width="0.8"/>
<path d="M106.8,521.6L108.6,523.2" stroke="#0a1d73" stroke-width="1.8" opacity="0.75"/>
<path d="M106.8,521.6L108.6,523.2" stroke="#1d54b2" stroke-width="0.6"/>
<path d="M92,543.5L96,544" stroke="#0f2985" stroke-width="1.8" opacity="0.75"/>
<path d="M92,543.5L96,544" stroke="#2b80c7" stroke-width="0.8"/>
<path d="M141,537.5L146.8,541.1" stroke="#163aa0" stroke-width="2.3" opacity="0.75"/>
<path d="M141,537.4L143.9,539.2" stroke="#68c3b0" stroke-width="1.4"/>
<path d="M143.9,539.5L146.8,541.3" stroke="#62c0b4" stroke-width="1.2"/>
<path d="M142.7,538.6L145.1,540" stroke="#3292cb" stroke-width="1.4"/>
<path d="M143.2,538.9L144.6,539.7" stroke="#6bc6ad" stroke-width="1"/>
<path d="M138.3,541L139.8,541.3" stroke="#0a1d73" stroke-width="1.8" opacity="0.75"/>
<path d="M138.3,541L139.8,541.3" stroke="#1a4bac" stroke-width="0.8"/>
<path d="M142.6,544.3L147.3,546.9" stroke="#143598" stroke-width="2.1" opacity="0.75"/>
<path d="M142.6,544.3L147.3,546.9" stroke="#379ecd" stroke-width="1.1"/>
<path d="M149,548.2L151,548.8" stroke="#0a1d73" stroke-width="1.8" opacity="0.75"/>
<path d="M149,548.2L151,548.8" stroke="#1a4bac" stroke-width="0.8"/>
<path d="M140,548L150.5,553.8" stroke="#1947a9" stroke-width="2.4" opacity="0.75"/>
<path d="M140,548L143.5,550" stroke="#3497cc" stroke-width="1.2"/>
<path d="M143.5,549.7L147,551.6" stroke="#5cbcb8" stroke-width="1.2"/>
<path d="M147,552L150.5,554" stroke="#58babb" stroke-width="1.3"/>
<path d="M143.2,549.7L147.9,552.3" stroke="#88cf91" stroke-width="1.5"/>
<path d="M144.1,550.3L146.9,551.8" stroke="#d9c538" stroke-width="1.1"/>
<path d="M137.5,553.4L140.5,553.6" stroke="#0a1d73" stroke-width="1.7" opacity="0.75"/>
<path d="M137.5,553.4L140.5,553.6" stroke="#1a4bac" stroke-width="0.8"/>
<path d="M140.5,559.5L143,560.6" stroke="#0a1d73" stroke-width="1.7" opacity="0.75"/>
<path d="M140.5,559.5L143,560.6" stroke="#163aa0" stroke-width="0.6"/>
<path d="M150,552.8L151.2,554.5" stroke="#0a1d73" stroke-width="1.8" opacity="0.75"/>
<path d="M150,552.8L151.2,554.5" stroke="#1a4bac" stroke-width="0.7"/>
<path d="M164.6,536.8L165.8,538.2" stroke="#0a1d73" stroke-width="2" opacity="0.75"/>
<path d="M164.6,536.8L165.8,538.2" stroke="#1a4bac" stroke-width="1.1"/>
<path d="M164.8,540L166.8,541.2" stroke="#1d54b2" stroke-width="2.7" opacity="0.75"/>
<path d="M164.8,540L166.8,541.2" stroke="#5fbeb6" stroke-width="1.6"/>
<path d="M165.2,540.2L166.4,541" stroke="#54b8be" stroke-width="1.9"/>
<path d="M165.4,540.4L166.2,540.8" stroke="#a8d36b" stroke-width="1.4"/>
<path d="M164.4,543.6L166.2,545" stroke="#163aa0" stroke-width="2.7" opacity="0.75"/>
<path d="M164.4,543.6L166.2,545" stroke="#3caad0" stroke-width="1.9"/>
<path d="M166.3,547.4L172.6,549" stroke="#1a4bac" stroke-width="2.2" opacity="0.75"/>
<path d="M166.3,547.4L169.4,548.2" stroke="#2d86c8" stroke-width="1.4"/>
<path d="M169.4,548.4L172.6,549.2" stroke="#48b1c6" stroke-width="1.3"/>
<path d="M166.9,547.6L170.7,548.5" stroke="#78cda5" stroke-width="1.3"/>
<path d="M167.7,547.8L170,548.3" stroke="#d0ce3f" stroke-width="1"/>
<path d="M169.8,545.6L171.2,546.2" stroke="#0a1d73" stroke-width="2" opacity="0.75"/>
<path d="M169.8,545.6L171.2,546.2" stroke="#1d54b2" stroke-width="1"/>
<path d="M170.5,550.6L172.5,551.6" stroke="#0a1d73" stroke-width="2.2" opacity="0.75"/>
<path d="M170.5,550.6L172.5,551.6" stroke="#1d54b2" stroke-width="1"/>
<path d="M178.2,547.8L179.8,548.2" stroke="#0a1d73" stroke-width="1.9" opacity="0.75"/>
<path d="M178.2,547.8L179.8,548.2" stroke="#1a4bac" stroke-width="1"/>
<path d="M177.6,551.2L179.2,552" stroke="#0a1d73" stroke-width="1.9" opacity="0.75"/>
<path d="M177.6,551.2L179.2,552" stroke="#1a4bac" stroke-width="0.9"/>
<path d="M176.8,554.3L182,555.7" stroke="#143598" stroke-width="2.1" opacity="0.75"/>
<path d="M176.8,554.3L182,555.7" stroke="#379ecd" stroke-width="1.1"/>
<path d="M178.9,554.9L181.5,555.6" stroke="#54b8be" stroke-width="1.2"/>
<path d="M179.4,555L181,555.4" stroke="#a8d36b" stroke-width="0.9"/>
<path d="M181.4,550.2L182.6,551" stroke="#0a1d73" stroke-width="1.9" opacity="0.75"/>
<path d="M181.4,550.2L182.6,551" stroke="#1842a6" stroke-width="0.7"/>
<path d="M184.8,536.5L186,536.9" stroke="#0a1d73" stroke-width="1.9" opacity="0.75"/>
<path d="M184.8,536.5L186,536.9" stroke="#1d54b2" stroke-width="0.8"/>
<path d="M185.2,550.6L186.2,551.6" stroke="#0a1d73" stroke-width="2.1" opacity="0.75"/>
<path d="M185.2,550.6L186.2,551.6" stroke="#1f5cb8" stroke-width="1"/>
</g></g>
<path d="M97.6,519.4V525.4M97.6,536.2V547.6M97.6,558.2V569.6M97.6,580.2V591.6M97.6,602.2V613.6M97.6,624.2V635.6M97.6,646.2V657.6M97.6,668.2V679.6M97.6,690.2V701.6M97.6,712.2V719.3M131.4,519.4V525.4M131.4,536.2V547.6M131.4,558.2V569.6M131.4,580.2V591.6M131.4,602.2V613.6M131.4,624.2V635.6M131.4,646.2V657.6M131.4,668.2V679.6M131.4,690.2V701.6M131.4,712.2V719.3M97.6,519.4H103.2M108.4,519.4H119.6M125.8,519.4H131.4M97.6,719.3H103.2M108.4,719.3H119.6M125.8,719.3H131.4" fill="none" stroke="#f4777a" stroke-width="1.25"/>
<line x1="49.1" y1="567.5" x2="49.1" y2="596" stroke="#111" stroke-width="1.2" />
<text x="50.3" y="576.3" font-size="10.8" font-weight="normal" text-anchor="start" fill="#0a0a0a" >20 mV</text>
<text x="185.6" y="578" font-size="10.8" font-weight="normal" text-anchor="end" fill="#0a0a0a" >100 ms</text>
<line x1="165.6" y1="565.5" x2="186" y2="565.5" stroke="#444" stroke-width="1.5" />
<path d="M49.1,597l.5-.3 .6-2.8 .6-1 .5-.9 .6,.2 .5-.3 .6-.1 .5,0 .6,1.1 .5-1.3 .6,.4 .5-.4 .5-.3 .6,0 .6-.5 .5,1 .6-.9 .5-.2 .6,.3 .5,.3 .6-.1 .5,0 .6-.2 .5-.4 .6-.4 .5-.4 .6,.9 .5,0 .5-1 .6,.7 .6,.4 .5-.4 .5,.4 .6-.1 .5-1.1 .6-.3 .6,0 .5,1 .6-.1 .5-.1 .6-.1 .5-.4 .6-.5 .5-.3 .6-.7 .5-.3 .6,.2 .5,.1 .6-1.1 .5-.8 .6,2.2 .5-1 .5-.6 .6,.6 .6-1.9 .5,.7 .6-.8 .5,.1 .6,.3 .5-.8 .6-.5 .5,.9 .6-.1 .5,.4 .5-.2 .6,.2 .6-.4 .5,1.8 .6-1 .5,1.4 .6-.1 .5,.3 .5,.5 .6-.6 .5,.4 .6,.7 .6-.3 .5-.1 .6-1.4 .5-2.1 .6,.3 .5-.5 .6-.3 .5-1.8 .6-.5 .5-.2 .6,1.8 .5,0 .6-.4 .5,1.4 .6,.4 .5,.9 .5-.7 .6-1.1 .6-1.4 .5-1.8 .6-.6 .5-1.5 .6,.2 .5,.3 .6,2 .5,.9 .6,.3 .5,1.7 .6,4.3 .5,4.2 .6,3.5 .5-.2 .6,1.1 .5,.2 .6,1.4 .5,0 .5-.3 .6,.2 .6,.7 .5-1.1 .6-1 .5-.2 .6-.6 .5-.5 .6,.6 .5-1.3 .6-1.8 .5-2.3 .5,1.2 .6-1.1 .6,.3 .5,.6 .6,.5 .5,1.8 .6,.1 .5,.3 .5-.6 .6,.6 .5-.4 .6-1.4 .6-1 .5-.3 .6-2.3 .5,.8 .6-.6 .5,.5 .6-.3 .5-.6 .5-1.2 .6,.4 .6-.4 .5-.5 .6-.4 .5,1 .6,1.5 .5,.8 .5,.9 .6-.3 .5-.5 .6,0 .6,.7 .5-1.7 .6-.1 .5-.2 .6,.7 .5-.8 .6-.3 .5-.4 .6,.3 .5,.4 .6,.9 .5-.1 .6,.6 .5-.6 .6,.7 .5-.5 .5,.9 .6-1 .6,.3 .5-.3 .6,.4 .5,.2 .6,.6 .5-.6 .6,0 .5-2.4 .6,1.5 .5-.7 .6,1.4 .5-.2 .6-.5 .5,1.1 .6,.2 .5,.7 .6,.8 .5,.4 .5,1 .6-.8 .6,.9 .5-.4 .6-1.2 .5,.8 .6,.5 .5-1.5 .6,1.1 .5-1.2 .6-.6 .5,.3 .6-1.6 .5-.2 .6-.1 .5-.3 .6,.9 .5-.7 .6,.5 .5,0 .5,.1 .6-.2 .6,.1 .5-.3 .6,1.4 .5-.1 .6,.1 .5,.5 .6-.4 .5,.4 .6-1.1 .5,.2 .6-2.6 .5-1.1 .6,.6 .5,0 .6-1.1 .5-.4 .6-.4 .5,0 .5-.5 .6,.1 .5,.6 .6,.8 .6-.2 .5,.4 .6,0 .5,.4 .6-.6 .5,.5 .6-.5 .5,.2 .5,1.4 .6-.2 .6,.5 .5,1.4" fill="none" stroke="#050505" stroke-width="1.65" stroke-linejoin="round" />
<text x="49.8" y="608" font-size="10.8" font-weight="normal" text-anchor="start" fill="#0a0a0a" >50 mV</text>
<line x1="44.4" y1="607.7" x2="44.4" y2="618.2" stroke="#222" stroke-width="1.2" />
<path d="M48.5,613.7l.9,.2 .9-.4 .9,.2 .9,.3 .9,.1 .9,0 .9-.1 .9-.9 .9,.3 .9,.5 .9,.3 .9,0 .9,0 .9-.1 .9-.3 .9,.2 .9,.7 .9-.5 .9-.3 .9,.6 .9-.3 .9-.1 .9-.1 .9-.6 .9,1.1 .9,0 .9-.4 .9-.4 .9,.2 .9-.2 .9,.2 .9,.1 .9,0 .9,0 .9,.1 .9-.2 .9,.4 .9,.2 .9-.5 .9-.2 .9-.1 .9-.3 .9,.5 .9,.2 .9-.1 .9,.3 .9,0 .9-.9 .9,.4 .9,.2 .9,.2 .9-.3 .9-.4 .9,0 .9,.1 .9-.1 .9-.2 .9,.6 .9-.4 .9,.4 .9-.2 .9-.1 .9-.4 .9,.6 .9-.5 .9,.4 .9-.1 .9,.3 .9,.3 .9-.1 .9,.4 .9,0 .9,.4 .9,.4 .9-.3 .9-.1 .9-.2 .9-.8 .9,0 .9-.1 .9,.5 .9,.3 .9-.7 .9-.2 .9,.5 .9-.2 .9,.5 .9-.8 .9,.6 .9-.4 .9-.3 .9,.6 .9,.2 .9-.2 .9-.1 .9,0 .9-.1 .9-.2 .9-.3 .9,.5 .9,.2 .9,.2 .9-.3 .9,.3 .9-.7 .9,0 .9-.5 .9,.4 .9,.1 .9,.2 .9-.1 .9,.1 .9,.1 .9,.1 .9,.2 .9,.1 .9-.4 .9,.1 .9,.5 .9-.4 .9,.1 .9-.2 .9,.1 .9-.3 .9,.2 .9,.4 .9-.2 .9-.5 .9,0 .9-.2 .9,.3 .9,.2 .9,.1 .9,.1 .9-.2 .9,0 .9-.1 .9-.2 .9-.1 .9,.3 .9,.2 .9-.5 .9,.4 .9,.3 .9-.6 .9,.3 .9,.1 .9,.3 .9-.1 .9-.1 .9,0 .9,.1" fill="none" stroke="#050505" stroke-width="1.4" stroke-linejoin="round" />
<path d="M48.5,616.6l.9-.1 .9-.2 .9,.1 .9,0 .9-.2 .9,.1 .9-.1 .9,.2 .9,.4 .9,.2 .9-.7 .9,.4 .9,.2 .9-.4 .9,.4 .9-.3 .9,.1 .9-.5 .9,.3 .9,.4 .9,.1 .9-.2 .9-.3 .9,.1 .9,.2 .9,0 .9,.3 .9-.4 .9-.6 .9,.5 .9,.1 .9,.5 .9-.4 .9,0 .9-.2 .9-.2 .9,.2 .9-.3 .9-.2 .9,.3 .9,.1 .9,0 .9,0 .9,.6 .9-.4 .9,0 .9-.4 .9,.2 .9,0 .9-.2 .9,.6 .9-.2 .9-.3 .9-.3 .9,.7 .9-.6 .9,.8 .9-.1 .9,0 .9-.3 .9,.4 .9-.3 .9,0 .9,.5 .9,0 .9,.1 .9,.7 .9-.2 .9-.1 .9-.4 .9-.1 .9,0 .9-.3 .9,.2 .9-.2 .9-.3 .9-.2 .9-.7 .9-.9 .9-.1 .9-.7 .9-.5 .9,.5 .9,1 .9,.7 .9,.3 .9,.4 .9-.4 .9,.5 .9-.3 .9,.5 .9-.2 .9,.1 .9-.5 .9,.1 .9,.1 .9-.1 .9-.3 .9,.6 .9-.4 .9,.6 .9-.1 .9-.2 .9-.2 .9,.1 .9,0 .9,.2 .9-.1 .9-.1 .9,.2 .9,0 .9-.3 .9,.1 .9,.3 .9-.1 .9,.4 .9,0 .9-.4 .9-.3 .9,.6 .9-.2 .9-.7 .9,1 .9-.1 .9-.2 .9,.3 .9,.1 .9,.3 .9-.5 .9,.3 .9-.7 .9,.1 .9-.5 .9,.1 .9,.3 .9-.2 .9,.1 .9-.3 .9,.2 .9-.2 .9-.1 .9,.2 .9,.3 .9,.4 .9-.3 .9-.2 .9,.4 .9,0 .9-.4 .9,.1 .9,.3 .9-.1" fill="none" stroke="#050505" stroke-width="1.4" stroke-linejoin="round" />
<path d="M48.5,620.5l.9,.1 .9,0 .9-.3 .9,.1 .9-.2 .9,.2 .9,.1 .9-.1 .9-.5 .9,.3 .9,.3 .9,0 .9-.4 .9-.2 .9,.1 .9-.5 .9,.8 .9,.1 .9-.1 .9-.2 .9,.1 .9-.1 .9,.7 .9,.1 .9-.3 .9,.1 .9-.1 .9-.4 .9-.3 .9-.2 .9,0 .9,.2 .9,0 .9,.2 .9-.5 .9,.4 .9,.3 .9-.3 .9,.3 .9-.3 .9,.1 .9,.2 .9-.2 .9,0 .9-.1 .9,.2 .9-.1 .9,.6 .9,.4 .9-.2 .9-.4 .9-.2 .9,.2 .9-.4 .9,0 .9-.4 .9,.6 .9,0 .9,0 .9-.5 .9,.4 .9,0 .9-.6 .9,0 .9,.1 .9,.1 .9-.3 .9,.3 .9,.1 .9,.1 .9,.2 .9,.1 .9,.3 .9,.3 .9,.4 .9,.7 .9-.3 .9-.3 .9,0 .9-.4 .9-.7 .9-.8 .9-.1 .9,0 .9,.5 .9,.6 .9,0 .9-.6 .9,.2 .9,0 .9-.3 .9,.2 .9-.1 .9,0 .9,.1 .9-.2 .9,.6 .9,0 .9-.2 .9,0 .9,.1 .9-.1 .9-.2 .9,.1 .9,.2 .9,0 .9,.1 .9-.4 .9-.3 .9,.6 .9-.1 .9-.2 .9-.5 .9,.3 .9,0 .9,.4 .9,.2 .9,.6 .9-1 .9,0 .9-.3 .9,.4 .9-.2 .9,0 .9,.4 .9-.4 .9,.4 .9-.2 .9-.2 .9,.4 .9-.1 .9,.1 .9-.1 .9-.2 .9,.3 .9-.1 .9,.3 .9-.6 .9,.2 .9,.3 .9-.1 .9-.4 .9,.2 .9,.2 .9,0 .9-.2 .9-.1 .9,.1 .9,.1 .9,.4 .9-.3 .9,.1" fill="none" stroke="#050505" stroke-width="1.4" stroke-linejoin="round" />
<path d="M48.5,624.6l.9,0 .9-.3 .9,0 .9,.2 .9,.2 .9-.2 .9-.3 .9-.1 .9,.3 .9,.3 .9,.3 .9-.4 .9-.1 .9-.2 .9,0 .9,.1 .9-.3 .9,.3 .9,.2 .9-.2 .9,0 .9,.1 .9-.4 .9-.1 .9,.2 .9-.3 .9-.2 .9,0 .9,.8 .9-.1 .9,0 .9-.1 .9-.1 .9,.1 .9-.7 .9,.2 .9-.2 .9,.2 .9,.3 .9,.2 .9,.3 .9-.2 .9-.3 .9-.3 .9-.3 .9,.1 .9,.4 .9,.9 .9-.8 .9,.1 .9,.3 .9-.4 .9,.3 .9-.3 .9,.3 .9,.1 .9-.1 .9,.4 .9,.8 .9-.3 .9-.2 .9-.5 .9,.4 .9-.1 .9-.2 .9,0 .9-.5 .9,.1 .9,.2 .9-.3 .9,.2 .9,0 .9,.4 .9-.4 .9,.1 .9-.1 .9,.5 .9-.3 .9,0 .9,0 .9-.7 .9,.3 .9,.3 .9,0 .9,.1 .9-.6 .9,.1 .9,0 .9,.1 .9,.1 .9,.2 .9-.1 .9,.1 .9-.4 .9-.1 .9,.4 .9-.2 .9-.3 .9,.4 .9,.4 .9-.5 .9,0 .9,.2 .9-.4 .9,.2 .9,.5 .9,.1 .9-.3 .9-.2 .9,.2 .9,.4 .9-.7 .9,.3 .9-.4 .9,.1 .9-.6 .9,.3 .9,0 .9,.5 .9-.1 .9-.2 .9,.2 .9,.5 .9-.5 .9,.5 .9,0 .9,0 .9-.2 .9,.1 .9-.1 .9,.5 .9-.5 .9-.2 .9,0 .9-.1 .9,.5 .9-.1 .9,.1 .9-.3 .9,.1 .9-.1 .9-.7 .9,.5 .9-.1 .9,0 .9,.5 .9-.6 .9,0 .9,.6 .9-.2 .9,.3 .9-.5" fill="none" stroke="#050505" stroke-width="1.4" stroke-linejoin="round" />
<path d="M48.5,628.2l.9-.6 .9,.6 .9,.2 .9,.3 .9-.3 .9,.3 .9-.3 .9,.3 .9-.3 .9,.1 .9-.2 .9,.5 .9-.5 .9,0 .9,.1 .9,.4 .9,.1 .9-.2 .9,.1 .9-.4 .9,.4 .9,.7 .9-.5 .9-.5 .9,.3 .9-.7 .9,.3 .9-.8 .9,.8 .9-.2 .9,.7 .9,0 .9,.2 .9,.1 .9-.1 .9-.3 .9-.2 .9,.1 .9-.2 .9,.4 .9-.6 .9,.2 .9-.4 .9,.7 .9-.1 .9-.7 .9,.2 .9,.2 .9,.6 .9-.6 .9,.4 .9-.1 .9-.7 .9,.2 .9,.1 .9,.3 .9,.2 .9,.2 .9,.1 .9,.2 .9,.7 .9,.8 .9-.4 .9,0 .9-.7 .9-.1 .9-.1 .9-.2 .9-.5 .9-.4 .9-.2 .9,.2 .9-.4 .9,.6 .9,0 .9-.3 .9-.1 .9,.6 .9-.1 .9,.7 .9-.4 .9-.5 .9,.6 .9-.9 .9,.7 .9-.3 .9,.2 .9,.2 .9-.9 .9,.2 .9-.2 .9,.1 .9-.1 .9,.3 .9-.3 .9,.1 .9,.2 .9,.5 .9-.4 .9-.5 .9,0 .9-.5 .9,.6 .9-.1 .9-.4 .9,.3 .9,.6 .9-.1 .9-.3 .9,.1 .9,.2 .9,.3 .9,.1 .9-.3 .9-.1 .9,.2 .9-.5 .9,.1 .9-.2 .9,.5 .9,.2 .9,0 .9,0 .9-.2 .9-.4 .9,.6 .9,0 .9,.1 .9-.1 .9-.3 .9,.4 .9-.1 .9,.3 .9-.6 .9,.2 .9-.1 .9,0 .9,.1 .9,0 .9-.3 .9,.7 .9,.3 .9,.2 .9-1.2 .9,.5 .9,0 .9,.4 .9-.4 .9,.2 .9-.3 .9,0 .9,.1" fill="none" stroke="#050505" stroke-width="1.4" stroke-linejoin="round" />
<path d="M48.5,632.5l.9,.1 .9,.5 .9-.3 .9,0 .9-.6 .9,.7 .9-.4 .9,.1 .9,0 .9-.2 .9-.3 .9,.5 .9,.5 .9-.6 .9,.1 .9-.2 .9-.4 .9,.4 .9,.1 .9,.2 .9,0 .9,.3 .9-.7 .9,.4 .9-.5 .9,.5 .9,0 .9,.5 .9-.4 .9-.2 .9-.2 .9,.5 .9,.1 .9,.3 .9-.1 .9,0 .9-.3 .9,.4 .9-.6 .9,.3 .9,.1 .9-.4 .9-.1 .9-.3 .9,.5 .9-.1 .9-.2 .9,.1 .9-.1 .9,0 .9,.1 .9,.8 .9-.3 .9,.2 .9-.6 .9-.1 .9,.2 .9,.2 .9,.3 .9-.3 .9,.6 .9,.3 .9-.3 .9,.2 .9-.1 .9,.1 .9-.1 .9-.8 .9,.4 .9-.1 .9-.5 .9,.1 .9-.4 .9,.2 .9,.1 .9-.3 .9,.8 .9-.2 .9-.4 .9,.2 .9-.1 .9,0 .9-.3 .9,.5 .9,0 .9,0 .9-.1 .9,.2 .9-.1 .9,.4 .9-.3 .9,0 .9-.1 .9-.5 .9,.3 .9,.3 .9-.3 .9,.3 .9-.6 .9,.2 .9-.4 .9,1 .9-.6 .9,.5 .9-.7 .9,.5 .9,.2 .9-.2 .9-.3 .9-.2 .9,.3 .9-.1 .9,.2 .9,.1 .9,.3 .9-.1 .9-.1 .9-.4 .9-.4 .9,.7 .9-.9 .9,.7 .9-.2 .9-.7 .9,.3 .9,.4 .9,0 .9,.5 .9,.2 .9-.3 .9,.2 .9-.4 .9,0 .9,.2 .9-.1 .9-.5 .9-.2 .9,.2 .9-.3 .9,1 .9,0 .9-.8 .9,.4 .9-.1 .9,.1 .9,.3 .9-.2 .9,.1 .9,.1 .9-.4 .9,.8 .9-.2" fill="none" stroke="#050505" stroke-width="1.4" stroke-linejoin="round" />
<path d="M48.5,637.4l.9,.2 .9,.2 .9,.3 .9-.7 .9-.3 .9-.2 .9-.1 .9,.6 .9-.3 .9,0 .9,0 .9-.4 .9,.3 .9,.1 .9,.3 .9-.6 .9,.4 .9-.3 .9,.3 .9,.1 .9,0 .9,.1 .9-.1 .9,.5 .9,.5 .9-.6 .9,.1 .9-.1 .9,.1 .9,.2 .9,0 .9,0 .9-.3 .9-.2 .9-.5 .9,1.2 .9-.1 .9-.4 .9,.2 .9,.1 .9-.2 .9-.3 .9,.1 .9,.1 .9-.7 .9,.6 .9-.4 .9,.2 .9,.2 .9,.1 .9,.2 .9-.5 .9,0 .9,.2 .9-.2 .9,.5 .9-.8 .9,0 .9,0 .9,.2 .9,.1 .9,.3 .9,0 .9,.7 .9-.5 .9,.4 .9,0 .9-.3 .9,.4 .9-.4 .9-.4 .9-.3 .9,.1 .9-.6 .9,.4 .9-.1 .9,.7 .9,0 .9,0 .9-.2 .9-.5 .9,.5 .9-.3 .9,0 .9,.5 .9,.4 .9-.6 .9,0 .9,0 .9-.3 .9,.2 .9-.3 .9,.5 .9-.3 .9-.3 .9-.2 .9,.6 .9,.1 .9,0 .9,0 .9-.5 .9-.1 .9,.1 .9,.1 .9,.6 .9,0 .9-.1 .9,0 .9-.5 .9,.3 .9-.4 .9-.1 .9,.3 .9-.2 .9,.2 .9,.1 .9,0 .9,.3 .9-.4 .9,0 .9,.1 .9-.1 .9,.4 .9,0 .9-.5 .9,.7 .9-.2 .9-.3 .9-.4 .9,.7 .9-.3 .9,0 .9,.4 .9,.1 .9-.3 .9-.3 .9,.3 .9-.4 .9,.9 .9-.7 .9-.4 .9,.9 .9-.2 .9-.4 .9,.2 .9-.2 .9,.1 .9-.3 .9-.2 .9,.3 .9,.3 .9-.1" fill="none" stroke="#050505" stroke-width="1.4" stroke-linejoin="round" />
<path d="M48.5,641.6l.9,0 .9-.4 .9,.6 .9-.8 .9,.1 .9,.3 .9,.5 .9,.2 .9,0 .9-.1 .9-.1 .9-.5 .9,.4 .9-.1 .9,0 .9-.3 .9,.2 .9,.3 .9,.1 .9,.1 .9,.1 .9,.5 .9-.2 .9-.2 .9,.2 .9,0 .9,.1 .9-.3 .9,0 .9,0 .9,.2 .9-.6 .9-.3 .9,.5 .9-.3 .9-.3 .9,.1 .9,0 .9-.1 .9,0 .9-.3 .9,.9 .9-.3 .9,0 .9,0 .9-.3 .9,0 .9,.7 .9,.1 .9-.2 .9,.4 .9-.5 .9,.2 .9-.2 .9-.3 .9,.2 .9,0 .9,.4 .9-.3 .9,0 .9-.1 .9-.2 .9,.4 .9,0 .9,.1 .9,.1 .9-.3 .9,.8 .9,.2 .9,.1 .9,0 .9,.3 .9-.6 .9-.5 .9-.2 .9-.5 .9,.5 .9-.8 .9-.8 .9-.8 .9-.4 .9,0 .9,.2 .9,.6 .9,.4 .9,.9 .9,0 .9,.3 .9-.3 .9,.3 .9-.2 .9,.3 .9,0 .9-.2 .9,.4 .9-.3 .9-.1 .9-.2 .9,0 .9,.4 .9,.2 .9-.2 .9,.5 .9-.3 .9,.4 .9-.7 .9,.5 .9-.1 .9,.1 .9-.4 .9,.2 .9-.3 .9,.1 .9,0 .9-.1 .9,.1 .9,.2 .9-.2 .9-.2 .9,.9 .9-.7 .9,.3 .9,.1 .9-.7 .9,.3 .9,.3 .9,0 .9-.2 .9,.3 .9,0 .9-.4 .9,.4 .9-.2 .9-.5 .9,0 .9,0 .9,0 .9,.2 .9,.3 .9-.6 .9,.3 .9-.3 .9,.3 .9-.2 .9,.5 .9,0 .9,0 .9-.2 .9,.2 .9-.2 .9-.1 .9,.4" fill="none" stroke="#050505" stroke-width="1.4" stroke-linejoin="round" />
<path d="M48.5,646.4l.9-.9 .9,.5 .9-.1 .9,.2 .9,.2 .9,0 .9,0 .9-.1 .9-.1 .9-.2 .9-.2 .9,.3 .9,0 .9,.2 .9-.3 .9,1.1 .9-.5 .9,0 .9,.2 .9,.2 .9-.3 .9,.4 .9-.3 .9,.1 .9-.5 .9,.3 .9,.1 .9-.1 .9-.2 .9-.1 .9,.8 .9-.2 .9,.1 .9-.1 .9-.3 .9,.3 .9-.3 .9,.2 .9,.1 .9,0 .9-.3 .9-.4 .9,.3 .9-.1 .9,.2 .9,.2 .9,.3 .9-.2 .9,0 .9,0 .9-.5 .9,.2 .9-.1 .9-.1 .9,.2 .9,.4 .9-.1 .9,0 .9,.4 .9,.3 .9-.2 .9,.3 .9-.1 .9-.8 .9,.8 .9-.3 .9-.3 .9-.7 .9,0 .9,.9 .9-.6 .9,.2 .9-.4 .9,.3 .9,.4 .9-.6 .9,.3 .9-.4 .9,.1 .9-.1 .9,.4 .9-.9 .9,.5 .9,.1 .9,.1 .9-.1 .9,.2 .9,.3 .9-.2 .9,.1 .9-.5 .9,.3 .9,.3 .9-.1 .9,0 .9-.4 .9,0 .9,0 .9-.1 .9-.2 .9,.5 .9-.3 .9-.3 .9,.1 .9,.5 .9-.2 .9-.2 .9-.2 .9,.1 .9-.3 .9-.2 .9,.8 .9,0 .9,.3 .9-.3 .9,.4 .9-.3 .9-.1 .9,0 .9,.4 .9,.1 .9-.3 .9,.4 .9-.6 .9,.5 .9-.4 .9,.1 .9,0 .9,.3 .9-.4 .9,.3 .9-.5 .9,.4 .9-.2 .9-.1 .9-.2 .9,.4 .9-.3 .9,0 .9,0 .9,.1 .9-.1 .9-.2 .9,0 .9,0 .9-.1 .9-.1 .9,.2 .9,0 .9,.1 .9,.3 .9,0" fill="none" stroke="#050505" stroke-width="1.4" stroke-linejoin="round" />
<path d="M48.5,650.7l.9,.1 .9,.5 .9,.1 .9,.3 .9-.6 .9,.2 .9-.1 .9,0 .9,.5 .9-.3 .9,0 .9-.1 .9,.6 .9-.8 .9,.3 .9-.2 .9,.2 .9-.3 .9-.4 .9,.7 .9-.4 .9,.6 .9-.1 .9-.5 .9-.4 .9,.1 .9-.5 .9,.3 .9,.2 .9,.6 .9,.5 .9-.3 .9-.4 .9-.3 .9-.1 .9,.2 .9,.7 .9-.2 .9-.4 .9,.1 .9-.1 .9,.6 .9-.2 .9,.3 .9-.2 .9-.3 .9,.5 .9-.5 .9,.2 .9,.4 .9-.2 .9-.3 .9,.3 .9-.4 .9,.2 .9,0 .9,.1 .9,.1 .9,.4 .9,.2 .9-.3 .9,0 .9-.2 .9,.1 .9-.7 .9,.2 .9-.4 .9,.5 .9,.2 .9-.1 .9-.6 .9,.7 .9-.4 .9,.1 .9,.2 .9-.1 .9-.3 .9,.4 .9,.1 .9,0 .9-.2 .9,.3 .9,0 .9-.1 .9-.3 .9,.5 .9-.6 .9-.4 .9,.5 .9,0 .9-.3 .9,0 .9,.5 .9-.8 .9,.3 .9-.1 .9,.2 .9-.1 .9,.1 .9-.2 .9-.1 .9,.7 .9,0 .9-.3 .9-.6 .9-.2 .9,.1 .9,.5 .9,0 .9,.2 .9-.2 .9-.1 .9,.1 .9,.6 .9-.3 .9,.5 .9-.5 .9,.2 .9-.3 .9,0 .9-.5 .9,0 .9-.2 .9,.6 .9-.1 .9-.1 .9,.5 .9-.1 .9-.7 .9,.9 .9-.5 .9,.3 .9,.2 .9-.8 .9-.1 .9,.2 .9,.6 .9-.4 .9,.8 .9-.6 .9-.2 .9,.3 .9-.2 .9,.1 .9-.3 .9,.2 .9,.1 .9,.1 .9,0 .9-.2 .9,.2 .9-.6" fill="none" stroke="#050505" stroke-width="1.4" stroke-linejoin="round" />
<path d="M48.5,654.8l.9,.4 .9-.3 .9,.2 .9-.1 .9,.1 .9-.9 .9,.9 .9-.2 .9,.3 .9-.1 .9-.1 .9-.1 .9-.3 .9,.4 .9-.3 .9-.5 .9,.1 .9,.4 .9,.1 .9,0 .9-.3 .9,.2 .9,.3 .9-.1 .9,.3 .9-.3 .9-.3 .9-.4 .9,0 .9,.2 .9,.3 .9-.3 .9,.2 .9-.2 .9,.4 .9-.3 .9,.3 .9-.1 .9,.4 .9-.2 .9-.6 .9,.4 .9,.3 .9-.4 .9-.4 .9,0 .9,1 .9-.1 .9-.5 .9-.4 .9-.3 .9,.6 .9,.1 .9-.1 .9,.4 .9-.3 .9,.5 .9-.2 .9-.1 .9,.5 .9-1.1 .9-.3 .9,.7 .9,.8 .9,.1 .9-.5 .9-.4 .9,1 .9,.2 .9,.2 .9-.4 .9,.1 .9-.6 .9,.2 .9,.2 .9-.7 .9-.3 .9-.7 .9,1.1 .9-.3 .9,.3 .9-.8 .9,.6 .9,.1 .9,.2 .9,.2 .9-.1 .9-.2 .9-.1 .9,.5 .9,0 .9,.2 .9,0 .9-.4 .9,.1 .9,.4 .9-.3 .9,.1 .9,.2 .9-.6 .9-.2 .9,.3 .9,0 .9,.1 .9,0 .9-.3 .9,.2 .9,.4 .9-.6 .9,.2 .9-.2 .9,.1 .9,.2 .9-.5 .9,.5 .9-.4 .9,0 .9,.2 .9-.1 .9-.1 .9,.1 .9,.4 .9,.2 .9,.1 .9-.5 .9,.1 .9,.1 .9-.2 .9-.2 .9,.4 .9-.1 .9,.1 .9,.1 .9-.2 .9,.7 .9-.8 .9,0 .9,.1 .9-.3 .9,.1 .9,.2 .9-.4 .9-.3 .9,0 .9,.1 .9,.1 .9-.4 .9,.4 .9-.1 .9,.2 .9,0 .9-.2" fill="none" stroke="#050505" stroke-width="1.4" stroke-linejoin="round" />
<path d="M48.5,659.5l.9-.1 .9,.1 .9-.2 .9-.3 .9,.2 .9,.5 .9-.1 .9,.2 .9,.1 .9-.2 .9,.3 .9-.2 .9,.4 .9-.1 .9-.3 .9,.3 .9,.1 .9,.1 .9-.5 .9,.4 .9-.5 .9-.2 .9,.2 .9,.2 .9-.1 .9-.5 .9,.4 .9,.5 .9-.2 .9-.1 .9,.1 .9,.5 .9-.4 .9-.1 .9-.2 .9,0 .9-.3 .9-.1 .9,.2 .9,.5 .9,.3 .9-.3 .9-.2 .9-.5 .9,.2 .9,.1 .9,0 .9,.2 .9-.2 .9-.1 .9,.2 .9-.3 .9,.2 .9-.1 .9-.2 .9,.1 .9,.3 .9-.3 .9-.3 .9-.6 .9,.4 .9,0 .9-.1 .9,.6 .9-.3 .9,.4 .9-.1 .9,.2 .9,0 .9,.4 .9-.2 .9,.2 .9-.2 .9,.5 .9,0 .9-.2 .9,.1 .9-.6 .9,.4 .9,.5 .9-.1 .9-.4 .9-.3 .9,.2 .9-.5 .9,.1 .9,0 .9,.7 .9-.7 .9,.4 .9-.3 .9,.5 .9-.5 .9,.6 .9-.4 .9,.4 .9-.1 .9-.1 .9-.3 .9-.5 .9,0 .9,.4 .9-.2 .9,.5 .9,.1 .9,0 .9-.3 .9-.1 .9-.1 .9,.3 .9-.7 .9,.7 .9,0 .9,0 .9,.2 .9-.1 .9-.3 .9-.3 .9,.1 .9,.3 .9,.4 .9-.3 .9-.2 .9,.3 .9-.3 .9,.3 .9-.1 .9,.2 .9-.7 .9-.6 .9,.3 .9,.5 .9-.2 .9,.2 .9,.2 .9,.2 .9-.1 .9-.1 .9,.5 .9-.6 .9-.3 .9,.5 .9,0 .9-.3 .9-.4 .9,.1 .9,.8 .9-.1 .9,0 .9,.3 .9,.2 .9-.3" fill="none" stroke="#050505" stroke-width="1.4" stroke-linejoin="round" />
<path d="M48.5,664.7l.9-.2 .9-.1 .9,.2 .9-.3 .9,.3 .9,.4 .9-.2 .9-.2 .9-.2 .9,.3 .9-.5 .9,1.2 .9-.2 .9-.1 .9-.8 .9,.1 .9,.3 .9,.1 .9,0 .9,0 .9-.5 .9,.4 .9-.1 .9,.4 .9,.2 .9-.1 .9-.4 .9-.4 .9-.3 .9,.5 .9,.2 .9-.1 .9-.3 .9,.5 .9-.4 .9,.2 .9,.3 .9-.5 .9,.3 .9,0 .9-.1 .9,0 .9-.2 .9,.3 .9-.5 .9,.4 .9-.3 .9,.3 .9-.1 .9,0 .9,.4 .9-.4 .9-.1 .9,.4 .9,0 .9,0 .9-.3 .9,.4 .9-.2 .9,.2 .9,0 .9-.2 .9,.8 .9-.4 .9,0 .9-.1 .9-.1 .9,0 .9,.5 .9,0 .9-.7 .9-.1 .9-.4 .9,.7 .9-.1 .9-.3 .9-.2 .9,.4 .9-.5 .9,.6 .9,.1 .9-.2 .9,0 .9,.2 .9,.4 .9-.3 .9-.4 .9-.4 .9,.8 .9-.9 .9,.4 .9,.4 .9,.2 .9-.6 .9,.5 .9,0 .9,.1 .9,.2 .9-.1 .9-.6 .9-.3 .9-.2 .9,.9 .9-.2 .9,.2 .9,0 .9-.2 .9,.2 .9-.4 .9-.2 .9,.5 .9,.3 .9,.1 .9-.3 .9-.1 .9-.3 .9-.1 .9,.3 .9,.3 .9,0 .9-.4 .9,.1 .9,0 .9-.2 .9,.3 .9-.7 .9-.2 .9,.2 .9,.3 .9,.1 .9,.6 .9-.3 .9,.1 .9-.3 .9-.3 .9,.3 .9-.2 .9-.1 .9,.6 .9-.4 .9-.3 .9-.4 .9,.2 .9,.2 .9,.7 .9,.1 .9-.8 .9,.4 .9-.9 .9,.4 .9,.4 .9-.4" fill="none" stroke="#050505" stroke-width="1.4" stroke-linejoin="round" />
<path d="M48.5,668.6l.9-.3 .9-.2 .9-.4 .9,.1 .9,.1 .9-.1 .9,.5 .9,.1 .9-.1 .9,.1 .9-.3 .9,.1 .9,.5 .9,.2 .9,.5 .9-.4 .9-.7 .9,.2 .9-.2 .9,.8 .9-.1 .9-.7 .9-.2 .9,.1 .9,0 .9,.1 .9,.5 .9-.4 .9,.2 .9-.2 .9-.7 .9,.3 .9,0 .9-.1 .9,.2 .9,.4 .9,.4 .9-.3 .9-.1 .9-.6 .9-.3 .9,.7 .9-.1 .9-.4 .9,.4 .9-.1 .9,.7 .9-.5 .9-.1 .9-.5 .9,.3 .9,0 .9-.2 .9,.1 .9,.1 .9,.1 .9-.3 .9,.1 .9,.1 .9-.3 .9,.3 .9,.1 .9-.4 .9-.2 .9,.4 .9,.1 .9,.5 .9,.2 .9,.1 .9,.4 .9-.4 .9,.4 .9-.6 .9,.1 .9-.2 .9-.5 .9,.4 .9-.3 .9,.2 .9,.3 .9-.1 .9,0 .9-.4 .9,.1 .9,.4 .9,.1 .9,.1 .9-.8 .9,.2 .9-.2 .9-.2 .9,.3 .9,.4 .9,.1 .9-.6 .9,.3 .9-.6 .9,.5 .9-.2 .9,0 .9,.2 .9,.1 .9-.5 .9,.1 .9,0 .9,.6 .9,0 .9-.8 .9,.8 .9,.1 .9-.2 .9-.3 .9,.2 .9,.1 .9-.2 .9,.7 .9-.6 .9-.5 .9,.3 .9-.1 .9,.3 .9-.1 .9,.1 .9-.5 .9,.2 .9,0 .9-.4 .9,.3 .9-.4 .9,.4 .9-.5 .9,.1 .9,.1 .9,0 .9-.2 .9,.4 .9-.1 .9,0 .9,.2 .9,.4 .9,.1 .9-.4 .9,0 .9,.1 .9-.4 .9,.5 .9-.2 .9-.5 .9,.5 .9-.1 .9,.5 .9-.8" fill="none" stroke="#050505" stroke-width="1.4" stroke-linejoin="round" />
<path d="M48.5,675.3l.9,.7 .9-.2 .9,.2 .9-.5 .9-.1 .9,.2 .9,0 .9,.2 .9,0 .9-.4 .9,.5 .9,0 .9-.1 .9,.3 .9-.7 .9,.5 .9-.1 .9-.1 .9,.2 .9,.1 .9,0 .9-.3 .9,.5 .9-.3 .9,.1 .9-.3 .9,.5 .9-.4 .9-.4 .9,0 .9,0 .9-.2 .9-.2 .9,.7 .9-.6 .9,1 .9-.2 .9-.3 .9,.2 .9-.1 .9-.2 .9,.4 .9,0 .9,.5 .9-.4 .9-.1 .9,.2 .9-.5 .9,.2 .9,.5 .9-.4 .9,.2 .9,.2 .9-.1 .9,.1 .9-.2 .9-.1 .9-.1 .9-.5 .9,.1 .9-.9 .9,.3 .9,1 .9,.3 .9,.4 .9,0 .9-.8 .9,.2 .9,0 .9,0 .9-.5 .9-.2 .9,0 .9,.6 .9,.1 .9-.6 .9,.2 .9,.2 .9-.5 .9,.2 .9,.5 .9,0 .9-.1 .9,0 .9,.2 .9,.4 .9-.2 .9-.3 .9-.3 .9,.4 .9,.3 .9-.1 .9-.5 .9-.4 .9,0 .9,.3 .9,0 .9,.2 .9-.1 .9-.1 .9-.1 .9-.4 .9-.2 .9,.5 .9,.2 .9-.2 .9,.6 .9-.2 .9-.2 .9-.4 .9,.6 .9-.5 .9-.3 .9,.6 .9,.1 .9-.3 .9-.2 .9,.2 .9-.5 .9,.6 .9-.6 .9,.4 .9,.3 .9-.1 .9,.4 .9-.6 .9,.7 .9,.1 .9-.3 .9-.3 .9-.3 .9,0 .9,.1 .9,.1 .9,.2 .9,.1 .9,.4 .9-.9 .9,0 .9,0 .9,.3 .9,0 .9,.3 .9,0 .9,.6 .9-.1 .9-1.2 .9,.1 .9,.3 .9,0 .9-.3 .9,0" fill="none" stroke="#050505" stroke-width="1.4" stroke-linejoin="round" />
<line x1="42.5" y1="684.3" x2="42.5" y2="709.6" stroke="#111" stroke-width="1.2" />
<text x="46.8" y="693.8" font-size="10.8" font-weight="normal" text-anchor="start" fill="#0a0a0a" >20 mV</text>
<g stroke-opacity="0.55">
<path d="M48.5,715.1l.9-.7 .9-.2 .9,3.7 .9-1.9 .9,.7 .9,1 .9-.1 .9,.2 .9-2.4 .9-1.8 .9,.7 .9,1.8 .9-.5 .9-.9 .9-.4 .9,1.4 .9-.9 .9-.1 .9,.1 .9,.2 .9,.4 .9-1.9 .9,.9 .9,.5 .9,1.4 .9-.5 .9-.1 .9-.5 .9-2 .9,2.5 .9-3.1 .9-.1 .9-.2 .9-.9 .9,1.2 .9,0 .9-2.3 .9,2.2 .9-2 .9,2.5 .9,.2 .9,.8 .9-3.3 .9-.5 .9-.4 .9,3.2 .9-2.2 .9,.1 .9-1.5 .9,.5 .9,.8 .9-1.2 .9,1.8 .9,.5 .9-.9 .9-2.1 .9,1.1 .9-2.1 .9-1.7 .9,2.2 .9,0 .9,4 .9,0 .9,.9 .9,1.1 .9,.6 .9-.2 .9,2.7 .9,.8 .9,1 .9,.2 .9,.1 .9,.7 .9,.3 .9-1.9 .9,.6 .9-1.6 .9-1.6 .9-.8 .9-1.8 .9-3.1 .9-.4 .9-4.3 .9-.8 .9,3.1 .9,2.3 .9-2.4 .9-.7 .9,2.3 .9,.9 .9-.9 .9,1.1 .9,1 .9-.1 .9,1.7 .9,1.2 .9,1 .9-.6 .9-.8 .9,.6 .9-1.4 .9,1.7 .9-1.4 .9,.4 .9-.4 .9,.8 .9-1.5 .9,1.7 .9-1.1 .9,1.2 .9-1.3 .9-.1 .9,1.3 .9,.1 .9-1.7 .9,.6 .9,.1 .9,.8 .9-1.1 .9-.6 .9,1.7 .9,1.1 .9,.2 .9,1.4 .9-.7 .9-.3 .9-1.2 .9,0 .9,.7 .9,.1 .9,.5 .9-.6 .9-.5 .9-2.2 .9-2.5 .9,1.3 .9-2.1 .9,2.7 .9,.3 .9,0 .9-.4 .9,2.3 .9,0 .9,.3 .9-.5 .9-2.7 .9,2.4 .9,1.5 .9,1.4 .9-1.7 .9,.3 .9,.7" fill="none" stroke="#b4b4b4" stroke-width="1.25" stroke-linejoin="round" />
<path d="M48.5,712.9l.9,.4 .9,.5 .9,1.6 .9,.2 .9-.9 .9,.5 .9-1.4 .9,2 .9-2 .9,.2 .9,.4 .9,1.5 .9-2.4 .9,.5 .9-.9 .9-1 .9-.7 .9-.1 .9,.6 .9-1.5 .9,1.4 .9,.3 .9,1.1 .9-.5 .9,.6 .9,.1 .9-.8 .9-3.9 .9-1.8 .9,.9 .9,1.8 .9,2.9 .9-1 .9-.1 .9,.1 .9-.9 .9,.6 .9,1.6 .9,.3 .9-.2 .9-2.9 .9,.8 .9-.7 .9,1 .9-2 .9-.3 .9,1.3 .9-.6 .9-1.8 .9,1.1 .9,1.9 .9-.7 .9-.1 .9,.5 .9-1.1 .9,1.4 .9-.6 .9-1.5 .9-2.2 .9-.6 .9-.1 .9,2 .9,1.6 .9,1 .9,1 .9,1.6 .9,2.2 .9,1.3 .9,1.5 .9,2 .9-1.1 .9,1.6 .9,.1 .9-.7 .9,.5 .9-.4 .9-1.6 .9,.7 .9-3.1 .9-.7 .9,.2 .9-1.4 .9-1.2 .9-1.5 .9-.5 .9-.5 .9-.4 .9-.1 .9,.8 .9,1.5 .9,1.4 .9,1.2 .9-.3 .9-.5 .9,.6 .9,1.3 .9-2.5 .9-1.5 .9-.2 .9,1 .9,1.2 .9,.5 .9-1.7 .9-.9 .9,2.1 .9-.7 .9-.5 .9,3 .9,.5 .9-1.5 .9,2.2 .9-1.1 .9-.9 .9-.2 .9-.6 .9,0 .9,.5 .9-.6 .9,.8 .9-3.3 .9-1.9 .9,0 .9,3.9 .9,2.4 .9-.1 .9-.7 .9-.9 .9-.3 .9,0 .9,.5 .9,.6 .9,.3 .9-2.7 .9-.2 .9,1.4 .9,1.3 .9-2.8 .9,.8 .9,0 .9-.9 .9-.1 .9-.5 .9-1.3 .9,2.9 .9-.8 .9-.8 .9,1.4 .9,.1 .9,.4 .9,1.3 .9-1.1 .9-1.4" fill="none" stroke="#b4b4b4" stroke-width="1.25" stroke-linejoin="round" />
<path d="M48.5,710.6l.9,.6 .9-.4 .9-.1 .9,.3 .9,.3 .9,.9 .9-.1 .9,.7 .9,.4 .9-.2 .9,.4 .9-1.1 .9,.2 .9,1.1 .9-.8 .9-1.3 .9,1 .9-.6 .9-.1 .9-2.4 .9,.2 .9,1 .9,1.9 .9,1.6 .9-1.6 .9,1.8 .9-.9 .9,.5 .9-.7 .9,.9 .9-3.2 .9-.6 .9,.7 .9,.6 .9-.9 .9,1.9 .9-.5 .9-.4 .9-.3 .9-2.2 .9-.3 .9-.7 .9,.6 .9,.9 .9-.9 .9-.5 .9,.3 .9-2 .9,.2 .9,1.3 .9,1.2 .9-1.1 .9-1 .9,2 .9-.8 .9-.2 .9,1.4 .9-.1 .9,2 .9-.6 .9-.3 .9-1.3 .9,.7 .9-1.4 .9,2.8 .9,1.9 .9,1.5 .9,1.5 .9,.6 .9-.2 .9,3.1 .9-2.6 .9-.7 .9-2.3 .9-1 .9,.3 .9-.5 .9,.9 .9-.9 .9-1.1 .9-2.4 .9-3.8 .9-.1 .9,1.2 .9,1.8 .9,1.1 .9,1 .9-.5 .9,.4 .9,1.6 .9,0 .9-.6 .9-1.5 .9,1.6 .9,.3 .9-1.2 .9,2.2 .9-.9 .9,.4 .9,.4 .9,.6 .9-1.4 .9,.1 .9-2.5 .9,3.8 .9-2 .9,1.7 .9-1.5 .9,.7 .9-.6 .9,1 .9-.3 .9,.1 .9-.8 .9,.8 .9-1.7 .9-3.3 .9,.7 .9,2.5 .9,2.6 .9,.9 .9,0 .9-.3 .9,.2 .9-1.6 .9-1.6 .9-1 .9-.4 .9-1.5 .9,1.2 .9,.7 .9,.5 .9-.5 .9,1.7 .9-.9 .9,.6 .9-.2 .9-.2 .9,.9 .9,.3 .9,.4 .9-1.7 .9-.5 .9-.5 .9-1.1 .9,1.3 .9,3.8 .9-1.8 .9,.1 .9,.6 .9-.3 .9,.4" fill="none" stroke="#b4b4b4" stroke-width="1.25" stroke-linejoin="round" />
<path d="M48.5,709.3l.9,.3 .9,.4 .9,2.1 .9,1.6 .9-1 .9-1.2 .9,.3 .9,.1 .9-1.8 .9,.9 .9,.2 .9-1 .9,1 .9,.2 .9,0 .9-1 .9-.2 .9,.2 .9-.3 .9,2.1 .9,1.8 .9-.8 .9,.1 .9-2.1 .9-.5 .9-.1 .9-.5 .9,1.6 .9-1.4 .9,.8 .9,.2 .9-.6 .9-.3 .9-1.9 .9,.8 .9,1.6 .9,.1 .9-.2 .9-2 .9,0 .9-1.8 .9,.4 .9,1.4 .9,.1 .9-1 .9-1.2 .9,1.9 .9-.6 .9,.2 .9-.6 .9,1.3 .9,1.4 .9,1 .9-1.7 .9,.7 .9-1.5 .9-.3 .9-2.6 .9-1.4 .9,.4 .9,3.1 .9,1.6 .9,1.7 .9,1.7 .9-.2 .9,.6 .9-1.3 .9,.5 .9,1.1 .9,1.8 .9,2.3 .9-.9 .9,2.4 .9-1.8 .9,1.5 .9-.3 .9,1.3 .9-1.8 .9-2.7 .9-.7 .9-1.3 .9-2.4 .9-4.5 .9-1 .9,.5 .9,2.4 .9,.1 .9,1.2 .9,.5 .9-.1 .9-1 .9-.6 .9-2.5 .9,2.2 .9,2.6 .9-.8 .9,.5 .9-1.3 .9,.4 .9,.5 .9,1.7 .9,.9 .9-.3 .9,.6 .9,.2 .9-3.1 .9,1 .9-.6 .9-.4 .9,.1 .9-.2 .9-1.3 .9-2.4 .9,.1 .9,2.5 .9,2.9 .9-.8 .9,1.3 .9-.2 .9,1.4 .9-.7 .9-.8 .9-.2 .9,.4 .9,.2 .9-2 .9,0 .9,.1 .9-1 .9,1.4 .9,.5 .9,1.6 .9-3.6 .9-5 .9,1.4 .9,2.8 .9,2.8 .9,.3 .9-2 .9,.9 .9,1 .9-1.7 .9,0 .9,.3 .9,1.3 .9,.1 .9-.6 .9-.1 .9,1.2 .9,.6 .9-.8 .9-.1" fill="none" stroke="#b4b4b4" stroke-width="1.25" stroke-linejoin="round" />
<path d="M48.5,709l.9,.9 .9-.8 .9,1 .9,1.3 .9-.3 .9-.1 .9,.3 .9,.4 .9,.8 .9,.5 .9-.7 .9-1.6 .9,1 .9,1.3 .9-.7 .9-.8 .9-1 .9-1.2 .9,1.5 .9,.1 .9-2.2 .9,1 .9-.2 .9,.4 .9,1.5 .9-.2 .9-1.1 .9,.2 .9-.1 .9,.5 .9,.6 .9,.3 .9-.5 .9-.1 .9,.1 .9,.3 .9-2.1 .9,1.3 .9-1 .9,.5 .9-.3 .9,.3 .9-1.6 .9-1.8 .9-.7 .9,.7 .9-2 .9,1.9 .9,1.1 .9-.3 .9-.2 .9,.5 .9,.1 .9,1.7 .9-.1 .9-1 .9,1.5 .9,0 .9,.2 .9-1.5 .9-1 .9,2.5 .9,1.7 .9,.6 .9-.5 .9-.8 .9,2.2 .9,.5 .9,.4 .9-.5 .9,.6 .9-1.6 .9-2.3 .9-3.7 .9,2.9 .9,.1 .9,1 .9,1.3 .9-2.1 .9,1.2 .9,1.1 .9-1 .9-.4 .9-2.6 .9-.3 .9,2.1 .9-.9 .9-.5 .9,.2 .9,1.6 .9,.4 .9-.9 .9,1.7 .9-1.5 .9,.3 .9-1.1 .9,2.6 .9,.2 .9-.1 .9,.1 .9-1.2 .9,1.6 .9-.4 .9,.1 .9-1.3 .9-1.9 .9,1.7 .9-1.8 .9,3.5 .9-1.3 .9,1.5 .9-2.1 .9,2.1 .9,.3 .9,1 .9-.4 .9-.3 .9,1.2 .9-1 .9-1.1 .9,0 .9,.7 .9-.5 .9-.7 .9-.8 .9-.8 .9-.5 .9,.6 .9-.9 .9,2.4 .9-1.7 .9-1.1 .9,1.1 .9-5.3 .9-2 .9,2.7 .9,1.1 .9,2.9 .9-.2 .9-.5 .9,.8 .9,.5 .9-1.6 .9,.7 .9-1 .9,.3 .9,1.9 .9-.4 .9-.5 .9,.2 .9,1.3 .9,1.4" fill="none" stroke="#b4b4b4" stroke-width="1.25" stroke-linejoin="round" />
<path d="M48.5,711.5l.9-1.1 .9,1.1 .9-1.6 .9,.1 .9,0 .9-2 .9,.9 .9-.5 .9-.6 .9,2.3 .9,1.5 .9-.8 .9-.9 .9,1.1 .9,0 .9-1 .9,2.7 .9,.4 .9-1.6 .9,1.5 .9-1.9 .9,2.8 .9-.2 .9-.4 .9,0 .9-2 .9-2.3 .9,2.4 .9-1.6 .9,0 .9,1.1 .9,.7 .9,.4 .9-2.7 .9-1.5 .9,1.3 .9,1.2 .9,2.2 .9-1.3 .9-.3 .9,.2 .9,0 .9-1.8 .9,.3 .9-1 .9,1.5 .9-2 .9-1.1 .9-.6 .9,.8 .9,1.9 .9-.6 .9,3.3 .9-1.5 .9-1.7 .9-2 .9-2.6 .9,.6 .9,.2 .9,.2 .9-1.1 .9-2.2 .9,2.5 .9,3.4 .9,3.2 .9,0 .9,1 .9,1 .9,1.7 .9,0 .9-.1 .9,2.2 .9,1.3 .9,0 .9,.4 .9,.2 .9-1.3 .9-3.6 .9,.4 .9-2.1 .9,.4 .9-.3 .9-1.5 .9-1.7 .9,1.5 .9-1.1 .9,.2 .9-.6 .9,.7 .9-.1 .9-.6 .9-.6 .9,1.3 .9-1.5 .9,1.7 .9-1.3 .9,2.6 .9,1.2 .9-1.1 .9-.3 .9-.3 .9,1.6 .9-2.1 .9,1.7 .9-1.1 .9,.3 .9,.4 .9-.1 .9,0 .9-1.9 .9,1.7 .9,.4 .9-.6 .9,.4 .9-2.7 .9,3.5 .9-1.7 .9,2 .9-.2 .9-.4 .9-.1 .9,.5 .9-.2 .9,.5 .9-.4 .9,1 .9-.3 .9-1.1 .9,.8 .9,.7 .9-.8 .9-1.5 .9,.2 .9-1.3 .9,.7 .9-.3 .9,1.8 .9,0 .9-1.4 .9-.2 .9-1.5 .9,.7 .9,.1 .9,0 .9-.6 .9,1 .9-1.1 .9-.7 .9,2.1 .9,1 .9,.8 .9-2" fill="none" stroke="#b4b4b4" stroke-width="1.25" stroke-linejoin="round" />
<path d="M48.5,710l.9,2.4 .9,.5 .9,.4 .9-2.4 .9-.2 .9,1.9 .9-1.4 .9,.9 .9-1.4 .9-.6 .9,1.8 .9,.4 .9-1.5 .9-.8 .9,2.9 .9-.4 .9-2.6 .9,2.2 .9-.4 .9-.3 .9,.7 .9-1.6 .9,.3 .9,.3 .9,.4 .9-.2 .9,1.4 .9-.7 .9-1.8 .9,.7 .9,.9 .9,.4 .9,0 .9,.4 .9,.1 .9,.6 .9-3.9 .9,1.5 .9-1.8 .9-.6 .9,.5 .9-.5 .9-.6 .9,1.1 .9,.6 .9-2.8 .9-1.9 .9-.6 .9,2.9 .9-.3 .9,1.1 .9,.2 .9-1 .9,2.2 .9-.7 .9,.9 .9,.5 .9-1.6 .9,.1 .9-1 .9-.6 .9,.6 .9,3 .9,.1 .9-1 .9-.1 .9,1.9 .9,.4 .9,2.2 .9-.6 .9,1 .9,1.7 .9-1 .9,.5 .9-1.7 .9,1 .9-.9 .9-2.3 .9-1.1 .9-2.4 .9-2 .9-.6 .9,3.5 .9,.6 .9,0 .9,.7 .9,.5 .9,.2 .9-.5 .9-.6 .9,0 .9-.6 .9,.7 .9,1.4 .9-.3 .9-.6 .9,1.5 .9-2.6 .9,1 .9,.1 .9,1.4 .9-.2 .9,1.4 .9-.5 .9-1.1 .9,.6 .9-.5 .9-.1 .9-.4 .9,.7 .9,.4 .9-.7 .9,1.9 .9,.1 .9,.8 .9-2.2 .9,.4 .9,.3 .9,0 .9,.5 .9-1.8 .9,2.3 .9-.6 .9,.4 .9-1.6 .9-.1 .9-1.7 .9-1.3 .9-1.3 .9,.6 .9,1 .9,1.7 .9-1.4 .9-.3 .9-.5 .9,.9 .9,1.7 .9,.8 .9-.4 .9-1.8 .9,.5 .9,.6 .9-.4 .9,1.4 .9-2.2 .9,1.8 .9-1.2 .9,.7 .9-2.2 .9-1.7 .9-.6 .9,2.4" fill="none" stroke="#b4b4b4" stroke-width="1.25" stroke-linejoin="round" />
<path d="M48.5,713.4l.9,1.5 .9-2.7 .9,0 .9,.9 .9-.5 .9,3.4 .9-1.7 .9,.9 .9-1.1 .9-2.5 .9-3.8 .9,1.3 .9,4.1 .9,.5 .9-.7 .9-.5 .9,2.5 .9,0 .9,1.9 .9-.9 .9,.6 .9-2.1 .9-1.4 .9,1.4 .9-.1 .9,.6 .9-.4 .9,.6 .9-.4 .9,.2 .9-.7 .9-1.4 .9-.1 .9,.2 .9,.4 .9-.2 .9,.8 .9,0 .9,1.7 .9-1.4 .9,.2 .9-1.2 .9,.5 .9-2 .9-2.3 .9-1.4 .9,2.5 .9,1 .9-.2 .9-2 .9-1.2 .9,2.3 .9,2.3 .9,0 .9-1.1 .9,.2 .9,.4 .9,.5 .9-.5 .9-1.8 .9-2.5 .9,1.4 .9,3 .9,2.2 .9,.7 .9,0 .9,.9 .9,2.4 .9,1.4 .9,3.1 .9-1.9 .9,1.6 .9,.5 .9-1.5 .9-1.5 .9-1.6 .9-1.4 .9-.7 .9,.5 .9-3.5 .9-1 .9-.1 .9-.9 .9-2.4 .9-.7 .9,2 .9-1.4 .9,1.6 .9,.4 .9,2.1 .9-.2 .9-.2 .9,.5 .9-.5 .9,0 .9,.1 .9-.3 .9-.5 .9,2.9 .9-1.1 .9,.1 .9,0 .9,1.1 .9-.7 .9,1 .9-.7 .9,.9 .9,.5 .9,.4 .9-2.1 .9,.6 .9-.3 .9,1.8 .9-1.9 .9-.5 .9,.6 .9,1 .9,.5 .9-1.5 .9-5 .9-2.7 .9,3.7 .9,3 .9,.5 .9,.4 .9,.4 .9,1.3 .9-2.3 .9-.6 .9,.6 .9-.4 .9-.3 .9,.2 .9-1 .9,.7 .9-.6 .9,1.7 .9,.2 .9,.1 .9-.5 .9,.9 .9-.3 .9-.9 .9,1.6 .9,.5 .9-.9 .9,.2 .9,2 .9-.2 .9-.7 .9-1.8 .9-.7" fill="none" stroke="#b4b4b4" stroke-width="1.25" stroke-linejoin="round" />
<path d="M48.5,714.2l.9-.4 .9-.1 .9-.1 .9,0 .9,1.2 .9-1.2 .9-.7 .9,.8 .9,.8 .9,.7 .9,0 .9-1.1 .9,1.3 .9-.1 .9-1.2 .9,0 .9,.7 .9,1.1 .9-.3 .9-2.5 .9,1 .9,1 .9,.1 .9-.1 .9-1.8 .9,.8 .9,.2 .9-.5 .9,.5 .9-.4 .9-.8 .9,1.2 .9-1.6 .9,.4 .9-1.1 .9,1.3 .9-1.2 .9-.6 .9,1.1 .9-1 .9,1.3 .9,1.2 .9,.2 .9-1.4 .9-.1 .9,.2 .9-.9 .9,.3 .9-1.3 .9,.5 .9,.1 .9,2.1 .9-1.8 .9,.7 .9,.8 .9-1.3 .9-.8 .9-1.6 .9-.5 .9,.6 .9-1.7 .9,.7 .9-.5 .9,2.6 .9,1.3 .9,1.2 .9,.4 .9,1 .9,3 .9,1.4 .9-.7 .9-1.3 .9,.8 .9-2.4 .9-1.5 .9,.8 .9,1.2 .9-4 .9,.2 .9-1.8 .9,.4 .9,1.4 .9-1.5 .9,2.7 .9-1.1 .9,1.1 .9-2 .9-.9 .9-3.7 .9-2.8 .9,1.7 .9,1.8 .9,1.7 .9,.1 .9,2.3 .9,.2 .9,.7 .9,1 .9-1.5 .9,1.5 .9,1 .9-1.8 .9-.6 .9,.2 .9,.5 .9-1.1 .9,1.4 .9-1.1 .9,2.3 .9-2.4 .9,.2 .9,.5 .9,.8 .9-.8 .9-.7 .9-3.4 .9-.1 .9,3.8 .9,2.3 .9,0 .9-.3 .9-.2 .9,0 .9,.8 .9-1.8 .9,.7 .9-1.2 .9,.5 .9,.3 .9-1.3 .9,.9 .9,.1 .9,.6 .9,.7 .9-.4 .9,0 .9,1.6 .9-2.2 .9,.4 .9-1.4 .9-.5 .9,.2 .9-.8 .9,1.9 .9-1.7 .9,3.2 .9-.2 .9,.1 .9-1.8 .9,1.9 .9,.6 .9-.4" fill="none" stroke="#b4b4b4" stroke-width="1.25" stroke-linejoin="round" />
<path d="M48.5,708.8l.9,.4 .9,1.2 .9-.2 .9,.6 .9-2.6 .9,2.4 .9,.3 .9,.3 .9-.4 .9,1.2 .9-.5 .9-.1 .9-.9 .9,.2 .9,.2 .9,.9 .9-1.3 .9,1.5 .9-.2 .9,.2 .9,0 .9,.4 .9,.1 .9-.7 .9-2.3 .9,1.3 .9-1.8 .9-.9 .9-.2 .9-2 .9-.7 .9,1.4 .9,1.2 .9,.8 .9,.8 .9,1.1 .9-.7 .9,.8 .9,.3 .9-.1 .9-.6 .9,.6 .9-2 .9,.1 .9-.9 .9-.2 .9-1.7 .9,.7 .9-.3 .9,1.4 .9-1.8 .9,1.1 .9,1.8 .9-.1 .9-.5 .9-2 .9-.8 .9-.8 .9,1.1 .9,1.2 .9,.2 .9-.1 .9,.3 .9-.7 .9,1 .9,1.2 .9,2.7 .9,.4 .9,.2 .9,.3 .9,.5 .9,1 .9,.3 .9-.2 .9,.2 .9-.3 .9-.3 .9,.3 .9-1.4 .9-1.7 .9-.5 .9,1.1 .9-1.3 .9-1.9 .9-.6 .9-.7 .9-3.4 .9-2.1 .9,2.8 .9,3.8 .9,0 .9-.8 .9,.4 .9,1.6 .9,0 .9,.3 .9-.2 .9-.4 .9,.3 .9-.4 .9,.7 .9,.2 .9,.8 .9-1 .9,1.8 .9-.8 .9-.5 .9-.5 .9,.3 .9-.2 .9-.5 .9,.6 .9,1.1 .9-1.2 .9-.2 .9,0 .9,.7 .9,1.9 .9,.1 .9,.1 .9-.7 .9-.6 .9,1.2 .9-.3 .9,.1 .9,1.2 .9-1 .9-1.4 .9-.6 .9,1.1 .9-.8 .9-.4 .9-.2 .9-.5 .9,.4 .9-.3 .9,.4 .9,2 .9-2.2 .9-1.1 .9,1.3 .9-.2 .9,1.6 .9-2 .9,1.5 .9,.3 .9,1.3 .9-2.9 .9-1 .9,2.6 .9-.4 .9,1" fill="none" stroke="#b4b4b4" stroke-width="1.25" stroke-linejoin="round" />
<path d="M48.5,710.3l.9,.2 .9,1.3 .9,.9 .9,.8 .9,.2 .9-.6 .9-.6 .9,.7 .9,2.6 .9-2.2 .9,1.9 .9-1.3 .9,1.3 .9-.7 .9-.5 .9-.3 .9,.3 .9-1.3 .9-.7 .9-.3 .9,.8 .9-.3 .9,.3 .9-2.9 .9,3.2 .9-1.2 .9,2.3 .9,1.5 .9-.1 .9-1.1 .9,2.6 .9-3.1 .9,.2 .9-1.2 .9,.3 .9-.8 .9,.5 .9,1.5 .9-1.6 .9-1.5 .9,2.1 .9-.7 .9,.5 .9-1 .9-1.5 .9,1.6 .9-.9 .9,.8 .9-1.3 .9-.4 .9-.6 .9,2.3 .9,1.6 .9-1.6 .9,.4 .9-1.6 .9,1.7 .9-.4 .9-1 .9-1.7 .9,2.1 .9,1.8 .9,2 .9,.5 .9,0 .9,.9 .9,1.2 .9-.2 .9,1.9 .9,.2 .9,.5 .9-1 .9,.8 .9-1.3 .9-1.4 .9-1.2 .9,.1 .9-1.2 .9-1.3 .9-1.2 .9-.7 .9,.2 .9-.1 .9-1.5 .9,1.3 .9-.5 .9,.5 .9-.4 .9-1 .9,1.2 .9-1.4 .9-.1 .9,1.4 .9-.6 .9,1.1 .9,.4 .9,0 .9,.1 .9-.2 .9,.3 .9,.1 .9,.7 .9-.7 .9-.7 .9,0 .9-1.4 .9,.2 .9-.2 .9-.2 .9,.4 .9,1 .9,.5 .9-.9 .9,1.6 .9,.5 .9,2.7 .9-1.9 .9-.3 .9,.7 .9-.5 .9-1 .9,.6 .9-.2 .9-1 .9,.1 .9-.3 .9-.3 .9,2.2 .9-2 .9-1.1 .9,.5 .9,0 .9-.6 .9-1 .9-1.9 .9-2.7 .9,1.9 .9,3.9 .9,1 .9-2.3 .9,1.6 .9-.3 .9,2 .9-1.6 .9-.4 .9,0 .9,1.4 .9,.9 .9,.4 .9-1.8 .9-1.4 .9,1.1" fill="none" stroke="#b4b4b4" stroke-width="1.25" stroke-linejoin="round" />
<path d="M48.5,712.5l.9-.8 .9-1.3 .9,1.8 .9,.9 .9-1 .9,.3 .9,.9 .9,.3 .9,0 .9-.6 .9-.2 .9,2 .9-.8 .9-.3 .9-.7 .9,1 .9,2.6 .9-.9 .9-.5 .9-1.3 .9-.8 .9-.5 .9,1.9 .9-.7 .9-1.2 .9,.9 .9,1 .9-.4 .9,.9 .9-1.1 .9,.1 .9,.2 .9-2.1 .9-.3 .9,.8 .9,1 .9-1.8 .9,.6 .9,.9 .9-.8 .9-.3 .9-.6 .9,.5 .9-.3 .9,.4 .9,.5 .9,.6 .9-1.5 .9-1.9 .9-2.2 .9,1.8 .9,2.4 .9,0 .9-.1 .9,.2 .9-2 .9-1.4 .9-2.8 .9,1.1 .9,.2 .9,2.4 .9,3.1 .9,1.5 .9-.2 .9,.1 .9,1.7 .9,2.3 .9,.7 .9,.4 .9,.3 .9-.1 .9-.7 .9-.7 .9-.3 .9-1.4 .9,.7 .9-1.1 .9-1.8 .9-.7 .9-1.1 .9-1 .9,1 .9,.2 .9-1.1 .9,.1 .9-.7 .9-1 .9,1.4 .9,1.4 .9,.5 .9-1.1 .9-.7 .9,1.7 .9,1.4 .9,.4 .9-.9 .9-.3 .9,1.1 .9,.4 .9-.6 .9,1.1 .9-.7 .9-.6 .9,.3 .9-.4 .9-.7 .9-.1 .9-.8 .9,.8 .9-1.9 .9-.6 .9,.9 .9-.4 .9,.8 .9-.5 .9,.2 .9,1.4 .9,.2 .9-1.1 .9-3.4 .9,.7 .9,3.1 .9,1 .9-1 .9-.2 .9-1 .9,1.1 .9-.4 .9,.1 .9,.3 .9,.3 .9,.3 .9-.2 .9-1.7 .9,1.2 .9,.6 .9,1.2 .9-1 .9,.1 .9-5.5 .9-1.8 .9,0 .9,4.6 .9,.4 .9,.3 .9,.1 .9-.2 .9,2.5 .9,.2 .9,.1 .9-1.7 .9,1.5" fill="none" stroke="#b4b4b4" stroke-width="1.25" stroke-linejoin="round" />
<path d="M48.5,709.6l.9,.7 .9,1.9 .9-.1 .9-.9 .9-.9 .9,2 .9-1 .9,2.3 .9-2.3 .9-.1 .9-2.8 .9-1.6 .9,4.9 .9,1 .9,1.6 .9-.9 .9-.6 .9-1 .9,.2 .9-1 .9,2.3 .9,.2 .9-1.1 .9-2.2 .9-.1 .9,.8 .9-1.1 .9,1.2 .9,.2 .9,.2 .9,.5 .9,1.2 .9-2 .9-.3 .9-.8 .9,2 .9-1.7 .9,1 .9-.9 .9,.5 .9,.3 .9-.9 .9-3.3 .9,2 .9-.4 .9,.7 .9,.6 .9-.2 .9-.9 .9-.3 .9,1.9 .9-2.3 .9-1.6 .9-1.6 .9,.6 .9,5.3 .9,1.3 .9-1 .9-.6 .9,.3 .9-1.2 .9-.7 .9-.3 .9,.9 .9,.5 .9,3.3 .9-.2 .9,.4 .9,1.5 .9-.7 .9,.5 .9-.7 .9,1.2 .9-.3 .9,1.5 .9-.5 .9-1.5 .9-1.1 .9-1.8 .9-.6 .9-2.8 .9-1 .9,2.8 .9,.5 .9-.3 .9,1.1 .9,.5 .9,1.2 .9-.8 .9,1.1 .9-.8 .9,.5 .9,1.1 .9-1.8 .9-1.7 .9-.5 .9,1.5 .9-.1 .9,.9 .9-1 .9-.4 .9,.6 .9,.2 .9,.7 .9,.8 .9-1.4 .9,1.8 .9,.5 .9,.4 .9-.5 .9-1.4 .9-.5 .9,.6 .9,1.4 .9,.1 .9-.1 .9,.1 .9-.8 .9-.3 .9,1.6 .9-1.7 .9-1.4 .9,3 .9-2.3 .9,.4 .9-.3 .9-.6 .9,1 .9-2.3 .9-.1 .9,1.6 .9-1.6 .9-.1 .9-2.3 .9,4 .9,.9 .9-.4 .9,.8 .9-.5 .9-1.6 .9-1.6 .9,1.3 .9-1.6 .9,1.8 .9,.2 .9-.9 .9,1.8 .9-.9 .9,2 .9-.9 .9,1.3 .9-.2" fill="none" stroke="#b4b4b4" stroke-width="1.25" stroke-linejoin="round" />
<path d="M48.5,712.5l.9,1.9 .9-.7 .9,.2 .9-2 .9,1.8 .9,1.7 .9-1 .9-.5 .9,0 .9,.8 .9,.1 .9,1.2 .9-.7 .9,1 .9,.5 .9-2 .9-1.3 .9,1.3 .9-2.5 .9,.7 .9-.9 .9-.4 .9,.8 .9,2.1 .9-1.1 .9,1.5 .9-.7 .9-.5 .9-.5 .9-1.4 .9,1 .9,.2 .9,1.5 .9-1.4 .9,.2 .9-.4 .9,.1 .9-.3 .9-.1 .9-.6 .9-.4 .9,.1 .9,1.1 .9-.6 .9,0 .9,.3 .9-1.3 .9-.6 .9-3.6 .9,3.1 .9-.1 .9,.1 .9-2.1 .9,1.6 .9,.3 .9,.5 .9-.1 .9-.6 .9,2.6 .9-1.8 .9,1.6 .9-2.2 .9,1 .9,.1 .9,2.6 .9,.4 .9,1.1 .9,1.2 .9-2 .9,2.7 .9-.9 .9,3.2 .9-4.1 .9,1.2 .9-.3 .9,.3 .9,.6 .9-1.6 .9,.2 .9-1.2 .9-.9 .9-2.1 .9-.6 .9-1.3 .9,1 .9,1.7 .9,.5 .9-.6 .9-.3 .9,0 .9,.7 .9,.9 .9-.1 .9-.3 .9-1.8 .9,.3 .9,.9 .9,2 .9,.6 .9-.2 .9-1 .9,.6 .9,.6 .9-.6 .9-.2 .9,.7 .9,.2 .9-.9 .9,1.1 .9-1.3 .9-.7 .9,3.2 .9-1.4 .9-1.6 .9,2.6 .9-.3 .9,.4 .9,.1 .9-2.1 .9-3.5 .9,.1 .9,2.7 .9,.5 .9,.7 .9-.9 .9,.6 .9-1.6 .9,.1 .9-.6 .9,1.7 .9-.7 .9-2.1 .9,2 .9-.9 .9,1.3 .9-.8 .9,0 .9-.5 .9-.4 .9-.4 .9,.4 .9,.3 .9-1.2 .9,.9 .9,.8 .9,2.2 .9-1.5 .9,1.8 .9-1 .9,.2 .9,.3 .9,.8" fill="none" stroke="#b4b4b4" stroke-width="1.25" stroke-linejoin="round" />
<path d="M48.5,709.6l.9,.4 .9,1.1 .9-.5 .9-.5 .9,1.4 .9-.4 .9-.2 .9-.4 .9,.7 .9,.3 .9-1 .9,.9 .9-1.5 .9,3 .9-.3 .9-1.5 .9,0 .9-.4 .9-1.8 .9,.3 .9-1.3 .9,1.4 .9-.6 .9,.6 .9-.6 .9,1.7 .9,1.8 .9-2.3 .9-1.1 .9,1.3 .9-.8 .9,1.2 .9-.3 .9-.2 .9-.5 .9,2.2 .9-1.8 .9-.8 .9-2.5 .9,1.9 .9-1.8 .9,1.3 .9,1 .9-1.8 .9,.2 .9-.8 .9,1.1 .9,.4 .9-1.1 .9-.8 .9,1.7 .9-.3 .9-.4 .9,1.6 .9,.5 .9-.2 .9-1.7 .9-2.1 .9-1.3 .9-1.8 .9,.7 .9,1.1 .9,3.8 .9,2.5 .9,.5 .9,.2 .9,.7 .9,1.7 .9,2 .9,.3 .9,.7 .9-.3 .9,.3 .9-.2 .9-2.1 .9-1 .9,.2 .9-.4 .9-2.3 .9-1.1 .9-.2 .9-2.4 .9-2.9 .9-1.2 .9,4 .9,2.5 .9,.2 .9,1.8 .9-1.8 .9,0 .9,.3 .9-.4 .9-1.8 .9,.3 .9,1.4 .9,.2 .9-.3 .9,.6 .9,.4 .9,1.1 .9-.1 .9,1.3 .9-1.1 .9-1.1 .9-.6 .9,1 .9-.3 .9-.2 .9,1.7 .9-2.2 .9,.2 .9,.7 .9-.7 .9,.9 .9-.3 .9,1.2 .9,.2 .9,.5 .9-.9 .9-.4 .9-.4 .9-.4 .9-.4 .9,1.9 .9,.3 .9-.9 .9,1.7 .9-1.7 .9,0 .9-.6 .9-.7 .9-3.7 .9,3.4 .9-1.6 .9,2 .9-2 .9,.2 .9-.2 .9-.6 .9-.1 .9,1.8 .9,1.4 .9-1.6 .9-2 .9-2.4 .9,3.2 .9,2 .9,1.5 .9-.7 .9,1.2 .9,1 .9-.2" fill="none" stroke="#b4b4b4" stroke-width="1.25" stroke-linejoin="round" />
<path d="M48.5,709.1l.9-1.7 .9,3.4 .9-1.3 .9,.5 .9,.2 .9,0 .9,1.1 .9-.5 .9-.8 .9,.9 .9-2.1 .9,1.1 .9,1.2 .9-1 .9,.3 .9-1.8 .9,.3 .9,.2 .9-1.9 .9,1.4 .9,2.5 .9,.6 .9-1.5 .9,.2 .9,.9 .9-.4 .9-.6 .9-2 .9,.4 .9,.2 .9-.1 .9-.8 .9-.8 .9-1.1 .9,2.2 .9,.2 .9,.3 .9,1.4 .9-.4 .9-.3 .9-.6 .9,.4 .9-1.5 .9,.7 .9-.9 .9,.8 .9,1.3 .9-.4 .9-.4 .9-1.5 .9-.6 .9,2 .9,.9 .9-2.7 .9,1.3 .9-1.8 .9,.6 .9-.3 .9-.7 .9-.2 .9-.5 .9,1.3 .9,3.2 .9,.9 .9,1.5 .9-.1 .9,2.1 .9,.8 .9,.9 .9-.3 .9-.9 .9-1.2 .9,2.1 .9-3.6 .9-1.8 .9,.9 .9,1.2 .9-3 .9-4.4 .9-1.3 .9-.7 .9,4.3 .9,.1 .9,.8 .9,.3 .9-.3 .9,1.4 .9-.4 .9-1.6 .9,1.8 .9-1.2 .9,1.5 .9-.9 .9,1 .9-.2 .9-.9 .9,.8 .9-1.4 .9,2.2 .9-.7 .9,1.9 .9,.2 .9-1.4 .9,1.2 .9-1.2 .9-.2 .9-1.1 .9,1.3 .9,.1 .9-.9 .9-1.6 .9,1.7 .9,.3 .9,.2 .9,2 .9-1.8 .9,1.5 .9-1.1 .9-.1 .9-.1 .9,.3 .9-.6 .9,2.1 .9,0 .9-1.2 .9-1.6 .9,.2 .9-.2 .9-.5 .9-.6 .9,1.2 .9,1.5 .9-.8 .9-.5 .9,.9 .9-1.8 .9,1.5 .9-2.1 .9-.5 .9-1.3 .9,.3 .9-.5 .9-6.6 .9,2.2 .9,3.5 .9,.4 .9,.9 .9,.8 .9,1.4 .9,.5 .9,1.7 .9-.5" fill="none" stroke="#b4b4b4" stroke-width="1.25" stroke-linejoin="round" />
</g>
<path d="M48.5,712l.9,0 .9,.1 .9,.1 .9,.5 .9,.2 .9-.3 .9,.1 .9,0 .9,.1 .9,.3 .9-.2 .9-.3 .9,.5 .9,.4 .9-.6 .9-.3 .9,.2 .9,0 .9-.2 .9-.4 .9,.2 .9-.2 .9,0 .9,.1 .9,.3 .9,.3 .9-.8 .9,.5 .9-.6 .9,0 .9-.3 .9-.2 .9,0 .9-.1 .9-.4 .9,.1 .9-.5 .9,.4 .9-.1 .9-.1 .9-.4 .9-.6 .9-.2 .9-.3 .9,.4 .9-.3 .9-.2 .9-.4 .9-.6 .9-.2 .9-.1 .9,.6 .9,1.1 .9,.3 .9-.4 .9-.2 .9,.3 .9-.1 .9,.3 .9-.3 .9,.2 .9,.7 .9,.9 .9,.4 .9,.1 .9,.2 .9,.6 .9,.8 .9,.8 .9,.9 .9-.2 .9,.4 .9-.4 .9-.2 .9-.6 .9,.5 .9-.2 .9-.6 .9-.8 .9-.8 .9-.6 .9-.3 .9-.3 .9,0 .9,.1 .9,0 .9-.5 .9-.1 .9-.2 .9,.1 .9-.1 .9,.3 .9-.3 .9,.6 .9,.3 .9,.6 .9-.2 .9,.5 .9-.1 .9,0 .9,.3 .9-.4 .9-.1 .9-.4 .9,0 .9,0 .9-.2 .9,0 .9,.1 .9,.2 .9,.2 .9,.1 .9,0 .9,.7 .9,.1 .9,.4 .9,.2 .9-.1 .9,.3 .9,.2 .9-.3 .9,.1 .9-.3 .9-.2 .9-.1 .9,.1 .9-.3 .9-.6 .9,0 .9-.1 .9-.1 .9-.1 .9-.1 .9,.3 .9-.4 .9-.1 .9-.6 .9,.8 .9-.1 .9,.1 .9,.2 .9,.2 .9-.1 .9,.1 .9,.1 .9,.4 .9,0 .9,.3 .9,.6 .9-.1 .9-.1 .9-.1" fill="none" stroke="#050505" stroke-width="1.9" stroke-linejoin="round" />
<text x="213.6" y="515.4" font-size="15.9" font-weight="normal" text-anchor="start" fill="#161616" >BOS</text>
<text x="277" y="510.3" font-size="8.4" fill="#f26a36" font-weight="bold">+</text>
<text x="282.5" y="512.6" font-size="12.1" fill="#f26a36" font-weight="bold" class="fm" stroke="#f26a36" stroke-width="0.8">♀</text>
<rect x="263" y="518.3" width="34.4" height="201" fill="#fdc8af" />
<clipPath id="cJ2"><rect x="214" y="519.3" width="138.3" height="43.3"/></clipPath>
<rect x="214" y="519.3" width="138.3" height="43.3" fill="#000" />
<g clip-path="url(#cJ2)"><g filter="url(#b3)" stroke-linecap="round" fill="none">
<path d="M244.3,544.1L250.6,544.8" stroke="#163aa0" stroke-width="0.9" opacity="0.9"/>
<path d="M262.3,546.4L266.3,547.1" stroke="#297cc6" stroke-width="0.8" opacity="0.8"/>
<path d="M272.4,534L276.5,534.9" stroke="#0f2986" stroke-width="0.9" opacity="1"/>
<path d="M268.2,552.8L272.9,553.8" stroke="#15379c" stroke-width="0.8" opacity="1"/>
<path d="M256.6,541.8L259.5,542.4" stroke="#246ec4" stroke-width="1" opacity="0.7"/>
<path d="M265.6,535.9L271.8,536.2" stroke="#133396" stroke-width="0.6" opacity="0.9"/>
<path d="M247.6,557.2L251.6,557.9" stroke="#102b89" stroke-width="0.7" opacity="0.9"/>
<path d="M270.9,543.8L274.8,544.2" stroke="#2166be" stroke-width="0.7" opacity="0.9"/>
<path d="M251.1,543.1L254.1,543.6" stroke="#2268c0" stroke-width="0.7" opacity="0.8"/>
<path d="M270.4,541.7L274,541.9" stroke="#1f5cb7" stroke-width="0.7" opacity="0.8"/>
<path d="M258.4,553.8L263.8,554.3" stroke="#15389d" stroke-width="1" opacity="1"/>
<path d="M271,546.6L276.3,547.2" stroke="#1f5eb9" stroke-width="1" opacity="0.9"/>
<path d="M256.6,548.2L260.2,548.4" stroke="#1f5db8" stroke-width="0.7" opacity="1"/>
<path d="M244.7,542.9L250.9,544.1" stroke="#123091" stroke-width="1" opacity="0.7"/>
<path d="M262.3,534.6L267.5,535.2" stroke="#112e8e" stroke-width="0.6" opacity="0.9"/>
<path d="M261.5,552.9L265.1,553.2" stroke="#1a4aab" stroke-width="0.9" opacity="0.8"/>
<path d="M252.7,549.8L257.4,550.4" stroke="#1e58b5" stroke-width="1" opacity="0.9"/>
<path d="M262.1,550.8L265.4,551.1" stroke="#1b4cad" stroke-width="0.9" opacity="0.9"/>
<path d="M244.9,551.3L248.7,551.9" stroke="#133395" stroke-width="0.8" opacity="0.9"/>
<path d="M261,540.7L265,541.3" stroke="#2673c5" stroke-width="0.8" opacity="0.8"/>
<path d="M248.2,541.4L253.7,542.1" stroke="#173fa3" stroke-width="0.8" opacity="0.9"/>
<path d="M259.7,545.7L263.2,546.4" stroke="#61bfb5" stroke-width="0.8" opacity="0.9"/>
<path d="M262.1,550L266.7,550.7" stroke="#1c50af" stroke-width="0.8" opacity="1"/>
<path d="M275,553.1L280.9,553.4" stroke="#112e8e" stroke-width="0.9" opacity="0.8"/>
<path d="M250.1,536.4L255.8,537.1" stroke="#112e8e" stroke-width="0.8" opacity="0.8"/>
<path d="M254.3,544.5L258.2,545.1" stroke="#369bcd" stroke-width="1" opacity="0.8"/>
<path d="M275,546L278.9,546.7" stroke="#1945a8" stroke-width="0.6" opacity="0.9"/>
<path d="M259.2,550.6L263.1,551.2" stroke="#1f5cb7" stroke-width="0.8" opacity="0.8"/>
<path d="M264.7,548.7L270,549.3" stroke="#205fba" stroke-width="0.7" opacity="0.8"/>
<path d="M276.2,544.8L279.3,545.1" stroke="#14379b" stroke-width="0.8" opacity="0.8"/>
<path d="M247,544.2L250.1,544.7" stroke="#133497" stroke-width="0.8" opacity="0.8"/>
<path d="M265.4,534.2L271.7,535" stroke="#123192" stroke-width="0.7" opacity="0.9"/>
<path d="M262.5,539.5L266.3,540.2" stroke="#2572c4" stroke-width="0.9" opacity="0.8"/>
<path d="M261.4,550.2L264.7,550.4" stroke="#1e59b5" stroke-width="0.8" opacity="0.8"/>
<path d="M267.6,542L270.8,542.6" stroke="#1a4cac" stroke-width="0.7" opacity="0.9"/>
<path d="M259.5,540.3L265.5,541.5" stroke="#2572c4" stroke-width="0.7" opacity="0.7"/>
<path d="M267.6,534.4L272.7,535.3" stroke="#123293" stroke-width="0.7" opacity="0.8"/>
<path d="M271.6,537.5L275.9,537.9" stroke="#112f8f" stroke-width="0.8" opacity="1"/>
<path d="M263.6,550.5L266.2,550.9" stroke="#1b4fae" stroke-width="0.9" opacity="0.8"/>
<path d="M255.1,547.6L258.8,548.4" stroke="#3caacf" stroke-width="0.9" opacity="0.8"/>
<path d="M261.9,550.6L267.9,551.8" stroke="#1d57b4" stroke-width="0.9" opacity="0.8"/>
<path d="M254.6,546.5L260,547.5" stroke="#49b2c6" stroke-width="0.8" opacity="0.8"/>
<path d="M257,542.9L263,544" stroke="#236cc3" stroke-width="0.8" opacity="0.8"/>
<path d="M268.9,538.4L272.3,539.1" stroke="#1c50af" stroke-width="0.9" opacity="0.8"/>
<path d="M251,546.5L257.4,547.3" stroke="#2f8bc9" stroke-width="0.7" opacity="0.7"/>
<path d="M255.4,546.5L259,546.7" stroke="#1f5eb9" stroke-width="0.8" opacity="0.7"/>
<path d="M257.6,553.4L261.2,553.7" stroke="#1945a8" stroke-width="0.7" opacity="0.9"/>
<path d="M260.8,544.1L265.5,544.8" stroke="#6ac5ae" stroke-width="0.9" opacity="0.8"/>
<path d="M245.9,537L252.3,538.2" stroke="#102c8b" stroke-width="0.7" opacity="0.8"/>
<path d="M253.7,554L258.1,555" stroke="#123193" stroke-width="0.9" opacity="0.7"/>
<path d="M255.9,545.2L260,545.8" stroke="#56b9bc" stroke-width="0.6" opacity="0.8"/>
<path d="M272.1,551.8L275.2,552.1" stroke="#1845a7" stroke-width="0.6" opacity="1"/>
<path d="M263.6,547.3L268,547.7" stroke="#3aa6cf" stroke-width="0.7" opacity="0.8"/>
<path d="M265.2,546L267.7,546.3" stroke="#59babb" stroke-width="0.8" opacity="0.8"/>
<path d="M245.7,548.2L251.7,548.6" stroke="#163da2" stroke-width="0.7" opacity="1"/>
<path d="M258.4,537.8L263.6,538.7" stroke="#163aa0" stroke-width="0.7" opacity="0.7"/>
<path d="M271.5,556.7L276.3,557.1" stroke="#102b8a" stroke-width="0.8" opacity="0.7"/>
<path d="M264.7,540.5L267.5,540.9" stroke="#2061bb" stroke-width="0.9" opacity="0.8"/>
<path d="M261.4,552.6L265.6,552.9" stroke="#2165be" stroke-width="0.9" opacity="0.9"/>
<path d="M254.7,540.2L260.3,540.7" stroke="#1945a8" stroke-width="0.7" opacity="0.9"/>
<path d="M262.3,551.4L268,552.3" stroke="#1b4eae" stroke-width="0.6" opacity="0.7"/>
<path d="M266.4,546.8L271.8,547.8" stroke="#236dc3" stroke-width="0.6" opacity="0.9"/>
<path d="M261.7,545L266.7,546.1" stroke="#2e88c9" stroke-width="0.8" opacity="0.9"/>
<path d="M257.3,542.4L263,543.2" stroke="#359acc" stroke-width="0.8" opacity="0.9"/>
<path d="M262.7,546.5L265.7,546.9" stroke="#50b5c1" stroke-width="1" opacity="0.7"/>
<ellipse cx="231.7" cy="539.5" rx="2.3" ry="2.0" fill="#246ec4" stroke="none"/>
<ellipse cx="232.3" cy="539.9" rx="1.3" ry="0.9" fill="#d9c538" stroke="none"/>
<path d="M240.5,536.9L246.2,539.1" stroke="#1f5cb8" stroke-width="2.5" opacity="0.75"/>
<path d="M240.5,536.9L246.2,539.1" stroke="#6bc6ad" stroke-width="1.2"/>
<path d="M241.9,537.4L245.1,538.7" stroke="#efae27" stroke-width="1.7"/>
<path d="M242.6,537.7L244.4,538.4" stroke="#e44817" stroke-width="1.2"/>
<path d="M242.7,527.4L245.2,527.5" stroke="#143598" stroke-width="1.7" opacity="0.75"/>
<path d="M242.7,527.4L245.2,527.5" stroke="#379ecd" stroke-width="0.7"/>
<path d="M255.8,528.3L258.3,528.5" stroke="#0a1d73" stroke-width="1.7" opacity="0.75"/>
<path d="M255.8,528.3L258.3,528.5" stroke="#1d54b2" stroke-width="0.7"/>
<path d="M255.3,533.2L271.2,534.1" stroke="#163aa0" stroke-width="2.1" opacity="0.75"/>
<path d="M255.3,533.1L259.3,533.4" stroke="#308cca" stroke-width="1"/>
<path d="M259.3,533.5L263.3,533.8" stroke="#41adcc" stroke-width="1.2"/>
<path d="M263.3,533.6L267.2,533.8" stroke="#38a1ce" stroke-width="1.3"/>
<path d="M267.2,534L271.2,534.2" stroke="#2f8ac9" stroke-width="1.2"/>
<path d="M258.5,533.4L264.1,533.7" stroke="#5fbeb6" stroke-width="1.2"/>
<path d="M259.6,533.4L263,533.6" stroke="#b8d559" stroke-width="0.9"/>
<path d="M247.7,536.7L262.8,537.9" stroke="#143598" stroke-width="2" opacity="0.75"/>
<path d="M247.7,536.7L251.5,537" stroke="#236cc2" stroke-width="0.8"/>
<path d="M251.5,537L255.2,537.3" stroke="#2c83c8" stroke-width="0.9"/>
<path d="M255.2,537.4L259,537.7" stroke="#2a7dc7" stroke-width="1"/>
<path d="M259,537.6L262.8,537.9" stroke="#2165be" stroke-width="1.1"/>
<path d="M253,537.1L259.8,537.7" stroke="#5fbeb6" stroke-width="1.1"/>
<path d="M254.3,537.2L258.4,537.6" stroke="#b8d559" stroke-width="0.8"/>
<path d="M265.8,536.9L274.8,538.7" stroke="#0f2985" stroke-width="1.9" opacity="0.75"/>
<path d="M265.8,536.8L270.3,537.7" stroke="#1f5cb7" stroke-width="0.9"/>
<path d="M270.3,537.7L274.8,538.6" stroke="#1c52b0" stroke-width="0.8"/>
<path d="M249.7,540.1L265.8,542.1" stroke="#143598" stroke-width="2" opacity="0.75"/>
<path d="M249.7,539.9L252.9,540.3" stroke="#2e88c9" stroke-width="0.9"/>
<path d="M252.9,540.4L256.2,540.8" stroke="#2674c5" stroke-width="1.1"/>
<path d="M256.2,540.9L259.4,541.3" stroke="#39a3ce" stroke-width="0.8"/>
<path d="M259.4,541.5L262.6,541.9" stroke="#2267bf" stroke-width="1.1"/>
<path d="M262.6,541.8L265.8,542.2" stroke="#308eca" stroke-width="0.9"/>
<path d="M254.5,540.7L259.4,541.3" stroke="#48b1c7" stroke-width="1.1"/>
<path d="M255.5,540.8L258.4,541.2" stroke="#98d17e" stroke-width="0.8"/>
<path d="M266.8,540.5L277.8,543.1" stroke="#123091" stroke-width="1.9" opacity="0.75"/>
<path d="M266.8,540.5L270.5,541.4" stroke="#3394cb" stroke-width="1"/>
<path d="M270.5,541.1L274.2,542" stroke="#2163bc" stroke-width="0.9"/>
<path d="M274.2,542.1L277.8,543" stroke="#3394cb" stroke-width="0.8"/>
<path d="M271.2,541.5L274.5,542.3" stroke="#5fbeb6" stroke-width="1"/>
<path d="M271.9,541.7L273.9,542.2" stroke="#b8d559" stroke-width="0.7"/>
<path d="M247.2,545.1L264.3,546.5" stroke="#2165be" stroke-width="2.2" opacity="0.75"/>
<path d="M247.2,544.9L250.6,545.1" stroke="#9ed277" stroke-width="1"/>
<path d="M250.6,545.3L254,545.6" stroke="#93d084" stroke-width="1.3"/>
<path d="M254,545.8L257.5,546.1" stroke="#add465" stroke-width="1.1"/>
<path d="M257.5,545.8L260.9,546.1" stroke="#6dc6ac" stroke-width="1.3"/>
<path d="M260.9,546.3L264.3,546.6" stroke="#82ce99" stroke-width="1.3"/>
<path d="M252.3,545.5L263.4,546.4" stroke="#f4aa24" stroke-width="1.3"/>
<path d="M254.6,545.7L261.2,546.2" stroke="#e04116" stroke-width="1"/>
<path d="M264.8,545.4L279.8,548.1" stroke="#143598" stroke-width="2" opacity="0.75"/>
<path d="M264.8,545.3L268.5,545.9" stroke="#379fcd" stroke-width="0.9"/>
<path d="M268.5,546.3L272.3,546.9" stroke="#2c83c8" stroke-width="1"/>
<path d="M272.3,546.8L276.1,547.5" stroke="#40accc" stroke-width="1.1"/>
<path d="M276.1,547.5L279.8,548.2" stroke="#2470c4" stroke-width="1.1"/>
<path d="M267.8,545.9L273.8,547" stroke="#6bc6ad" stroke-width="1.1"/>
<path d="M269,546.2L272.6,546.8" stroke="#c8d846" stroke-width="0.8"/>
<path d="M250.7,548.5L269.8,550.5" stroke="#143598" stroke-width="2" opacity="0.75"/>
<path d="M250.7,548.3L254.5,548.7" stroke="#43aeca" stroke-width="0.9"/>
<path d="M254.5,548.7L258.4,549.1" stroke="#2e89c9" stroke-width="0.8"/>
<path d="M258.4,549.2L262.2,549.6" stroke="#5cbcb8" stroke-width="1.1"/>
<path d="M262.2,549.6L266,550" stroke="#3497cc" stroke-width="1"/>
<path d="M266,550L269.8,550.4" stroke="#2570c4" stroke-width="1"/>
<path d="M260.3,549.5L267.9,550.3" stroke="#5fbeb6" stroke-width="1.1"/>
<path d="M261.8,549.7L266.4,550.1" stroke="#b8d559" stroke-width="0.8"/>
<path d="M269.8,549.4L280.8,551.9" stroke="#0f2985" stroke-width="1.9" opacity="0.75"/>
<path d="M269.8,549.6L273.5,550.4" stroke="#3dabce" stroke-width="0.9"/>
<path d="M273.5,550.4L277.2,551.2" stroke="#2571c4" stroke-width="1"/>
<path d="M277.2,551.2L280.8,552.1" stroke="#3aa5cf" stroke-width="0.8"/>
<path d="M253.7,551.1L272.8,552.9" stroke="#1d54b2" stroke-width="2.1" opacity="0.75"/>
<path d="M253.7,551.1L257.6,551.5" stroke="#3599cc" stroke-width="1.1"/>
<path d="M257.6,551.4L261.4,551.8" stroke="#63c1b3" stroke-width="1.1"/>
<path d="M261.4,551.7L265.2,552.1" stroke="#38a1ce" stroke-width="1"/>
<path d="M265.2,552.3L269,552.7" stroke="#41adcb" stroke-width="1.3"/>
<path d="M269,552.7L272.8,553.1" stroke="#40accc" stroke-width="1.1"/>
<path d="M256.6,551.4L264.2,552.1" stroke="#c8d846" stroke-width="1.2"/>
<path d="M258.1,551.5L262.7,551.9" stroke="#f19821" stroke-width="0.9"/>
<path d="M240.6,548.4L256.5,554.7" stroke="#143598" stroke-width="2.1" opacity="0.75"/>
<path d="M240.6,548.5L243.8,549.8" stroke="#2166be" stroke-width="1.2"/>
<path d="M243.8,549.6L246.9,550.9" stroke="#3caacf" stroke-width="0.9"/>
<path d="M246.9,551L250.1,552.3" stroke="#2269c1" stroke-width="1"/>
<path d="M250.1,552.2L253.3,553.5" stroke="#3aa6cf" stroke-width="1"/>
<path d="M253.3,553.3L256.5,554.6" stroke="#2e89c9" stroke-width="1"/>
<path d="M250.9,552.5L256.5,554.7" stroke="#b8d559" stroke-width="1.2"/>
<path d="M252,552.9L255.3,554.3" stroke="#f4aa24" stroke-width="0.9"/>
<path d="M249.7,554.3L273.8,556.2" stroke="#1947a9" stroke-width="2" opacity="0.75"/>
<path d="M249.7,554.2L253.2,554.4" stroke="#359acc" stroke-width="1"/>
<path d="M253.2,554.7L256.6,555" stroke="#6ac5ae" stroke-width="0.9"/>
<path d="M256.6,555.1L260.1,555.3" stroke="#3aa5cf" stroke-width="1.1"/>
<path d="M260.1,555.3L263.5,555.5" stroke="#63c0b3" stroke-width="1.1"/>
<path d="M263.5,555.4L266.9,555.7" stroke="#71c9a9" stroke-width="0.9"/>
<path d="M266.9,555.7L270.4,555.9" stroke="#4fb5c2" stroke-width="1"/>
<path d="M270.4,555.7L273.8,556" stroke="#369bcd" stroke-width="1"/>
<path d="M252.1,554.5L260.6,555.2" stroke="#b8d559" stroke-width="1.1"/>
<path d="M253.8,554.6L258.9,555" stroke="#f4aa24" stroke-width="0.8"/>
<path d="M265.8,553.7L278.8,555.3" stroke="#143598" stroke-width="1.9" opacity="0.75"/>
<path d="M265.8,553.6L269,554" stroke="#3faccd" stroke-width="1"/>
<path d="M269,554.1L272.3,554.5" stroke="#2470c4" stroke-width="0.9"/>
<path d="M272.3,554.7L275.6,555.1" stroke="#2c83c8" stroke-width="0.7"/>
<path d="M275.6,555L278.8,555.4" stroke="#2f89c9" stroke-width="0.8"/>
<path d="M268.4,554L273.6,554.7" stroke="#5fbeb6" stroke-width="1"/>
<path d="M269.4,554.1L272.6,554.5" stroke="#b8d559" stroke-width="0.7"/>
<path d="M242.2,560.3L246.2,560.8" stroke="#1947a9" stroke-width="1.8" opacity="0.75"/>
<path d="M242.2,560.3L246.2,560.8" stroke="#4eb4c3" stroke-width="0.8"/>
<path d="M243.4,560.4L245.4,560.7" stroke="#5fbeb6" stroke-width="0.9"/>
<path d="M243.8,560.5L245,560.6" stroke="#b8d559" stroke-width="0.6"/>
<path d="M266.3,559.7L269.8,560.2" stroke="#0a1d73" stroke-width="1.8" opacity="0.75"/>
<path d="M266.3,559.7L269.8,560.2" stroke="#1d54b2" stroke-width="0.9"/>
<path d="M271.8,561.2L274.8,561.5" stroke="#0a1d73" stroke-width="1.7" opacity="0.75"/>
<path d="M271.8,561.2L274.8,561.5" stroke="#163aa0" stroke-width="0.7"/>
<path d="M234.2,552.4L235.2,552.9" stroke="#0a1d73" stroke-width="1.9" opacity="0.75"/>
<path d="M234.2,552.4L235.2,552.9" stroke="#163aa0" stroke-width="0.8"/>
<path d="M272.6,521.5L274.4,523.1" stroke="#0a1d73" stroke-width="1.8" opacity="0.75"/>
<path d="M272.6,521.5L274.4,523.1" stroke="#1d54b2" stroke-width="0.6"/>
<path d="M257.8,543.4L261.8,543.9" stroke="#0f2985" stroke-width="1.8" opacity="0.75"/>
<path d="M257.8,543.4L261.8,543.9" stroke="#2b80c7" stroke-width="0.8"/>
<path d="M306.9,537.4L312.8,541" stroke="#163aa0" stroke-width="2.3" opacity="0.75"/>
<path d="M306.9,537.3L309.8,539.1" stroke="#68c3b0" stroke-width="1.4"/>
<path d="M309.8,539.4L312.8,541.2" stroke="#62c0b4" stroke-width="1.2"/>
<path d="M308.7,538.5L311,539.9" stroke="#3292cb" stroke-width="1.4"/>
<path d="M309.1,538.8L310.5,539.6" stroke="#6bc6ad" stroke-width="1"/>
<path d="M304.2,540.9L305.7,541.2" stroke="#0a1d73" stroke-width="1.8" opacity="0.75"/>
<path d="M304.2,540.9L305.7,541.2" stroke="#1a4bac" stroke-width="0.8"/>
<path d="M308.5,544.2L313.3,546.8" stroke="#143598" stroke-width="2.1" opacity="0.75"/>
<path d="M308.5,544.2L313.3,546.8" stroke="#379ecd" stroke-width="1.1"/>
<path d="M315,548.1L317,548.7" stroke="#0a1d73" stroke-width="1.8" opacity="0.75"/>
<path d="M315,548.1L317,548.7" stroke="#1a4bac" stroke-width="0.8"/>
<path d="M305.9,547.9L316.5,553.7" stroke="#1947a9" stroke-width="2.4" opacity="0.75"/>
<path d="M305.9,547.9L309.4,549.9" stroke="#3497cc" stroke-width="1.2"/>
<path d="M309.4,549.6L313,551.5" stroke="#5cbcb8" stroke-width="1.2"/>
<path d="M313,551.9L316.5,553.9" stroke="#58babb" stroke-width="1.3"/>
<path d="M309.1,549.6L313.8,552.2" stroke="#88cf91" stroke-width="1.5"/>
<path d="M310,550.2L312.9,551.7" stroke="#d9c538" stroke-width="1.1"/>
<path d="M303.4,553.3L306.4,553.5" stroke="#0a1d73" stroke-width="1.7" opacity="0.75"/>
<path d="M303.4,553.3L306.4,553.5" stroke="#1a4bac" stroke-width="0.8"/>
<path d="M306.4,559.4L308.9,560.5" stroke="#0a1d73" stroke-width="1.7" opacity="0.75"/>
<path d="M306.4,559.4L308.9,560.5" stroke="#163aa0" stroke-width="0.6"/>
<path d="M316,552.7L317.2,554.4" stroke="#0a1d73" stroke-width="1.8" opacity="0.75"/>
<path d="M316,552.7L317.2,554.4" stroke="#1a4bac" stroke-width="0.7"/>
<path d="M330.6,536.7L331.8,538.1" stroke="#0a1d73" stroke-width="2" opacity="0.75"/>
<path d="M330.6,536.7L331.8,538.1" stroke="#1a4bac" stroke-width="1.1"/>
<path d="M330.8,539.9L332.8,541.1" stroke="#1d54b2" stroke-width="2.7" opacity="0.75"/>
<path d="M330.8,539.9L332.8,541.1" stroke="#5fbeb6" stroke-width="1.6"/>
<path d="M331.2,540.1L332.4,540.9" stroke="#54b8be" stroke-width="1.9"/>
<path d="M331.5,540.3L332.2,540.7" stroke="#a8d36b" stroke-width="1.4"/>
<path d="M330.4,543.5L332.2,544.9" stroke="#163aa0" stroke-width="2.7" opacity="0.75"/>
<path d="M330.4,543.5L332.2,544.9" stroke="#3caad0" stroke-width="1.9"/>
<path d="M332.3,547.3L338.7,548.9" stroke="#1a4bac" stroke-width="2.2" opacity="0.75"/>
<path d="M332.3,547.3L335.5,548.1" stroke="#2d86c8" stroke-width="1.4"/>
<path d="M335.5,548.3L338.7,549.1" stroke="#48b1c6" stroke-width="1.3"/>
<path d="M333,547.5L336.8,548.4" stroke="#78cda5" stroke-width="1.3"/>
<path d="M333.7,547.7L336,548.2" stroke="#d0ce3f" stroke-width="1"/>
<path d="M335.8,545.5L337.2,546.1" stroke="#0a1d73" stroke-width="2" opacity="0.75"/>
<path d="M335.8,545.5L337.2,546.1" stroke="#1d54b2" stroke-width="1"/>
<path d="M336.5,550.5L338.6,551.5" stroke="#0a1d73" stroke-width="2.2" opacity="0.75"/>
<path d="M336.5,550.5L338.6,551.5" stroke="#1d54b2" stroke-width="1"/>
<path d="M344.3,547.7L345.9,548.1" stroke="#0a1d73" stroke-width="1.9" opacity="0.75"/>
<path d="M344.3,547.7L345.9,548.1" stroke="#1a4bac" stroke-width="1"/>
<path d="M343.7,551.1L345.3,551.9" stroke="#0a1d73" stroke-width="1.9" opacity="0.75"/>
<path d="M343.7,551.1L345.3,551.9" stroke="#1a4bac" stroke-width="0.9"/>
<path d="M342.9,554.2L348.1,555.6" stroke="#143598" stroke-width="2.1" opacity="0.75"/>
<path d="M342.9,554.2L348.1,555.6" stroke="#379ecd" stroke-width="1.1"/>
<path d="M345,554.8L347.6,555.5" stroke="#54b8be" stroke-width="1.2"/>
<path d="M345.5,554.9L347,555.3" stroke="#a8d36b" stroke-width="0.9"/>
<path d="M347.5,550.1L348.7,550.9" stroke="#0a1d73" stroke-width="1.9" opacity="0.75"/>
<path d="M347.5,550.1L348.7,550.9" stroke="#1842a6" stroke-width="0.7"/>
<path d="M350.9,536.4L352.1,536.8" stroke="#0a1d73" stroke-width="1.9" opacity="0.75"/>
<path d="M350.9,536.4L352.1,536.8" stroke="#1d54b2" stroke-width="0.8"/>
<path d="M351.3,550.5L352.3,551.5" stroke="#0a1d73" stroke-width="2.1" opacity="0.75"/>
<path d="M351.3,550.5L352.3,551.5" stroke="#1f5cb8" stroke-width="1"/>
</g></g>
<rect x="263" y="519.3" width="34.4" height="43.3" fill="#482c24" opacity="0.9"/>
<g filter="url(#b2)">
<ellipse cx="268" cy="549.6" rx="1.7" ry="0.5" fill="#8a6aa8" opacity="0.4" transform="rotate(6.7 268 549.6)"/>
<ellipse cx="267.8" cy="545.9" rx="2.5" ry="0.4" fill="#7a5c98" opacity="0.4" transform="rotate(8.5 267.8 545.9)"/>
<ellipse cx="279.8" cy="549.5" rx="3.9" ry="0.4" fill="#8a6aa8" opacity="0.5" transform="rotate(11.6 279.8 549.5)"/>
<ellipse cx="272.5" cy="548.8" rx="2.9" ry="0.5" fill="#a890c0" opacity="0.6" transform="rotate(4 272.5 548.8)"/>
<ellipse cx="271.4" cy="548.9" rx="2.9" ry="0.5" fill="#8a6aa8" opacity="0.6" transform="rotate(8 271.4 548.9)"/>
<ellipse cx="271.5" cy="538.3" rx="2.4" ry="0.4" fill="#7a5c98" opacity="0.7" transform="rotate(4.8 271.5 538.3)"/>
<ellipse cx="275.9" cy="548.9" rx="3.7" ry="0.5" fill="#7a5c98" opacity="0.8" transform="rotate(5.9 275.9 548.9)"/>
<ellipse cx="276.1" cy="550.9" rx="1.9" ry="0.5" fill="#a890c0" opacity="0.7" transform="rotate(3.4 276.1 550.9)"/>
<ellipse cx="271" cy="536.9" rx="2.4" ry="0.4" fill="#a890c0" opacity="0.7" transform="rotate(8 271 536.9)"/>
<ellipse cx="273.2" cy="547.3" rx="2.7" ry="0.5" fill="#a890c0" opacity="0.7" transform="rotate(3.6 273.2 547.3)"/>
<ellipse cx="272.9" cy="540.8" rx="3.7" ry="0.4" fill="#7a5c98" opacity="0.5" transform="rotate(12.4 272.9 540.8)"/>
<ellipse cx="271.3" cy="551.6" rx="2.5" ry="0.6" fill="#9a80b8" opacity="0.4" transform="rotate(8 271.3 551.6)"/>
<ellipse cx="264.7" cy="549.3" rx="3.5" ry="0.6" fill="#9a80b8" opacity="0.5" transform="rotate(5.8 264.7 549.3)"/>
<ellipse cx="274.4" cy="544.9" rx="1.9" ry="0.5" fill="#9a80b8" opacity="0.7" transform="rotate(3.1 274.4 544.9)"/>
<ellipse cx="272.7" cy="551.2" rx="2.5" ry="0.4" fill="#9a80b8" opacity="0.8" transform="rotate(8.7 272.7 551.2)"/>
<ellipse cx="266.5" cy="538.2" rx="2.6" ry="0.6" fill="#8a6aa8" opacity="0.7" transform="rotate(12.5 266.5 538.2)"/>
<ellipse cx="265.8" cy="548.7" rx="2.6" ry="0.4" fill="#9a80b8" opacity="0.4" transform="rotate(9 265.8 548.7)"/>
<ellipse cx="280.5" cy="543" rx="3.7" ry="0.5" fill="#8a6aa8" opacity="0.5" transform="rotate(4.5 280.5 543)"/>
<ellipse cx="265.6" cy="551.5" rx="1.8" ry="0.5" fill="#8a6aa8" opacity="0.6" transform="rotate(12.8 265.6 551.5)"/>
<ellipse cx="268.3" cy="549.6" rx="3.4" ry="0.5" fill="#a890c0" opacity="0.6" transform="rotate(9.9 268.3 549.6)"/>
<ellipse cx="281.6" cy="539.9" rx="3.9" ry="0.6" fill="#a890c0" opacity="0.5" transform="rotate(10 281.6 539.9)"/>
<ellipse cx="266.8" cy="549.1" rx="2.8" ry="0.5" fill="#9a80b8" opacity="0.5" transform="rotate(6.3 266.8 549.1)"/>
<ellipse cx="278.7" cy="527.2" rx="3.5" ry="0.6" fill="#9a80b8" opacity="0.5" transform="rotate(10.4 278.7 527.2)"/>
<ellipse cx="271.9" cy="546.3" rx="2.7" ry="0.4" fill="#a890c0" opacity="0.5" transform="rotate(9.1 271.9 546.3)"/>
<ellipse cx="274.6" cy="535.5" rx="3.9" ry="0.4" fill="#a890c0" opacity="0.5" transform="rotate(5.2 274.6 535.5)"/>
<ellipse cx="271.8" cy="550.5" rx="2.7" ry="0.5" fill="#8a6aa8" opacity="0.4" transform="rotate(11 271.8 550.5)"/>
<ellipse cx="272.7" cy="534.6" rx="3.7" ry="0.5" fill="#7a5c98" opacity="0.4" transform="rotate(9.4 272.7 534.6)"/>
<ellipse cx="282.1" cy="542.3" rx="2.5" ry="0.6" fill="#7a5c98" opacity="0.4" transform="rotate(10.2 282.1 542.3)"/>
<ellipse cx="273.2" cy="548.9" rx="3.5" ry="0.4" fill="#7a5c98" opacity="0.8" transform="rotate(11.3 273.2 548.9)"/>
<ellipse cx="265.9" cy="540.6" rx="1.6" ry="0.5" fill="#9a80b8" opacity="0.4" transform="rotate(10.3 265.9 540.6)"/>
<ellipse cx="270" cy="542.2" rx="3.6" ry="0.4" fill="#9a80b8" opacity="0.5" transform="rotate(5.5 270 542.2)"/>
<ellipse cx="270.6" cy="555.3" rx="2.9" ry="0.6" fill="#a890c0" opacity="0.7" transform="rotate(3.6 270.6 555.3)"/>
<ellipse cx="279.4" cy="539.8" rx="3.6" ry="0.6" fill="#7a5c98" opacity="0.4" transform="rotate(4.3 279.4 539.8)"/>
<ellipse cx="271.8" cy="536.5" rx="1.9" ry="0.5" fill="#9a80b8" opacity="0.6" transform="rotate(10.3 271.8 536.5)"/>
<ellipse cx="265.6" cy="553.5" rx="3.5" ry="0.4" fill="#7a5c98" opacity="0.5" transform="rotate(8.6 265.6 553.5)"/>
<ellipse cx="267.7" cy="557.9" rx="2.9" ry="0.5" fill="#7a5c98" opacity="0.5" transform="rotate(12.1 267.7 557.9)"/>
<ellipse cx="264.9" cy="532.4" rx="3.8" ry="0.6" fill="#a890c0" opacity="0.6" transform="rotate(5 264.9 532.4)"/>
<ellipse cx="265.2" cy="555.6" rx="1.7" ry="0.5" fill="#7a5c98" opacity="0.8" transform="rotate(10.8 265.2 555.6)"/>
<ellipse cx="277.2" cy="555.2" rx="1.9" ry="0.6" fill="#a890c0" opacity="0.4" transform="rotate(12.7 277.2 555.2)"/>
<ellipse cx="277.7" cy="543.9" rx="1.9" ry="0.5" fill="#7a5c98" opacity="0.7" transform="rotate(5.2 277.7 543.9)"/>
<ellipse cx="278.1" cy="545.7" rx="2" ry="0.4" fill="#7a5c98" opacity="0.4" transform="rotate(10.2 278.1 545.7)"/>
<ellipse cx="277.1" cy="546.7" rx="2.8" ry="0.4" fill="#a890c0" opacity="0.7" transform="rotate(12.9 277.1 546.7)"/>
<ellipse cx="273.7" cy="545.4" rx="2.2" ry="0.6" fill="#a890c0" opacity="0.7" transform="rotate(4.8 273.7 545.4)"/>
<ellipse cx="276.6" cy="533.7" rx="2.5" ry="0.5" fill="#a890c0" opacity="0.6" transform="rotate(8.1 276.6 533.7)"/>
<ellipse cx="267" cy="551" rx="2.6" ry="0.4" fill="#9a80b8" opacity="0.6" transform="rotate(12.4 267 551)"/>
<ellipse cx="271.1" cy="543.2" rx="1.7" ry="0.6" fill="#9a80b8" opacity="0.5" transform="rotate(7.5 271.1 543.2)"/>
<ellipse cx="269.5" cy="549.7" rx="3.8" ry="0.6" fill="#9a80b8" opacity="0.4" transform="rotate(5.6 269.5 549.7)"/>
<ellipse cx="280.3" cy="541.9" rx="2.2" ry="0.5" fill="#9a80b8" opacity="0.5" transform="rotate(4.8 280.3 541.9)"/>
<ellipse cx="276" cy="546.6" rx="1.5" ry="0.5" fill="#8a6aa8" opacity="0.6" transform="rotate(12.8 276 546.6)"/>
<ellipse cx="270.2" cy="553.6" rx="3.1" ry="0.5" fill="#7a5c98" opacity="0.8" transform="rotate(11.9 270.2 553.6)"/>
</g>
<g filter="url(#b1)" opacity="1.0">
<path d="M264.6,531.8 265.7,532 266.7,532.1 267.7,531.8 268.7,531.4" fill="none" stroke="#9a7cc0" stroke-width="0.7" stroke-linecap="round" opacity="0.75"/>
<path d="M282.6,532.4 283.8,532.5 284.9,532.6" fill="none" stroke="#9a7cc0" stroke-width="0.7" stroke-linecap="round" opacity="0.7"/>
<path d="M272.3,531.1 273.3,530.9 274.4,530.9 275.4,531.1" fill="none" stroke="#8a70b0" stroke-width="0.6" stroke-linecap="round" opacity="0.6"/>
<path d="M264.2,535 265.1,535.1 266.1,535.2 267,535.2 268,534.9 268.9,534.5 269.8,534 270.8,533.6 271.7,533.3 272.7,533 273.6,532.9 274.6,532.9 275.5,533.1 276.4,533.5 277.4,534 278.3,534.4 279.3,534.8 280.2,535.1 281.1,535.3 282.1,535.5 283,535.6 284,535.7 284.9,535.8" fill="none" stroke="#8a6cb0" stroke-width="1.6" stroke-linecap="round" opacity="0.55"/>
<path d="M264.6,535 265.8,535.2 266.9,535.2 268,534.9 269.1,534.3" fill="none" stroke="#e6c63c" stroke-width="1.0" stroke-linecap="round" opacity="0.95"/>
<path d="M271.8,533.2 273.1,532.9 274.2,532.9 275.4,533.1" fill="none" stroke="#d9a83a" stroke-width="0.8" stroke-linecap="round" opacity="0.8"/>
<path d="M278.1,534.3 279.2,534.8 280.2,535.1 281.3,535.3 282.3,535.5 283.4,535.6 284.4,535.8" fill="none" stroke="#e8c840" stroke-width="0.9" stroke-linecap="round" opacity="0.9"/>
<path d="M264.2,539.8 265.1,539.9 266.1,540.1 267,540.1 267.9,539.8 268.9,539.3 269.8,538.9 270.8,538.5 271.7,538.1 272.6,537.8 273.6,537.7 274.5,537.7 275.4,537.9 276.4,538.3 277.3,538.8 278.3,539.2 279.2,539.6 280.1,539.9 281.1,540.1 282,540.3 282.9,540.4 283.9,540.5 284.8,540.6 285.8,540.6 286.7,540.6" fill="none" stroke="#7a5aa8" stroke-width="2.2" stroke-linecap="round" opacity="0.55"/>
<path d="M264.2,539.8 265.1,539.9 266.1,540.1 267,540.1 267.9,539.8 268.9,539.3 269.8,538.9 270.8,538.5 271.7,538.1 272.6,537.8 273.6,537.7 274.5,537.7 275.4,537.9 276.4,538.3 277.3,538.8 278.3,539.2 279.2,539.6 280.1,539.9 281.1,540.1 282,540.3 282.9,540.4 283.9,540.5 284.8,540.6 285.8,540.6 286.7,540.6" fill="none" stroke="#eea22c" stroke-width="1.35" stroke-linecap="round" opacity="1.0"/>
<path d="M265.1,539.9 266.1,540.1 267.1,540.1 268,539.7 269,539.3 270,538.8 270.9,538.4" fill="none" stroke="#f6dc3e" stroke-width="0.9" stroke-linecap="round" opacity="1.0"/>
<path d="M275.9,538.1 276.9,538.6 277.8,539 278.8,539.5 279.8,539.8 280.7,540.1 281.7,540.2 282.6,540.4" fill="none" stroke="#e8502a" stroke-width="0.85" stroke-linecap="round" opacity="1.0"/>
<path d="M283.6,540.5 284.9,540.6 286.2,540.6" fill="none" stroke="#f4d43c" stroke-width="0.8" stroke-linecap="round" opacity="1.0"/>
<path d="M264.2,544.7 265.1,544.8 266.1,544.9 267,544.9 267.9,544.6 268.9,544.2 269.8,543.7 270.8,543.3 271.7,543 272.6,542.7 273.6,542.5 274.5,542.6 275.4,542.8 276.4,543.2 277.3,543.6 278.3,544.1 279.2,544.4 280.1,544.7 281.1,545 282,545.1 282.9,545.3 283.9,545.4 284.8,545.4 285.8,545.4 286.7,545.4" fill="none" stroke="#7a5aa8" stroke-width="2.2" stroke-linecap="round" opacity="0.55"/>
<path d="M264.2,544.7 265.1,544.8 266.1,544.9 267,544.9 267.9,544.6 268.9,544.2 269.8,543.7 270.8,543.3 271.7,543 272.6,542.7 273.6,542.5 274.5,542.6 275.4,542.8 276.4,543.2 277.3,543.6 278.3,544.1 279.2,544.4 280.1,544.7 281.1,545 282,545.1 282.9,545.3 283.9,545.4 284.8,545.4 285.8,545.4 286.7,545.4" fill="none" stroke="#eea22c" stroke-width="1.35" stroke-linecap="round" opacity="1.0"/>
<path d="M265.1,544.8 266.1,544.9 267.1,544.9 268,544.6 269,544.1 270,543.7 270.9,543.3" fill="none" stroke="#f6dc3e" stroke-width="0.9" stroke-linecap="round" opacity="1.0"/>
<path d="M275.9,543 276.9,543.4 277.8,543.9 278.8,544.3 279.8,544.6 280.7,544.9 281.7,545.1 282.6,545.2" fill="none" stroke="#e8502a" stroke-width="0.85" stroke-linecap="round" opacity="1.0"/>
<path d="M283.6,545.3 284.9,545.4 286.2,545.4" fill="none" stroke="#f4d43c" stroke-width="0.8" stroke-linecap="round" opacity="1.0"/>
<path d="M264.2,549.1 265.1,549.2 266.1,549.3 267,549.3 267.9,549 268.9,548.6 269.8,548.1 270.8,547.7 271.7,547.4 272.6,547.1 273.6,546.9 274.5,547 275.4,547.2 276.4,547.6 277.3,548 278.3,548.5 279.2,548.8 280.1,549.1 281.1,549.4 282,549.5 282.9,549.7 283.9,549.8 284.8,549.8 285.8,549.8 286.7,549.8" fill="none" stroke="#7a5aa8" stroke-width="2.2" stroke-linecap="round" opacity="0.55"/>
<path d="M264.2,549.1 265.1,549.2 266.1,549.3 267,549.3 267.9,549 268.9,548.6 269.8,548.1 270.8,547.7 271.7,547.4 272.6,547.1 273.6,546.9 274.5,547 275.4,547.2 276.4,547.6 277.3,548 278.3,548.5 279.2,548.8 280.1,549.1 281.1,549.4 282,549.5 282.9,549.7 283.9,549.8 284.8,549.8 285.8,549.8 286.7,549.8" fill="none" stroke="#eea22c" stroke-width="1.35" stroke-linecap="round" opacity="0.95"/>
<path d="M265.1,549.2 266.1,549.3 267.1,549.3 268,549 269,548.5 270,548.1 270.9,547.7" fill="none" stroke="#f6dc3e" stroke-width="0.9" stroke-linecap="round" opacity="0.95"/>
<path d="M275.9,547.4 276.9,547.8 277.8,548.3 278.8,548.7 279.8,549 280.7,549.3 281.7,549.5 282.6,549.6" fill="none" stroke="#e8502a" stroke-width="0.85" stroke-linecap="round" opacity="0.95"/>
<path d="M283.6,549.7 284.9,549.8 286.2,549.8" fill="none" stroke="#f4d43c" stroke-width="0.8" stroke-linecap="round" opacity="0.95"/>
<path d="M264.2,552.2 265.2,552.4 266.1,552.5 267.1,552.5 268,552.2 269,551.7 269.9,551.3 270.9,550.9 271.8,550.5 272.8,550.2 273.7,550.1 274.7,550.2 275.6,550.4 276.6,550.9 277.5,551.3 278.5,551.7 279.4,552.1 280.4,552.4 281.3,552.6 282.3,552.8 283.2,552.9 284.2,553 285.1,553" fill="none" stroke="#7a5aa8" stroke-width="2.2" stroke-linecap="round" opacity="0.55"/>
<path d="M264.2,552.2 265.2,552.4 266.1,552.5 267.1,552.5 268,552.2 269,551.7 269.9,551.3 270.9,550.9 271.8,550.5 272.8,550.2 273.7,550.1 274.7,550.2 275.6,550.4 276.6,550.9 277.5,551.3 278.5,551.7 279.4,552.1 280.4,552.4 281.3,552.6 282.3,552.8 283.2,552.9 284.2,553 285.1,553" fill="none" stroke="#eea22c" stroke-width="1.35" stroke-linecap="round" opacity="0.85"/>
<path d="M265.1,552.3 266.1,552.5 267.1,552.5 268,552.2 269,551.7 270,551.3 270.9,550.8" fill="none" stroke="#f6dc3e" stroke-width="0.9" stroke-linecap="round" opacity="0.85"/>
<path d="M275.9,550.5 276.9,551 277.8,551.5 278.8,551.9 279.8,552.2 280.7,552.5 281.7,552.7 282.6,552.8" fill="none" stroke="#e8502a" stroke-width="0.85" stroke-linecap="round" opacity="0.85"/>
<path d="M283.6,552.9 284.1,553 284.7,553" fill="none" stroke="#f4d43c" stroke-width="0.8" stroke-linecap="round" opacity="0.85"/>
<path d="M268.2,557Q274.7,556.1 281.1,557.3" fill="none" stroke="#a088c8" stroke-width="0.7" stroke-linecap="round" opacity="0.8"/>
<path d="M266,559.2 267.3,559.1 268.7,558.5" fill="none" stroke="#8468b0" stroke-width="0.6" stroke-linecap="round" opacity="0.6"/>
<path d="M265.6,562Q275.6,561.1 285.6,562.3" fill="none" stroke="#9276c0" stroke-width="0.8" stroke-linecap="round" opacity="0.7"/>
<path d="M264.4,542.2 L264.2,553.2" stroke="#8a72c0" stroke-width="1" opacity="0.65"/>
</g>
<line x1="215.2" y1="565.1" x2="215.2" y2="589.2" stroke="#111" stroke-width="1.2" />
<text x="218.5" y="572.4" font-size="10.8" font-weight="normal" text-anchor="start" fill="#0a0a0a" >20 mV</text>
<text x="351.9" y="578" font-size="10.8" font-weight="normal" text-anchor="end" fill="#0a0a0a" >100 ms</text>
<line x1="330" y1="565.5" x2="352" y2="565.5" stroke="#444" stroke-width="1.5" />
<path d="M214.5,591.2l.6,.6 .5-.5 .6-1 .5,0 .5-.7 .6-.4 .5-.1 .6,.6 .5,1.8 .6,.1 .6,.8 .5,.5 .6-.1 .5-.3 .6,.6 .5,.3 .5,.7 .6,1.2 .5-.8 .6,.6 .6-.1 .5-.2 .6-.4 .5-.4 .5,1.5 .6-.4 .5,.5 .6-1.4 .5,.9 .6-.3 .6-.7 .5,1.5 .6,.9 .5,.3 .6,.7 .5-1 .5,.7 .6-.7 .5,.8 .6-.8 .6,.5 .5,.4 .6-.9 .5-.2 .5-.1 .6-.1 .5-.7 .6,.9 .5,.2 .6,0 .6-1.5 .5,0 .6,.5 .5-.8 .6,.1 .5,.5 .5-.4 .6-1 .5,1 .6-1.2 .6-.1 .5-1 .6-.7 .5,.5 .5,1.6 .6,1.9 .5,.8 .6,.4 .5-.7 .6-1.1 .6-1.1 .5-1.4 .6-.2 .5,1.3 .6,1.4 .5,2.8 .6,1.6 .5-.2 .5,.4 .6,1.6 .6,.2 .5,.4 .5,1.4 .6-.4 .5-1 .6-.4 .6-.1 .5-1.4 .5-1.1 .6-5.5 .6-6.3 .5-1.8 .5-2.1 .6-3.1 .6-1 .5-2.2 .6,2.6 .5,2.2 .5,.8 .6,1.1 .6,4.3 .5,4.9 .5,2.5 .6,.6 .5,1.6 .6,2.4 .6,1.1 .5,1.3 .5-.9 .6-.1 .6,.5 .5,.2 .5,.1 .6,1.8 .6,.1 .5,.2 .6-.4 .5-1.4 .5,.8 .6,.4 .6-.6 .5-.7 .5-.3 .6-.3 .5,.8 .6,.2 .6-.3 .5-.2 .5-.7 .6-.5 .6,.6 .5-.7 .5,.5 .6-2.3 .6-.7 .5-2.1 .6-.3 .5-.9 .5-2.7 .6-1.5 .6-2.2 .5-1.4 .5,.8 .6,.1 .5,1.6 .6,.9 .6,.7 .5,.1 .5,1.3 .6,.6 .6,.8 .5,.7 .5-.7 .6,.4 .6,.2 .5,.3 .6-.9 .5,.5 .5,.3 .6,.1 .6-.3 .5,.4 .5-1.8 .6-.2 .5-.2 .6,0 .6-1.3 .5,.1 .5,.9 .6-.9 .6-1 .5,0 .5-.4 .6,.7 .6,.4 .5-.9 .6,.6 .5,1.1 .5,.5 .6,.5 .6,1 .5,.9 .5-.6 .6,1.5 .5-.9 .6,.3 .6,.5 .5,1.3 .5-.2 .6,.5 .6-.7 .5,.2 .5,.5 .6,.1 .6,.3 .5,0 .6,1.1 .5-.4 .5,.7 .6,.4 .6,.8 .5-1.4 .5,1 .6,.3 .5,.5 .6,0 .6-.2 .5-.4 .5-.1 .6-.5 .6-.3 .5,1.1 .5-.8 .6,.1 .6-.4 .5-.6 .6-.2 .5-.1 .5,.7 .6-1.9 .6,.5 .5-.8 .5-.4 .6,.2 .5,.3 .6-.6 .6-.5 .5,.6 .6-.7 .5,.9 .6,.2 .5,0 .5-1.1 .6-.2 .6-.5 .5,.5 .6-.7 .5,.5 .6-.7 .5,0 .6,.2 .5-.2 .5,.7 .6,1.6 .5-.3 .6-.2 .6,.3 .5,1.1 .6-1.7" fill="none" stroke="#050505" stroke-width="1.75" stroke-linejoin="round" />
<text x="212.7" y="608.1" font-size="10.8" font-weight="normal" text-anchor="start" fill="#0a0a0a" >50 mV</text>
<line x1="210.5" y1="606.7" x2="210.5" y2="617.2" stroke="#222" stroke-width="1.2" />
<path d="M214,612l.9,.1 .9,0 .9-.2 .9,.2 .9-.4 .9,.5 .9,.1 .9-.3 .9-.2 .9,.3 .9-.5 .9,.4 .9-.3 .9,.1 .9,0 .9,.4 .9,.1 .9-.4 .9-.1 .9,0 .9,.5 .9-.6 .9,.1 .9,0 .9-.2 .9-.1 .9,.5 .9-.5 .9,.2 .9,.4 .9,0 .9-.1 .9,.1 .9,.4 .9,0 .9-.7 .9-.5 .9,.3 .9,.4 .9,.7 .9-.4 .9,.3 .9-.5 .9,.2 .9,.5 .9-.2 .9-.3 .9,.2 .9,.1 .9,.5 .9-.7 .9-.2 .9-.2 .9-.3 .9,.5 .9-.5 .9-.1 .9-.7 .9-1.1 .9-.5 .9,.7 .9,1.7 .9,.2 .9,.5 .9,.6 .9-.3 .9,.4 .9-.1 .9-.3 .9-.1 .9-.5 .9,.1 .9,.1 .9,.2 .9-.6 .9,0 .9,.5 .9-.2 .9-.4 .9,.1 .9,0 .9-.1 .9,.5 .9-.2 .9-.4 .9,0 .9-.1 .9,.1 .9,.1 .9-.6 .9,0 .9,.2 .9,.1 .9,.5 .9-.3 .9,.5 .9-.5 .9-.6 .9,.5 .9,.3 .9,.4 .9,.1 .9-.2 .9,.3 .9-.3 .9,.5 .9-.5 .9,.4 .9,.4 .9-1 .9,0 .9-.2 .9,.4 .9,.1 .9,0 .9,.3 .9-.3 .9,0 .9-.7 .9,.5 .9-.4 .9-.2 .9,0 .9,.4 .9-.6 .9,.2 .9,.3 .9,.6 .9-.1 .9-.4 .9,.2 .9,.3 .9-.1 .9-.1 .9,.1 .9,0 .9-.2 .9-.1 .9-.2 .9,.3 .9,0 .9,.1 .9-.5 .9,.4 .9-.1 .9-.3 .9,.1 .9,0 .9,.5 .9-.4 .9,.6 .9-.1 .9,.1" fill="none" stroke="#050505" stroke-width="1.4" stroke-linejoin="round" />
<path d="M214,615.1l.9-.3 .9,0 .9-.1 .9,.2 .9,.1 .9-.3 .9,0 .9,.1 .9,.1 .9,.1 .9,.3 .9,.7 .9-.3 .9-.4 .9,0 .9,.3 .9-.1 .9,0 .9,.3 .9,.1 .9-.2 .9-.3 .9-.1 .9,.1 .9-.4 .9,.2 .9,.7 .9-.4 .9-.3 .9-.5 .9,.7 .9,0 .9-.1 .9-.3 .9,1 .9-.9 .9,0 .9,.2 .9,.1 .9,.3 .9-.4 .9-.1 .9,0 .9,.7 .9-.6 .9,.2 .9,.2 .9,0 .9-.3 .9-.1 .9,0 .9-.1 .9,.4 .9,.2 .9-.4 .9-.3 .9-.3 .9-.3 .9-1 .9-.2 .9,1.4 .9,.8 .9,.6 .9,0 .9,.2 .9-.3 .9,.2 .9-.3 .9-.1 .9,.5 .9-.9 .9,.1 .9-.2 .9,0 .9-.3 .9,0 .9-.2 .9,.2 .9-.3 .9,0 .9,.4 .9-.2 .9,0 .9,.1 .9,.5 .9-.7 .9,.2 .9-.1 .9,0 .9,.3 .9,.2 .9-.1 .9-.1 .9,.1 .9,.2 .9,.2 .9,0 .9,.1 .9,.1 .9,.1 .9-.3 .9-.8 .9,.2 .9,0 .9,0 .9-.2 .9,.1 .9,.2 .9-.2 .9,.3 .9-.3 .9,.1 .9-.3 .9,0 .9,.8 .9-.6 .9,.2 .9-.2 .9-.2 .9,0 .9,.1 .9,.3 .9,.5 .9-.2 .9,0 .9,.2 .9-.2 .9-.6 .9,0 .9-.2 .9,.7 .9-.2 .9-.1 .9,0 .9,.1 .9-.2 .9,0 .9,.1 .9-.2 .9,.2 .9,.5 .9,.3 .9-.4 .9-.1 .9-.1 .9-.7 .9,.2 .9-.2 .9,.2 .9,.6 .9-.1 .9-.1 .9,.5" fill="none" stroke="#050505" stroke-width="1.4" stroke-linejoin="round" />
<path d="M214,618.9l.9,.7 .9-.1 .9,.1 .9,0 .9-.2 .9,.3 .9-.1 .9-.4 .9,0 .9,.2 .9-.8 .9,.7 .9,.1 .9-.5 .9,.3 .9-.2 .9,.5 .9,.2 .9-.4 .9-.4 .9,.1 .9-.1 .9,.7 .9-.4 .9-.2 .9,0 .9-.1 .9-.2 .9,0 .9,.1 .9,.5 .9-.2 .9-.3 .9,.3 .9,.2 .9,.1 .9,.2 .9,0 .9,.5 .9-.7 .9,.2 .9,.3 .9-.2 .9-.1 .9-.6 .9,.1 .9-.4 .9,.1 .9-.1 .9,.6 .9-.3 .9-.1 .9,.1 .9,.7 .9-.7 .9,.4 .9-.3 .9-1.2 .9-.6 .9-.2 .9,1.2 .9,.3 .9,.9 .9,.3 .9,.1 .9,.2 .9-.6 .9,.3 .9-.2 .9,.3 .9-.4 .9,.3 .9-.5 .9,.1 .9-.7 .9,.6 .9-.1 .9,.3 .9-.5 .9,.2 .9,.3 .9,.2 .9-.6 .9,0 .9-.4 .9,.5 .9-.2 .9,.2 .9-.2 .9-.2 .9,.4 .9-.7 .9,0 .9,.4 .9,.1 .9,.3 .9-.1 .9,.3 .9-.2 .9-.1 .9-.2 .9,.3 .9-.4 .9-.4 .9,.4 .9,.2 .9,.2 .9-.1 .9-.3 .9,.4 .9-.6 .9,.5 .9,.3 .9-.3 .9,.1 .9,.2 .9-.4 .9,.2 .9-.4 .9,.2 .9,.2 .9-.5 .9,.3 .9,.3 .9,.3 .9-.6 .9-.1 .9,.2 .9-.3 .9,.8 .9-.2 .9,.3 .9-.4 .9-.1 .9-.2 .9,.4 .9-.2 .9,.1 .9,.5 .9-.3 .9-.3 .9,0 .9,0 .9-.3 .9,.2 .9,.4 .9-.6 .9,.6 .9,.1 .9-.1 .9,.1 .9,.3 .9-.6" fill="none" stroke="#050505" stroke-width="1.4" stroke-linejoin="round" />
<path d="M214,623.2l.9,.2 .9,0 .9-.5 .9-.4 .9,.3 .9,.4 .9,.3 .9,.4 .9-1.1 .9,.4 .9-.2 .9,.2 .9-.1 .9,.2 .9,.2 .9,.2 .9-.4 .9,.5 .9-.1 .9,.2 .9,0 .9-.3 .9-.4 .9-.3 .9,.4 .9,0 .9,0 .9-.3 .9,.1 .9,.2 .9,.2 .9-.3 .9-.2 .9,0 .9-.2 .9,.2 .9,.1 .9,0 .9,.2 .9-.3 .9,.2 .9-.6 .9,.5 .9,.4 .9,.1 .9-.6 .9,.1 .9,.2 .9,.1 .9,.1 .9-.4 .9-.2 .9,.6 .9-.5 .9,0 .9,.2 .9-.7 .9-.6 .9-.8 .9,.6 .9,.6 .9,.6 .9,.5 .9,.2 .9-.1 .9,.6 .9,.6 .9-.6 .9-.4 .9,.1 .9-.3 .9,.7 .9-.3 .9-.4 .9-.4 .9,.2 .9-.2 .9,.5 .9,0 .9-.2 .9,.3 .9-.6 .9,.6 .9,.1 .9-.4 .9,.2 .9,.3 .9,.2 .9,0 .9-.5 .9,.5 .9-.1 .9-.4 .9-.4 .9,.4 .9-.5 .9,.1 .9,.2 .9,0 .9-.6 .9,.7 .9,.3 .9,.5 .9-.7 .9-.1 .9,.1 .9,.1 .9,.4 .9-.7 .9,.5 .9-.2 .9,.3 .9-.4 .9-.5 .9,.3 .9-.1 .9,0 .9,.2 .9,.3 .9-.3 .9-.2 .9,.1 .9-.3 .9-.3 .9,.7 .9,.3 .9,.2 .9-.1 .9,.5 .9-1.1 .9-.1 .9,.2 .9-.2 .9,.2 .9-.4 .9,.2 .9,0 .9,.1 .9-.4 .9,.1 .9,0 .9-.7 .9,.6 .9,.3 .9,0 .9,.1 .9,.2 .9-.3 .9,0 .9-.1 .9,.2 .9-.2 .9,.2" fill="none" stroke="#050505" stroke-width="1.4" stroke-linejoin="round" />
<path d="M214,627.2l.9-.4 .9,.2 .9,.4 .9,0 .9,.7 .9,0 .9-.1 .9,.1 .9-.9 .9,.5 .9,.2 .9-.5 .9,.4 .9,.5 .9-.2 .9-.2 .9,.1 .9,0 .9-.6 .9,.6 .9,.2 .9-.6 .9-.1 .9,.5 .9-.2 .9-.5 .9,.8 .9-.7 .9,.3 .9,0 .9-.4 .9-.4 .9-.1 .9,.3 .9,.1 .9-.3 .9,.5 .9-.3 .9,.2 .9,0 .9-.4 .9,.3 .9,.4 .9,0 .9-.3 .9-.4 .9,1.2 .9-.8 .9,.7 .9,0 .9-.4 .9,.6 .9-.2 .9-.3 .9-.7 .9,.3 .9-.3 .9-1.4 .9-.4 .9-.1 .9,1.4 .9,.9 .9,1 .9,.3 .9-.2 .9-.3 .9,.5 .9-.5 .9,.8 .9-.5 .9,.4 .9-.6 .9-.4 .9-.1 .9,.2 .9,.3 .9-.4 .9-.1 .9-.3 .9,.2 .9,.3 .9-.3 .9,0 .9,.5 .9-.2 .9,.2 .9-.3 .9,.1 .9,0 .9-.3 .9-.1 .9-.3 .9,.5 .9-.1 .9-.1 .9-.1 .9,.6 .9-.4 .9,0 .9-.5 .9,.2 .9-.2 .9,.4 .9-.2 .9,.1 .9,.1 .9,.3 .9-.4 .9-.2 .9,0 .9,.1 .9-.6 .9,.5 .9,0 .9,0 .9,.3 .9,.5 .9,.2 .9-.1 .9-.3 .9-.3 .9,.2 .9,.5 .9-.2 .9-.2 .9,.2 .9,.2 .9-.1 .9-.4 .9-.3 .9-.2 .9,.3 .9,0 .9,0 .9,.1 .9,.1 .9-.5 .9,.7 .9-.4 .9,.1 .9-.2 .9-.1 .9-.3 .9,.3 .9,.2 .9-.2 .9,.3 .9,0 .9-.1 .9,.2 .9-.5 .9,.4 .9,.2" fill="none" stroke="#050505" stroke-width="1.4" stroke-linejoin="round" />
<path d="M214,631.6l.9-.3 .9-.1 .9,.8 .9-.2 .9,0 .9,0 .9-.4 .9,.2 .9-.3 .9,.2 .9,0 .9,0 .9,.5 .9-.6 .9,.3 .9-.3 .9-.1 .9,0 .9,.2 .9,.7 .9-.7 .9,.3 .9,0 .9-.6 .9,.1 .9-.5 .9,.5 .9,.1 .9,.2 .9,.1 .9-.1 .9-.1 .9-.6 .9,.1 .9,.2 .9,0 .9,.3 .9-.4 .9,.2 .9-.2 .9,.4 .9,.2 .9-.2 .9,.1 .9,.1 .9,.1 .9-.1 .9,0 .9-.2 .9,0 .9-.2 .9,0 .9,.2 .9-.1 .9,.3 .9-.4 .9-.6 .9-.7 .9-.2 .9,.1 .9,.9 .9,.1 .9,1.2 .9-.5 .9-.2 .9,.5 .9,.3 .9-.2 .9,.4 .9-.2 .9-.1 .9-.2 .9-.2 .9,0 .9,.3 .9-.4 .9,0 .9,0 .9-.2 .9-.4 .9,.7 .9-.9 .9,.5 .9,.3 .9-.3 .9-.1 .9,0 .9,.1 .9,.5 .9-.1 .9,.1 .9-.2 .9,.2 .9-.1 .9-.4 .9,.6 .9-.4 .9-.1 .9,0 .9,.7 .9-.7 .9-.2 .9,.2 .9,.5 .9,0 .9,.2 .9-.6 .9,.7 .9-.5 .9,.5 .9-.6 .9-.4 .9,0 .9,.4 .9-.3 .9,.2 .9,0 .9,.4 .9,0 .9-.1 .9-.2 .9,.5 .9-.2 .9-.1 .9,0 .9-.4 .9,.5 .9,0 .9-.3 .9,.1 .9-.5 .9,.2 .9-.1 .9-.2 .9,.2 .9,0 .9,.2 .9-.2 .9,0 .9-.5 .9,.5 .9,0 .9,.1 .9,.1 .9,.1 .9-.2 .9,.5 .9-.2 .9-.6 .9,.3 .9,0 .9,.2 .9,.7" fill="none" stroke="#050505" stroke-width="1.4" stroke-linejoin="round" />
<path d="M214,636.2l.9-.2 .9-.5 .9,0 .9,0 .9,.5 .9,0 .9,.1 .9,.2 .9-.3 .9,.5 .9-.2 .9-.2 .9-.2 .9,0 .9,.3 .9,0 .9,.2 .9,.2 .9,0 .9-.2 .9-.5 .9,.1 .9-.1 .9,.5 .9-.1 .9,0 .9-.4 .9,.5 .9-.6 .9,.3 .9,0 .9-.3 .9,.2 .9-.5 .9,.6 .9,.2 .9,0 .9-.2 .9-.1 .9,.1 .9,0 .9-.1 .9,.1 .9,0 .9-.4 .9,.4 .9,.4 .9-.3 .9,.3 .9-.5 .9,0 .9,.2 .9,.3 .9,.5 .9-.2 .9-.2 .9-.6 .9-.1 .9-1.1 .9-.3 .9,.3 .9,1.5 .9,.1 .9,.2 .9,.2 .9,0 .9-.1 .9,.4 .9-.3 .9,0 .9-.2 .9-.1 .9-.6 .9,.7 .9,.1 .9-.2 .9-.1 .9-.7 .9-.1 .9,1.1 .9-.3 .9-.1 .9-.2 .9,.2 .9,.4 .9-.3 .9,.1 .9-.3 .9,.5 .9-.2 .9,.1 .9-.1 .9,.1 .9-.2 .9,.2 .9,.2 .9-.1 .9,.4 .9-.6 .9,0 .9-.2 .9-.1 .9,.4 .9-.1 .9,0 .9,.2 .9-.2 .9-.4 .9-.1 .9,.2 .9-.2 .9-.4 .9,.2 .9-.5 .9-.1 .9,.8 .9-.3 .9,.9 .9-.3 .9-.2 .9,.2 .9-.1 .9,.1 .9,0 .9-.4 .9,.3 .9-.3 .9,.8 .9-.2 .9,.4 .9-.5 .9,.3 .9-.2 .9-.1 .9,.1 .9-.1 .9,.1 .9,.1 .9-.5 .9,.7 .9-.3 .9-.2 .9-.3 .9,.3 .9,.3 .9-.4 .9-.2 .9,1 .9-.6 .9-.3 .9,0 .9,.5 .9,.1" fill="none" stroke="#050505" stroke-width="1.4" stroke-linejoin="round" />
<path d="M214,640l.9-.1 .9-.1 .9,.2 .9,.1 .9,0 .9,.2 .9,.2 .9-.1 .9,.1 .9,0 .9-.4 .9,.2 .9-.1 .9-.1 .9,.3 .9-.1 .9-.1 .9-.1 .9,.4 .9,.1 .9-.2 .9,.1 .9-.2 .9-.1 .9,.6 .9-.7 .9,.5 .9-.4 .9-.2 .9-.1 .9,.5 .9-.7 .9,.4 .9,0 .9-.4 .9,.2 .9,.3 .9,0 .9,.3 .9-.2 .9,.8 .9-.5 .9-.3 .9-.3 .9,0 .9,0 .9,.3 .9,0 .9,.1 .9-.1 .9,0 .9-.2 .9-.1 .9,.5 .9,.1 .9,0 .9-.8 .9-1.2 .9-1.2 .9,.1 .9,1.7 .9,1.1 .9,.5 .9,0 .9-.4 .9,.9 .9,0 .9-.7 .9,.1 .9-.1 .9-.5 .9,.7 .9,.1 .9-.6 .9,.1 .9,.1 .9-.2 .9,.1 .9,.1 .9-.3 .9,.1 .9,0 .9-.4 .9,.1 .9,.5 .9-.1 .9-.3 .9,.3 .9-.2 .9,.3 .9-.6 .9,.2 .9,.2 .9,.2 .9-.2 .9,.2 .9-.2 .9,.6 .9-.6 .9-.4 .9,.7 .9,0 .9,.2 .9-.3 .9,.2 .9,.3 .9-.5 .9-.4 .9,.4 .9,.6 .9-.5 .9,.3 .9-.4 .9-.1 .9-.5 .9,.4 .9,.1 .9,.1 .9-.4 .9,.1 .9-.2 .9,0 .9,.4 .9,.4 .9-.3 .9-.2 .9-.4 .9,.1 .9-.2 .9,0 .9,.6 .9-.1 .9,.2 .9-.8 .9-.1 .9,.3 .9,.3 .9,.2 .9-.1 .9-.2 .9-.4 .9,.3 .9-.5 .9,.8 .9-.5 .9,.4 .9-.3 .9-.2 .9-.4 .9,.6 .9-.4 .9,.5 .9,0" fill="none" stroke="#050505" stroke-width="1.4" stroke-linejoin="round" />
<path d="M214,644.4l.9-.3 .9,.3 .9-.2 .9,0 .9-.1 .9,.2 .9,.1 .9,0 .9-.1 .9,.5 .9,.3 .9-.4 .9-.1 .9-.4 .9,.1 .9,.4 .9,.2 .9,.1 .9-.4 .9,.1 .9,.2 .9-.3 .9,0 .9-.2 .9-.5 .9,.2 .9,.1 .9-.5 .9,0 .9,0 .9,.7 .9-.5 .9,.4 .9,.2 .9-.2 .9,0 .9,0 .9,.3 .9,.2 .9,.6 .9-.2 .9-.8 .9-.1 .9,.3 .9-.1 .9-.2 .9,.5 .9-.2 .9,0 .9-.1 .9,0 .9,.3 .9,0 .9-.2 .9,.1 .9-.4 .9-.4 .9-1.1 .9-.6 .9-.3 .9,1.3 .9,.8 .9,.1 .9,.4 .9,.6 .9-.5 .9,.2 .9-.7 .9,.6 .9,0 .9,.3 .9-.6 .9,.3 .9-.1 .9,.3 .9-.8 .9,0 .9,.2 .9,.8 .9-.3 .9-.2 .9-.3 .9-.1 .9,.1 .9-.1 .9-.2 .9,.3 .9,0 .9,0 .9-.2 .9,.2 .9,.3 .9-.2 .9,.4 .9-.6 .9,.4 .9,0 .9-.4 .9-.1 .9,.4 .9-.6 .9,.3 .9,.1 .9,.2 .9-.3 .9,0 .9-.4 .9,.8 .9-.1 .9-.1 .9,.5 .9-.3 .9,.1 .9-.1 .9-.3 .9,.2 .9-.1 .9,.3 .9-.5 .9-.1 .9-.1 .9,.1 .9,.2 .9-.7 .9,.7 .9,.1 .9-.3 .9,.3 .9,.4 .9,0 .9-.2 .9-.3 .9,.6 .9-.5 .9,.5 .9-.4 .9-.3 .9-.1 .9,.2 .9,0 .9-.1 .9,0 .9-.5 .9,.1 .9,.6 .9,.3 .9-.6 .9,.1 .9,.2 .9,.3 .9-.1 .9,0 .9,.1" fill="none" stroke="#050505" stroke-width="1.4" stroke-linejoin="round" />
<path d="M214,650.2l.9,0 .9-.2 .9,.1 .9,.2 .9,0 .9,.2 .9-.5 .9,0 .9-.6 .9,1 .9-.1 .9,.4 .9-.4 .9-.5 .9-.1 .9,.1 .9,.1 .9-.2 .9-.1 .9,.4 .9-.1 .9,.4 .9,.2 .9,0 .9-.6 .9-.2 .9,0 .9,.2 .9-.2 .9,.2 .9-.1 .9,0 .9,.3 .9-.4 .9,0 .9,.1 .9,0 .9,0 .9-.4 .9,1.2 .9-.4 .9-.2 .9,.1 .9,.6 .9,.3 .9-.3 .9-.5 .9-.1 .9-.1 .9,.1 .9-.2 .9,.3 .9-.1 .9-.1 .9,.1 .9,.3 .9-.3 .9-1 .9-.6 .9-.2 .9,.8 .9,.9 .9,.5 .9,0 .9-.1 .9,.1 .9-.5 .9,.7 .9,.3 .9-.9 .9-.4 .9,1 .9-.5 .9,.3 .9,.2 .9-.4 .9,0 .9,0 .9,.4 .9-.6 .9,.1 .9-.3 .9,.4 .9,.5 .9,.1 .9-.1 .9-.1 .9-.5 .9,.4 .9,0 .9,.4 .9-.8 .9,.3 .9,.2 .9,0 .9-.1 .9,0 .9,.3 .9-.4 .9-.5 .9,.3 .9-.2 .9,1.1 .9-.7 .9-.1 .9-.3 .9,.5 .9-.6 .9-.3 .9,.2 .9,.3 .9,.7 .9-.4 .9-.5 .9-.3 .9-.2 .9,.5 .9,0 .9,.4 .9,0 .9,.5 .9-.7 .9-.1 .9,.2 .9,0 .9-.4 .9,0 .9,.2 .9,.3 .9,.2 .9-.3 .9-.4 .9,.1 .9,.8 .9-.1 .9-.4 .9,.1 .9-.5 .9,.1 .9-.3 .9,.2 .9,.1 .9,.4 .9,.1 .9,.3 .9-.4 .9,.1 .9-.6 .9,.7 .9-.1 .9,.4 .9,.4 .9-.4" fill="none" stroke="#050505" stroke-width="1.4" stroke-linejoin="round" />
<path d="M214,654.2l.9,.2 .9,0 .9-.5 .9-.3 .9,.3 .9,.4 .9,.1 .9-.2 .9-.2 .9-.2 .9,.3 .9-.1 .9-.4 .9,.2 .9,.3 .9-.3 .9,.4 .9-.1 .9,.3 .9-.1 .9,0 .9-.1 .9-.2 .9-.1 .9,.2 .9-.3 .9,.1 .9,.3 .9,.3 .9-.1 .9-.2 .9,.1 .9,0 .9,.1 .9-.2 .9-.2 .9,.3 .9,0 .9,.1 .9,0 .9-.4 .9,.4 .9,0 .9,.1 .9-.2 .9-.1 .9-.3 .9,.5 .9-.1 .9,.1 .9-.5 .9,.2 .9-.3 .9-.1 .9,.1 .9,.1 .9-.5 .9-.5 .9-1 .9-.4 .9,.5 .9,1.6 .9,.4 .9,.1 .9,.6 .9,0 .9,.1 .9,0 .9,.3 .9-.4 .9,.2 .9-.4 .9,.1 .9-.1 .9-.3 .9-.1 .9,.3 .9,.2 .9,0 .9-.4 .9,0 .9,.1 .9-.6 .9,.6 .9,.3 .9-.2 .9-.8 .9,.2 .9,.4 .9,.2 .9-.5 .9-.2 .9,.3 .9,.1 .9-.1 .9-.2 .9,.2 .9,.2 .9,.4 .9-.1 .9-.6 .9,.2 .9,.2 .9-.4 .9,0 .9,.3 .9-.1 .9,0 .9,.3 .9-.2 .9-.4 .9,.5 .9-.1 .9,.7 .9-.4 .9,.4 .9-.4 .9-.5 .9,.4 .9,1 .9-.5 .9-.4 .9,0 .9-.1 .9,.1 .9-.5 .9-.3 .9,.2 .9,.6 .9,.5 .9-.7 .9,.1 .9-.6 .9-.1 .9,.3 .9,0 .9,0 .9-.4 .9,0 .9,.1 .9-.3 .9,.1 .9,.3 .9,.3 .9,.1 .9-.2 .9,.4 .9,0 .9,.2 .9-.5 .9,.3 .9,0 .9-.6" fill="none" stroke="#050505" stroke-width="1.4" stroke-linejoin="round" />
<path d="M214,658.7l.9,.3 .9,.1 .9-.6 .9,.4 .9-.3 .9-.2 .9-.4 .9,0 .9-.1 .9,.3 .9,0 .9,.3 .9-.6 .9-.2 .9,.5 .9-.2 .9,0 .9-.1 .9,0 .9,.2 .9,.6 .9,0 .9,.1 .9-.1 .9-.4 .9,.3 .9-.3 .9,.4 .9,.1 .9,.1 .9-.1 .9,0 .9-.2 .9,.4 .9-.2 .9,.4 .9-.1 .9,0 .9-.3 .9-.1 .9,0 .9-.2 .9-.1 .9,.4 .9,0 .9-.2 .9,.2 .9,0 .9-.1 .9,.6 .9,.5 .9,1.1 .9,.7 .9-1.3 .9-1.4 .9-.7 .9,0 .9-.6 .9-.6 .9,1.1 .9,.6 .9,.3 .9-.2 .9,.4 .9,.1 .9,0 .9-.2 .9,.1 .9,.1 .9-.2 .9,.5 .9-.8 .9-.1 .9-.6 .9,.7 .9-.3 .9-.2 .9-.1 .9,.1 .9,.1 .9-.2 .9,.1 .9-.3 .9,.7 .9-.2 .9,.2 .9-.7 .9,0 .9,0 .9,.4 .9-.3 .9-.4 .9,.2 .9,.3 .9,.8 .9-.6 .9,0 .9-.1 .9,.3 .9,.2 .9-.1 .9-.3 .9,.6 .9,0 .9-.5 .9,.2 .9-.1 .9,.4 .9-.9 .9,.6 .9-.3 .9-.3 .9,.5 .9-.4 .9,.5 .9-.4 .9,.1 .9-.2 .9-.2 .9,.8 .9-.2 .9-.6 .9,1 .9-.6 .9-.1 .9,.1 .9-.2 .9-.2 .9,.4 .9,.2 .9,.4 .9-.8 .9-.4 .9,.1 .9,.2 .9-.1 .9,.7 .9,.1 .9-.2 .9-.5 .9,.6 .9-.1 .9,0 .9-.3 .9,.1 .9-.3 .9,.2 .9,0 .9,.8 .9-.2 .9-.5 .9-.1 .9-.3" fill="none" stroke="#050505" stroke-width="1.4" stroke-linejoin="round" />
<path d="M214,663.1l.9,.1 .9,.4 .9-.4 .9-.4 .9-.3 .9,.6 .9-.1 .9-.3 .9,.6 .9,0 .9,.2 .9-.3 .9,.1 .9,.3 .9-.3 .9-.4 .9,0 .9-.4 .9,.3 .9-.4 .9-.1 .9,.4 .9,.3 .9-.1 .9,.3 .9,.3 .9,0 .9-.8 .9,.4 .9,.3 .9,.8 .9-.7 .9-.5 .9,.2 .9,.1 .9,.4 .9-.3 .9-.1 .9-.4 .9,.3 .9,.2 .9-.1 .9-.3 .9,.2 .9,.3 .9-.6 .9,.3 .9,.2 .9,.1 .9-.6 .9-.1 .9,.4 .9-.2 .9,.3 .9,.2 .9-.4 .9-1.2 .9-.4 .9-.4 .9,.9 .9,.4 .9,.4 .9,.3 .9,.5 .9,.5 .9-.8 .9,.6 .9-.1 .9,.3 .9,.6 .9-1.1 .9-.6 .9,.5 .9,.2 .9-.6 .9,0 .9,.3 .9-.3 .9,.2 .9-.7 .9,.4 .9,.1 .9,.4 .9-.1 .9-.3 .9-.3 .9,.4 .9-.3 .9,0 .9-.4 .9,0 .9,0 .9,.1 .9,.2 .9,0 .9,0 .9,.1 .9,.1 .9-.3 .9-.1 .9-.1 .9,.1 .9,.4 .9-.2 .9,.4 .9,0 .9-.6 .9,.1 .9,.1 .9,.4 .9,.3 .9,.3 .9-.7 .9-.1 .9,0 .9,.1 .9,.1 .9,.2 .9-.3 .9-.3 .9,.4 .9,0 .9,.1 .9,.1 .9-.3 .9-.4 .9-.1 .9,.6 .9,.1 .9-.1 .9,.1 .9-.2 .9,.2 .9-.5 .9-.2 .9,.4 .9-.5 .9,.1 .9,.4 .9-.1 .9,.2 .9-.3 .9,.4 .9-.7 .9,.7 .9-.1 .9,.3 .9-.2 .9,.4 .9-.8 .9,.1 .9,.5 .9-.4" fill="none" stroke="#050505" stroke-width="1.4" stroke-linejoin="round" />
<path d="M214,666.7l.9,0 .9-.2 .9,.1 .9-.1 .9,.3 .9,.4 .9-.2 .9-.2 .9-.2 .9,.3 .9,.1 .9-.6 .9,.6 .9,0 .9-.2 .9,.1 .9,.3 .9-.2 .9-.1 .9-.4 .9,.1 .9,.5 .9-.5 .9,.2 .9,0 .9,.1 .9,.2 .9,0 .9,.1 .9-.2 .9-.2 .9-.3 .9-.2 .9,.8 .9-.1 .9-.4 .9,.1 .9-.2 .9,.1 .9-.5 .9,.5 .9,.3 .9-.3 .9,.1 .9-.1 .9,.3 .9,.3 .9-.3 .9,.4 .9-.4 .9,.4 .9,0 .9-.3 .9,.1 .9,.6 .9-.4 .9-2.1 .9,.2 .9-.7 .9,1.6 .9,.6 .9,.1 .9,.4 .9-.1 .9,.2 .9-.2 .9,.3 .9,.2 .9,0 .9,0 .9-.8 .9,.2 .9,.1 .9-.1 .9,0 .9,0 .9,0 .9-.3 .9-.4 .9-.2 .9,.2 .9,.1 .9,.4 .9,.2 .9-.4 .9,0 .9,.5 .9,.1 .9-.2 .9-.4 .9-.2 .9,.5 .9-.1 .9,.1 .9,0 .9-.3 .9,.2 .9-.4 .9-.1 .9,.4 .9-.4 .9,.3 .9,.2 .9-.1 .9,.3 .9-.1 .9-.2 .9,.1 .9-.3 .9,.4 .9,.6 .9,0 .9-.2 .9-.2 .9,0 .9-.3 .9-.1 .9,.3 .9,0 .9-.2 .9-.1 .9,0 .9,.7 .9,.1 .9-.6 .9,.1 .9-.9 .9,.3 .9,.4 .9,.3 .9-.5 .9,.4 .9-.6 .9,.1 .9,.4 .9-.3 .9,.9 .9-.3 .9-.2 .9,.1 .9,0 .9,.1 .9-.6 .9,.4 .9-.1 .9-.2 .9-.2 .9-.3 .9,.2 .9,.2 .9,0 .9,0 .9,.1" fill="none" stroke="#050505" stroke-width="1.4" stroke-linejoin="round" />
<path d="M214,672.1l.9,.5 .9,.1 .9,.3 .9-.4 .9,.1 .9-.3 .9,.1 .9-.1 .9,0 .9-.4 .9,.3 .9-.6 .9,.3 .9,.6 .9-.2 .9,.3 .9,0 .9-.2 .9,.1 .9,.1 .9-.5 .9,.8 .9-.4 .9-.7 .9-.2 .9,.9 .9-.1 .9-.3 .9,.3 .9,.3 .9-.4 .9,.1 .9,.1 .9,.1 .9,.2 .9-1 .9,.5 .9,.3 .9-.2 .9,.4 .9-.6 .9-.1 .9,.1 .9-.2 .9,.2 .9,.2 .9-.1 .9,.6 .9-.6 .9-.3 .9-.3 .9,.3 .9,0 .9,.2 .9,0 .9-.1 .9,0 .9-.9 .9-.4 .9-.1 .9,1 .9,.8 .9,.6 .9-.3 .9,.2 .9-.3 .9,.2 .9,.1 .9,.4 .9-.2 .9-.7 .9,.2 .9,0 .9,0 .9,.2 .9,.2 .9-.5 .9-.2 .9,0 .9,.3 .9-.8 .9,.3 .9-.1 .9,.3 .9-.4 .9-.1 .9,.1 .9,.2 .9-.1 .9-.1 .9,.3 .9-.2 .9-.4 .9,.4 .9-.1 .9,.2 .9-.2 .9,.3 .9-.9 .9-.2 .9,.4 .9-.4 .9,.1 .9,.6 .9,.4 .9,.1 .9-.2 .9-.1 .9,.7 .9-.3 .9,0 .9-.1 .9,.6 .9,0 .9,.1 .9-.7 .9-.1 .9,.8 .9-.3 .9,.5 .9-.4 .9-.4 .9-.1 .9-.4 .9,.5 .9-.1 .9-.1 .9,.4 .9-.4 .9,0 .9-.3 .9,.4 .9,.1 .9-.3 .9,0 .9,.3 .9-.2 .9,0 .9-.3 .9,.7 .9-.3 .9-.3 .9,.5 .9,0 .9-.4 .9,.1 .9-.4 .9,.6 .9,.1 .9,0 .9-.6 .9,0 .9,.4" fill="none" stroke="#050505" stroke-width="1.4" stroke-linejoin="round" />
<line x1="209.8" y1="688.3" x2="209.8" y2="713.3" stroke="#111" stroke-width="1.2" />
<text x="212.7" y="696.5" font-size="10.8" font-weight="normal" text-anchor="start" fill="#0a0a0a" >20 mV</text>
<g stroke-opacity="0.55">
<path d="M214,712.7l.9-1.2 .9-.2 .9-.7 .9,2.1 .9-2.2 .9,1 .9-.1 .9-.9 .9,.4 .9-1.6 .9-.8 .9,1.5 .9-1.4 .9,.9 .9-.1 .9,.5 .9-1.2 .9-.5 .9,.6 .9,.3 .9-.1 .9,.4 .9,1.9 .9-1.3 .9,1.8 .9-1.2 .9,.4 .9-1.5 .9-1.1 .9,0 .9,1 .9-.4 .9-.3 .9-1.6 .9,2.3 .9-.8 .9-1.1 .9-.4 .9,.8 .9,1.1 .9,.2 .9-1.6 .9,.9 .9-.6 .9,.6 .9-.3 .9,1.8 .9-.8 .9-.3 .9,2 .9,0 .9,2.2 .9,.4 .9,.8 .9-2.2 .9-6.7 .9-3.8 .9-3.4 .9-2.7 .9,.9 .9,4 .9,3.6 .9,1 .9,4.7 .9,0 .9-.1 .9,.7 .9-.7 .9,1.5 .9,.8 .9,1.3 .9-.9 .9,.3 .9,.7 .9-1.1 .9,1.2 .9-.1 .9,.5 .9-1.2 .9-.7 .9,.4 .9-3 .9,2.1 .9-2.3 .9,2 .9-2 .9,2.1 .9-2.5 .9,1.5 .9-1.9 .9,1.2 .9-1.3 .9-.2 .9-.5 .9,.4 .9,.3 .9,0 .9-.3 .9,2 .9,0 .9-1.2 .9-.3 .9,1.9 .9-.5 .9-1 .9,.2 .9,.4 .9-1.4 .9,1.1 .9,1.3 .9-.1 .9-1.7 .9-.8 .9,1.2 .9,.2 .9,.6 .9,.6 .9-.4 .9,0 .9-.8 .9,.4 .9,.2 .9-.2 .9,1.4 .9-1.2 .9-.2 .9-.6 .9,1.5 .9,2 .9-.3 .9,.5 .9-2.7 .9-.8 .9,2 .9,.6 .9-.5 .9-1.1 .9,.4 .9-.9 .9,0 .9-1.1 .9,.5 .9-1.3 .9,2.4 .9-.1 .9-.3 .9,.7 .9,1.8 .9-2.2 .9,.5 .9-1.1 .9-.8 .9-.2" fill="none" stroke="#b4b4b4" stroke-width="1.25" stroke-linejoin="round" />
<path d="M214,711.5l.9-1.5 .9,.7 .9,0 .9,0 .9-.3 .9,2.7 .9,.9 .9-.6 .9-1.8 .9,.8 .9-1.3 .9,.6 .9-2.3 .9-.2 .9,.7 .9-1 .9,.8 .9,.3 .9-.7 .9,1.4 .9,0 .9,1.7 .9-.7 .9-.2 .9,1.4 .9-1.7 .9,.7 .9-1 .9-.8 .9,.3 .9-2.2 .9,.9 .9-.5 .9,.6 .9-1.5 .9,0 .9,1 .9,.4 .9,.8 .9-.3 .9-.1 .9-.9 .9,.6 .9,0 .9-1.1 .9,.7 .9-.4 .9,2.5 .9,1.7 .9-.5 .9,.1 .9-.5 .9,1.4 .9-1.7 .9-1.1 .9-4.9 .9-3.2 .9-1.4 .9-4.4 .9,1.8 .9,4.2 .9,.2 .9,4.3 .9,6.3 .9,.7 .9,.7 .9,.2 .9-.4 .9,1.3 .9-.3 .9-.4 .9,.5 .9-1.3 .9,.1 .9-2.7 .9-2.1 .9,.4 .9,2.6 .9,1 .9-1.6 .9,1.2 .9-.9 .9,.4 .9-1 .9-.7 .9,1.5 .9-2 .9-2 .9,1.1 .9-1 .9-1.2 .9,.3 .9-.8 .9,.2 .9,.8 .9,1.5 .9,1.7 .9,.5 .9-.1 .9,0 .9-2 .9-.3 .9-1.2 .9,2 .9-2.3 .9-.1 .9,4.4 .9-1.2 .9-.8 .9,0 .9-.1 .9,.1 .9,.9 .9-.6 .9,1.5 .9-.4 .9-.7 .9,0 .9,.8 .9-1.2 .9-.6 .9,.3 .9,1.8 .9-1.9 .9,2 .9,2.5 .9-.8 .9,.1 .9-2.7 .9,2.3 .9-1.3 .9-.3 .9,.4 .9-.8 .9-.1 .9-.1 .9-.6 .9-.5 .9-1 .9,.4 .9,1.1 .9-.2 .9-.4 .9,.3 .9,0 .9-.8 .9,3 .9-.8 .9-2.3 .9,.1 .9-.1 .9,1 .9,.8" fill="none" stroke="#b4b4b4" stroke-width="1.25" stroke-linejoin="round" />
<path d="M214,709.9l.9,.5 .9-.3 .9-.1 .9,.5 .9-.7 .9,1.1 .9,.1 .9-2.9 .9,1.1 .9-.9 .9,.1 .9,.6 .9,.9 .9-1.2 .9,.3 .9-.1 .9-.6 .9-.1 .9-.6 .9,2.7 .9-2.3 .9,3.2 .9-.8 .9,1.4 .9-.5 .9,.4 .9-1.5 .9-.1 .9-1.2 .9-3.1 .9,1.2 .9,.6 .9-1.1 .9,.4 .9,.7 .9-2.6 .9,.8 .9-.7 .9,1 .9,.4 .9-1.9 .9-.1 .9,1.4 .9,.8 .9,2.7 .9-1 .9,.8 .9,.1 .9,1.1 .9,.6 .9-1.4 .9-2.3 .9,2.4 .9-.5 .9-.2 .9-5.1 .9-3.7 .9-6.9 .9,1.6 .9,5 .9,4.9 .9,1.6 .9,2.5 .9,2.6 .9,1.6 .9,.2 .9,1.2 .9,.6 .9-.8 .9-.5 .9,2.4 .9-2.2 .9,.3 .9-2.3 .9,2.1 .9-2.6 .9,1.2 .9-.6 .9,0 .9-1.7 .9-1.5 .9-4.1 .9-1 .9,1.8 .9,3.6 .9,1 .9-.6 .9,.9 .9-.3 .9-.5 .9-.8 .9,1.2 .9,.7 .9-2.7 .9-.2 .9,1.2 .9-1.8 .9,1 .9-1.6 .9,.1 .9,.7 .9-1.2 .9,0 .9,1.2 .9,.6 .9,0 .9,.6 .9-1.6 .9,1.6 .9,1.1 .9-1.3 .9-.2 .9-.2 .9,2.5 .9,.3 .9-1.3 .9-.3 .9-.9 .9,1.1 .9-1.7 .9,.3 .9-.6 .9,1.9 .9,1.2 .9,2.3 .9-1.3 .9-1.1 .9,.4 .9-1.7 .9,.9 .9,.4 .9,1.3 .9-2.3 .9,0 .9-1.5 .9,2.6 .9-.9 .9,.2 .9,.2 .9-.3 .9-1 .9-.4 .9,.2 .9,1.7 .9-1 .9-1.3 .9,2.1 .9,.9 .9-.9 .9-1.2 .9,1.2 .9-.4 .9,.6" fill="none" stroke="#b4b4b4" stroke-width="1.25" stroke-linejoin="round" />
<path d="M214,710.1l.9,.2 .9-.1 .9-.9 .9,1.7 .9-.5 .9-1.1 .9,.3 .9,.3 .9-.9 .9,1.7 .9-.5 .9,1.6 .9,.5 .9,.1 .9-1.4 .9-1 .9,.1 .9-.1 .9-.7 .9,1.5 .9-.8 .9,.8 .9-1.1 .9,1.5 .9-2.1 .9,1.4 .9-1.7 .9-1.3 .9,.6 .9-.4 .9,1.1 .9-2.9 .9,.7 .9,1.1 .9-.2 .9,.7 .9,.8 .9-2.4 .9,.1 .9,.3 .9,2.1 .9-.6 .9-.2 .9,.7 .9,.4 .9-.7 .9,.6 .9,.9 .9,.3 .9,.1 .9-.5 .9,.3 .9-.4 .9,.9 .9,.3 .9-5.5 .9-2.9 .9-2.5 .9-2.8 .9,.7 .9,3.8 .9,2.1 .9,2.8 .9,3.5 .9,3 .9,1.8 .9,.7 .9,1.5 .9-1.4 .9-2.3 .9,1.3 .9,.5 .9-1.4 .9-.3 .9-1.5 .9,1.2 .9,.7 .9-2 .9,.1 .9-2 .9,.6 .9,.8 .9-.2 .9-.1 .9,.4 .9-.3 .9,.4 .9-.7 .9-1.1 .9-2.9 .9,.9 .9,1.2 .9-2.2 .9,1.9 .9,.1 .9,.7 .9-1.1 .9-.3 .9,1.5 .9,0 .9-.5 .9-.7 .9,1 .9-.8 .9-1.1 .9,.5 .9,1.2 .9-.9 .9-1.2 .9,1.2 .9-1.2 .9,1.8 .9,.2 .9,.8 .9,.1 .9-.2 .9,.6 .9-.6 .9,.3 .9-.6 .9,.1 .9,.5 .9-1.3 .9,0 .9-1.6 .9,1.7 .9,2.9 .9-2.3 .9,.9 .9,0 .9,1.1 .9-2 .9,1.5 .9,.1 .9,0 .9-.5 .9,.1 .9-.5 .9,1.1 .9-1.1 .9,1 .9,.5 .9-.5 .9,1.4 .9-2 .9-1.9 .9-.6 .9,.2 .9,0 .9,.7 .9-1 .9,1.7 .9-1.5" fill="none" stroke="#b4b4b4" stroke-width="1.25" stroke-linejoin="round" />
<path d="M214,711.5l.9,1.4 .9-.8 .9-.1 .9-.3 .9,.6 .9-1.9 .9,.4 .9-.3 .9-2.2 .9,2.4 .9,.5 .9-1.1 .9,.7 .9-.2 .9,1 .9-2.3 .9-.2 .9,.5 .9,1.1 .9-.8 .9-1.1 .9-.1 .9-.1 .9,.6 .9,1 .9,1.6 .9-.7 .9,.3 .9-3 .9,1.7 .9-.5 .9-2.2 .9-.1 .9,2.3 .9-.5 .9-.6 .9,.1 .9-.2 .9,.7 .9-.3 .9-1.7 .9,1.5 .9-1.9 .9,1.5 .9-.5 .9,.9 .9,.1 .9,2.2 .9-.1 .9-.2 .9-.7 .9,.6 .9,1.3 .9-1.3 .9,.4 .9-3.8 .9-4.4 .9-4.2 .9-3.4 .9,3.5 .9,3.7 .9,4.2 .9,2.6 .9,4.7 .9,.1 .9-1 .9,1.2 .9-1.6 .9,3.6 .9-.4 .9-.7 .9-1 .9-.6 .9,.3 .9-1.8 .9,1 .9-.2 .9-.9 .9-.2 .9,0 .9-.2 .9,.7 .9-1.2 .9,.8 .9-1.7 .9-1.4 .9-2.3 .9-1 .9,1.8 .9-.1 .9,.9 .9,1.1 .9-.7 .9,.3 .9-.5 .9-.7 .9,1.3 .9,.2 .9,.4 .9-.1 .9,0 .9,.5 .9,1.6 .9-2.6 .9,1 .9,.7 .9-1.3 .9,1 .9,.2 .9-1.1 .9-.9 .9-.5 .9,.3 .9,3.7 .9-1 .9-.4 .9-.2 .9,.4 .9,1.3 .9,.4 .9,.4 .9-.7 .9,.3 .9-.3 .9-.5 .9,0 .9-.2 .9-.4 .9,.7 .9-.3 .9,.3 .9-.8 .9,.9 .9,1.2 .9-.2 .9,0 .9-.7 .9,.8 .9-.5 .9-2.8 .9-1 .9,1.4 .9,2.3 .9-2.3 .9-.1 .9,.4 .9-.9 .9,1.3 .9-2.4 .9-.3 .9-.8 .9,.8 .9,2.3" fill="none" stroke="#b4b4b4" stroke-width="1.25" stroke-linejoin="round" />
<path d="M214,708.6l.9,1.2 .9-3.2 .9,.3 .9-1.8 .9,1.6 .9,1.7 .9-.3 .9-.6 .9,1.1 .9,1.1 .9-1.3 .9-1.3 .9,.9 .9,.2 .9-.4 .9,.3 .9,1.2 .9-.5 .9-.3 .9-.1 .9-.5 .9-.1 .9,0 .9-.8 .9-1.2 .9,.9 .9,.6 .9,.9 .9-.9 .9-1.5 .9,1.9 .9,.1 .9,.5 .9-1.2 .9-.3 .9-1.6 .9-.9 .9-1.7 .9,2.6 .9,1.5 .9,.7 .9,0 .9,.4 .9-1.3 .9-.6 .9,1.3 .9,0 .9-.6 .9-.7 .9-.4 .9,1.4 .9,.8 .9,.7 .9-.9 .9-.6 .9-4 .9-2.8 .9-2.8 .9-.5 .9,1.5 .9,5.2 .9,1.2 .9,2.4 .9,3.3 .9,1.9 .9,1.1 .9,.7 .9,2.6 .9,.5 .9,0 .9,1.4 .9-2.5 .9-1.1 .9-1 .9-.6 .9-1.7 .9,1.8 .9-2.6 .9-2.3 .9,1.1 .9,.2 .9-2.3 .9,1.4 .9-1.6 .9,1.7 .9-.2 .9,.3 .9-2.9 .9,2.5 .9-1.6 .9,2.5 .9-.2 .9-.1 .9-1.9 .9-2 .9,.2 .9-.7 .9-.4 .9,1.2 .9,1.5 .9-.2 .9,.1 .9,2.1 .9-.8 .9,1.3 .9-.6 .9-1.2 .9-.1 .9-2.7 .9,2.4 .9-1 .9-.6 .9-.1 .9,.5 .9-1 .9,1 .9,2.3 .9,2.3 .9-.6 .9,2 .9-3.1 .9-2.5 .9,.1 .9-.2 .9-.6 .9,1 .9,.7 .9-.4 .9,1.6 .9,.9 .9-1 .9-.7 .9-.3 .9,.8 .9,.5 .9,.7 .9-.2 .9,.4 .9,.1 .9-.6 .9,.1 .9-1.2 .9-1.1 .9,1.8 .9-2 .9-.5 .9,.3 .9-.1 .9,.3 .9-.9 .9,.2 .9,2 .9,2.5" fill="none" stroke="#b4b4b4" stroke-width="1.25" stroke-linejoin="round" />
<path d="M214,707.5l.9,.7 .9,1.7 .9-.1 .9-1.6 .9,1.6 .9-1.6 .9,.3 .9-1.7 .9-.7 .9,.9 .9,.3 .9,1.6 .9-.7 .9,.4 .9,.5 .9-.3 .9,.5 .9-2 .9,.5 .9,.3 .9-.9 .9-.4 .9-.1 .9,.6 .9-.4 .9-.9 .9-1.1 .9,.6 .9,.9 .9-.6 .9,1 .9-.9 .9-.2 .9-1.7 .9,1.4 .9-2.2 .9,2 .9-.1 .9,1 .9-1.3 .9-.2 .9,.8 .9-.8 .9,.2 .9,1.2 .9,1.4 .9-.5 .9,1.1 .9,.9 .9-.7 .9,1.1 .9-.2 .9,.5 .9,1.7 .9-1.7 .9-3.4 .9-4.1 .9-.5 .9-1 .9-.3 .9,1 .9,0 .9,3.4 .9,3.2 .9,3.7 .9,1.1 .9,1.1 .9,.8 .9,1.7 .9-.9 .9-1.3 .9,.2 .9-1.5 .9-.1 .9,.5 .9,1 .9,.3 .9-1.1 .9-.3 .9-.4 .9-1.3 .9-.8 .9-.5 .9-1.1 .9-.2 .9,.4 .9-.8 .9-.9 .9-.4 .9-.9 .9-.5 .9-1.3 .9,0 .9,.3 .9-1 .9,1.5 .9-.5 .9,.7 .9-.1 .9,.2 .9,.6 .9-.2 .9-.7 .9-.2 .9-.3 .9,2.1 .9,.7 .9-1.8 .9,1.4 .9-1.1 .9,1 .9-.1 .9,0 .9-1.4 .9-.1 .9-.7 .9-.5 .9,1.2 .9-.7 .9,1.1 .9,1 .9,.4 .9-.1 .9-1.7 .9-.3 .9,.4 .9-.2 .9,1.6 .9-.2 .9,.5 .9,1.5 .9-1.1 .9,.1 .9-1.5 .9-.2 .9-.2 .9-.4 .9,1.8 .9,1 .9-1 .9-.3 .9-.8 .9,.7 .9,0 .9-1.1 .9,.2 .9,.7 .9,.3 .9,0 .9-.8 .9,2.3 .9,1.3 .9-1.8" fill="none" stroke="#b4b4b4" stroke-width="1.25" stroke-linejoin="round" />
<path d="M214,709l.9-.9 .9,1.3 .9-1.7 .9-.7 .9,1.7 .9-.1 .9,1 .9,.1 .9,.5 .9-2.6 .9,0 .9,1 .9-1 .9,1.7 .9-.2 .9-.9 .9,2.1 .9-1 .9,1.4 .9-2.2 .9,.8 .9-.9 .9,1.3 .9-.8 .9-.8 .9,.1 .9-.2 .9-.2 .9,.8 .9-1 .9,.5 .9,.6 .9-1.9 .9-1.4 .9,2.4 .9-1 .9,1.9 .9-2 .9,1.7 .9-.6 .9,.2 .9,.2 .9-.4 .9-.6 .9-.5 .9,1.3 .9-2.6 .9,1.9 .9,1.6 .9,.2 .9-.7 .9-1.1 .9,2.4 .9,1.6 .9-1.5 .9-7.2 .9-6.7 .9-3.3 .9,.1 .9,1.7 .9,3.4 .9,2.9 .9,2.8 .9,4 .9,2.8 .9-2 .9,.4 .9,3.1 .9-.4 .9,2.5 .9-1.2 .9,1.9 .9-1.1 .9,.4 .9-1.5 .9-.7 .9-1.2 .9,1.1 .9-2.2 .9,.3 .9-1.4 .9,.1 .9,1.8 .9-1.7 .9-.3 .9,.5 .9-.7 .9-.7 .9,.6 .9,.4 .9-.4 .9-.1 .9,1 .9,.4 .9,.6 .9,.1 .9-.7 .9-1.2 .9-1.3 .9,2.3 .9-.9 .9-1.7 .9,.9 .9-1.9 .9-.3 .9,2.2 .9,.9 .9-.2 .9,.2 .9,.3 .9-.2 .9-.3 .9-.6 .9,1.1 .9-.2 .9,.2 .9-.9 .9,1.7 .9-2 .9-1.5 .9-1.7 .9,2.6 .9,.6 .9,1.5 .9,.7 .9-1.5 .9,.4 .9-.4 .9,.9 .9-1.4 .9-.2 .9,1.7 .9-.7 .9,.2 .9-.2 .9,0 .9,1.8 .9-2.3 .9,1.9 .9-.1 .9,.1 .9,.6 .9-.4 .9-1.7 .9-1.7 .9,.2 .9,0 .9,.6 .9-1.4 .9,2.5 .9-1.6 .9-1.2 .9,1.1" fill="none" stroke="#b4b4b4" stroke-width="1.25" stroke-linejoin="round" />
<path d="M214,711.6l.9,.5 .9,.8 .9-1.6 .9,1.5 .9,.1 .9,.3 .9,0 .9,.1 .9-.2 .9-1 .9-.2 .9,1.1 .9-1.4 .9,.1 .9,.8 .9-.4 .9,.5 .9-.1 .9-.6 .9,.5 .9-.8 .9-.6 .9-.4 .9-.4 .9,1.8 .9-.1 .9-.3 .9-1.2 .9-.5 .9,1.5 .9-.3 .9-1.9 .9,.5 .9,.4 .9,.5 .9-1 .9,.8 .9,0 .9,.6 .9,1.1 .9-.4 .9,.1 .9-1.4 .9-.3 .9-1.3 .9,.7 .9,1.6 .9,.1 .9,1.9 .9-.1 .9-.8 .9,2.6 .9-1.3 .9,1 .9-3 .9-5.4 .9-3.6 .9-2.5 .9-2.6 .9,2.1 .9,6.1 .9,.9 .9,2.3 .9,4 .9,1.3 .9,1 .9,.1 .9,1.9 .9-1.1 .9-2.4 .9,1 .9-3.1 .9,.2 .9-.4 .9-.1 .9,2 .9,2.1 .9,.4 .9-1 .9-1.3 .9,.6 .9,.4 .9-1.3 .9,.6 .9,.7 .9,.2 .9,.1 .9-2.6 .9-1 .9-1.6 .9,1.2 .9-1.1 .9-.2 .9,.1 .9,1.3 .9-.7 .9-.1 .9,2.2 .9-.7 .9,1.9 .9-2.1 .9-1.5 .9,.6 .9,.5 .9-1.4 .9,.2 .9,.3 .9,.3 .9,1.5 .9-1.6 .9,1.8 .9-1.2 .9-1.6 .9,1 .9,.5 .9-.1 .9,.2 .9,1.7 .9-.4 .9,.3 .9,3.1 .9,1 .9,1.2 .9-2.1 .9-2.3 .9,.7 .9,0 .9,.3 .9,.4 .9-1.4 .9-.8 .9,.5 .9-.1 .9,.2 .9-.8 .9,1.2 .9-2.1 .9,2.2 .9-2.5 .9-.5 .9-3.8 .9,2.5 .9,.9 .9,2.3 .9-1.8 .9,.1 .9-1 .9,1.1 .9,0 .9,.7 .9-.5 .9,.8 .9-.9" fill="none" stroke="#b4b4b4" stroke-width="1.25" stroke-linejoin="round" />
<path d="M214,708.4l.9-1 .9-1.6 .9-.4 .9,.5 .9,2.7 .9,.7 .9-.4 .9-.1 .9-.5 .9,.7 .9,.2 .9,.3 .9-.6 .9-.5 .9,2 .9-2.5 .9,.7 .9-1.7 .9,.6 .9-.3 .9-.9 .9-.7 .9-1.1 .9,2.6 .9-.7 .9-1.3 .9-.5 .9,1.6 .9,3.7 .9-2.1 .9,.9 .9-1.2 .9-.6 .9,1 .9-.5 .9-.8 .9,.1 .9,2.5 .9-3.2 .9,.6 .9,.1 .9-.5 .9,.7 .9,.1 .9,.2 .9,1 .9,.7 .9,1.7 .9-1.4 .9,.4 .9-.1 .9,.4 .9,.7 .9,1.2 .9-2.2 .9-5.2 .9-1.2 .9-1.8 .9-2.7 .9,.4 .9,5 .9,.3 .9,1.6 .9,2.9 .9,2 .9,2.9 .9,.3 .9,.7 .9-.7 .9,.8 .9-1.1 .9,.1 .9-2 .9,1.9 .9-.5 .9-1.7 .9,.9 .9-.3 .9-1.5 .9-1.2 .9,.2 .9-1.8 .9-.7 .9,1.6 .9,1.7 .9-3.1 .9-.2 .9-.2 .9-.9 .9,.8 .9-.9 .9,1.1 .9,.2 .9-1.8 .9,2 .9,.8 .9,.3 .9-1.5 .9,.3 .9-.5 .9-1.4 .9,1.2 .9,.4 .9,1.2 .9-1 .9,.9 .9,.5 .9-.7 .9-.2 .9-.3 .9,.2 .9,.1 .9,.2 .9-.4 .9-.7 .9,0 .9-.7 .9-.1 .9,1.5 .9,1.9 .9,.1 .9,0 .9-.7 .9,1.5 .9-1.6 .9,1.4 .9-1.6 .9,.2 .9-1.7 .9-.9 .9,0 .9-.1 .9,1.5 .9,2.2 .9-.8 .9,.7 .9-1 .9,.5 .9-1.7 .9-.1 .9,.9 .9,.9 .9-1.4 .9-.1 .9-1.4 .9,0 .9,.6 .9,.7 .9,1 .9,.3 .9,.4 .9-.1 .9-.9" fill="none" stroke="#b4b4b4" stroke-width="1.25" stroke-linejoin="round" />
<path d="M214,713.4l.9-.7 .9,1.4 .9-1.2 .9,.8 .9-.2 .9-.6 .9,.3 .9,2.6 .9,.5 .9-1.7 .9-1.3 .9-2.1 .9,.6 .9,.1 .9,1.2 .9-1.9 .9,.9 .9,.1 .9-.4 .9,.3 .9,.3 .9-1.5 .9,.4 .9-.1 .9,2 .9-.8 .9-.2 .9-1.2 .9,1.5 .9-1.8 .9,2.2 .9-.6 .9,.2 .9-.2 .9-.5 .9,.5 .9,.1 .9,.6 .9-2.5 .9,.3 .9-1.4 .9-.2 .9-1.1 .9,.6 .9,1.2 .9,.7 .9,.5 .9,.3 .9,1.5 .9-.2 .9,1.2 .9-1.9 .9,.7 .9,.5 .9,.1 .9-5.6 .9-2.1 .9-1.8 .9-.7 .9,.8 .9,2.4 .9-.4 .9,3.6 .9,5.5 .9,.9 .9-.4 .9,1 .9,.3 .9-.4 .9,.4 .9-2 .9,3 .9,1.5 .9-.6 .9,.5 .9-.6 .9,0 .9-2.6 .9-.2 .9-1.2 .9,0 .9-.9 .9-.7 .9,.6 .9-.2 .9-.3 .9-1.1 .9-1.1 .9-.3 .9-.1 .9-1.7 .9,.6 .9-.8 .9,0 .9,.3 .9,.9 .9,.2 .9,2 .9-2.2 .9,1.8 .9,.1 .9-.6 .9-1.6 .9-.2 .9-1.1 .9,1.4 .9-1 .9,0 .9,1.2 .9-.3 .9,1.4 .9,.1 .9,1.5 .9,.2 .9-2 .9,2.7 .9-.5 .9-1.9 .9,.8 .9,.8 .9-.9 .9-.9 .9,.2 .9-.5 .9,1.5 .9-.4 .9,1.5 .9,.4 .9,1.5 .9,1.7 .9,0 .9-2.2 .9-.8 .9-1.8 .9,1.4 .9-2.2 .9,1.2 .9,1.9 .9-.3 .9-.7 .9,0 .9-.4 .9-1.3 .9,.2 .9-.3 .9,0 .9-2 .9-1.9 .9-1 .9,1 .9,2.9 .9,.9 .9,.3" fill="none" stroke="#b4b4b4" stroke-width="1.25" stroke-linejoin="round" />
<path d="M214,716.3l.9-.1 .9-1.7 .9-.3 .9-.3 .9-1.3 .9-.9 .9-3.3 .9,3.4 .9,.8 .9,1.4 .9-.8 .9,.4 .9-.4 .9,.4 .9,.9 .9-3.2 .9,.7 .9-1.3 .9,1.5 .9-.8 .9,1.2 .9-1.7 .9-.7 .9,.3 .9,1.6 .9,1.1 .9,1 .9-1.3 .9,1.4 .9-.7 .9-.4 .9,.7 .9,.1 .9-1.2 .9-1.2 .9-2.8 .9,.8 .9-.4 .9,1.2 .9-1.1 .9,.3 .9,.9 .9-.6 .9-.1 .9,1 .9-.1 .9,.7 .9,2 .9,.5 .9-.2 .9,1 .9-1.6 .9,1.3 .9-1.5 .9-1.8 .9-2 .9-6.5 .9-4.3 .9-3.6 .9,3.4 .9,7.1 .9,2.3 .9,3.5 .9,3.7 .9,3 .9-.6 .9,3.2 .9,.5 .9-1.3 .9-1.6 .9,1.4 .9-.3 .9-1.2 .9,.2 .9,.2 .9-.5 .9-2.2 .9,.8 .9-1.7 .9,.7 .9,.2 .9-1.2 .9-1.2 .9,1.6 .9-1.3 .9-1.9 .9,.9 .9-.4 .9,.7 .9-2.7 .9,.6 .9,.9 .9,1.8 .9,.2 .9-1.8 .9-2.1 .9,2 .9-1 .9,1.3 .9-.1 .9,1 .9,.5 .9-2.2 .9,.4 .9,.2 .9-1.7 .9,1.2 .9-.1 .9,1.4 .9,.2 .9,.4 .9-.4 .9-2.3 .9,.2 .9,0 .9,.5 .9-.4 .9-.1 .9,2.3 .9-.8 .9-.5 .9,0 .9,.4 .9,1.7 .9,1.1 .9-2.7 .9,1.6 .9-.2 .9,.8 .9-.2 .9,1.1 .9-1.8 .9,.1 .9-.5 .9-.5 .9,2.1 .9-1.1 .9,.6 .9-1.1 .9-.2 .9-.9 .9-.1 .9-1.3 .9,.2 .9-1.7 .9,2.4 .9-.8 .9,.1 .9,.8 .9,.2 .9-.1 .9,.4 .9-.2" fill="none" stroke="#b4b4b4" stroke-width="1.25" stroke-linejoin="round" />
<path d="M214,708l.9,0 .9,.9 .9-1 .9-1.2 .9,.1 .9,.6 .9,.7 .9-.8 .9-.5 .9,.4 .9,1 .9-1.2 .9,1 .9,.1 .9,.6 .9,.1 .9,1.6 .9-2.2 .9,1.8 .9,.7 .9-2.1 .9,.5 .9-.5 .9,.2 .9-.7 .9-.8 .9,1.4 .9-1.2 .9,.4 .9-.8 .9-1.7 .9-1.8 .9,1.5 .9,0 .9-.2 .9,.2 .9-.2 .9-.4 .9,3.6 .9-.1 .9-2.4 .9,1.5 .9,.4 .9,.2 .9-2 .9,0 .9,1 .9,.7 .9,0 .9-.1 .9-.7 .9,2.2 .9,2.8 .9-.9 .9-1.3 .9-4.5 .9-3.2 .9-2.5 .9-1.3 .9,1.8 .9,1.3 .9,1.6 .9,3.7 .9,4.7 .9,.6 .9,2 .9-.9 .9,2 .9-2.7 .9,.2 .9-2.7 .9,.8 .9,1.2 .9-2.7 .9-.3 .9,1.2 .9,.3 .9,1.5 .9-1.7 .9,.2 .9-1.6 .9,.2 .9,.2 .9,1.2 .9-.7 .9-2.3 .9-1.3 .9-2.6 .9,1.6 .9,2.9 .9-1.5 .9,.2 .9,.1 .9-.4 .9-.4 .9-.4 .9,2 .9-.6 .9-.6 .9,.1 .9,.4 .9,2.1 .9-1 .9-.3 .9-.9 .9,.8 .9,1 .9,1.4 .9-.5 .9-.3 .9,.8 .9-1 .9,1.3 .9,0 .9-.4 .9-.9 .9,.7 .9-.5 .9,.8 .9-1 .9,1.2 .9-.4 .9-1.2 .9,2.3 .9-1.1 .9-.3 .9-1.2 .9,.3 .9,0 .9,0 .9,.6 .9,1.5 .9-.6 .9,.5 .9-1.9 .9-1 .9-.2 .9,2.3 .9-1.5 .9,1.3 .9,1.7 .9,2.1 .9-1.1 .9-1.6 .9-2 .9,.2 .9-.8 .9,.7 .9-.4 .9,.6 .9,.3 .9-.8 .9,.3" fill="none" stroke="#b4b4b4" stroke-width="1.25" stroke-linejoin="round" />
<path d="M214,708.1l.9,2.2 .9-.7 .9-.4 .9-1 .9,2.2 .9-.9 .9,.7 .9-.8 .9,1.2 .9,.3 .9-.7 .9-2.5 .9-1.1 .9-1.2 .9,1.5 .9,.9 .9,2.2 .9,.4 .9,.1 .9,.2 .9-1.6 .9,.6 .9,.4 .9,.7 .9-.3 .9-.3 .9,.7 .9-.2 .9-.5 .9,.3 .9-.5 .9-1.2 .9-1.5 .9,.2 .9-.8 .9,2.2 .9,1.1 .9-.3 .9-.6 .9-.2 .9-1.5 .9,.5 .9,.8 .9-1.9 .9,.2 .9,2.3 .9,1.6 .9,0 .9-.6 .9,.4 .9-1.7 .9,2.4 .9,.9 .9-1.1 .9-1.6 .9-5.8 .9-3.1 .9-2.3 .9-4.2 .9,.7 .9,5.3 .9,3 .9,2.6 .9,4.7 .9,2.5 .9,.6 .9,1.2 .9-.3 .9-1.1 .9,.3 .9,1.2 .9-.9 .9-.2 .9-.4 .9,.5 .9,.7 .9-.4 .9-1.5 .9,1.2 .9-1.7 .9,.6 .9-.6 .9-1.5 .9-.3 .9,1.3 .9-1.1 .9-2.7 .9,.3 .9,.5 .9-1.4 .9-1.1 .9,.2 .9,.5 .9-.1 .9,1.1 .9,.9 .9,.8 .9-.3 .9,.1 .9-1 .9,.2 .9,.1 .9-.1 .9,.6 .9,1.4 .9-.9 .9-.3 .9,.2 .9,1.3 .9-.5 .9,.1 .9,.3 .9-.5 .9-.2 .9,.4 .9,2.2 .9-2.3 .9,1.9 .9-.4 .9-1 .9,1.3 .9,.2 .9-1.3 .9-.5 .9,.6 .9,.9 .9-.9 .9-.1 .9-.1 .9,.9 .9-.8 .9-1.6 .9,0 .9-1.6 .9,.8 .9,1.3 .9-2.1 .9,3.1 .9-1.8 .9,.5 .9,.5 .9-.2 .9-2.3 .9-1.6 .9-2.4 .9,2.3 .9,1.8 .9,3.8 .9-1.6 .9,1 .9-.4 .9,.8 .9,.9" fill="none" stroke="#b4b4b4" stroke-width="1.25" stroke-linejoin="round" />
<path d="M214,708.8l.9,0 .9-.2 .9,0 .9-.8 .9-.4 .9-1.5 .9,1.8 .9,1.7 .9-.8 .9-.8 .9,2.1 .9-1.4 .9-1 .9,1 .9-.4 .9-.9 .9,.1 .9-1.3 .9,.1 .9,.9 .9,2.7 .9,.3 .9-1.6 .9-.7 .9-.6 .9-.7 .9,1.2 .9,2 .9-2.7 .9,.4 .9-1 .9,1.9 .9-1.3 .9-.4 .9-1 .9-1 .9,.7 .9,1.6 .9,.6 .9-2.1 .9,1.2 .9-1.4 .9,1 .9-2.6 .9,2.4 .9-.2 .9,2.3 .9-1.4 .9,.5 .9,1.3 .9-.6 .9,2.1 .9-1.6 .9,1.4 .9-2 .9-5.5 .9-3.4 .9-3.9 .9-2.9 .9,2.4 .9,4.9 .9,4.1 .9,2.9 .9,2.8 .9,1.6 .9,1.9 .9-.3 .9,1 .9-1.6 .9,.6 .9-.8 .9,.7 .9-.7 .9,0 .9-.3 .9,.8 .9-.9 .9-.8 .9,1 .9,.9 .9-1.9 .9,.2 .9-.8 .9,.6 .9-1.4 .9-1.1 .9-.4 .9-2 .9,1.8 .9-.3 .9-.5 .9,1 .9-3 .9,3.1 .9,.1 .9-.8 .9-1.4 .9,1.5 .9,1.2 .9-1.2 .9,0 .9,1.9 .9-1.5 .9,.6 .9-.7 .9-.8 .9,1.6 .9-1.6 .9,2.7 .9-.9 .9,.3 .9-.9 .9,.7 .9,0 .9,.7 .9,2.5 .9-.7 .9-1.5 .9-.6 .9,.7 .9,.3 .9-1.3 .9,.8 .9-1.1 .9,1 .9,0 .9-2.3 .9-.5 .9,1 .9,1.3 .9,1 .9-.2 .9-.9 .9-1.8 .9-.8 .9,3 .9-2.2 .9,.5 .9-1 .9,1.6 .9,.9 .9,.7 .9,0 .9-.1 .9-.7 .9,2 .9-1.7 .9,.1 .9-1.6 .9,2.6 .9,0 .9-.7 .9-.2" fill="none" stroke="#b4b4b4" stroke-width="1.25" stroke-linejoin="round" />
<path d="M214,711l.9-.4 .9,1.9 .9-.5 .9,.5 .9-.3 .9-1.1 .9,.5 .9,1.3 .9-1.3 .9,2.3 .9-.7 .9-1.9 .9,.1 .9-.7 .9,1.5 .9-.9 .9-.9 .9,.9 .9,.9 .9-.6 .9-.2 .9,1.2 .9-.2 .9-.1 .9,.1 .9-1.1 .9,.3 .9,2.1 .9-.1 .9,.2 .9-.7 .9-1.1 .9-.8 .9,1.6 .9-1.2 .9-.5 .9,.6 .9-.9 .9,.5 .9,1.2 .9-2.5 .9,.7 .9-1 .9,1.4 .9-2.6 .9,1.5 .9-.1 .9,.6 .9,.4 .9,1.4 .9-1.5 .9,.4 .9,.1 .9,2.7 .9,.2 .9-4.4 .9-4.8 .9,1.1 .9-3 .9-.1 .9,1.2 .9,3.4 .9,.3 .9,3.9 .9,3.7 .9-.2 .9,.4 .9,.7 .9,1.1 .9,.9 .9-.2 .9-1.5 .9,.2 .9-1.3 .9-.2 .9,.3 .9,.6 .9-3.2 .9,.4 .9-2 .9-.2 .9,1.2 .9,.6 .9,.6 .9,.3 .9,.3 .9-1.8 .9,.5 .9-.5 .9-2 .9-.7 .9,0 .9-1.2 .9,2.1 .9-.9 .9-.2 .9-.1 .9,.7 .9,3 .9-2 .9-.4 .9,.1 .9,0 .9-1.2 .9,1.1 .9,.7 .9,1.2 .9-1.4 .9,1.1 .9-1.9 .9,1.7 .9,.9 .9-1.9 .9,.1 .9-2.1 .9-.5 .9,1.8 .9-.8 .9,1.7 .9,0 .9-.4 .9,.1 .9,1.9 .9,.2 .9,.3 .9,.1 .9-1.5 .9,1.1 .9,.2 .9,1.1 .9-.5 .9,1.4 .9-1.6 .9,.5 .9-2.6 .9-.2 .9,.1 .9,.6 .9,0 .9-.2 .9-.3 .9-1 .9-.2 .9-.6 .9,2.2 .9-.1 .9,.8 .9-.5 .9-1.9 .9,.4 .9,1.5 .9-1 .9,.9" fill="none" stroke="#b4b4b4" stroke-width="1.25" stroke-linejoin="round" />
</g>
<path d="M214,711.4l.9,.3 .9-.3 .9-.2 .9-.4 .9,.6 .9-.1 .9,0 .9-.3 .9,.1 .9,.2 .9-.4 .9-.3 .9,0 .9,.1 .9-.5 .9-.2 .9,.2 .9-.1 .9-.1 .9,0 .9,.1 .9-.2 .9,.1 .9-.1 .9-.2 .9-.1 .9,.1 .9-.2 .9,.2 .9-.2 .9,0 .9,.2 .9-.6 .9-.1 .9-.2 .9-.2 .9,0 .9-.3 .9,.3 .9-.4 .9-.1 .9,.2 .9-.2 .9,.2 .9,.2 .9,.5 .9,.7 .9,.6 .9,.7 .9,.1 .9,.1 .9,0 .9,.6 .9,.5 .9-1.1 .9-4.6 .9-4.1 .9-1.1 .9-1.3 .9,1.3 .9,2.5 .9,1 .9,2.3 .9,4 .9,1.8 .9,.5 .9,.5 .9,1.3 .9,.3 .9-.2 .9,0 .9-.5 .9-.4 .9-.3 .9-.2 .9-.1 .9,.1 .9-.7 .9-.5 .9-.6 .9-.6 .9-.3 .9-.3 .9-.2 .9-.3 .9-.3 .9-.6 .9-1 .9-.1 .9-.4 .9,.2 .9,.1 .9,.2 .9,.5 .9-.2 .9,.3 .9,.5 .9-.3 .9-.2 .9,.1 .9,.1 .9-.2 .9-.1 .9,.5 .9-.4 .9-.2 .9-.1 .9-.1 .9,.1 .9-.1 .9,.2 .9,.1 .9,0 .9,.5 .9,.4 .9-.2 .9-.5 .9-.3 .9,.4 .9,.6 .9,.2 .9,.2 .9-.1 .9,.2 .9,.4 .9-.1 .9,.2 .9,.1 .9-.3 .9,.6 .9,.1 .9-.4 .9,0 .9-.3 .9,.1 .9-.2 .9,0 .9-.2 .9-.2 .9-.2 .9-.1 .9,.1 .9,.1 .9-.1 .9,0 .9-.4 .9-.3 .9,.3 .9,.2 .9-.1 .9,.1 .9-.2 .9,.2" fill="none" stroke="#050505" stroke-width="1.9" stroke-linejoin="round" />
<text x="388.7" y="568.4" font-size="15.3" font-weight="bold" text-anchor="start" fill="#0a0a0a" >K</text>
<path d="M422.3,566l0,149.8 96.7,0" fill="none" stroke="#2e2e2e" stroke-width="1.1" stroke-linejoin="round" />
<line x1="422.3" y1="715.7" x2="424.5" y2="715.7" stroke="#2e2e2e" stroke-width="1" />
<line x1="422.3" y1="690.8" x2="424.5" y2="690.8" stroke="#2e2e2e" stroke-width="1" />
<line x1="422.3" y1="665.9" x2="424.5" y2="665.9" stroke="#2e2e2e" stroke-width="1" />
<line x1="422.3" y1="640.9" x2="424.5" y2="640.9" stroke="#2e2e2e" stroke-width="1" />
<line x1="422.3" y1="616" x2="424.5" y2="616" stroke="#2e2e2e" stroke-width="1" />
<line x1="422.3" y1="591" x2="424.5" y2="591" stroke="#2e2e2e" stroke-width="1" />
<line x1="422.3" y1="566.1" x2="424.5" y2="566.1" stroke="#2e2e2e" stroke-width="1" />
<text x="418.4" y="718.6" font-size="10.8" font-weight="normal" text-anchor="end" fill="#0a0a0a" >-0.2</text>
<text x="418.4" y="694.7" font-size="10.8" font-weight="normal" text-anchor="end" fill="#0a0a0a" >0</text>
<text x="418.4" y="669.8" font-size="10.8" font-weight="normal" text-anchor="end" fill="#0a0a0a" >0.2</text>
<text x="418.4" y="644.8" font-size="10.8" font-weight="normal" text-anchor="end" fill="#0a0a0a" >0.4</text>
<text x="418.4" y="619.9" font-size="10.8" font-weight="normal" text-anchor="end" fill="#0a0a0a" >0.6</text>
<text x="418.4" y="594.9" font-size="10.8" font-weight="normal" text-anchor="end" fill="#0a0a0a" >0.8</text>
<text x="418.4" y="570" font-size="10.8" font-weight="normal" text-anchor="end" fill="#0a0a0a" >1</text>
<text transform="translate(399.2,644.5) rotate(-90)" font-size="10.8" text-anchor="middle" fill="#0a0a0a">Subthreshold correlation</text>
<line x1="454" y1="663.4" x2="492.1" y2="629.9" stroke="#f17e80" stroke-width="2.5" stroke-linecap="round"/>
<line x1="454" y1="665.9" x2="492.1" y2="649" stroke="#f17e80" stroke-width="2.5" stroke-linecap="round"/>
<line x1="454" y1="678.3" x2="492.1" y2="653.4" stroke="#f17e80" stroke-width="2.5" stroke-linecap="round"/>
<line x1="454" y1="662.1" x2="492.1" y2="675.8" stroke="#f17e80" stroke-width="2.5" stroke-linecap="round"/>
<line x1="454" y1="667.1" x2="492.1" y2="684.6" stroke="#f17e80" stroke-width="2.5" stroke-linecap="round"/>
<line x1="454" y1="669.6" x2="492.1" y2="658.4" stroke="#f17e80" stroke-width="2.5" stroke-linecap="round"/>
<line x1="454" y1="672.1" x2="492.1" y2="688.3" stroke="#f17e80" stroke-width="2.5" stroke-linecap="round"/>
<line x1="454" y1="674.6" x2="492.1" y2="663.4" stroke="#f17e80" stroke-width="2.5" stroke-linecap="round"/>
<line x1="454" y1="677.1" x2="492.1" y2="668.4" stroke="#f17e80" stroke-width="2.5" stroke-linecap="round"/>
<line x1="454" y1="679.6" x2="492.1" y2="673.3" stroke="#f17e80" stroke-width="2.5" stroke-linecap="round"/>
<line x1="454" y1="682.1" x2="492.1" y2="678.3" stroke="#f17e80" stroke-width="2.5" stroke-linecap="round"/>
<line x1="454" y1="684.6" x2="492.1" y2="683.3" stroke="#f17e80" stroke-width="2.5" stroke-linecap="round"/>
<line x1="454" y1="687.1" x2="492.1" y2="688.3" stroke="#f17e80" stroke-width="2.5" stroke-linecap="round"/>
<line x1="454" y1="689.6" x2="492.1" y2="693.3" stroke="#f17e80" stroke-width="2.5" stroke-linecap="round"/>
<line x1="454" y1="692" x2="492.1" y2="697.5" stroke="#f17e80" stroke-width="2.5" stroke-linecap="round"/>
<line x1="454" y1="693.3" x2="492.1" y2="665.9" stroke="#f17e80" stroke-width="2.5" stroke-linecap="round"/>
<line x1="454" y1="683.3" x2="492.1" y2="690.8" stroke="#f17e80" stroke-width="2.5" stroke-linecap="round"/>
<line x1="454" y1="675.8" x2="492.1" y2="680.8" stroke="#f17e80" stroke-width="2.5" stroke-linecap="round"/>
<line x1="454" y1="664.6" x2="492.1" y2="670.8" stroke="#f17e80" stroke-width="2.5" stroke-linecap="round"/>
<line x1="454" y1="670.8" x2="492.1" y2="694.5" stroke="#f17e80" stroke-width="2.5" stroke-linecap="round"/>
<line x1="454" y1="690.8" x2="492.1" y2="685.8" stroke="#f17e80" stroke-width="2.5" stroke-linecap="round"/>
<line x1="454" y1="685.8" x2="492.1" y2="655.9" stroke="#f17e80" stroke-width="2.5" stroke-linecap="round"/>
<circle cx="454" cy="663.4" r="5.2" fill="#f17e80"/>
<circle cx="454" cy="665.9" r="5.2" fill="#f17e80"/>
<circle cx="454" cy="678.3" r="5.2" fill="#f17e80"/>
<circle cx="454" cy="662.1" r="5.2" fill="#f17e80"/>
<circle cx="454" cy="667.1" r="5.2" fill="#f17e80"/>
<circle cx="454" cy="669.6" r="5.2" fill="#f17e80"/>
<circle cx="454" cy="672.1" r="5.2" fill="#f17e80"/>
<circle cx="454" cy="674.6" r="5.2" fill="#f17e80"/>
<circle cx="454" cy="677.1" r="5.2" fill="#f17e80"/>
<circle cx="454" cy="679.6" r="5.2" fill="#f17e80"/>
<circle cx="454" cy="682.1" r="5.2" fill="#f17e80"/>
<circle cx="454" cy="684.6" r="5.2" fill="#f17e80"/>
<circle cx="454" cy="687.1" r="5.2" fill="#f17e80"/>
<circle cx="454" cy="689.6" r="5.2" fill="#f17e80"/>
<circle cx="454" cy="692" r="5.2" fill="#f17e80"/>
<circle cx="454" cy="693.3" r="5.2" fill="#f17e80"/>
<circle cx="454" cy="683.3" r="5.2" fill="#f17e80"/>
<circle cx="454" cy="675.8" r="5.2" fill="#f17e80"/>
<circle cx="454" cy="664.6" r="5.2" fill="#f17e80"/>
<circle cx="454" cy="670.8" r="5.2" fill="#f17e80"/>
<circle cx="454" cy="690.8" r="5.2" fill="#f17e80"/>
<circle cx="454" cy="685.8" r="5.2" fill="#f17e80"/>
<circle cx="492.1" cy="629.9" r="5.2" fill="#f17e80"/>
<circle cx="492.1" cy="649" r="5.2" fill="#f17e80"/>
<circle cx="492.1" cy="653.4" r="5.2" fill="#f17e80"/>
<circle cx="492.1" cy="675.8" r="5.2" fill="#f17e80"/>
<circle cx="492.1" cy="684.6" r="5.2" fill="#f17e80"/>
<circle cx="492.1" cy="658.4" r="5.2" fill="#f17e80"/>
<circle cx="492.1" cy="688.3" r="5.2" fill="#f17e80"/>
<circle cx="492.1" cy="663.4" r="5.2" fill="#f17e80"/>
<circle cx="492.1" cy="668.4" r="5.2" fill="#f17e80"/>
<circle cx="492.1" cy="673.3" r="5.2" fill="#f17e80"/>
<circle cx="492.1" cy="678.3" r="5.2" fill="#f17e80"/>
<circle cx="492.1" cy="683.3" r="5.2" fill="#f17e80"/>
<circle cx="492.1" cy="688.3" r="5.2" fill="#f17e80"/>
<circle cx="492.1" cy="693.3" r="5.2" fill="#f17e80"/>
<circle cx="492.1" cy="697.5" r="5.2" fill="#f17e80"/>
<circle cx="492.1" cy="665.9" r="5.2" fill="#f17e80"/>
<circle cx="492.1" cy="690.8" r="5.2" fill="#f17e80"/>
<circle cx="492.1" cy="680.8" r="5.2" fill="#f17e80"/>
<circle cx="492.1" cy="670.8" r="5.2" fill="#f17e80"/>
<circle cx="492.1" cy="694.5" r="5.2" fill="#f17e80"/>
<circle cx="492.1" cy="685.8" r="5.2" fill="#f17e80"/>
<circle cx="492.1" cy="655.9" r="5.2" fill="#f17e80"/>
<line x1="444.5" y1="680.5" x2="463.5" y2="680.5" stroke="#141414" stroke-width="1.15" />
<line x1="482.6" y1="676.5" x2="501.6" y2="676.5" stroke="#141414" stroke-width="1.15" />
<text x="443" y="726.8" font-size="10.8" font-weight="normal" text-anchor="start" fill="#0a0a0a" >BOS</text>
<text x="473.7" y="726.8" font-size="10.8" font-weight="normal" text-anchor="start" fill="#0a0a0a" >BOS</text>
<text x="496.2" y="725.9" font-size="10" fill="#f26a36" font-weight="bold">+</text>
<text x="502.6" y="727.4" font-size="11.5" fill="#f26a36" font-weight="bold" class="fm" stroke="#f26a36" stroke-width="0.8">♀</text>
<text x="473.9" y="738.8" font-size="10.8" font-weight="normal" text-anchor="start" fill="#0a0a0a" >Call</text>
<text x="561.2" y="567.3" font-size="15.3" font-weight="bold" text-anchor="start" fill="#0a0a0a" >L</text>
<path d="M585.9,566.2l0,149.6 99.1,0" fill="none" stroke="#2e2e2e" stroke-width="1.1" stroke-linejoin="round" />
<line x1="585.9" y1="700.4" x2="588.1" y2="700.4" stroke="#2e2e2e" stroke-width="1" />
<line x1="585.9" y1="670.6" x2="588.1" y2="670.6" stroke="#2e2e2e" stroke-width="1" />
<line x1="585.9" y1="640.8" x2="588.1" y2="640.8" stroke="#2e2e2e" stroke-width="1" />
<line x1="585.9" y1="611" x2="588.1" y2="611" stroke="#2e2e2e" stroke-width="1" />
<line x1="585.9" y1="581.2" x2="588.1" y2="581.2" stroke="#2e2e2e" stroke-width="1" />
<line x1="585.9" y1="685.5" x2="587.5" y2="685.5" stroke="#2e2e2e" stroke-width="1" />
<line x1="585.9" y1="655.7" x2="587.5" y2="655.7" stroke="#2e2e2e" stroke-width="1" />
<line x1="585.9" y1="625.9" x2="587.5" y2="625.9" stroke="#2e2e2e" stroke-width="1" />
<line x1="585.9" y1="596.1" x2="587.5" y2="596.1" stroke="#2e2e2e" stroke-width="1" />
<line x1="585.9" y1="566.3" x2="587.5" y2="566.3" stroke="#2e2e2e" stroke-width="1" />
<text x="582.7" y="704.3" font-size="10.8" font-weight="normal" text-anchor="end" fill="#0a0a0a" >-8</text>
<text x="582.7" y="674.5" font-size="10.8" font-weight="normal" text-anchor="end" fill="#0a0a0a" >-4</text>
<text x="582.7" y="644.7" font-size="10.8" font-weight="normal" text-anchor="end" fill="#0a0a0a" >0</text>
<text x="582.7" y="614.9" font-size="10.8" font-weight="normal" text-anchor="end" fill="#0a0a0a" >4</text>
<text x="582.7" y="585.1" font-size="10.8" font-weight="normal" text-anchor="end" fill="#0a0a0a" >8</text>
<text transform="translate(564.8,638.8) rotate(-90)" font-size="10.8" text-anchor="middle" fill="#0a0a0a">Δ Subthreshold (mV)</text>
<line x1="586.2" y1="640.8" x2="683" y2="640.8" stroke="#4a4a4a" stroke-width="1.3" stroke-dasharray="10.5 10.96"/>
<circle cx="623.8" cy="570" r="5.3" fill="#f17e80"/>
<circle cx="636.1" cy="592" r="5.3" fill="#f17e80"/>
<circle cx="628.1" cy="620.2" r="5.3" fill="#f17e80"/>
<circle cx="644.4" cy="628.2" r="5.3" fill="#f17e80"/>
<circle cx="658.2" cy="630.3" r="5.3" fill="#f17e80"/>
<circle cx="623" cy="640" r="5.3" fill="#f17e80"/>
<circle cx="646.2" cy="639.3" r="5.3" fill="#f17e80"/>
<circle cx="639.9" cy="650.1" r="5.3" fill="#f17e80"/>
<circle cx="653.7" cy="653.4" r="5.3" fill="#f17e80"/>
<circle cx="668" cy="652.1" r="5.3" fill="#f17e80"/>
<circle cx="618" cy="658.4" r="5.3" fill="#f17e80"/>
<circle cx="630.3" cy="658.9" r="5.3" fill="#f17e80"/>
<circle cx="637.4" cy="668.3" r="5.3" fill="#f17e80"/>
<circle cx="614.8" cy="675.6" r="5.3" fill="#f17e80"/>
<circle cx="625.3" cy="686.4" r="5.3" fill="#f17e80"/>
</svg></body></html>
